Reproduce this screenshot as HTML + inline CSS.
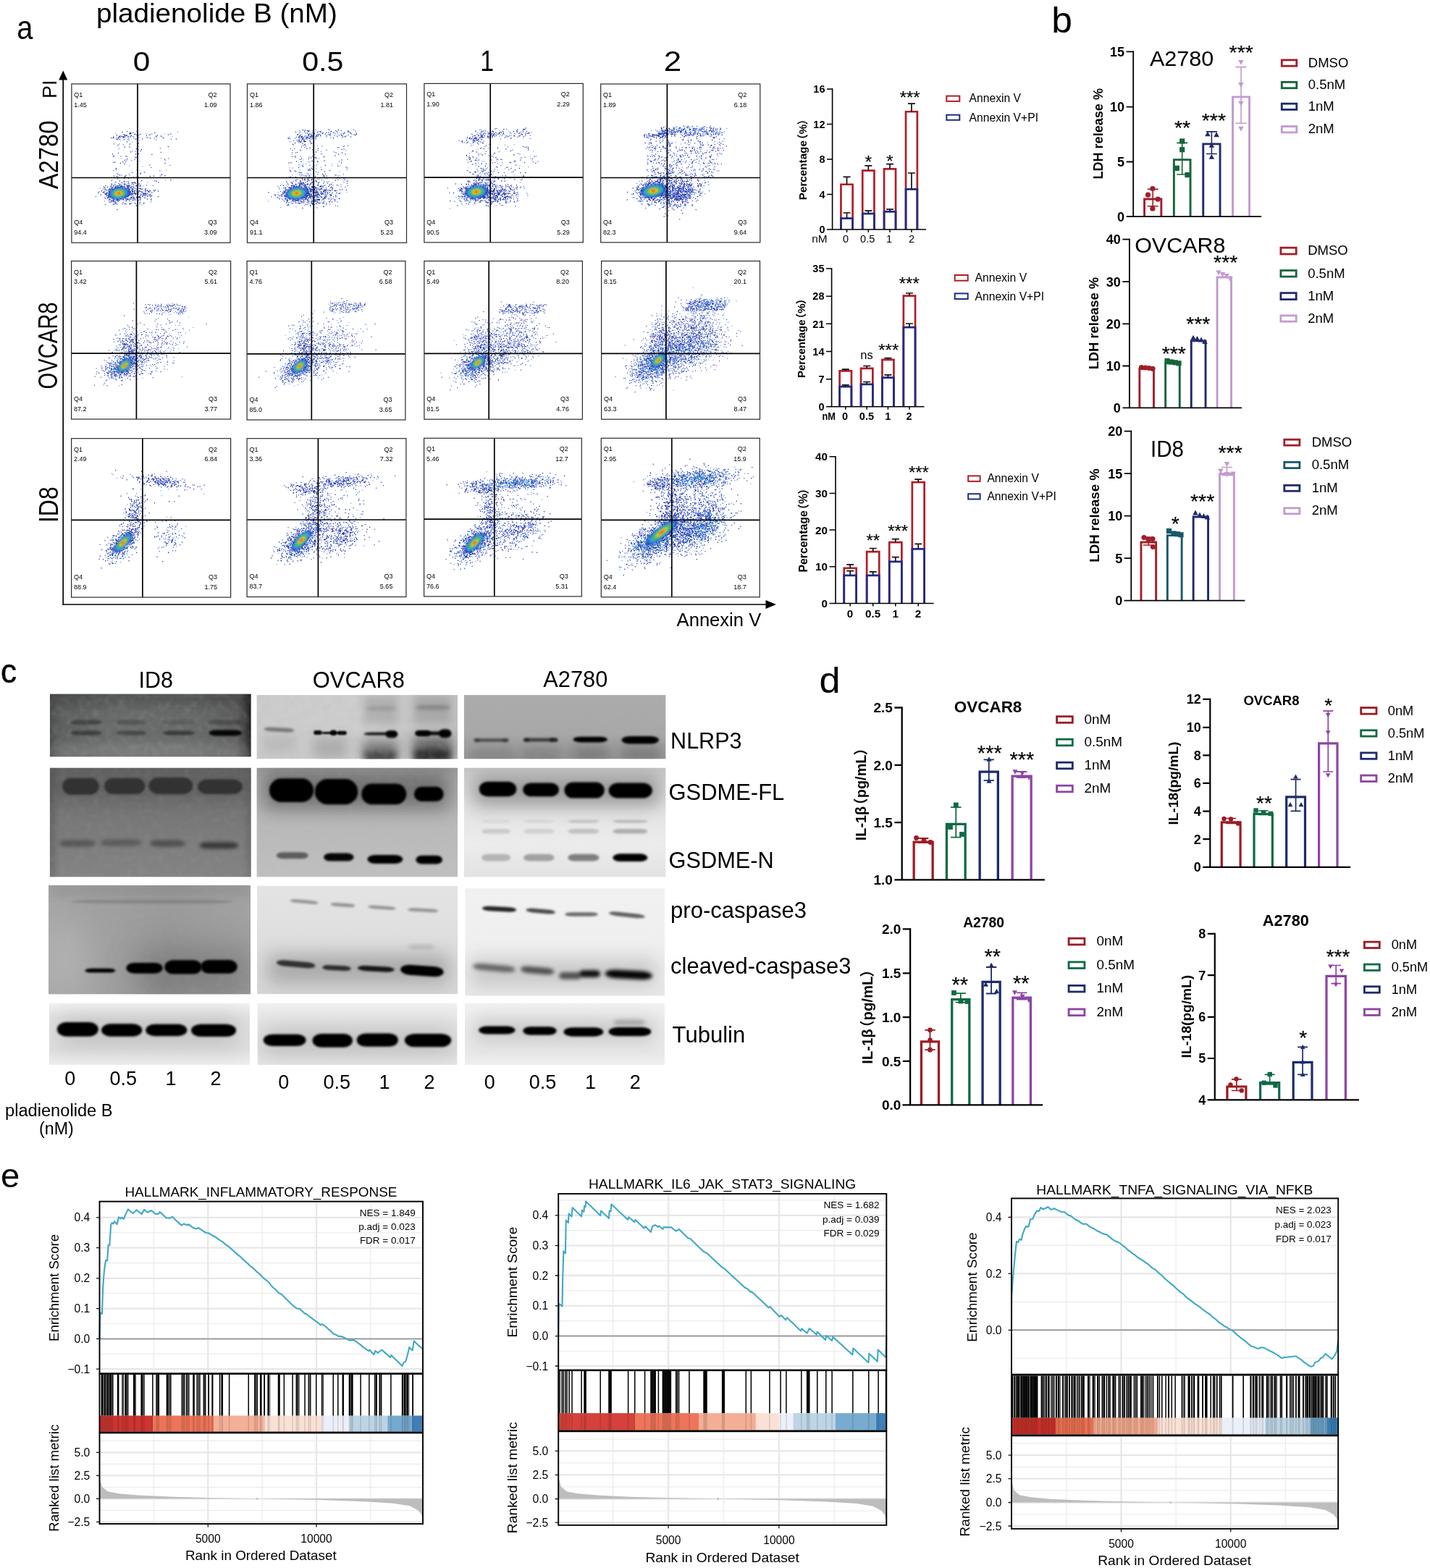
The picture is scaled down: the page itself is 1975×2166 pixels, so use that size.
<!DOCTYPE html>
<html lang="en"><head><meta charset="utf-8"><title>Figure</title>
<style>
html,body{margin:0;padding:0;background:#fff}
body{width:1975px;height:2166px;overflow:hidden}
svg{display:block}
text{font-family:"Liberation Sans","Noto Sans CJK SC",sans-serif;fill:#000}
</style></head><body>
<svg width="1975" height="2166" viewBox="0 0 1975 2166">
<defs>
<clipPath id="fc"><rect x="0" y="0" width="221" height="220"/></clipPath>
<filter id="fb" x="-30%" y="-30%" width="160%" height="160%"><feGaussianBlur stdDeviation="0.9"/></filter>
<filter id="b1" x="-50%" y="-100%" width="200%" height="300%"><feGaussianBlur stdDeviation="0.9"/></filter>
<filter id="b2" x="-50%" y="-100%" width="200%" height="300%"><feGaussianBlur stdDeviation="1.6"/></filter>
<filter id="b3" x="-50%" y="-100%" width="200%" height="300%"><feGaussianBlur stdDeviation="2.6"/></filter>
<filter id="b4" x="-50%" y="-100%" width="200%" height="300%"><feGaussianBlur stdDeviation="4"/></filter>
<filter id="b5" x="-50%" y="-100%" width="200%" height="300%"><feGaussianBlur stdDeviation="6"/></filter>
<filter id="b6" x="-50%" y="-100%" width="200%" height="300%"><feGaussianBlur stdDeviation="8"/></filter>
<filter id="b8" x="-50%" y="-100%" width="200%" height="300%"><feGaussianBlur stdDeviation="12"/></filter>
<filter id="b9" x="-50%" y="-100%" width="200%" height="300%"><feGaussianBlur stdDeviation="14"/></filter>
<filter id="b10" x="-50%" y="-100%" width="200%" height="300%"><feGaussianBlur stdDeviation="16"/></filter>
<filter id="b12" x="-50%" y="-100%" width="200%" height="300%"><feGaussianBlur stdDeviation="22"/></filter>
<filter id="nz" x="0" y="0" width="100%" height="100%"><feTurbulence type="fractalNoise" baseFrequency="0.11" numOctaves="3" seed="7" result="t"/><feColorMatrix type="matrix" values="0 0 0 0 0.45  0 0 0 0 0.45  0 0 0 0 0.45  2.2 0 0 0 -0.95"/><feGaussianBlur stdDeviation="1.2"/></filter>
<linearGradient id="g1" x1="0" y1="0" x2="1" y2="0"><stop offset="0" stop-color="#4c4c4c"/><stop offset="0.06" stop-color="#5e6060"/><stop offset="0.35" stop-color="#6a6c6c"/><stop offset="0.7" stop-color="#686a6a"/><stop offset="0.93" stop-color="#5e5e5e"/><stop offset="0.97" stop-color="#424242"/><stop offset="1" stop-color="#1e1e1e"/></linearGradient>
<clipPath id="c11"><rect x="68.8" y="958.5" width="278" height="87.1"/></clipPath>
<linearGradient id="g2" x1="0" y1="0" x2="0" y2="1"><stop offset="0" stop-color="#646464"/><stop offset="0.12" stop-color="#6c6c6c"/><stop offset="0.5" stop-color="#787878"/><stop offset="1" stop-color="#848484"/></linearGradient>
<clipPath id="c12"><rect x="68.8" y="1060.5" width="278" height="151.1"/></clipPath>
<linearGradient id="g3" x1="0" y1="0" x2="1" y2="0"><stop offset="0" stop-color="#a6a6a6"/><stop offset="0.3" stop-color="#a0a0a0"/><stop offset="0.6" stop-color="#9a9a9a"/><stop offset="1" stop-color="#a2a2a2"/></linearGradient>
<clipPath id="c13"><rect x="67" y="1222.7" width="279" height="150.9"/></clipPath>
<linearGradient id="g4" x1="0" y1="0" x2="0" y2="1"><stop offset="0" stop-color="#f2f2f2"/><stop offset="0.25" stop-color="#e2e2e2"/><stop offset="0.75" stop-color="#e0e0e0"/><stop offset="1" stop-color="#eeeeee"/></linearGradient>
<clipPath id="c14"><rect x="68" y="1385.5" width="277" height="85.5"/></clipPath>
<linearGradient id="g5" x1="0" y1="0" x2="1" y2="0"><stop offset="0" stop-color="#cccccc"/><stop offset="0.5" stop-color="#cecece"/><stop offset="1" stop-color="#c2c2c2"/></linearGradient>
<clipPath id="c21"><rect x="354.4" y="960.1" width="277.6" height="88.3"/></clipPath>
<linearGradient id="g6" x1="0" y1="0" x2="0" y2="1"><stop offset="0" stop-color="#9a9a9a"/><stop offset="0.1" stop-color="#a8a8a8"/><stop offset="0.45" stop-color="#b8b8b8"/><stop offset="1" stop-color="#c0c0c0"/></linearGradient>
<clipPath id="c22"><rect x="354.4" y="1060.5" width="277.6" height="151.1"/></clipPath>
<linearGradient id="g7" x1="0" y1="0" x2="0" y2="1"><stop offset="0" stop-color="#e4e4e4"/><stop offset="0.5" stop-color="#dedede"/><stop offset="1" stop-color="#d6d6d6"/></linearGradient>
<clipPath id="c23"><rect x="355" y="1223.4" width="277" height="149.9"/></clipPath>
<linearGradient id="g8" x1="0" y1="0" x2="0" y2="1"><stop offset="0" stop-color="#f0f0f0"/><stop offset="0.3" stop-color="#e4e4e4"/><stop offset="0.8" stop-color="#dedede"/><stop offset="1" stop-color="#e6e6e6"/></linearGradient>
<clipPath id="c24"><rect x="355.5" y="1385.5" width="276" height="85.7"/></clipPath>
<linearGradient id="g9" x1="0" y1="0" x2="0" y2="1"><stop offset="0" stop-color="#acacac"/><stop offset="0.6" stop-color="#a8a8a8"/><stop offset="1" stop-color="#989898"/></linearGradient>
<clipPath id="c31"><rect x="640.7" y="960.1" width="278.9" height="88.3"/></clipPath>
<linearGradient id="g10" x1="0" y1="0" x2="0" y2="1"><stop offset="0" stop-color="#c6c6c6"/><stop offset="0.12" stop-color="#d2d2d2"/><stop offset="0.4" stop-color="#e4e4e4"/><stop offset="0.7" stop-color="#ececec"/><stop offset="1" stop-color="#e2e2e2"/></linearGradient>
<clipPath id="c32"><rect x="640.7" y="1060.5" width="278.9" height="151.1"/></clipPath>
<linearGradient id="g11" x1="0" y1="0" x2="0" y2="1"><stop offset="0" stop-color="#f1f1f1"/><stop offset="0.5" stop-color="#efefef"/><stop offset="1" stop-color="#e8e8e8"/></linearGradient>
<clipPath id="c33"><rect x="642.2" y="1227.1" width="275.9" height="148.6"/></clipPath>
<linearGradient id="g12" x1="0" y1="0" x2="0" y2="1"><stop offset="0" stop-color="#f2f2f2"/><stop offset="0.3" stop-color="#ececec"/><stop offset="0.8" stop-color="#e8e8e8"/><stop offset="1" stop-color="#efefef"/></linearGradient>
<clipPath id="c34"><rect x="642" y="1385.5" width="276" height="85.7"/></clipPath>
</defs>
<rect width="1975" height="2166" fill="#fff"/>
<text transform="translate(23.21 53.94) scale(0.8586 1)" font-size="46.36">a</text>
<text transform="translate(1452.15 44.8) scale(1.0353 1)" font-size="49.8">b</text>
<text transform="translate(1.03 942.73) scale(0.9409 1)" font-size="46.91" stroke="#000" stroke-width="0.5">c</text>
<text transform="translate(1131.41 957.2) scale(1.0430 1)" font-size="50.07">d</text>
<text transform="translate(0.91 1640.43) scale(1.0108 1)" font-size="46.73">e</text>
<text transform="translate(132.99 31.34) scale(1.0596 1)" font-size="36.47">pladienolide B (nM)</text>
<text transform="translate(183.71 97.93) scale(1.1549 1)" font-size="36.62">0</text>
<text transform="translate(417.15 97.93) scale(1.1236 1)" font-size="36.62">0.5</text>
<text transform="translate(663.27 98) scale(0.8479 1)" font-size="39.86">1</text>
<text transform="translate(916.8 98) scale(1.1189 1)" font-size="39.29">2</text>
<path d="M87.2 835.8V108" stroke="#000" stroke-width="1.7" fill="none"/>
<path d="M87.2 97.5l6 13h-12z" fill="#000"/>
<path d="M86.4 835H1060" stroke="#000" stroke-width="1.7" fill="none"/>
<path d="M1072 835l-14.5 -6v12z" fill="#000"/>
<text font-size="27" text-anchor="middle" transform="translate(78.2 123.2) rotate(-90)">PI</text>
<text font-size="36" text-anchor="middle" textLength="94.7" lengthAdjust="spacingAndGlyphs" transform="translate(79.5 213.9) rotate(-90)">A2780</text>
<text font-size="36" text-anchor="middle" textLength="120.1" lengthAdjust="spacingAndGlyphs" transform="translate(78.5 477.5) rotate(-90)">OVCAR8</text>
<text font-size="36" text-anchor="middle" textLength="49.7" lengthAdjust="spacingAndGlyphs" transform="translate(79.5 697.2) rotate(-90)">ID8</text>
<text x="934.6" y="865.3" font-size="25" textLength="116.6" lengthAdjust="spacingAndGlyphs">Annexin V</text>
<g transform="translate(98.9 115.9)">
<rect x="0" y="0" width="219.1" height="219.4" fill="#fff"/>
<g clip-path="url(#fc)">
<path d="m89.5 66h0m57 .5h0m-85.5 2h0m30 0h0m11 0h0m-22 .5h0m48 0h0m-55.5 .5h0m-.5 .5h0m.5 0h0m34.5 .5h0m-39.5 1h0m-1 .5h0m50 0h0m-35.5 .5h0m43 0h0m15 0h0m-61.5 .5h0m-5 .5h0m30.5 0h0m22.5 .5h0m-50.5 .5h0m-16 .5h0m8 .5h0m10.5 1h0m10.5 0h0m5 1h0m-25.5 .5h0m16 2.5h0m9.5 5.5h0m-27.5 2.5h0m-.5 2h0m27.5 .5h0m-5 9h0m0 2h0m-18.5 1h0m54.5 0h0m-36 1h0m-12.5 .5h0m12 .5h0m42.5 .5h0m-35.5 1.5h0m-14 6.5h0m18 .5h0m-8 4.5h0m41 .5h0m-48 3h0m-20.5 1.5h0m16.5 .5h0m6.5 4h0m4.5 0h0m-31.5 1h0m5 2h0m28 2h0m38 .5h0m-24.5 2.5h0m-34.5 .5h0m-11.5 .5h0m34 1h0m-13 1.5h0m-14.5 .5h0m11.5 1h0m22.5 0h0m-30.5 .5h0m11 0h0m2.5 .5h0m-25.5 .5h0m3.5 0h0m1 .5h0m5 0h0m24 0h0m-28 .5h0m11.5 0h0m-34.5 .5h0m15 0h0m2.5 0h0m26 0h0m-23 .5h0m14 0h0m15.5 .5h0m-31 .5h0m0 .5h0m26 0h0m.5 1h0m-7 .5h0m11 0h0m-11.5 .5h0m8.5 0h0m12.5 0h0m-18 .5h0m0 .5h0m16.5 0h0m-18.5 1h0m-26 .5h0m25.5 0h0m21 .5h0m3 0h0m-19.5 .5h0m13 0h0m3 0h0m-15.5 .5h0m1 0h0m6.5 .5h0m16 0h0m-7 .5h0m9.5 0h0m-29 .5h0m5 0h0m3 0h0m-8.5 .5h0m24.5 .5h0m2 0h0m-53.5 .5h0m2 .5h0m-3 .5h0m40.5 0h0m9.5 0h0m-56 .5h0m45.5 0h0m4 0h0m-44 .5h0m20 0h0m19 0h0m-16 .5h0m12.5 0h0m-1 .5h0m-7 .5h0m-16 1h0m2.5 0h0m4 0h0m2.5 0h0m-12.5 .5h0m19.5 0h0m13 0h0m-35.5 .5h0m7.5 0h0m3 0h0m13 0h0m-20.5 .5h0m13.5 0h0m15.5 0h0m-42.5 1h0m35 1h0m-23 1.5h0m6 0h0m37 0h0m-25.5 1.5h0m6.5 0h0m-11 .5h0m26.5 .5h0" stroke="#6f8fe6" stroke-width="1.35" stroke-linecap="round" fill="none"/>
<path d="m76.5 65.5h0m8.5 2h0m-3.5 .5h0m1 0h0m-2 .5h0m30.5 .5h0m-24 .5h0m8.5 0h0m-23 .5h0m21.5 0h0m-4 .5h0m-14.5 .5h0m17 0h0m-16.5 .5h0m6 0h0m-8.5 .5h0m-4 .5h0m9 0h0m12 0h0m26.5 0h0m-39 .5h0m-11 .5h0m14 0h0m36 0h0m-25.5 .5h0m1 0h0m-30.5 .5h0m9.5 0h0m7.5 .5h0m7 0h0m28.5 0h0m-50.5 1h0m2 .5h0m71.5 0h0m-74.5 .5h0m54 0h0m-38 .5h0m-20.5 5.5h0m7.5 0h0m5.5 1h0m51 5h0m-38.5 4h0m4 0h0m35.5 1.5h0m-59 1h0m3.5 4.5h0m8.5 0h0m-19 .5h0m76.5 2.5h0m-60.5 2.5h0m2.5 .5h0m7 0h0m-8.5 2h0m61.5 4.5h0m-26 3h0m-52 4h0m64 .5h0m-38 2.5h0m40.5 2.5h0m-55.5 1h0m11 0h0m-21.5 1h0m64 0h0m-30.5 1.5h0m-28 .5h0m29 .5h0m-20 1h0m5.5 0h0m-15 .5h0m51.5 2.5h0m2.5 .5h0m-41.5 1h0m2.5 0h0m38 0h0m-31 1.5h0m2.5 0h0m4 0h0m-19 1h0m5 0h0m5 1h0m10.5 0h0m-33 .5h0m14 0h0m.5 0h0m-19.5 .5h0m11 0h0m37 .5h0m-36.5 .5h0m2.5 0h0m9 0h0m2 0h0m32 0h0m-52 .5h0m12.5 0h0m16 0h0m5.5 0h0m-21.5 .5h0m4 0h0m-5.5 .5h0m7 0h0m12.5 0h0m-26.5 .5h0m1 0h0m12 0h0m-10.5 .5h0m6.5 0h0m11.5 0h0m-39 .5h0m15.5 0h0m3 0h0m14 0h0m2.5 0h0m10 .5h0m-14 .5h0m.5 0h0m10.5 0h0m5 0h0m-49.5 .5h0m12.5 0h0m18 0h0m6.5 .5h0m15.5 0h0m-42 .5h0m3 0h0m22 0h0m22.5 0h0m-55.5 .5h0m5.5 0h0m28.5 0h0m-29.5 .5h0m3 .5h0m33 .5h0m22.5 0h0m-56.5 .5h0m.5 0h0m25.5 0h0m.5 0h0m1 0h0m4 0h0m9.5 0h0m.5 0h0m20.5 0h0m-76.5 .5h0m42.5 0h0m6 0h0m3.5 0h0m-38 .5h0m32 0h0m23 0h0m-23 .5h0m13.5 0h0m-10 .5h0m-35 .5h0m27 0h0m1.5 0h0m5 0h0m-40 .5h0m6 0h0m29 0h0m3.5 0h0m.5 0h0m15.5 0h0m2.5 0h0m-49.5 .5h0m29 0h0m1.5 0h0m6.5 0h0m8.5 0h0m1 0h0m-53.5 .5h0m33.5 0h0m8 0h0m4 0h0m11 0h0m5.5 0h0m-31.5 .5h0m4 0h0m10.5 0h0m5 0h0m.5 0h0m7 0h0m-27 .5h0m1.5 0h0m16.5 0h0m-10.5 .5h0m6.5 0h0m4.5 0h0m3.5 0h0m10.5 0h0m1.5 0h0m-61 .5h0m51.5 0h0m-49 .5h0m22.5 0h0m2.5 0h0m20.5 0h0m7 0h0m4.5 0h0m-76 .5h0m17.5 0h0m43 0h0m11 0h0m-53 .5h0m24.5 0h0m1.5 0h0m31.5 0h0m-58.5 .5h0m2.5 0h0m40 0h0m-38 .5h0m18 0h0m12 0h0m8.5 0h0m-25 1h0m17.5 0h0m-16 1h0m18 0h0m-35 .5h0m10.5 0h0m11 0h0m6.5 0h0m10 0h0m-28 .5h0m13 0h0m18.5 0h0m-36.5 .5h0m6 0h0m1 0h0m44.5 0h0m-44.5 .5h0m14.5 0h0m4 0h0m8.5 0h0m-17.5 .5h0m-14.5 .5h0m3.5 0h0m.5 .5h0m-5.5 .5h0m50.5 0h0m-38 .5h0m23 0h0m-11.5 1h0m4.5 0h0m-17.5 .5h0m5 .5h0m13.5 0h0m-42 1h0m13 0h0m3.5 0h0" stroke="#3450c8" stroke-width="1.4" stroke-linecap="round" fill="none"/>
<path d="m70 66.5h0m10.5 1h0m34.5 0h0m-33.5 1h0m-1 .5h0m56.5 0h0m-49 .5h0m3 .5h0m17.5 0h0m25 0h0m-59.5 .5h0m-11.5 .5h0m11.5 0h0m2.5 0h0m27 0h0m15 0h0m-36 .5h0m-8.5 .5h0m49.5 0h0m-54 .5h0m2.5 0h0m13 0h0m-27 .5h0m8 0h0m1 0h0m4 0h0m-6 .5h0m7.5 .5h0m32.5 0h0m-50 .5h0m2.5 0h0m69.5 0h0m-62.5 .5h0m44 0h0m-19.5 1h0m9 0h0m46.5 0h0m-82.5 .5h0m10.5 .5h0m4 3h0m16 2h0m-12 1h0m-16.5 1.5h0m69.5 2h0m-60 .5h0m6.5 0h0m9.5 2.5h0m7 1h0m-1 2h0m-14 1.5h0m11 2.5h0m-36 .5h0m32 0h0m22.5 .5h0m-52.5 1.5h0m16.5 1h0m14 1.5h0m-12 2h0m51.5 .5h0m-57.5 3.5h0m-11 .5h0m-2 .5h0m9.5 1h0m61.5 0h0m-56 1h0m35 1.5h0m-46.5 4.5h0m0 1.5h0m39 4h0m-5 1.5h0m-.5 .5h0m-31 .5h0m60.5 1h0m-58 .5h0m8.5 .5h0m54 0h0m-15.5 .5h0m-51 .5h0m46 0h0m-35 .5h0m.5 0h0m-1.5 1.5h0m0 .5h0m64.5 2.5h0m-81.5 1h0m41.5 0h0m-30.5 .5h0m6 .5h0m.5 .5h0m-12 .5h0m22.5 .5h0m3.5 0h0m33 0h0m-51 .5h0m10 .5h0m5.5 0h0m3.5 0h0m-23 .5h0m-9.5 .5h0m11.5 .5h0m5.5 0h0m.5 .5h0m12.5 0h0m-27 .5h0m10.5 .5h0m8 0h0m1.5 0h0m13.5 0h0m3.5 0h0m-48.5 .5h0m17.5 0h0m24.5 0h0m.5 0h0m-35 .5h0m3 0h0m5 0h0m.5 0h0m13.5 0h0m3 0h0m-9.5 .5h0m15 0h0m9.5 0h0m-50 .5h0m9.5 0h0m6.5 0h0m7 0h0m1 0h0m-19 .5h0m11 0h0m.5 0h0m3 0h0m.5 0h0m2.5 0h0m3.5 0h0m6.5 0h0m2 0h0m3 0h0m.5 0h0m-21 .5h0m2.5 0h0m3 0h0m2 0h0m-23.5 .5h0m10 0h0m.5 0h0m30 0h0m-26 .5h0m1 0h0m2.5 0h0m15.5 0h0m15.5 0h0m-41.5 .5h0m7.5 0h0m15.5 0h0m7.5 0h0m-5.5 .5h0m17.5 0h0m2 0h0m4.5 0h0m.5 0h0m-56 .5h0m5.5 0h0m3.5 0h0m29.5 0h0m-31.5 .5h0m26 0h0m4 0h0m-35 .5h0m8 0h0m.5 0h0m23 0h0m10.5 0h0m25 0h0m-11 .5h0m9 0h0m-72 .5h0m37.5 0h0m4.5 0h0m4 0h0m6 0h0m9 0h0m5.5 0h0m-56.5 .5h0m27.5 0h0m4.5 0h0m18 0h0m4 0h0m14 0h0m-38 .5h0m3 0h0m11 0h0m11 0h0m-60.5 .5h0m35.5 0h0m-38 .5h0m1 0h0m34.5 0h0m18.5 0h0m-16.5 .5h0m6 0h0m5.5 0h0m18.5 0h0m-74 .5h0m12.5 0h0m2.5 0h0m27.5 0h0m11 0h0m11.5 0h0m-54 .5h0m34.5 0h0m4.5 0h0m12.5 0h0m5.5 0h0m-27 .5h0m10 0h0m.5 0h0m12.5 0h0m-54 .5h0m1.5 0h0m32 0h0m.5 0h0m3 0h0m5 0h0m2 0h0m-43 .5h0m.5 0h0m3.5 0h0m-11.5 .5h0m12.5 0h0m27.5 0h0m19 0h0m2 0h0m-22 .5h0m3 0h0m19 0h0m-51 .5h0m28 0h0m29 0h0m-59.5 .5h0m6 0h0m21.5 0h0m2.5 .5h0m-26.5 .5h0m22.5 0h0m.5 0h0m19 0h0m4.5 0h0m21.5 0h0m-44 .5h0m8.5 0h0m2 0h0m8.5 0h0m-12 .5h0m7 0h0m3 0h0m-43 .5h0m.5 0h0m23 0h0m21.5 0h0m-37.5 .5h0m24.5 0h0m19.5 0h0m-54.5 .5h0m11.5 0h0m16.5 0h0m8.5 0h0m.5 0h0m2.5 0h0m9 0h0m-32 .5h0m4.5 0h0m9 0h0m14.5 0h0m-39 .5h0m10 0h0m14.5 0h0m3.5 0h0m24.5 0h0m5.5 0h0m-46.5 .5h0m8 0h0m6 0h0m-20 .5h0m6 0h0m21.5 0h0m2 0h0m7.5 0h0m-42.5 .5h0m10.5 .5h0m-8 .5h0m2.5 0h0m18.5 0h0m-20 .5h0m2 0h0m1 .5h0m-6.5 .5h0m2 .5h0m7 .5h0m-1 .5h0m1.5 .5h0m32.5 0h0m5.5 0h0m-26 .5h0m6.5 0h0m1 0h0m-23.5 1h0m32 1.5h0m-26.5 5.5h0" stroke="#1a2a9e" stroke-width="1.45" stroke-linecap="round" fill="none"/>
<path d="m78.5 134.5h0m-22.5 7.5h0m22 1.5h0m-19 1h0m23 .5h0m-3.5 2.5h0m13.5 1h0m-43.5 .5h0m-.5 2h0m33 0h0m-10 7h0m-22 .5h0m20.5 0h0m-11 1h0m3.5 0h0" stroke="#3aa6dc" stroke-width="1.4" stroke-linecap="round" fill="none"/>
<g transform="translate(65.3 151.1) rotate(-8)" filter="url(#fb)">
<ellipse rx="15" ry="9" fill="#2236b4" opacity="0.8"/>
<ellipse rx="12.6" ry="7.56" fill="#2a6fd6" opacity="1"/>
<ellipse rx="10.8" ry="6.48" fill="#2fb3d8" opacity="1"/>
<ellipse rx="9" ry="5.4" fill="#3fb45a" opacity="1"/>
<ellipse rx="6.3" ry="3.78" fill="#9fce3a" opacity="1"/>
<ellipse rx="4.5" ry="2.7" fill="#f0c020" opacity="1"/>
<ellipse rx="3" ry="1.8" fill="#f07a1c" opacity="1"/>
<ellipse rx="1.8" ry="1.08" fill="#e5301c" opacity="1"/>
</g>
</g>
<line x1="91.1" y1="0" x2="91.1" y2="219.4" stroke="#000" stroke-width="1.7"/>
<line x1="0" y1="129.6" x2="219.1" y2="129.6" stroke="#000" stroke-width="1.7"/>
<rect x="0" y="0" width="219.1" height="219.4" fill="none" stroke="#2a2a2a" stroke-width="1.2"/>
<g font-size="9.0" fill="#222">
<text x="3.4" y="18">Q1</text><text x="3.4" y="31.8">1.45</text>
<text x="200.6" y="18" text-anchor="end">Q2</text><text x="200.6" y="31.8" text-anchor="end">1.09</text>
<text x="3.4" y="194.2">Q4</text><text x="3.4" y="208.2">94.4</text>
<text x="200.6" y="194.2" text-anchor="end">Q3</text><text x="200.6" y="208.2" text-anchor="end">3.09</text>
</g>
</g>
<g transform="translate(341.5 115.9)">
<rect x="0" y="0" width="220" height="219.4" fill="#fff"/>
<g clip-path="url(#fc)">
<path d="m90 65h0m-16 1.5h0m28 0h0m-5 .5h0m21.5 0h0m-13.5 .5h0m29.5 0h0m-1.5 .5h0m-49.5 .5h0m47 0h0m-59 .5h0m4.5 0h0m22.5 .5h0m46 .5h0m-20 .5h0m-40 .5h0m14 0h0m-18 .5h0m7.5 0h0m-8 .5h0m1.5 0h0m-2.5 .5h0m15 0h0m-18 1h0m2.5 0h0m5.5 0h0m-6 .5h0m3 0h0m3 .5h0m2 .5h0m-12.5 1h0m6.5 0h0m7 0h0m-8 .5h0m4 0h0m-5.5 2.5h0m13.5 3h0m-11 1.5h0m17 1.5h0m-22 .5h0m6.5 1.5h0m44.5 .5h0m1 .5h0m9 4h0m-34 1.5h0m-40 4h0m31 0h0m-3.5 2.5h0m5.5 1h0m10 0h0m-6 2h0m-14.5 .5h0m-12.5 .5h0m5.5 1h0m7 2.5h0m1.5 .5h0m31.5 2h0m-40 .5h0m4 0h0m43.5 .5h0m-49 1h0m41 1h0m-44.5 .5h0m56 0h0m-38.5 .5h0m11.5 1h0m-43 1h0m4.5 0h0m32 1h0m-22.5 1.5h0m-5 2h0m60 .5h0m-43 3h0m3.5 1h0m-4.5 .5h0m-21 .5h0m13.5 0h0m45 0h0m-43 .5h0m47.5 0h0m2 0h0m-48.5 .5h0m26 .5h0m-47 1h0m63 .5h0m-55.5 .5h0m25.5 1.5h0m6 0h0m-28 .5h0m66.5 1h0m-3.5 .5h0m2.5 0h0m4.5 0h0m-45.5 .5h0m-21.5 .5h0m2 0h0m-14.5 1.5h0m-5 .5h0m17.5 .5h0m4.5 0h0m41.5 0h0m-51.5 1h0m-18.5 1h0m34.5 0h0m-19.5 .5h0m5 0h0m.5 0h0m13.5 0h0m31.5 0h0m-56.5 .5h0m15 0h0m15 0h0m20.5 0h0m-53.5 .5h0m20 .5h0m39.5 0h0m-27 .5h0m-5.5 .5h0m-25.5 .5h0m5.5 0h0m11.5 0h0m11 0h0m5.5 0h0m-29 1h0m1.5 0h0m8.5 0h0m6.5 0h0m18 0h0m-30.5 .5h0m7.5 0h0m23.5 0h0m-31 1h0m22 0h0m1.5 0h0m-9 .5h0m.5 0h0m38 0h0m-72.5 .5h0m13 0h0m20.5 0h0m-21.5 .5h0m23 0h0m5.5 0h0m19.5 0h0m4.5 0h0m-56.5 .5h0m61 0h0m-1.5 .5h0m-30 .5h0m12.5 0h0m2 0h0m4 0h0m5.5 0h0m-13 .5h0m3.5 0h0m28 0h0m-75 .5h0m44 0h0m2 0h0m13.5 0h0m-11.5 .5h0m-5.5 .5h0m45.5 0h0m-94.5 .5h0m54 .5h0m4.5 .5h0m2.5 0h0m.5 0h0m13 0h0m-67.5 .5h0m42.5 0h0m9.5 0h0m-21 .5h0m14 0h0m21 0h0m-36 .5h0m22.5 0h0m.5 0h0m.5 0h0m2 0h0m-25 .5h0m41.5 0h0m-74.5 .5h0m5 0h0m-4 .5h0m37.5 0h0m7.5 0h0m.5 0h0m16 .5h0m13.5 0h0m-30.5 .5h0m15 0h0m.5 0h0m-18 .5h0m-48 .5h0m10 0h0m24 0h0m4 0h0m-26 .5h0m39.5 0h0m-53 .5h0m16.5 0h0m33.5 0h0m-46 .5h0m12 0h0m19 0h0m51 0h0m-66 .5h0m35.5 0h0m-37 1h0m4.5 .5h0m15 0h0m9.5 .5h0m6.5 0h0m-11 .5h0m-12.5 .5h0m6.5 0h0m5.5 0h0m-15.5 .5h0m22 0h0m2 0h0m-63 .5h0m27 0h0m65.5 .5h0m-55 .5h0m4.5 0h0m26.5 0h0m-40 .5h0m45 .5h0m-38.5 .5h0m36.5 0h0m-16 .5h0m-.5 .5h0m2.5 0h0m-7.5 2.5h0m12 0h0m-23.5 2h0m-21.5 .5h0" stroke="#6f8fe6" stroke-width="1.35" stroke-linecap="round" fill="none"/>
<path d="m112 63h0m-17.5 .5h0m19 0h0m33.5 0h0m-68.5 .5h0m43.5 .5h0m8 0h0m9 0h0m-66.5 .5h0m11 0h0m66 0h0m-25.5 .5h0m-26 .5h0m3 0h0m14.5 0h0m23.5 0h0m-42 .5h0m4.5 0h0m40 0h0m-69.5 .5h0m17.5 .5h0m3 0h0m11.5 0h0m20.5 0h0m18 0h0m-61.5 .5h0m2 0h0m20.5 .5h0m-10.5 .5h0m28.5 0h0m-34 .5h0m10.5 0h0m2 0h0m12 0h0m17.5 0h0m21.5 0h0m-81 .5h0m19.5 0h0m60.5 .5h0m-65.5 .5h0m30 0h0m12.5 0h0m12.5 0h0m-67 .5h0m18.5 0h0m29.5 0h0m-35 .5h0m9.5 0h0m6.5 0h0m35.5 0h0m-63 .5h0m22.5 0h0m-13 .5h0m3.5 0h0m1 0h0m21.5 0h0m23 0h0m2.5 0h0m-76.5 .5h0m9.5 0h0m13.5 0h0m6.5 0h0m.5 0h0m-13.5 .5h0m1 0h0m39.5 0h0m15.5 0h0m-74.5 .5h0m25 0h0m2.5 0h0m35 0h0m-52.5 .5h0m15.5 0h0m4.5 0h0m3.5 0h0m29 0h0m-42.5 .5h0m5.5 0h0m8.5 0h0m-31.5 .5h0m29.5 0h0m-13 1h0m-6.5 .5h0m2.5 0h0m3.5 .5h0m-11 .5h0m5 1h0m-10 .5h0m15 0h0m.5 0h0m-3 1h0m17.5 1h0m-26 1h0m14 2h0m3.5 0h0m58.5 .5h0m-35.5 .5h0m30.5 0h0m-1.5 .5h0m-57.5 1h0m4.5 0h0m45 .5h0m-59 1h0m-5.5 .5h0m30 1.5h0m-27.5 .5h0m47 0h0m-12 .5h0m22.5 2h0m-51 .5h0m23 0h0m-30 .5h0m5 0h0m59 2h0m.5 .5h0m-64.5 3h0m12 0h0m11.5 .5h0m-18.5 .5h0m25 .5h0m-7 1.5h0m53.5 .5h0m-65 .5h0m23.5 2.5h0m30 0h0m-55.5 4.5h0m24.5 .5h0m-9.5 .5h0m-10 .5h0m62 3h0m-52.5 1h0m-2 1h0m6 0h0m47.5 0h0m-72 2h0m1 1h0m28.5 .5h0m3 1h0m-15.5 1h0m21.5 .5h0m4 .5h0m-32.5 .5h0m16.5 0h0m5.5 0h0m35.5 0h0m-60.5 .5h0m8.5 1h0m4.5 0h0m-11 .5h0m35.5 0h0m-28.5 .5h0m-14.5 1h0m18.5 0h0m24.5 2h0m14 .5h0m3.5 0h0m7 0h0m-45 .5h0m10 0h0m-10 .5h0m-21 .5h0m34.5 0h0m22.5 0h0m-46.5 .5h0m5.5 0h0m4 0h0m-5 1h0m-20 .5h0m4 0h0m27.5 0h0m-5.5 .5h0m16.5 0h0m6.5 0h0m-22.5 .5h0m6 0h0m14 0h0m23.5 .5h0m-72.5 .5h0m17 .5h0m-15.5 .5h0m11 0h0m37.5 0h0m27 0h0m-62 .5h0m2.5 0h0m5.5 0h0m3 0h0m-13.5 .5h0m5 .5h0m5 0h0m7.5 0h0m23 0h0m15.5 0h0m-63.5 .5h0m6 0h0m8 0h0m6 0h0m5 0h0m6 0h0m27 0h0m-60.5 .5h0m34.5 0h0m20.5 0h0m-72.5 .5h0m17.5 0h0m43 0h0m19 0h0m13 0h0m-74 .5h0m4 0h0m3 0h0m7 0h0m1 0h0m23 0h0m-60 .5h0m25.5 0h0m3 0h0m1.5 0h0m7.5 0h0m10 0h0m1 0h0m.5 0h0m-27.5 .5h0m36 0h0m29.5 0h0m-61 .5h0m11.5 0h0m1 0h0m3.5 0h0m17 0h0m3 0h0m11.5 0h0m19.5 0h0m-83.5 .5h0m6.5 0h0m6 0h0m24.5 0h0m-25.5 .5h0m3.5 0h0m15 0h0m21 0h0m6 0h0m6 0h0m-71 .5h0m6 0h0m9 0h0m4.5 0h0m31.5 0h0m2 0h0m-37 .5h0m.5 0h0m27.5 0h0m10.5 0h0m-21.5 .5h0m2.5 0h0m4 .5h0m3.5 0h0m1 0h0m11.5 0h0m-45 .5h0m28 0h0m6.5 0h0m8.5 0h0m-42.5 .5h0m44.5 0h0m7.5 0h0m.5 0h0m-23.5 .5h0m3 0h0m1 0h0m19.5 0h0m14 0h0m-64 .5h0m38.5 0h0m10 0h0m17 0h0m-33.5 .5h0m32 0h0m-75.5 .5h0m4.5 0h0m2 0h0m50 0h0m-21.5 .5h0m2.5 0h0m5.5 0h0m16 0h0m-22.5 .5h0m16 0h0m-11 .5h0m4 0h0m1.5 0h0m15 0h0m2.5 0h0m7 0h0m-23.5 .5h0m2.5 0h0m-41.5 .5h0m48.5 0h0m-21.5 .5h0m15.5 0h0m6.5 0h0m-16 .5h0m.5 0h0m6.5 0h0m-45.5 .5h0m32.5 0h0m4.5 0h0m2 0h0m26 0h0m-72 .5h0m13 0h0m26.5 .5h0m1 0h0m2.5 0h0m3 0h0m26 0h0m1 0h0m1 0h0m-62.5 .5h0m25.5 0h0m16.5 0h0m13 0h0m7 0h0m-69.5 .5h0m35 0h0m2.5 0h0m38 0h0m-71 .5h0m30 0h0m8 0h0m3 0h0m-40 .5h0m1 0h0m48.5 0h0m.5 0h0m-68.5 .5h0m44 0h0m4.5 0h0m13.5 0h0m19 0h0m4.5 0h0m-21 .5h0m1 0h0m3.5 0h0m1 0h0m4 0h0m-21.5 .5h0m16 0h0m-59.5 .5h0m10 0h0m24 0h0m2 0h0m1.5 0h0m2 0h0m2 0h0m-26 .5h0m3 0h0m10.5 0h0m4.5 0h0m32 0h0m-45 .5h0m1.5 0h0m3.5 0h0m2 0h0m1 0h0m34 0h0m2 0h0m6.5 0h0m5 0h0m-70.5 .5h0m7 0h0m8 0h0m12.5 0h0m5.5 0h0m11.5 0h0m19.5 0h0m-48 .5h0m1 0h0m6 0h0m3.5 0h0m16.5 0h0m3.5 0h0m2 0h0m-33 .5h0m3 0h0m33.5 0h0m-50.5 .5h0m17 0h0m3.5 0h0m33 0h0m-33.5 .5h0m20 0h0m25.5 0h0m-52 .5h0m9.5 .5h0m13 0h0m9 0h0m-16 .5h0m11 0h0m-28 .5h0m63 0h0m-49 .5h0m-8 .5h0m30 0h0m-30.5 .5h0m3 0h0m22 0h0m8.5 0h0m5 0h0m-33 .5h0m16.5 0h0m6.5 0h0m-5 .5h0m23.5 .5h0m-56.5 1h0m25 0h0m26.5 0h0m13 1h0m-34.5 1h0m37.5 0h0m-19.5 .5h0m-9 1.5h0" stroke="#3450c8" stroke-width="1.4" stroke-linecap="round" fill="none"/>
<path d="m76.5 63.5h0m49.5 0h0m-45.5 .5h0m3 .5h0m2 .5h0m-1 .5h0m16 0h0m15.5 0h0m8 0h0m-45 .5h0m61 0h0m-73 .5h0m42.5 .5h0m3 0h0m7 .5h0m15 0h0m16 .5h0m-35.5 .5h0m28.5 0h0m-57 .5h0m21.5 0h0m25 0h0m-48 .5h0m-16 .5h0m27.5 0h0m17.5 0h0m33.5 0h0m-73.5 .5h0m17.5 0h0m22.5 0h0m35.5 0h0m-65 .5h0m4 0h0m12.5 0h0m8.5 0h0m20.5 0h0m-41 .5h0m3 0h0m3.5 0h0m2.5 0h0m33.5 0h0m-59.5 .5h0m18.5 0h0m-14.5 .5h0m48.5 0h0m10.5 0h0m-63.5 .5h0m3 0h0m1 0h0m11.5 0h0m2.5 0h0m53.5 0h0m-72 1h0m12 0h0m11.5 0h0m-22 .5h0m4 .5h0m1 0h0m-20.5 .5h0m25 0h0m3.5 0h0m9 .5h0m-18 .5h0m-5 .5h0m6.5 .5h0m1 1h0m7.5 0h0m-15.5 .5h0m1 0h0m2 .5h0m4.5 0h0m1 0h0m1 0h0m6.5 .5h0m-13.5 .5h0m-7.5 1h0m10.5 .5h0m11.5 0h0m-24.5 2h0m15.5 0h0m7.5 4.5h0m-4 1h0m15.5 0h0m35.5 .5h0m-3 .5h0m-57 1h0m17.5 2.5h0m4 0h0m27.5 1h0m8.5 0h0m-28.5 1.5h0m33 .5h0m-14 2h0m-30.5 .5h0m-25 .5h0m40.5 .5h0m-13 1h0m-5.5 .5h0m7 .5h0m-20 .5h0m55.5 2h0m-24 1h0m-17 .5h0m-21.5 .5h0m6.5 .5h0m23 0h0m-37 1h0m-3 .5h0m72.5 0h0m-22 3.5h0m17.5 1h0m-48.5 .5h0m59.5 1h0m-65.5 .5h0m17.5 1h0m2.5 .5h0m11.5 1.5h0m-16.5 .5h0m1.5 0h0m-28.5 .5h0m25.5 0h0m29.5 0h0m-54 1.5h0m47 0h0m-35 1h0m2 .5h0m.5 0h0m30 3h0m18 .5h0m-36.5 .5h0m20 0h0m-12 1.5h0m12.5 0h0m-46.5 .5h0m27.5 .5h0m38 0h0m7.5 1h0m-57 .5h0m8 .5h0m-5 .5h0m4.5 0h0m.5 0h0m5 .5h0m-12.5 .5h0m3.5 0h0m-13.5 .5h0m55.5 0h0m-36.5 .5h0m9.5 0h0m-21.5 .5h0m64.5 .5h0m-83.5 .5h0m28.5 0h0m-9 .5h0m3 .5h0m3.5 0h0m18.5 0h0m-37 .5h0m26.5 0h0m2 0h0m-20 .5h0m2 0h0m2.5 0h0m23 0h0m7.5 0h0m-31.5 .5h0m3.5 0h0m-21.5 .5h0m32 0h0m-13 .5h0m8 0h0m.5 0h0m7.5 0h0m25 0h0m-49 .5h0m5 0h0m4 0h0m4.5 0h0m-8 .5h0m.5 0h0m25 0h0m-20.5 .5h0m3 0h0m-30.5 .5h0m11 0h0m1 0h0m10 0h0m7 0h0m-14 .5h0m37 0h0m2.5 0h0m-40.5 .5h0m8 0h0m3 0h0m25.5 0h0m.5 0h0m11.5 0h0m-47.5 .5h0m.5 0h0m1.5 0h0m15 0h0m7.5 0h0m1 0h0m2.5 0h0m-24 .5h0m10.5 0h0m37 0h0m-59 .5h0m4 0h0m10 0h0m14 0h0m4.5 0h0m1 0h0m3 0h0m1 0h0m-42 .5h0m5.5 0h0m16 0h0m6.5 .5h0m11.5 0h0m25 0h0m.5 0h0m-58 .5h0m18 0h0m4.5 0h0m.5 0h0m2.5 0h0m17.5 0h0m-17 .5h0m7.5 0h0m7.5 0h0m-40.5 .5h0m19.5 0h0m9.5 0h0m.5 0h0m5.5 0h0m6.5 0h0m7 0h0m-55.5 .5h0m28.5 0h0m1 0h0m10 0h0m13.5 0h0m21.5 0h0m3 0h0m-72.5 .5h0m33 0h0m1 0h0m14 0h0m11 0h0m19.5 0h0m-84 .5h0m31 0h0m3 0h0m1.5 0h0m2 0h0m18 0h0m2 0h0m3 0h0m-32.5 .5h0m14 0h0m20 0h0m6 0h0m-69.5 .5h0m32.5 0h0m21.5 0h0m2 0h0m-51 .5h0m28.5 0h0m2 0h0m1.5 0h0m2.5 .5h0m11 0h0m4 0h0m-54 .5h0m32.5 0h0m7 0h0m3 0h0m1 0h0m1.5 0h0m-67.5 .5h0m21 0h0m1.5 0h0m2.5 0h0m28.5 0h0m9.5 0h0m18.5 0h0m2.5 0h0m-64.5 .5h0m2 0h0m33 0h0m.5 0h0m6 0h0m4.5 0h0m8 0h0m5 0h0m15.5 0h0m-38.5 .5h0m1 0h0m15 0h0m2.5 0h0m24.5 0h0m-47 .5h0m2.5 0h0m14.5 0h0m28.5 0h0m-42 .5h0m1 0h0m20.5 0h0m5 0h0m-63.5 .5h0m41 0h0m8.5 0h0m2 0h0m4 0h0m5.5 0h0m-70.5 .5h0m48.5 0h0m8 0h0m3 0h0m-43.5 .5h0m41.5 0h0m2 0h0m-58.5 .5h0m12.5 0h0m28.5 0h0m4 0h0m2 0h0m8.5 0h0m5 0h0m.5 0h0m15.5 0h0m-71 .5h0m35 0h0m.5 0h0m2 0h0m4 0h0m3 0h0m-41 .5h0m35 0h0m3.5 0h0m.5 0h0m1 0h0m2.5 0h0m3 0h0m3 0h0m11 0h0m-53 .5h0m31.5 0h0m-30 .5h0m25 0h0m1 0h0m6 0h0m2.5 0h0m6 0h0m.5 0h0m12 0h0m13.5 0h0m-46 .5h0m2 0h0m1 0h0m27.5 0h0m-32 .5h0m2.5 0h0m9.5 0h0m6 0h0m13.5 0h0m-49 .5h0m23 0h0m4 0h0m.5 0h0m5.5 0h0m16 0h0m-31 .5h0m5 0h0m7.5 0h0m3.5 0h0m-39 .5h0m5.5 0h0m5 0h0m28.5 0h0m35.5 0h0m-82.5 .5h0m15 0h0m6.5 0h0m6.5 0h0m9 0h0m17.5 0h0m5.5 0h0m1 0h0m10.5 0h0m-63.5 .5h0m25 0h0m5.5 0h0m15 0h0m1.5 0h0m21.5 0h0m-66.5 .5h0m15.5 0h0m10 0h0m4 0h0m12.5 0h0m3.5 0h0m-44 .5h0m12 0h0m1 0h0m24 0h0m4 0h0m2 0h0m-36.5 .5h0m3.5 0h0m2.5 0h0m25.5 0h0m27 0h0m-66 .5h0m11 0h0m4.5 0h0m3.5 0h0m3.5 0h0m6 0h0m-32 .5h0m12.5 0h0m2 0h0m29.5 0h0m10.5 0h0m-51 .5h0m20 0h0m.5 0h0m13 0h0m2.5 0h0m2.5 0h0m20 0h0m-28.5 .5h0m12 0h0m17 0h0m3 0h0m-34 .5h0m-29 .5h0m21.5 0h0m2.5 0h0m10.5 0h0m17 0h0m-34 .5h0m17.5 0h0m10 0h0m-37 .5h0m11 0h0m17.5 0h0m14 0h0m5 0h0m-14.5 .5h0m-5 .5h0m1 0h0m-10.5 .5h0m12 0h0m-35.5 .5h0m-2 .5h0m32 0h0m18.5 2h0m-29 2h0" stroke="#1a2a9e" stroke-width="1.45" stroke-linecap="round" fill="none"/>
<path d="m71.5 141h0m-1 1h0m15 .5h0m-17.5 .5h0m2.5 0h0m9.5 .5h0m-28 1h0m25.5 .5h0m-25 .5h0m.5 .5h0m3 .5h0m26 .5h0m7.5 .5h0m-4 1h0m-33.5 2h0m30 0h0m-1.5 1.5h0m-1 1.5h0m2 0h0m7 0h0m-36 1h0m2.5 1h0m23 .5h0m2 .5h0m-19.5 1.5h0m16.5 0h0m-4 1h0m-14 1h0m8 1h0m8.5 2h0m-16.5 .5h0m-2 1.5h0m-1 2.5h0" stroke="#3aa6dc" stroke-width="1.4" stroke-linecap="round" fill="none"/>
<g transform="translate(68.2 151.1) rotate(-8)" filter="url(#fb)">
<ellipse rx="16" ry="9" fill="#2236b4" opacity="0.8"/>
<ellipse rx="13.44" ry="7.56" fill="#2a6fd6" opacity="1"/>
<ellipse rx="11.52" ry="6.48" fill="#2fb3d8" opacity="1"/>
<ellipse rx="9.6" ry="5.4" fill="#3fb45a" opacity="1"/>
<ellipse rx="6.72" ry="3.78" fill="#9fce3a" opacity="1"/>
<ellipse rx="4.8" ry="2.7" fill="#f0c020" opacity="1"/>
<ellipse rx="3.2" ry="1.8" fill="#f07a1c" opacity="1"/>
<ellipse rx="1.92" ry="1.08" fill="#e5301c" opacity="1"/>
</g>
</g>
<line x1="91.7" y1="0" x2="91.7" y2="219.4" stroke="#000" stroke-width="1.7"/>
<line x1="0" y1="129.6" x2="220" y2="129.6" stroke="#000" stroke-width="1.7"/>
<rect x="0" y="0" width="220" height="219.4" fill="none" stroke="#2a2a2a" stroke-width="1.2"/>
<g font-size="9.0" fill="#222">
<text x="3.4" y="18">Q1</text><text x="3.4" y="31.8">1.86</text>
<text x="201.5" y="18" text-anchor="end">Q2</text><text x="201.5" y="31.8" text-anchor="end">1.81</text>
<text x="3.4" y="194.2">Q4</text><text x="3.4" y="208.2">91.1</text>
<text x="201.5" y="194.2" text-anchor="end">Q3</text><text x="201.5" y="208.2" text-anchor="end">5.23</text>
</g>
</g>
<g transform="translate(585.9 115.4)">
<rect x="0" y="0" width="219.4" height="219.5" fill="#fff"/>
<g clip-path="url(#fc)">
<path d="m76.5 64h0m60.5 0h0m-33 .5h0m23.5 0h0m8.5 .5h0m-51 .5h0m-13.5 1h0m45.5 0h0m-43.5 1h0m75 0h0m-66 .5h0m-6.5 .5h0m27.5 0h0m27.5 0h0m-47 .5h0m37 0h0m-40 .5h0m50 0h0m-20.5 1h0m-35.5 .5h0m30 0h0m-37.5 1h0m53 0h0m10.5 0h0m-41 1h0m14 0h0m-23.5 .5h0m6.5 .5h0m-2 .5h0m29.5 0h0m-38 .5h0m1 0h0m13 0h0m46 .5h0m-58 2h0m-11.5 1.5h0m-15 1h0m8.5 0h0m9 1h0m-5.5 2h0m60.5 1.5h0m-56.5 .5h0m43.5 0h0m-22.5 4h0m-11 1h0m-3.5 .5h0m-2.5 1h0m32 2h0m47 0h0m-85 1h0m37 0h0m-40.5 1.5h0m12 .5h0m49 2h0m-48.5 1.5h0m71.5 0h0m-84.5 3h0m85 .5h0m-83.5 .5h0m-4.5 1.5h0m21 1.5h0m20.5 0h0m-18 .5h0m-8 2h0m11.5 1.5h0m46 2.5h0m12 1.5h0m-83 1.5h0m50.5 1h0m-32 .5h0m21.5 2h0m-21.5 1.5h0m-17.5 .5h0m9.5 0h0m23.5 .5h0m-9 .5h0m-9.5 1.5h0m-7.5 1.5h0m9.5 .5h0m16 0h0m29.5 0h0m10 0h0m-4 2.5h0m-42.5 .5h0m-25.5 .5h0m46 .5h0m-26 .5h0m13 0h0m24 0h0m-41.5 .5h0m58 .5h0m-65 1h0m9.5 0h0m-7.5 .5h0m11.5 0h0m-9 .5h0m11 0h0m8.5 0h0m12 0h0m-38.5 .5h0m-5 .5h0m9.5 0h0m-8.5 1h0m8 .5h0m1.5 0h0m22 0h0m37 0h0m-73.5 1h0m19 0h0m7.5 0h0m-15.5 .5h0m2.5 0h0m12 .5h0m-15.5 1h0m31.5 0h0m-25 .5h0m3 0h0m18.5 0h0m-16.5 .5h0m-17.5 .5h0m2.5 0h0m10 0h0m6.5 0h0m4.5 0h0m1.5 0h0m-20 .5h0m-3.5 .5h0m26.5 0h0m-6.5 .5h0m49.5 0h0m-42.5 .5h0m4.5 0h0m-46.5 1h0m9.5 0h0m24.5 0h0m4 0h0m46 0h0m-48.5 .5h0m2.5 .5h0m-34.5 .5h0m7 0h0m27 .5h0m12.5 0h0m-9 1h0m5.5 0h0m15 0h0m-61.5 .5h0m58 0h0m-50 1h0m29.5 0h0m3 0h0m18 0h0m-49.5 .5h0m33 0h0m5.5 .5h0m-1.5 1h0m32 0h0m-73 .5h0m35 0h0m11 0h0m3.5 0h0m21 0h0m-40 .5h0m1.5 0h0m8 0h0m-37.5 .5h0m35 0h0m9.5 0h0m1 0h0m.5 .5h0m-9 .5h0m10 0h0m7.5 0h0m1.5 0h0m-56.5 .5h0m30.5 0h0m-3.5 1h0m1 0h0m-25 .5h0m29.5 0h0m11 0h0m6 0h0m22.5 0h0m-38 .5h0m5 0h0m5.5 0h0m29.5 0h0m-49.5 .5h0m2 0h0m32.5 0h0m-62.5 .5h0m42.5 0h0m5 0h0m-56.5 .5h0m30.5 0h0m19.5 0h0m-30 .5h0m34.5 0h0m13 0h0m-36 .5h0m6.5 0h0m6 0h0m12.5 0h0m-33 .5h0m37.5 0h0m13 0h0m-63.5 .5h0m9 0h0m-15.5 .5h0m28.5 0h0m.5 0h0m-4 1h0m38.5 .5h0m-43.5 .5h0m-12 .5h0m44.5 0h0m4.5 0h0m25.5 0h0m-66.5 .5h0m33 0h0m-4 .5h0m20.5 0h0m-27.5 .5h0m29 0h0m-52.5 .5h0m54.5 .5h0m-28 .5h0m-18.5 .5h0m-2.5 2h0m31.5 1h0m-11 .5h0m-53 3.5h0" stroke="#6f8fe6" stroke-width="1.35" stroke-linecap="round" fill="none"/>
<path d="m100 62h0m14 1h0m-35.5 1h0m49.5 1h0m-46 .5h0m2 0h0m-4 .5h0m13.5 0h0m34.5 .5h0m-49.5 .5h0m9.5 0h0m17 0h0m28.5 0h0m-24 .5h0m-19 .5h0m53.5 0h0m1.5 0h0m-62.5 .5h0m9.5 0h0m38.5 0h0m1 0h0m8.5 0h0m-43.5 .5h0m45.5 0h0m-57.5 .5h0m3 0h0m1.5 0h0m4 0h0m4 0h0m37.5 0h0m-61.5 .5h0m8 0h0m8.5 0h0m18.5 0h0m-26.5 .5h0m17 0h0m-24 1h0m.5 0h0m3.5 0h0m15 0h0m24 0h0m28.5 0h0m-76 .5h0m8 0h0m2 0h0m14.5 0h0m4.5 0h0m8 0h0m25 0h0m7.5 0h0m-65 .5h0m14 0h0m25.5 0h0m-17 .5h0m-4.5 .5h0m-33.5 .5h0m11 0h0m10 0h0m48.5 0h0m-65.5 .5h0m18 0h0m1 0h0m-11.5 .5h0m49 0h0m-60.5 .5h0m9.5 0h0m1.5 0h0m2 0h0m4.5 0h0m43 .5h0m26.5 0h0m-72 .5h0m31 0h0m-34 .5h0m3.5 0h0m-1.5 1h0m-25.5 1h0m4.5 0h0m15 0h0m2 0h0m3.5 0h0m-2.5 .5h0m11.5 0h0m-22 1.5h0m7.5 0h0m-14.5 .5h0m2.5 0h0m12 .5h0m14 0h0m8.5 2h0m-25 1.5h0m20.5 0h0m-1.5 1.5h0m31.5 .5h0m24 .5h0m4.5 0h0m-22 3.5h0m-36.5 2.5h0m-1.5 3h0m45.5 0h0m-51 .5h0m17 0h0m36.5 0h0m-56.5 .5h0m13.5 1.5h0m-30.5 .5h0m35 0h0m-31.5 .5h0m92.5 0h0m-87.5 .5h0m24.5 0h0m4 .5h0m-33.5 .5h0m6 0h0m71 0h0m11 1.5h0m-86.5 1h0m36.5 0h0m5.5 0h0m-34 1h0m20.5 0h0m1 0h0m56 0h0m-76 1h0m84 1h0m-92.5 .5h0m-4 .5h0m90 0h0m-52.5 .5h0m21.5 0h0m-25.5 .5h0m13.5 0h0m-6 1h0m-16 .5h0m-14 1.5h0m34.5 .5h0m-6.5 2h0m15.5 .5h0m-27.5 1h0m-2 1h0m-12.5 1h0m24 0h0m20 .5h0m-32.5 1h0m-5 .5h0m-5.5 .5h0m22.5 0h0m-3.5 .5h0m28 1h0m-10.5 .5h0m-32.5 .5h0m7 .5h0m-17.5 .5h0m20 .5h0m-20.5 .5h0m18 1h0m4 .5h0m19 0h0m29 .5h0m-47 .5h0m47.5 .5h0m-50 1h0m8.5 0h0m-7.5 .5h0m-.5 .5h0m9.5 .5h0m5.5 0h0m-.5 .5h0m-20.5 .5h0m4 0h0m-9 .5h0m10.5 .5h0m1.5 0h0m1.5 0h0m-11.5 .5h0m9.5 0h0m1.5 0h0m7 0h0m-21.5 .5h0m16.5 .5h0m-21 .5h0m21 0h0m3 .5h0m-17 1h0m5.5 0h0m9 0h0m-23.5 .5h0m2.5 0h0m3.5 0h0m3 0h0m-8.5 .5h0m15 0h0m-16.5 .5h0m17.5 0h0m8 0h0m-32 .5h0m12.5 0h0m20.5 0h0m-25.5 .5h0m3 0h0m6.5 .5h0m2.5 0h0m-11.5 .5h0m14 0h0m29 0h0m-45 .5h0m2.5 0h0m13 0h0m1.5 0h0m.5 0h0m-3.5 .5h0m4.5 0h0m4 0h0m.5 0h0m4.5 0h0m25 0h0m-51.5 .5h0m9 0h0m29.5 0h0m6 0h0m-46.5 .5h0m12 0h0m3 0h0m2.5 0h0m31 0h0m-47 .5h0m13 0h0m25 0h0m14.5 0h0m17 0h0m-80 .5h0m45.5 0h0m10 0h0m-14.5 .5h0m24.5 0h0m5 0h0m4.5 0h0m-49.5 .5h0m2.5 0h0m33 0h0m-86 .5h0m50 0h0m.5 0h0m10 0h0m33.5 0h0m-75.5 .5h0m6 0h0m1.5 0h0m3.5 0h0m.5 0h0m29 0h0m5 0h0m42 0h0m-78 .5h0m27 0h0m4.5 0h0m2 0h0m3 0h0m15 0h0m-23.5 .5h0m36 0h0m-74.5 .5h0m3 0h0m6.5 0h0m1 0h0m25 0h0m.5 0h0m4.5 0h0m.5 0h0m14.5 0h0m7 0h0m6.5 0h0m1 0h0m-71.5 .5h0m38.5 0h0m1 0h0m-30 .5h0m42.5 0h0m3.5 0h0m2.5 0h0m17 0h0m-64.5 .5h0m54.5 0h0m-26.5 .5h0m1 0h0m.5 0h0m3.5 0h0m1.5 0h0m3.5 0h0m12 0h0m2.5 0h0m5 0h0m-68 .5h0m37.5 0h0m8 0h0m2 0h0m10 0h0m12.5 0h0m-13.5 .5h0m1.5 0h0m-21.5 .5h0m.5 0h0m17.5 .5h0m2.5 0h0m-70.5 .5h0m65.5 0h0m3 0h0m11.5 0h0m-24 .5h0m12.5 0h0m13.5 0h0m25 0h0m-90 .5h0m40.5 0h0m.5 0h0m4.5 0h0m5 0h0m7 0h0m9.5 0h0m-36 .5h0m1 0h0m1.5 0h0m5.5 0h0m10.5 0h0m11.5 0h0m2.5 0h0m-26.5 .5h0m13.5 0h0m27 0h0m-73.5 .5h0m3.5 0h0m26.5 0h0m4.5 0h0m.5 0h0m9.5 .5h0m2 0h0m4.5 0h0m4 0h0m-23.5 .5h0m11.5 0h0m27.5 0h0m16.5 0h0m-54.5 .5h0m26 0h0m-58.5 .5h0m23 0h0m12.5 0h0m20 0h0m9 0h0m-70.5 .5h0m27 0h0m5 0h0m1.5 0h0m4 0h0m21 0h0m-59.5 .5h0m34 0h0m.5 0h0m13 0h0m16.5 0h0m10.5 0h0m-52.5 .5h0m2.5 0h0m11 0h0m4 0h0m1.5 0h0m4.5 0h0m6 0h0m9.5 0h0m-53.5 .5h0m37.5 0h0m12 0h0m22 0h0m-69.5 .5h0m1 0h0m42 0h0m10.5 0h0m7 0h0m-67 .5h0m25.5 0h0m4 0h0m10.5 0h0m.5 0h0m12.5 0h0m-40 .5h0m21 0h0m9 0h0m-37 .5h0m35 0h0m6.5 0h0m4 0h0m1 0h0m11 0h0m8 0h0m-56.5 .5h0m43.5 0h0m-41.5 .5h0m40.5 0h0m3 0h0m-55 .5h0m13 0h0m3.5 0h0m15.5 0h0m9.5 0h0m14 0h0m-30 .5h0m-21.5 .5h0m17 0h0m6 0h0m7 0h0m10.5 0h0m-44.5 .5h0m14 0h0m21.5 0h0m-51 .5h0m50.5 0h0m9.5 .5h0m-40 .5h0m23 0h0m1.5 0h0m2 0h0m25.5 1h0m-55.5 1h0m-6.5 .5h0m33.5 1.5h0m23 0h0m-1.5 .5h0m-21 .5h0m5.5 .5h0" stroke="#3450c8" stroke-width="1.4" stroke-linecap="round" fill="none"/>
<path d="m140.5 61.5h0m-42.5 1h0m12 .5h0m27 0h0m1 0h0m-9 .5h0m10 0h0m-68 2h0m23.5 0h0m14 .5h0m15 0h0m18 0h0m-61.5 .5h0m15.5 0h0m33 0h0m8 0h0m-37.5 1h0m7.5 0h0m-2 .5h0m14.5 0h0m-30 .5h0m6 0h0m9 0h0m-26 .5h0m31.5 0h0m15.5 0h0m19 0h0m-66 .5h0m23 0h0m2 0h0m-37 .5h0m68 0h0m6 0h0m-44.5 .5h0m40 0h0m-43 .5h0m3 0h0m1 0h0m-18 .5h0m2 0h0m-11 .5h0m14 0h0m40.5 0h0m-45 .5h0m8.5 0h0m25.5 0h0m12 0h0m6 0h0m-14.5 .5h0m21 0h0m-70.5 .5h0m11.5 0h0m1.5 0h0m8.5 0h0m6 0h0m0 .5h0m-22 .5h0m4.5 0h0m3 0h0m11 0h0m20.5 0h0m-23 .5h0m-26.5 .5h0m1 0h0m7.5 0h0m-5 .5h0m.5 0h0m3 0h0m-5.5 .5h0m2.5 0h0m5.5 0h0m.5 0h0m-3.5 .5h0m11 0h0m-11 .5h0m-10 .5h0m16.5 0h0m-6 .5h0m3.5 0h0m-3.5 1h0m-16.5 .5h0m23 0h0m2.5 .5h0m-19 1.5h0m14.5 0h0m7 0h0m-5.5 1.5h0m62 3.5h0m4.5 .5h0m-63 1.5h0m23 0h0m42 .5h0m-61 .5h0m30.5 .5h0m31 1h0m-77 1.5h0m.5 0h0m52 0h0m-47 1.5h0m25 1.5h0m-17 2.5h0m43.5 0h0m-65.5 .5h0m93.5 1.5h0m-53 1.5h0m-35.5 .5h0m70.5 0h0m-61.5 .5h0m29 1.5h0m-39 .5h0m44.5 0h0m-31.5 .5h0m57.5 0h0m-62.5 .5h0m-5.5 1h0m59.5 0h0m1.5 .5h0m-7.5 1.5h0m20 0h0m-67.5 1h0m83 0h0m-74.5 .5h0m-12.5 1h0m60 1h0m-42.5 1.5h0m-9.5 .5h0m26 1h0m13 .5h0m-35.5 1h0m41.5 0h0m11.5 0h0m-50 1h0m1.5 1.5h0m42.5 0h0m-66 .5h0m22 .5h0m10.5 0h0m31 1h0m-53 .5h0m11 0h0m-10 .5h0m-7.5 .5h0m25 0h0m14 0h0m30.5 0h0m7 0h0m-57 1.5h0m9.5 .5h0m-2.5 1h0m2.5 0h0m-18 .5h0m38 .5h0m-39.5 .5h0m1.5 0h0m62.5 0h0m-59.5 1h0m21 0h0m-23.5 .5h0m2 0h0m71 0h0m-35 .5h0m1.5 0h0m-53.5 .5h0m22.5 0h0m10.5 0h0m-21.5 1h0m3.5 0h0m26 .5h0m9 0h0m-35.5 .5h0m13 0h0m-3 .5h0m39.5 0h0m-49.5 .5h0m5 0h0m53.5 0h0m-65 .5h0m-7.5 1h0m18.5 0h0m27 0h0m4.5 0h0m-51.5 .5h0m37 0h0m.5 0h0m-35.5 1h0m18 .5h0m-3.5 .5h0m11.5 0h0m4 0h0m-17.5 1h0m-31 .5h0m28 0h0m20.5 0h0m-40.5 .5h0m6.5 0h0m17.5 0h0m6.5 0h0m4.5 0h0m10.5 0h0m-38.5 .5h0m2.5 0h0m9.5 0h0m24.5 0h0m20.5 0h0m-50 .5h0m4 0h0m2.5 0h0m6.5 0h0m9.5 0h0m2 0h0m-19.5 .5h0m15 0h0m12.5 0h0m7 0h0m15 0h0m7.5 0h0m-60 .5h0m37 0h0m-31.5 .5h0m16.5 0h0m11 0h0m-19 .5h0m2.5 0h0m10 0h0m4.5 0h0m-44.5 .5h0m5.5 0h0m7.5 0h0m20.5 0h0m20.5 0h0m9 0h0m.5 0h0m-50.5 .5h0m14 0h0m7 0h0m3 0h0m37.5 0h0m-70.5 .5h0m6 0h0m3 0h0m-12 .5h0m9 0h0m1 0h0m35 0h0m6.5 0h0m-55 .5h0m5 0h0m27 0h0m4 0h0m-40 .5h0m4.5 0h0m6 0h0m4.5 0h0m46 0h0m10 0h0m.5 0h0m-67.5 .5h0m7.5 0h0m1.5 0h0m26 0h0m11 0h0m30.5 0h0m-77 .5h0m6.5 0h0m39.5 0h0m10.5 0h0m.5 0h0m.5 0h0m2.5 0h0m9 0h0m-29 .5h0m.5 0h0m-31 .5h0m35.5 0h0m1 0h0m25 0h0m-72 .5h0m42 0h0m10 0h0m8 0h0m-59 .5h0m.5 0h0m39 0h0m4.5 0h0m5 0h0m4 0h0m2.5 0h0m-18.5 .5h0m2 0h0m1 0h0m1.5 0h0m3.5 0h0m8.5 0h0m7.5 0h0m-59.5 .5h0m35.5 0h0m5.5 0h0m2 0h0m5.5 0h0m17 0h0m6.5 0h0m-36.5 .5h0m7 0h0m7 0h0m-50 .5h0m34 0h0m4.5 0h0m.5 0h0m-4.5 .5h0m2 0h0m2 0h0m20 0h0m18.5 0h0m-88.5 .5h0m44.5 0h0m4.5 0h0m7.5 0h0m5 0h0m2 0h0m5.5 0h0m15 0h0m-68 .5h0m1.5 0h0m.5 0h0m27.5 0h0m2 0h0m5 0h0m6 0h0m4.5 0h0m7.5 0h0m2 0h0m10.5 0h0m2 0h0m-69 .5h0m38.5 0h0m22 0h0m-63.5 .5h0m40.5 0h0m10 0h0m4.5 0h0m3 0h0m-57 .5h0m33 0h0m9.5 0h0m5 0h0m6.5 0h0m2 0h0m1.5 0h0m15.5 0h0m-44.5 .5h0m13.5 0h0m7 0h0m-18.5 .5h0m10 0h0m11 0h0m15.5 0h0m-61 .5h0m26.5 0h0m12.5 0h0m-18.5 .5h0m.5 0h0m1 0h0m16 0h0m-51 .5h0m4.5 0h0m4.5 0h0m5.5 0h0m15.5 0h0m1 0h0m4 0h0m15 0h0m3 0h0m7 0h0m-52.5 .5h0m26 0h0m20 0h0m.5 0h0m13 0h0m1 0h0m3 0h0m-65.5 .5h0m8.5 0h0m13.5 0h0m2.5 0h0m.5 0h0m1.5 0h0m1 0h0m5 0h0m4 0h0m2 0h0m25 0h0m-50 .5h0m4 0h0m6.5 0h0m5.5 0h0m1.5 0h0m11.5 0h0m3.5 0h0m12 0h0m1 0h0m1 0h0m5.5 0h0m-51.5 .5h0m14.5 0h0m6.5 0h0m2 0h0m2.5 0h0m19 0h0m-46 .5h0m9 0h0m3.5 0h0m6 0h0m3 0h0m10.5 0h0m1 0h0m22 0h0m-52 .5h0m2 0h0m6.5 0h0m5.5 0h0m7.5 0h0m5 0h0m17.5 0h0m-49 .5h0m3 0h0m4 0h0m4.5 0h0m22 0h0m12.5 0h0m5.5 0h0m-45 .5h0m35.5 0h0m23.5 0h0m-73.5 .5h0m3.5 0h0m38 0h0m1 0h0m4.5 0h0m5.5 0h0m-43.5 .5h0m24 0h0m8.5 0h0m2 0h0m-27 .5h0m2.5 0h0m16.5 0h0m14.5 0h0m-56 .5h0m10 0h0m21 0h0m-44.5 .5h0m41.5 0h0m1.5 0h0m40 0h0m9.5 0h0m-57.5 .5h0m27.5 0h0m3 0h0m17.5 0h0m-68 .5h0m44 0h0m1 0h0m17 0h0m11.5 0h0m-48.5 .5h0m10 0h0m15 0h0m24 0h0m-47.5 .5h0m10 .5h0m6.5 0h0m18.5 0h0m-43 .5h0m23 0h0m12 1h0m-43 .5h0m31 0h0m-46.5 2h0m42.5 .5h0m37.5 .5h0m-34.5 2.5h0" stroke="#1a2a9e" stroke-width="1.45" stroke-linecap="round" fill="none"/>
<path d="m82 132h0m9 7h0m-15 1.5h0m5 0h0m-20 1.5h0m7 1h0m17.5 .5h0m-.5 .5h0m-1.5 .5h0m-23.5 1.5h0m-3.5 3h0m-2.5 .5h0m38 0h0m-35.5 1h0m34.5 1.5h0m-1.5 .5h0m-5.5 .5h0m-25.5 .5h0m20 2.5h0m-22 1h0m3.5 0h0m4 0h0m11 0h0m3.5 0h0m-30.5 1.5h0m7.5 0h0m29.5 1h0m-14 .5h0m-7.5 4h0" stroke="#3aa6dc" stroke-width="1.4" stroke-linecap="round" fill="none"/>
<g transform="translate(71.9 149.6) rotate(-8)" filter="url(#fb)">
<ellipse rx="16" ry="9" fill="#2236b4" opacity="0.8"/>
<ellipse rx="13.44" ry="7.56" fill="#2a6fd6" opacity="1"/>
<ellipse rx="11.52" ry="6.48" fill="#2fb3d8" opacity="1"/>
<ellipse rx="9.6" ry="5.4" fill="#3fb45a" opacity="1"/>
<ellipse rx="6.72" ry="3.78" fill="#9fce3a" opacity="1"/>
<ellipse rx="4.8" ry="2.7" fill="#f0c020" opacity="1"/>
<ellipse rx="3.2" ry="1.8" fill="#f07a1c" opacity="1"/>
<ellipse rx="1.92" ry="1.08" fill="#e5301c" opacity="1"/>
</g>
</g>
<line x1="91.3" y1="0" x2="91.3" y2="219.5" stroke="#000" stroke-width="1.7"/>
<line x1="0" y1="129.7" x2="219.4" y2="129.7" stroke="#000" stroke-width="1.7"/>
<rect x="0" y="0" width="219.4" height="219.5" fill="none" stroke="#2a2a2a" stroke-width="1.2"/>
<g font-size="9.0" fill="#222">
<text x="3.4" y="18">Q1</text><text x="3.4" y="31.8">1.90</text>
<text x="200.9" y="18" text-anchor="end">Q2</text><text x="200.9" y="31.8" text-anchor="end">2.29</text>
<text x="3.4" y="194.3">Q4</text><text x="3.4" y="208.3">90.5</text>
<text x="200.9" y="194.3" text-anchor="end">Q3</text><text x="200.9" y="208.3" text-anchor="end">5.29</text>
</g>
</g>
<g transform="translate(829.7 116)">
<rect x="0" y="0" width="220.1" height="218.9" fill="#fff"/>
<g clip-path="url(#fc)">
<path d="m89.5 58.5h0m53.5 .5h0m-40 .5h0m18 0h0m5 0h0m14 .5h0m11.5 0h0m-32 .5h0m-35.5 .5h0m16 0h0m34 0h0m3.5 0h0m-43.5 .5h0m15 0h0m21 0h0m24 0h0m2 0h0m-64.5 .5h0m24.5 0h0m24.5 0h0m-26.5 .5h0m10.5 0h0m-40.5 .5h0m39.5 0h0m14.5 0h0m-62 .5h0m12.5 0h0m35.5 0h0m6.5 0h0m20.5 0h0m9.5 0h0m-76.5 .5h0m8 0h0m18 0h0m45 0h0m-85.5 .5h0m19.5 0h0m67 .5h0m2 0h0m-76.5 .5h0m.5 0h0m48 0h0m1.5 0h0m29 0h0m-70 .5h0m63.5 0h0m-66 .5h0m14.5 0h0m1 0h0m11 0h0m3 0h0m4 0h0m13.5 0h0m9.5 0h0m1.5 0h0m7 0h0m-71.5 .5h0m14.5 0h0m45.5 0h0m7 0h0m12.5 0h0m-74 .5h0m23 0h0m8 0h0m24.5 0h0m-43.5 .5h0m-17 .5h0m35.5 0h0m25 0h0m9 0h0m-67 .5h0m4 0h0m2 0h0m3.5 0h0m2.5 0h0m19 0h0m47.5 0h0m-82 .5h0m2.5 0h0m6.5 0h0m7 0h0m30.5 0h0m28 0h0m2.5 0h0m3 0h0m-40 .5h0m31 0h0m-67 1h0m37.5 0h0m4 0h0m-36.5 .5h0m45 0h0m3 0h0m-74 .5h0m5 0h0m20 0h0m29.5 0h0m-47 .5h0m69.5 0h0m10.5 0h0m-90.5 .5h0m12 0h0m42 0h0m-23.5 .5h0m18.5 0h0m-24.5 .5h0m7 0h0m22 0h0m7 .5h0m-54 .5h0m46.5 1.5h0m-1.5 .5h0m23 3h0m-32 .5h0m44 0h0m-80.5 .5h0m57 .5h0m37.5 0h0m-68 .5h0m47 0h0m-29.5 1h0m9 0h0m22 1.5h0m-4 .5h0m15 .5h0m-15.5 1.5h0m18.5 0h0m1 0h0m-76 .5h0m6.5 1h0m21.5 0h0m8 0h0m-43 .5h0m15.5 .5h0m49.5 .5h0m-56.5 .5h0m1.5 0h0m53.5 1h0m-62.5 .5h0m55.5 .5h0m-6.5 .5h0m-27 .5h0m53 1h0m-48 1.5h0m3 1h0m14.5 0h0m20 2h0m22.5 .5h0m-77.5 1h0m27.5 .5h0m21.5 0h0m-50 1h0m6.5 0h0m61.5 0h0m-50.5 .5h0m6 0h0m9 .5h0m-40 .5h0m15.5 0h0m47.5 0h0m.5 0h0m14 .5h0m6.5 0h0m-95 .5h0m91.5 0h0m-50.5 .5h0m36.5 0h0m-74.5 .5h0m7.5 0h0m26 0h0m3.5 0h0m-21.5 .5h0m18.5 0h0m-13 .5h0m-24 .5h0m86.5 0h0m-51 .5h0m5 0h0m9 0h0m36.5 0h0m-52.5 .5h0m24 0h0m-42 .5h0m-15.5 .5h0m82.5 0h0m-5.5 .5h0m-15.5 .5h0m-15.5 .5h0m-15 .5h0m59 .5h0m-72 1h0m8.5 0h0m35 0h0m11 .5h0m-50.5 1h0m8.5 .5h0m50.5 .5h0m-33.5 .5h0m-13 .5h0m-8.5 1h0m64.5 0h0m-65 .5h0m2 0h0m65 0h0m-80 2h0m10.5 0h0m20 0h0m33 0h0m19.5 .5h0m-95.5 .5h0m9.5 0h0m48.5 1h0m-44.5 1h0m28.5 1h0m4.5 .5h0m14 0h0m4.5 0h0m-55.5 .5h0m16 0h0m2.5 0h0m14 0h0m-24 .5h0m55.5 0h0m4 0h0m-59.5 1h0m9.5 0h0m29 0h0m-25 .5h0m33 0h0m20.5 0h0m-53.5 .5h0m7.5 0h0m-28 1h0m7 0h0m11.5 0h0m-15.5 1h0m1.5 0h0m22.5 0h0m6.5 0h0m40.5 0h0m-77 .5h0m37 0h0m34.5 0h0m-47 .5h0m-6 .5h0m15 0h0m28 1h0m-67.5 1h0m26 0h0m7.5 .5h0m-26 .5h0m36.5 0h0m24.5 0h0m8 0h0m-52 .5h0m-12.5 .5h0m26.5 0h0m14.5 0h0m-47.5 1h0m2.5 0h0m10.5 0h0m3 0h0m30 0h0m-39 .5h0m.5 0h0m-19 .5h0m-5.5 .5h0m5.5 0h0m32.5 0h0m29.5 0h0m17.5 0h0m-43 .5h0m15 0h0m-51 .5h0m9 0h0m6.5 .5h0m10 0h0m-21.5 .5h0m27 0h0m30.5 0h0m13.5 0h0m3 0h0m-58 .5h0m27 0h0m5.5 0h0m20.5 0h0m-69.5 .5h0m10.5 0h0m10 0h0m6.5 0h0m15 .5h0m-16.5 .5h0m18 0h0m19.5 0h0m-42 .5h0m3.5 0h0m20 0h0m5.5 0h0m6 .5h0m.5 0h0m-69.5 .5h0m11 0h0m32.5 0h0m33 0h0m12 .5h0m-89.5 .5h0m37.5 0h0m10.5 0h0m-11 .5h0m6 0h0m7 0h0m-11.5 .5h0m4.5 0h0m32 0h0m-69.5 .5h0m31 0h0m14 0h0m11 0h0m-62 .5h0m3 .5h0m34 0h0m12 0h0m.5 0h0m7.5 0h0m13.5 0h0m7.5 0h0m-18 .5h0m-19.5 .5h0m10.5 0h0m12.5 0h0m4 0h0m8 0h0m-70.5 .5h0m50 0h0m16 0h0m1 0h0m-29.5 .5h0m7 0h0m6.5 0h0m3 0h0m12.5 0h0m-25 .5h0m9 0h0m-48.5 .5h0m83.5 0h0m-84 .5h0m55 0h0m4 0h0m8 0h0m-28.5 .5h0m.5 0h0m9.5 0h0m8 0h0m13.5 0h0m-33.5 .5h0m44.5 0h0m-41 .5h0m5 0h0m4.5 0h0m26 0h0m-46 .5h0m9.5 0h0m9.5 0h0m-49.5 .5h0m49 0h0m12.5 0h0m6.5 0h0m20 0h0m-86.5 .5h0m37 0h0m20 0h0m1 0h0m14.5 0h0m-24 .5h0m10.5 0h0m3 0h0m9 0h0m-77 .5h0m4 0h0m45.5 0h0m23 0h0m-46.5 .5h0m12.5 0h0m3.5 0h0m5.5 0h0m16.5 0h0m5.5 .5h0m2.5 0h0m-61.5 .5h0m6.5 0h0m71 0h0m-59.5 .5h0m53.5 0h0m-66 .5h0m24.5 0h0m-38 .5h0m7 0h0m5 0h0m8 0h0m-9 .5h0m5 0h0m22.5 0h0m1.5 0h0m3.5 0h0m2.5 0h0m5 0h0m-19 .5h0m2 0h0m22 0h0m-55 .5h0m2.5 0h0m9 0h0m20.5 0h0m12.5 0h0m4 0h0m13 0h0m-65.5 .5h0m19.5 0h0m31.5 0h0m7.5 0h0m1 0h0m-16.5 .5h0m-38.5 .5h0m32.5 0h0m2.5 0h0m4 0h0m7 .5h0m-33 .5h0m38.5 0h0m-20 .5h0m21.5 0h0m3.5 0h0m-19 .5h0m4.5 0h0m19.5 .5h0m-33 1h0m-6.5 .5h0m9 .5h0m6 .5h0m24 0h0m-33.5 1h0m10.5 0h0m-6.5 .5h0m16 .5h0m23 0h0m-60 1h0m18.5 0h0m7.5 0h0m19 0h0m-6 .5h0m21 .5h0m-30 .5h0m20.5 0h0m-17 .5h0m8 0h0m-15.5 1h0m22.5 1h0m-25 1h0m.5 8h0" stroke="#6f8fe6" stroke-width="1.35" stroke-linecap="round" fill="none"/>
<path d="m127 58.5h0m6 0h0m10.5 .5h0m-38.5 .5h0m13.5 0h0m-9.5 .5h0m-8 .5h0m9 0h0m36.5 0h0m9.5 0h0m-33.5 .5h0m17 0h0m25.5 0h0m-57.5 .5h0m1.5 0h0m43 0h0m7 0h0m-74 .5h0m6.5 0h0m9.5 0h0m1 0h0m9.5 0h0m4 0h0m12 0h0m12.5 0h0m3 0h0m18 0h0m5 0h0m-51 .5h0m7.5 0h0m5 0h0m9 0h0m2 0h0m3 0h0m-51.5 .5h0m33.5 0h0m-31 .5h0m2.5 0h0m3 0h0m9.5 0h0m4.5 0h0m20.5 0h0m6.5 0h0m-41.5 .5h0m8 0h0m12 0h0m5 0h0m6 0h0m-43.5 .5h0m7.5 0h0m15 0h0m10 0h0m20.5 0h0m12 0h0m5 0h0m-77 .5h0m8 0h0m7.5 0h0m7.5 0h0m16.5 0h0m26.5 0h0m6 0h0m3 0h0m-57.5 .5h0m35 0h0m9 0h0m1 0h0m24 0h0m-68 .5h0m10.5 0h0m3.5 0h0m13.5 0h0m19.5 0h0m9.5 0h0m3.5 0h0m-77 .5h0m26.5 0h0m41 0h0m-46.5 .5h0m2 0h0m15.5 0h0m7.5 0h0m21.5 0h0m-62.5 .5h0m3 0h0m2 0h0m1 0h0m7 0h0m1 0h0m18 0h0m12 0h0m1 0h0m37.5 0h0m1.5 0h0m-85.5 .5h0m75.5 0h0m-92.5 .5h0m1.5 0h0m14.5 0h0m.5 0h0m2.5 0h0m31 0h0m3 0h0m16.5 0h0m26 0h0m-81.5 .5h0m4.5 0h0m7.5 0h0m1 0h0m9 0h0m19.5 0h0m7 0h0m2 0h0m2.5 0h0m7.5 0h0m6 0h0m2 0h0m-65.5 .5h0m9.5 0h0m23.5 0h0m12 0h0m19.5 0h0m11 0h0m-91.5 .5h0m4 0h0m1.5 0h0m10 0h0m10.5 0h0m18 0h0m13 0h0m5 0h0m19.5 0h0m4.5 0h0m3 0h0m-93 .5h0m2.5 0h0m7.5 0h0m1 0h0m4 0h0m13 0h0m-31 .5h0m18.5 0h0m9 0h0m35 0h0m18 0h0m22 0h0m-95 .5h0m34.5 0h0m.5 0h0m18.5 0h0m7 0h0m9.5 0h0m1 0h0m-52 .5h0m16 0h0m36 0h0m13 0h0m2 0h0m-87 .5h0m4 0h0m3 .5h0m-10 .5h0m18.5 0h0m2.5 0h0m-10.5 .5h0m2.5 .5h0m56 0h0m-46.5 .5h0m84.5 .5h0m-37.5 .5h0m31 .5h0m-50 .5h0m-45.5 .5h0m17.5 0h0m27.5 0h0m7 0h0m4 .5h0m-43 .5h0m-5 .5h0m44.5 0h0m47.5 0h0m-83.5 .5h0m9 .5h0m63.5 0h0m-36 .5h0m15.5 0h0m27 0h0m-82 .5h0m58 0h0m-57.5 .5h0m16.5 0h0m-1.5 .5h0m32.5 0h0m-60.5 .5h0m25.5 0h0m42.5 0h0m-71 .5h0m26.5 .5h0m3 0h0m61.5 0h0m6.5 0h0m5 0h0m-28 .5h0m-63.5 .5h0m18 0h0m-24.5 .5h0m94 0h0m-72.5 .5h0m59 0h0m-86.5 1.5h0m8.5 0h0m8 .5h0m55 0h0m14.5 0h0m4.5 .5h0m.5 0h0m-89.5 .5h0m22.5 0h0m40.5 0h0m32 0h0m3.5 0h0m3.5 0h0m-105.5 .5h0m27 0h0m14.5 0h0m22 0h0m7 0h0m24.5 0h0m4.5 0h0m-7.5 .5h0m-59.5 1.5h0m13 0h0m-15 .5h0m2.5 0h0m17 0h0m39.5 0h0m-28 .5h0m8.5 0h0m14 0h0m-23.5 .5h0m3 0h0m-35.5 .5h0m68 0h0m-80 .5h0m46 0h0m13 0h0m-67 .5h0m59.5 0h0m-38 1.5h0m26 0h0m17 .5h0m5 0h0m-64.5 1h0m65.5 0h0m25.5 0h0m-96 1h0m24.5 0h0m17 0h0m40.5 0h0m-51 .5h0m14.5 0h0m-36.5 .5h0m59 0h0m-70 1h0m36 0h0m-33.5 .5h0m13 0h0m52 0h0m-55.5 .5h0m11.5 0h0m30 0h0m-1.5 .5h0m-33 .5h0m10 0h0m47.5 0h0m-7 .5h0m6.5 0h0m-79.5 1h0m9.5 .5h0m0 .5h0m37 0h0m43 0h0m-76.5 .5h0m8.5 0h0m3.5 0h0m39.5 0h0m-45 .5h0m6.5 .5h0m36.5 0h0m-59 .5h0m49 0h0m18 0h0m-65.5 .5h0m-.5 .5h0m38 0h0m1.5 0h0m16.5 0h0m-19.5 .5h0m25 0h0m-14.5 .5h0m35 0h0m-79.5 .5h0m81 0h0m-72.5 .5h0m76.5 0h0m-22 .5h0m-32 .5h0m8 0h0m46.5 0h0m8.5 0h0m-66 1h0m22 0h0m-36 .5h0m8.5 0h0m10.5 0h0m45 .5h0m-2.5 .5h0m-62 .5h0m5.5 0h0m4 0h0m2.5 .5h0m-9 .5h0m7.5 .5h0m28 .5h0m-45.5 .5h0m9.5 .5h0m12 0h0m8 0h0m-9 .5h0m42 0h0m-64.5 .5h0m18.5 0h0m3 .5h0m30.5 0h0m12.5 0h0m-72 .5h0m87 0h0m-57.5 .5h0m31.5 0h0m-57.5 .5h0m52 0h0m3 0h0m-54.5 .5h0m89.5 0h0m-23.5 .5h0m-42.5 .5h0m50 0h0m-53.5 .5h0m59.5 0h0m-59 1h0m5 0h0m10 0h0m46 0h0m-58.5 .5h0m3.5 0h0m30.5 0h0m16.5 0h0m-60 .5h0m4 0h0m2.5 0h0m4 0h0m16 0h0m4 0h0m-23.5 .5h0m1 .5h0m29 0h0m-48 .5h0m50.5 0h0m4.5 0h0m-14 .5h0m2 .5h0m1 0h0m33.5 0h0m-88 .5h0m5 0h0m27 0h0m5.5 0h0m49.5 0h0m-66.5 1h0m18.5 0h0m19.5 0h0m.5 0h0m1.5 .5h0m-62 .5h0m8 0h0m4.5 0h0m.5 0h0m17.5 0h0m15 0h0m1 0h0m35 0h0m-87.5 .5h0m17 0h0m.5 0h0m12 0h0m-11 .5h0m4 0h0m4.5 0h0m58.5 0h0m10.5 0h0m-73 .5h0m-9 .5h0m11 0h0m2.5 0h0m6 0h0m34 0h0m-41 .5h0m4 0h0m36.5 0h0m-56.5 .5h0m15 0h0m10 0h0m5.5 0h0m13.5 0h0m6.5 0h0m-50.5 .5h0m65 0h0m-50.5 .5h0m7 .5h0m5 0h0m25 0h0m14 0h0m-63.5 .5h0m23.5 0h0m2.5 0h0m5.5 0h0m-35 .5h0m25 0h0m21 0h0m8 .5h0m-43.5 .5h0m5 0h0m8 0h0m14 0h0m9.5 0h0m-33.5 .5h0m2 0h0m17.5 0h0m2 0h0m1 0h0m45.5 0h0m-85.5 .5h0m82 0h0m-77.5 .5h0m13.5 0h0m22.5 0h0m8.5 0h0m12 0h0m-50.5 .5h0m2.5 0h0m10.5 0h0m8.5 0h0m-14.5 .5h0m3.5 0h0m28.5 0h0m21.5 0h0m-71.5 .5h0m9 0h0m6.5 0h0m.5 0h0m31 0h0m5.5 0h0m-53.5 .5h0m18.5 0h0m9.5 0h0m26 0h0m1 0h0m3 0h0m19 0h0m-73 .5h0m3.5 0h0m.5 0h0m9 0h0m13 0h0m4.5 0h0m2.5 0h0m24.5 0h0m2.5 0h0m23.5 0h0m-95.5 .5h0m5.5 0h0m.5 0h0m2 0h0m31 0h0m9.5 0h0m20 0h0m-58 .5h0m16.5 0h0m.5 0h0m6.5 0h0m3.5 0h0m5.5 0h0m4 0h0m22.5 0h0m-36 .5h0m2.5 0h0m35.5 0h0m17.5 0h0m-33 .5h0m1 0h0m13.5 0h0m-26 .5h0m.5 0h0m7 0h0m10 0h0m2 0h0m2.5 0h0m1 0h0m1.5 0h0m16 0h0m-75.5 .5h0m.5 0h0m36 0h0m-48 .5h0m12 0h0m1 0h0m25 0h0m4.5 0h0m12.5 0h0m6.5 0h0m1.5 0h0m-24.5 .5h0m.5 0h0m5.5 0h0m3 0h0m2.5 0h0m9.5 0h0m-53.5 .5h0m42.5 0h0m6 0h0m1.5 0h0m6 0h0m3 0h0m4 0h0m-63 .5h0m29 0h0m19 0h0m3 0h0m18.5 0h0m-72.5 .5h0m45 0h0m3 0h0m6.5 0h0m5 0h0m.5 0h0m2.5 0h0m-66 .5h0m51.5 0h0m5.5 0h0m3.5 0h0m26 0h0m-48.5 .5h0m.5 0h0m29 0h0m4 0h0m4 0h0m-74 .5h0m36 0h0m24 0h0m24.5 0h0m-45 .5h0m1 0h0m15.5 0h0m13 0h0m10.5 0h0m-76.5 .5h0m32 0h0m24 0h0m8.5 0h0m-61.5 .5h0m47 0h0m4 0h0m15 0h0m25.5 0h0m-102.5 .5h0m39.5 0h0m31 0h0m-60.5 .5h0m37.5 0h0m12.5 0h0m6.5 0h0m4.5 0h0m1 0h0m-28 .5h0m.5 0h0m4 0h0m11 0h0m.5 0h0m18.5 0h0m-69 .5h0m31.5 0h0m36.5 0h0m10 0h0m1 0h0m-47.5 .5h0m7.5 0h0m2.5 0h0m7.5 0h0m5.5 0h0m16.5 0h0m2 0h0m-75.5 .5h0m30.5 0h0m1.5 0h0m4 0h0m20.5 0h0m8.5 0h0m10.5 0h0m-25.5 .5h0m3 0h0m5.5 0h0m7.5 0h0m4 0h0m-36 .5h0m4 0h0m-47.5 .5h0m12.5 0h0m43 0h0m8 0h0m.5 0h0m-66 .5h0m11.5 0h0m30.5 0h0m14 0h0m7 0h0m.5 0h0m19.5 0h0m-42 .5h0m4.5 0h0m10.5 0h0m1.5 0h0m4 0h0m2.5 0h0m-28 .5h0m6 0h0m17 0h0m9.5 0h0m-56.5 .5h0m30 0h0m1 0h0m21.5 0h0m6.5 0h0m8.5 0h0m13.5 0h0m-52.5 .5h0m7 0h0m10.5 0h0m1.5 0h0m3.5 0h0m13.5 0h0m-41.5 .5h0m5 0h0m1.5 0h0m11 0h0m5.5 0h0m1 0h0m2 0h0m.5 0h0m7.5 0h0m.5 0h0m-49 .5h0m6 0h0m20.5 0h0m7 0h0m13 0h0m2.5 0h0m9.5 0h0m-35.5 .5h0m8.5 0h0m4.5 0h0m4 0h0m3 0h0m8 0h0m6 0h0m-65.5 .5h0m3.5 0h0m6 0h0m4.5 0h0m3 0h0m28.5 0h0m14.5 0h0m2 0h0m7.5 0h0m-80 .5h0m2 0h0m19 0h0m25 0h0m3 0h0m16.5 0h0m18 0h0m-61.5 .5h0m9 0h0m10.5 0h0m1 0h0m11 0h0m5 0h0m2 0h0m10 0h0m2.5 0h0m-42.5 .5h0m15.5 0h0m14 0h0m5 0h0m2 0h0m8.5 0h0m2.5 0h0m-73 .5h0m21 0h0m25.5 0h0m11 0h0m1.5 0h0m-36 .5h0m1 0h0m28.5 0h0m2.5 0h0m9.5 0h0m2.5 0h0m-60.5 .5h0m4 0h0m19 0h0m3 0h0m11.5 0h0m11 0h0m1.5 0h0m.5 0h0m11.5 0h0m-50.5 .5h0m12.5 0h0m4.5 0h0m29 0h0m4 0h0m-23 .5h0m-17 .5h0m3 0h0m1.5 0h0m12 0h0m10.5 0h0m8.5 0h0m-58.5 .5h0m2.5 0h0m24 0h0m12.5 0h0m14 0h0m19 0h0m-71.5 .5h0m8.5 0h0m16.5 0h0m2 0h0m12.5 0h0m3.5 0h0m19 0h0m15 0h0m-37 .5h0m20 0h0m-44 .5h0m3 0h0m6 0h0m34 0h0m-20 .5h0m4 0h0m8 0h0m15 0h0m-34.5 .5h0m8.5 0h0m-18.5 .5h0m6.5 0h0m37 0h0m-29 .5h0m2 0h0m4.5 1h0m4 0h0m14.5 0h0m-25 .5h0m12.5 .5h0m.5 0h0m2.5 0h0m10.5 0h0m-1.5 .5h0m-49 .5h0m44 0h0m-22 .5h0m7 0h0m-10.5 2h0m1.5 0h0m7 0h0m12.5 .5h0m-44 .5h0m36.5 0h0m1.5 1.5h0m1.5 1h0m-7.5 1h0m-5 4h0m20 8h0" stroke="#3450c8" stroke-width="1.4" stroke-linecap="round" fill="none"/>
<path d="m114.5 58h0m37 0h0m-31 .5h0m-33.5 1.5h0m54.5 0h0m-58 .5h0m36.5 0h0m30 0h0m-49 .5h0m51.5 0h0m-68.5 .5h0m7 0h0m3.5 0h0m21.5 0h0m12 0h0m1 0h0m3 0h0m20 0h0m-47.5 1h0m9.5 0h0m16.5 0h0m25 0h0m-60 .5h0m28 0h0m12.5 0h0m29 0h0m-64 .5h0m13.5 0h0m31.5 0h0m6 0h0m7 0h0m-74.5 .5h0m4.5 0h0m1 0h0m9 0h0m12.5 0h0m2 0h0m14.5 0h0m-29.5 .5h0m9.5 0h0m.5 0h0m21.5 0h0m22.5 0h0m2.5 0h0m-69 .5h0m1 0h0m4.5 0h0m20 0h0m24 0h0m14.5 0h0m5 0h0m-68.5 .5h0m2 0h0m16.5 0h0m5 0h0m1 0h0m6 0h0m25.5 0h0m3 0h0m-53.5 .5h0m6 0h0m4.5 0h0m14.5 0h0m-16 .5h0m2.5 0h0m-18.5 .5h0m.5 0h0m4 0h0m5 0h0m15.5 0h0m2 0h0m11.5 0h0m36 0h0m-36 .5h0m7.5 0h0m16 0h0m8.5 0h0m9 0h0m-84 .5h0m8 0h0m45.5 0h0m-54.5 .5h0m8.5 0h0m2.5 0h0m33.5 0h0m23 0h0m-65.5 .5h0m4.5 0h0m1 0h0m12.5 0h0m38 0h0m7.5 0h0m14 0h0m-77.5 .5h0m1 0h0m1.5 0h0m7.5 0h0m6 0h0m1 0h0m5 0h0m30 0h0m30 0h0m-102.5 .5h0m11 0h0m15 0h0m5 0h0m9.5 0h0m18.5 0h0m3 0h0m2.5 0h0m-52 .5h0m2 0h0m.5 0h0m1.5 0h0m2.5 0h0m57.5 0h0m30 0h0m-93.5 .5h0m44 0h0m24.5 0h0m-82.5 .5h0m11.5 0h0m7.5 0h0m1.5 0h0m6.5 0h0m2.5 0h0m23.5 0h0m4 0h0m-48 .5h0m8 0h0m4 0h0m4 0h0m13 0h0m-26.5 .5h0m8.5 0h0m6 0h0m29.5 0h0m17.5 0h0m-43.5 .5h0m70 0h0m-99 .5h0m3.5 0h0m18.5 0h0m2 0h0m72 0h0m-73.5 .5h0m-17.5 .5h0m11.5 0h0m11.5 0h0m67 0h0m.5 0h0m1 0h0m-75.5 1h0m-12 1h0m55.5 1h0m29 0h0m-61 .5h0m41.5 .5h0m3 1h0m-69 1.5h0m25.5 0h0m-32.5 .5h0m8.5 0h0m46.5 0h0m49.5 .5h0m-44 2h0m16.5 0h0m10 0h0m4.5 .5h0m-12 .5h0m-45 .5h0m-10 .5h0m9 0h0m78.5 0h0m-97.5 .5h0m10.5 0h0m-18.5 .5h0m36 0h0m23.5 0h0m-56.5 .5h0m51.5 0h0m16 0h0m-67.5 .5h0m15 0h0m5.5 0h0m21 0h0m5.5 0h0m.5 0h0m-43 .5h0m51 0h0m10.5 .5h0m-63 .5h0m2 .5h0m36 1h0m17 0h0m.5 0h0m32 0h0m-93 .5h0m2.5 0h0m39 0h0m45 0h0m14.5 0h0m-15 .5h0m8.5 0h0m-47 .5h0m-33 .5h0m23.5 0h0m27.5 1h0m16.5 0h0m-56.5 1h0m50 0h0m2 0h0m-45.5 .5h0m16 0h0m15 0h0m-6.5 .5h0m39.5 0h0m-3.5 1h0m-87.5 1.5h0m23 0h0m13 0h0m.5 .5h0m10 0h0m-55 .5h0m49 0h0m18.5 0h0m-51.5 .5h0m18 0h0m11.5 0h0m28.5 0h0m11.5 0h0m1.5 0h0m-77.5 .5h0m35.5 .5h0m41.5 0h0m-61 .5h0m-10.5 1.5h0m11.5 .5h0m15.5 .5h0m26 0h0m-8 .5h0m-17.5 .5h0m-34 .5h0m77 .5h0m-62 .5h0m21 0h0m-40.5 .5h0m40.5 1h0m17.5 0h0m-47 .5h0m72 0h0m-75 .5h0m28 0h0m37 0h0m-16 .5h0m23.5 0h0m-65.5 .5h0m59 0h0m-78 .5h0m23 0h0m73.5 0h0m-66 1h0m2.5 1h0m7 .5h0m-33.5 1h0m49.5 .5h0m5.5 0h0m18.5 0h0m12.5 0h0m-53 1.5h0m14.5 0h0m-46.5 .5h0m19 0h0m-2 .5h0m-10.5 .5h0m70.5 0h0m-74 .5h0m61 0h0m15 0h0m-87.5 .5h0m11.5 0h0m18 0h0m17.5 0h0m-16 1h0m-22 .5h0m22 0h0m18 0h0m32 .5h0m5 0h0m-79 .5h0m21 0h0m7 0h0m13 0h0m-11 .5h0m-21.5 .5h0m36 0h0m-41 .5h0m35.5 0h0m-26.5 .5h0m3 0h0m61.5 0h0m-68 .5h0m2 0h0m13.5 0h0m-4.5 .5h0m26.5 1.5h0m-29 .5h0m52.5 0h0m-71 .5h0m2 0h0m11 0h0m34.5 0h0m14 0h0m-49 .5h0m4.5 .5h0m6.5 0h0m36 0h0m25.5 0h0m-66.5 .5h0m5 0h0m49.5 0h0m6 0h0m-72.5 .5h0m.5 0h0m25.5 0h0m-32.5 .5h0m4 0h0m35 0h0m-21.5 .5h0m-4 .5h0m10.5 0h0m-6 .5h0m8.5 0h0m1.5 0h0m8 0h0m-20 .5h0m25.5 0h0m13.5 0h0m-57 .5h0m13.5 0h0m7.5 0h0m2 0h0m13.5 0h0m6 0h0m-31.5 .5h0m2.5 0h0m1.5 0h0m40 .5h0m-44 .5h0m2.5 0h0m1 0h0m12.5 0h0m8.5 0h0m4 0h0m-22 .5h0m1.5 0h0m10.5 0h0m15.5 0h0m12.5 0h0m-68.5 .5h0m21 0h0m5 0h0m22 0h0m5.5 0h0m24.5 0h0m-70 .5h0m2.5 0h0m3.5 0h0m5 0h0m19 0h0m20.5 0h0m3.5 0h0m-42 .5h0m24.5 0h0m16.5 0h0m-37.5 .5h0m1 0h0m.5 0h0m15.5 0h0m14.5 0h0m-37.5 .5h0m4.5 0h0m-13 .5h0m2 0h0m1 0h0m4 0h0m21 0h0m50 0h0m-77 .5h0m1 0h0m16.5 0h0m1.5 0h0m11 0h0m1.5 0h0m6 0h0m4 0h0m6.5 0h0m-48.5 .5h0m15.5 0h0m28 0h0m9 0h0m18 0h0m-73 .5h0m8.5 0h0m18.5 0h0m2.5 0h0m10.5 0h0m8 0h0m3.5 0h0m10.5 0h0m11 0h0m-81 .5h0m10.5 0h0m8 0h0m1 0h0m8.5 0h0m1.5 0h0m36.5 0h0m-56.5 .5h0m4 0h0m6 0h0m6 0h0m4 0h0m5.5 0h0m20 0h0m-52.5 .5h0m7.5 0h0m17 0h0m2 0h0m15 0h0m14.5 0h0m.5 0h0m3.5 0h0m2.5 0h0m3.5 0h0m.5 0h0m-67 .5h0m5.5 0h0m35 0h0m2.5 0h0m18 0h0m16 0h0m4 0h0m-67.5 .5h0m17.5 0h0m1 0h0m25.5 0h0m22 0h0m-75.5 .5h0m20.5 0h0m13 0h0m20 0h0m18.5 0h0m-82 .5h0m33 0h0m10 0h0m.5 0h0m6 0h0m8.5 0h0m-50.5 .5h0m27 0h0m2.5 0h0m1.5 0h0m5.5 0h0m3 0h0m2.5 0h0m7.5 0h0m4.5 0h0m21.5 0h0m-49.5 .5h0m5 0h0m.5 0h0m.5 0h0m2 0h0m5.5 0h0m8 0h0m18 .5h0m-75.5 .5h0m7 0h0m2 0h0m.5 0h0m32 0h0m15 0h0m2 0h0m6.5 0h0m6 0h0m-76 .5h0m17 0h0m26.5 0h0m3 0h0m.5 0h0m1 0h0m3 0h0m5 0h0m3.5 0h0m17 0h0m2 0h0m-36 .5h0m5.5 0h0m16 0h0m1 0h0m1.5 0h0m2.5 0h0m-21 .5h0m6.5 0h0m4.5 0h0m7 0h0m-60 .5h0m8 0h0m36 0h0m13.5 0h0m10 0h0m5.5 0h0m-67.5 .5h0m2.5 0h0m.5 0h0m.5 0h0m36 0h0m11.5 0h0m7 0h0m7 0h0m3 0h0m1 0h0m2.5 0h0m2.5 0h0m-80.5 .5h0m2.5 0h0m47 0h0m.5 0h0m4.5 0h0m14 0h0m-62 .5h0m2 0h0m38.5 0h0m4.5 0h0m2.5 0h0m11 0h0m1 0h0m-28.5 .5h0m2.5 0h0m1 0h0m15 0h0m2 0h0m2.5 0h0m13.5 0h0m3.5 0h0m-71 .5h0m1 0h0m34.5 0h0m7 0h0m.5 0h0m18.5 0h0m17 0h0m2.5 0h0m-43 .5h0m2.5 0h0m13 0h0m1.5 0h0m2 0h0m8 0h0m.5 0h0m4 0h0m-39 .5h0m3 0h0m1 0h0m.5 0h0m11.5 0h0m4.5 0h0m8.5 0h0m1 0h0m.5 0h0m1.5 0h0m9 0h0m-90.5 .5h0m16 0h0m39 0h0m.5 0h0m11.5 0h0m18.5 0h0m-73.5 .5h0m40.5 0h0m1 0h0m5 0h0m.5 0h0m4.5 0h0m10 0h0m8 0h0m-34 .5h0m21.5 0h0m1 0h0m-56 .5h0m40 0h0m11 0h0m5.5 0h0m15.5 0h0m16.5 0h0m-85 .5h0m28.5 0h0m1.5 0h0m1.5 0h0m8 0h0m.5 0h0m5.5 0h0m4.5 0h0m2 0h0m31 0h0m-92.5 .5h0m36.5 0h0m4.5 0h0m2.5 0h0m1.5 0h0m12.5 0h0m1.5 0h0m2.5 0h0m9.5 0h0m3 0h0m-63 .5h0m26 0h0m7 0h0m8 0h0m5.5 0h0m10.5 0h0m.5 0h0m4 0h0m-33 .5h0m5 0h0m4 0h0m11 0h0m5.5 0h0m3 0h0m3.5 0h0m1 0h0m3.5 0h0m1 0h0m-41 .5h0m3 0h0m3.5 0h0m3 0h0m2 0h0m.5 0h0m2 0h0m1.5 0h0m14.5 0h0m1 0h0m3 0h0m1.5 0h0m.5 0h0m20.5 0h0m-59 .5h0m1 0h0m3.5 0h0m3.5 0h0m36.5 0h0m-46 .5h0m1 0h0m2.5 0h0m2 0h0m7.5 0h0m4 0h0m2.5 0h0m4.5 0h0m7 0h0m7 0h0m-40.5 .5h0m.5 0h0m1 0h0m2 0h0m6 0h0m5 0h0m7.5 0h0m3 0h0m.5 0h0m9 0h0m1.5 0h0m13 0h0m-70 .5h0m10.5 0h0m41 0h0m3 0h0m8 0h0m1.5 0h0m16.5 0h0m-67.5 .5h0m21.5 0h0m.5 0h0m12 0h0m1.5 0h0m5 0h0m2 0h0m-38 .5h0m18.5 0h0m4 0h0m.5 0h0m18.5 0h0m6 0h0m-58 .5h0m2.5 0h0m7 0h0m6.5 0h0m5 0h0m1.5 0h0m3.5 0h0m9.5 0h0m9 0h0m2 0h0m3 0h0m4 0h0m8.5 0h0m-61 .5h0m35.5 0h0m1 0h0m1 0h0m23 0h0m-66.5 .5h0m12.5 0h0m2.5 0h0m41 0h0m7.5 0h0m5 0h0m-50 .5h0m29 0h0m7 0h0m1.5 0h0m19.5 0h0m-58.5 .5h0m16 0h0m3.5 0h0m6 0h0m5 0h0m1 0h0m2 0h0m2 0h0m3 0h0m-45 .5h0m1.5 0h0m16 0h0m26.5 0h0m2.5 0h0m-76 .5h0m41 0h0m17 0h0m-22.5 .5h0m1.5 0h0m20.5 0h0m8 0h0m2.5 0h0m1.5 0h0m2.5 0h0m11 0h0m14.5 0h0m-65.5 .5h0m7 0h0m16 0h0m2 0h0m-41 .5h0m47 0h0m-35 .5h0m52.5 0h0m-62.5 .5h0m58 0h0m-37.5 .5h0m14.5 0h0m11.5 0h0m18 0h0m-43.5 .5h0m30.5 0h0m7 0h0m-25 1.5h0m25 0h0m-48 .5h0m5.5 0h0m24 0h0m1 0h0m-38.5 .5h0m53 0h0m-44 .5h0m2 .5h0m28 0h0m-21 .5h0m27 0h0m15.5 0h0m9 0h0m-26 .5h0m7 .5h0m-12 .5h0m9 0h0m-17.5 .5h0m22.5 0h0m-3.5 1h0m-24.5 2h0m50 1h0m-20 1h0m1.5 4h0m-20.5 3.5h0m-5 1h0" stroke="#1a2a9e" stroke-width="1.45" stroke-linecap="round" fill="none"/>
<path d="m123 59h0m-7.5 .5h0m14 1.5h0m44.5 .5h0m-51.5 .5h0m-8 .5h0m18.5 0h0m-21 .5h0m24 0h0m-28.5 .5h0m28 0h0m1 0h0m-36.5 .5h0m51 0h0m-37.5 .5h0m13 0h0m-27.5 .5h0m43.5 0h0m-58.5 .5h0m87 .5h0m-73 .5h0m21 .5h0m43.5 0h0m-16 .5h0m-20.5 4h0m-62.5 59.5h0m-10 3.5h0m29.5 0h0m2 0h0m-15 1h0m16 0h0m-14 .5h0m-22 1.5h0m25.5 .5h0m10 0h0m-5.5 1h0m4 0h0m7 .5h0m-40.5 1.5h0m16 0h0m3 0h0m40.5 1h0m-57.5 1.5h0m34.5 1h0m-30 .5h0m.5 0h0m32 .5h0m1 .5h0m-31.5 .5h0m-.5 .5h0m0 1h0m-3.5 .5h0m31 0h0m1 0h0m3.5 2h0m6.5 .5h0m-38 1h0m21.5 1h0m2.5 0h0m1.5 .5h0m-7.5 1h0m-4.5 1h0m7.5 0h0m-17.5 .5h0m24.5 0h0m-30 .5h0m2 0h0m45 0h0m-6.5 .5h0m-11.5 3h0m-22 1h0m-6 .5h0m10.5 0h0" stroke="#3aa6dc" stroke-width="1.4" stroke-linecap="round" fill="none"/>
<g transform="translate(72.6 147.6) rotate(-10)" filter="url(#fb)">
<ellipse rx="18" ry="9" fill="#2236b4" opacity="0.8"/>
<ellipse rx="15.12" ry="7.56" fill="#2a6fd6" opacity="1"/>
<ellipse rx="12.96" ry="6.48" fill="#2fb3d8" opacity="1"/>
<ellipse rx="10.8" ry="5.4" fill="#3fb45a" opacity="1"/>
<ellipse rx="7.56" ry="3.78" fill="#9fce3a" opacity="1"/>
<ellipse rx="5.4" ry="2.7" fill="#f0c020" opacity="1"/>
<ellipse rx="3.6" ry="1.8" fill="#f07a1c" opacity="1"/>
<ellipse rx="2.16" ry="1.08" fill="#e5301c" opacity="1"/>
</g>
</g>
<line x1="91.7" y1="0" x2="91.7" y2="218.9" stroke="#000" stroke-width="1.7"/>
<line x1="0" y1="129.5" x2="220.1" y2="129.5" stroke="#000" stroke-width="1.7"/>
<rect x="0" y="0" width="220.1" height="218.9" fill="none" stroke="#2a2a2a" stroke-width="1.2"/>
<g font-size="9.0" fill="#222">
<text x="3.4" y="18">Q1</text><text x="3.4" y="31.8">1.89</text>
<text x="201.6" y="18" text-anchor="end">Q2</text><text x="201.6" y="31.8" text-anchor="end">6.18</text>
<text x="3.4" y="193.7">Q4</text><text x="3.4" y="207.7">82.3</text>
<text x="201.6" y="193.7" text-anchor="end">Q3</text><text x="201.6" y="207.7" text-anchor="end">9.64</text>
</g>
</g>
<g transform="translate(98.6 360.6)">
<rect x="0" y="0" width="220" height="218.4" fill="#fff"/>
<g clip-path="url(#fc)">
<path d="m116.5 59.5h0m26 0h0m-34.5 1.5h0m11.5 .5h0m14.5 0h0m12 0h0m7.5 0h0m-34.5 1.5h0m-4 1h0m2.5 0h0m11.5 0h0m-12.5 .5h0m42.5 0h0m-.5 .5h0m-18.5 1h0m-30.5 .5h0m5 0h0m3 0h0m16.5 0h0m13.5 0h0m-36 .5h0m36.5 .5h0m-28.5 .5h0m27 0h0m11.5 0h0m-37 .5h0m12.5 0h0m25 0h0m-46.5 .5h0m6.5 0h0m17.5 0h0m-36.5 .5h0m4 0h0m20.5 0h0m26.5 0h0m-22.5 1.5h0m2.5 .5h0m11.5 0h0m6 0h0m-2 1h0m-24 .5h0m15 .5h0m-2 .5h0m14.5 1.5h0m12 2h0m-41 1.5h0m14 3.5h0m-18 6.5h0m27.5 0h0m-65.5 1h0m5.5 1h0m84 1h0m-21.5 2.5h0m-61.5 .5h0m32 0h0m38 0h0m-27.5 .5h0m14.5 0h0m-51 2h0m20.5 0h0m18.5 .5h0m-54 .5h0m9.5 1h0m43 0h0m29.5 0h0m-81 1.5h0m20.5 0h0m31 0h0m6.5 0h0m-37.5 .5h0m13.5 .5h0m15.5 0h0m22 0h0m-63.5 .5h0m3.5 .5h0m16 0h0m-23 1h0m10 0h0m52.5 .5h0m-60.5 1h0m3 0h0m36.5 0h0m23.5 .5h0m-79 1h0m16.5 .5h0m7.5 0h0m54.5 .5h0m-30.5 1h0m4 0h0m-15.5 .5h0m-29.5 .5h0m9.5 .5h0m-10.5 .5h0m-2.5 .5h0m10.5 0h0m50.5 .5h0m-55.5 .5h0m6 0h0m11 0h0m36.5 0h0m-10 .5h0m-46 .5h0m18 .5h0m-22 .5h0m40 0h0m29.5 0h0m-63.5 .5h0m8.5 0h0m-8 .5h0m71.5 0h0m-74.5 .5h0m41 1h0m-12.5 .5h0m-19 1h0m-14.5 .5h0m56 0h0m.5 .5h0m-60.5 .5h0m37 0h0m46.5 1h0m-67 .5h0m4.5 0h0m46.5 0h0m-49.5 .5h0m55.5 0h0m-53.5 .5h0m25 1h0m-36.5 .5h0m6.5 0h0m2 0h0m4.5 .5h0m3 0h0m20.5 0h0m-24 .5h0m-11.5 1h0m12.5 0h0m19 0h0m-22 .5h0m-4.5 .5h0m21 0h0m-33.5 .5h0m10.5 0h0m-15.5 .5h0m8 0h0m27.5 0h0m33.5 0h0m-54.5 1h0m12.5 0h0m21.5 0h0m2.5 0h0m15.5 0h0m-47 .5h0m5.5 0h0m28 0h0m-17.5 .5h0m-8 .5h0m14 0h0m-19.5 .5h0m48.5 0h0m-53 .5h0m8.5 0h0m3.5 0h0m12.5 0h0m-35.5 .5h0m15 0h0m-7.5 1h0m5 0h0m16 0h0m29 0h0m-40 .5h0m22 0h0m-31.5 .5h0m6.5 0h0m8.5 0h0m-7.5 .5h0m.5 0h0m3.5 0h0m3 0h0m5 0h0m-32.5 .5h0m10 0h0m14 0h0m.5 0h0m1.5 0h0m-8 .5h0m9 0h0m7.5 0h0m24.5 0h0m-49 .5h0m9 0h0m2 0h0m15 0h0m2.5 0h0m-30.5 .5h0m13 0h0m-17 .5h0m-10 .5h0m15 0h0m1.5 0h0m8 0h0m2 0h0m.5 0h0m1.5 0h0m-23.5 .5h0m6 1h0m1 0h0m-13 .5h0m10.5 0h0m-16.5 .5h0m35 0h0m2 0h0m3 0h0m33 0h0m-36 .5h0m-19 .5h0m-15 .5h0m15 0h0m20.5 0h0m1 0h0m-27.5 .5h0m20.5 0h0m15 .5h0m1.5 .5h0m-49 .5h0m11 0h0m21.5 0h0m-21 .5h0m29.5 0h0m22.5 0h0m-30.5 .5h0m1.5 0h0m-23.5 .5h0m-3.5 .5h0m31 0h0m22 0h0m-57.5 .5h0m43 0h0m-49 .5h0m33.5 1h0m14 0h0m-9 .5h0m17 0h0m14.5 0h0m-67.5 .5h0m10.5 0h0m20 0h0m5 0h0m-29 .5h0m7 0h0m17 0h0m6.5 0h0m-26 .5h0m25 0h0m47 0h0m-90.5 .5h0m18 0h0m17.5 .5h0m-3.5 .5h0m29 .5h0m-51.5 .5h0m20 0h0m-25 .5h0m46 0h0m-24.5 .5h0m-31 .5h0m12.5 0h0m10.5 0h0m5.5 .5h0m2.5 0h0m-15.5 .5h0m13.5 0h0m13.5 0h0m-21 .5h0m8 0h0m7.5 0h0m2 0h0m1 0h0m4.5 0h0m15.5 .5h0m-36 1h0m21 0h0m-26.5 1h0m20 2.5h0m77.5 0h0m-97.5 1h0m3.5 1h0m9.5 0h0m30 0h0m-41 .5h0m34 .5h0m-21 .5h0m4 0h0m7 .5h0m-34.5 1.5h0m24.5 0h0m-26.5 4.5h0m-.5 1.5h0m21.5 .5h0" stroke="#6f8fe6" stroke-width="1.35" stroke-linecap="round" fill="none"/>
<path d="m86 58.5h0m53.5 0h0m-15 1h0m9 0h0m11.5 0h0m-36.5 .5h0m15.5 0h0m18 0h0m-6.5 .5h0m-23.5 .5h0m19.5 0h0m9 0h0m10 0h0m-26 .5h0m8 0h0m8 0h0m-23.5 .5h0m5.5 0h0m1.5 0h0m9 0h0m15.5 0h0m-28 .5h0m3.5 0h0m9.5 .5h0m-29.5 .5h0m28.5 0h0m9.5 1h0m6.5 0h0m7.5 0h0m-48 .5h0m1.5 0h0m11.5 0h0m10 0h0m10.5 0h0m-33.5 .5h0m32.5 0h0m8 0h0m-28.5 .5h0m4.5 0h0m13.5 0h0m16 0h0m-34.5 1h0m27 0h0m1 0h0m2 0h0m6.5 0h0m-18 .5h0m-15 .5h0m3 0h0m1 0h0m4 0h0m-19 .5h0m6 0h0m11.5 0h0m1 0h0m3 0h0m18.5 0h0m-19 .5h0m3.5 0h0m13.5 0h0m.5 0h0m4 0h0m-45 .5h0m34 0h0m11.5 .5h0m1.5 0h0m-56 .5h0m51 0h0m-40.5 .5h0m23 0h0m11.5 0h0m-19.5 1h0m-21.5 .5h0m44 0h0m2.5 0h0m-33 .5h0m15 7h0m-17.5 3h0m20 2.5h0m-44 1.5h0m-14 1.5h0m46 0h0m25 .5h0m-30.5 2h0m6.5 1h0m10.5 1h0m-47.5 .5h0m18 0h0m-34 .5h0m55 0h0m-50 .5h0m41 0h0m7 0h0m-4.5 .5h0m43 .5h0m-23 .5h0m-65 1h0m24.5 .5h0m-15.5 .5h0m24 .5h0m40 .5h0m-25 1h0m-40.5 .5h0m-21 1h0m19.5 0h0m.5 .5h0m-20.5 .5h0m17 0h0m74 .5h0m-32 .5h0m14 .5h0m4.5 0h0m-52 1h0m2.5 0h0m34.5 0h0m26 .5h0m-86.5 1h0m17.5 0h0m19 0h0m15.5 0h0m-44 .5h0m.5 0h0m55 .5h0m3 0h0m-50 .5h0m9.5 0h0m-13 .5h0m-5.5 .5h0m11 0h0m3.5 0h0m29 0h0m-47.5 .5h0m51 0h0m-28.5 .5h0m-24 .5h0m3 0h0m9 0h0m5.5 0h0m25 0h0m11.5 0h0m-47 .5h0m44.5 0h0m-45 1h0m33 0h0m45 0h0m-42 .5h0m12 0h0m21.5 0h0m-73 .5h0m22.5 0h0m2 0h0m39.5 0h0m12 .5h0m-73 .5h0m5 0h0m11 0h0m38 0h0m7 0h0m3.5 0h0m-63 .5h0m4 0h0m5.5 0h0m6 0h0m40 0h0m4 .5h0m-27 .5h0m32.5 0h0m2.5 0h0m-74 .5h0m20 0h0m-3.5 .5h0m.5 0h0m60.5 0h0m-63.5 .5h0m39 0h0m-57 .5h0m17 0h0m9 0h0m-14 .5h0m7 0h0m27.5 0h0m-36.5 .5h0m7.5 0h0m-6 .5h0m20 0h0m9 0h0m1.5 0h0m13.5 0h0m-37 .5h0m21.5 0h0m8.5 0h0m12.5 0h0m17.5 0h0m-76 .5h0m11 0h0m15 0h0m11.5 0h0m-26.5 .5h0m23 0h0m-27 .5h0m45 0h0m25 0h0m-69 1h0m27.5 0h0m9.5 0h0m9 0h0m1.5 0h0m-41.5 .5h0m8.5 0h0m1.5 .5h0m18 0h0m-54.5 .5h0m45.5 0h0m25.5 0h0m18 0h0m-78 .5h0m41.5 0h0m1.5 0h0m24 0h0m-64.5 .5h0m7 0h0m2.5 0h0m10 0h0m8.5 0h0m27 0h0m-39.5 .5h0m35.5 0h0m6 0h0m-33.5 .5h0m8 0h0m-26.5 .5h0m10 0h0m31 0h0m-55 .5h0m12.5 0h0m48 0h0m-48.5 .5h0m32 0h0m36.5 0h0m-49 .5h0m31.5 0h0m14.5 0h0m-58 .5h0m-2.5 .5h0m36.5 0h0m-33 .5h0m8.5 0h0m39 0h0m-50.5 .5h0m2 .5h0m15 0h0m23.5 0h0m4.5 0h0m-15.5 .5h0m7 0h0m-48.5 .5h0m11.5 0h0m-1.5 .5h0m14.5 0h0m8.5 0h0m12.5 0h0m13.5 0h0m-55 .5h0m22 0h0m43.5 0h0m-71 .5h0m20 0h0m5.5 0h0m1 0h0m10 0h0m-32.5 .5h0m8 0h0m11 0h0m58 0h0m-68.5 .5h0m7 0h0m.5 0h0m5.5 0h0m5 0h0m5.5 0h0m8 0h0m6.5 0h0m21 0h0m-58 .5h0m6 0h0m12.5 0h0m23.5 0h0m2 0h0m8 0h0m-73.5 .5h0m23 0h0m.5 0h0m5.5 0h0m3 0h0m1.5 0h0m13 0h0m4 0h0m1 0h0m-34 .5h0m10.5 0h0m1 0h0m7.5 0h0m24 0h0m-45 .5h0m5.5 0h0m28.5 0h0m13.5 0h0m-30.5 .5h0m1.5 0h0m14.5 0h0m-29 .5h0m21.5 0h0m-38 .5h0m16.5 0h0m15 0h0m1.5 0h0m4.5 0h0m7 0h0m-28.5 .5h0m17 0h0m7.5 0h0m2.5 0h0m20 0h0m23 0h0m-93 .5h0m15 0h0m20.5 0h0m1 0h0m-16.5 .5h0m22.5 0h0m10.5 0h0m31.5 0h0m-75 .5h0m6 0h0m6 0h0m12 .5h0m16 0h0m-37 .5h0m22 0h0m41 0h0m-41.5 .5h0m4 0h0m11.5 0h0m-30.5 .5h0m15 0h0m.5 0h0m5.5 0h0m29 0h0m24 0h0m-73 .5h0m16 .5h0m1 0h0m-29 .5h0m1.5 0h0m1.5 0h0m25.5 0h0m-37 .5h0m36.5 0h0m27.5 0h0m20.5 0h0m-23.5 .5h0m-50.5 1h0m27 0h0m4 0h0m9.5 0h0m-46 .5h0m3 0h0m8 0h0m17 0h0m8.5 0h0m-42 .5h0m33.5 0h0m.5 0h0m3 0h0m12.5 0h0m-35.5 .5h0m1 0h0m19 0h0m17 0h0m30 0h0m-70 .5h0m1 0h0m2 0h0m2.5 0h0m24 0h0m2 0h0m4 0h0m-15.5 .5h0m2.5 0h0m-31.5 .5h0m15 0h0m14 0h0m-36.5 .5h0m11 0h0m2 0h0m24.5 0h0m28.5 0h0m-73.5 .5h0m20.5 0h0m4.5 0h0m1 0h0m2.5 0h0m33 0h0m-9.5 .5h0m5.5 0h0m36.5 0h0m-73.5 .5h0m6.5 0h0m14.5 0h0m2.5 0h0m12.5 0h0m-16 .5h0m-10.5 .5h0m.5 0h0m11.5 0h0m6.5 0h0m-28.5 .5h0m20 0h0m4.5 0h0m21.5 0h0m-48.5 .5h0m21 0h0m3 0h0m2 0h0m3 0h0m20 0h0m-48.5 .5h0m14.5 0h0m9 0h0m-17 .5h0m11.5 0h0m1.5 0h0m5.5 0h0m1 0h0m33.5 0h0m-77 .5h0m21.5 0h0m4 0h0m2 0h0m7 0h0m5.5 .5h0m.5 0h0m3 0h0m-29.5 .5h0m22.5 0h0m-16 .5h0m7 0h0m7 0h0m1 0h0m8.5 0h0m13 0h0m-41.5 .5h0m6.5 0h0m3 0h0m-4.5 .5h0m3 0h0m48 0h0m-72 .5h0m74.5 0h0m-42 .5h0m1.5 0h0m5 0h0m-13 .5h0m-5.5 .5h0m4 0h0m13.5 0h0m-10 .5h0m-7.5 .5h0m11 0h0m7.5 0h0m15 0h0m-9.5 .5h0m6.5 0h0m-28.5 .5h0m10 0h0m14 0h0m-25.5 .5h0m5.5 0h0m8.5 .5h0m-14 1h0m2 0h0m9 .5h0m-13.5 .5h0m-4.5 1.5h0m13.5 0h0m.5 0h0m6.5 1h0m.5 0h0m-21 .5h0m-2.5 3h0" stroke="#3450c8" stroke-width="1.4" stroke-linecap="round" fill="none"/>
<path d="m102.5 60h0m3.5 0h0m14 .5h0m22 0h0m5 0h0m-31 .5h0m20 .5h0m3 0h0m-2.5 .5h0m1 0h0m2 .5h0m4 0h0m14 0h0m-38.5 .5h0m11 0h0m23.5 0h0m2.5 0h0m-29 .5h0m7 0h0m19 0h0m-50.5 1h0m1 0h0m20.5 0h0m21 .5h0m11.5 0h0m-42 .5h0m20 0h0m-19.5 .5h0m29 0h0m8.5 0h0m-66 .5h0m19.5 0h0m29 .5h0m2 0h0m18 0h0m-29.5 .5h0m5.5 0h0m20.5 0h0m-48 .5h0m51 0h0m-43.5 .5h0m-2 .5h0m23.5 0h0m4 .5h0m0 .5h0m16 0h0m-42 .5h0m39 .5h0m3.5 0h0m-51.5 1.5h0m6.5 0h0m46 0h0m-32.5 .5h0m26.5 .5h0m-23 .5h0m-52 1.5h0m44 5h0m-32.5 2h0m51 0h0m11 .5h0m-7.5 1h0m-2.5 1h0m-41.5 .5h0m54.5 0h0m-30.5 1.5h0m12 0h0m55.5 0h0m-86 1h0m-20.5 3.5h0m4 0h0m-10 1.5h0m11.5 0h0m68.5 0h0m-74 1.5h0m47 0h0m17 0h0m-78 1h0m63.5 0h0m-28.5 1.5h0m30.5 1h0m-35 .5h0m7 0h0m13 0h0m34 0h0m-47 .5h0m7.5 0h0m5.5 0h0m12 .5h0m-54.5 1h0m-6.5 .5h0m15 0h0m1 .5h0m3.5 0h0m5 .5h0m5 0h0m6 0h0m15.5 .5h0m-43 .5h0m52 0h0m9 0h0m-30.5 .5h0m19 0h0m7.5 0h0m-57 .5h0m3 0h0m10 0h0m32 0h0m12.5 0h0m-52 .5h0m21.5 0h0m10 .5h0m7.5 0h0m-38.5 .5h0m33.5 0h0m1 0h0m15 0h0m-9 .5h0m18.5 .5h0m-75 .5h0m7 0h0m3 0h0m3.5 0h0m41.5 0h0m4.5 0h0m6 0h0m15 0h0m-79 .5h0m20.5 0h0m8 0h0m25 0h0m-62.5 .5h0m27.5 0h0m30 0h0m-40.5 .5h0m5.5 0h0m3.5 0h0m-1 .5h0m34.5 0h0m-41.5 .5h0m9 0h0m8 0h0m-22.5 .5h0m12 0h0m23 0h0m20 0h0m-24.5 .5h0m27 0h0m9.5 0h0m-74 .5h0m14.5 0h0m6.5 0h0m-25.5 .5h0m10 0h0m12 0h0m.5 0h0m3 0h0m71 0h0m-69.5 .5h0m5.5 0h0m21.5 0h0m-33 .5h0m28.5 0h0m1.5 0h0m19.5 0h0m-44.5 .5h0m6 0h0m9 0h0m25.5 0h0m-54.5 .5h0m84 0h0m-82 .5h0m21.5 0h0m-21 .5h0m1 0h0m57 0h0m-60 .5h0m16.5 0h0m31.5 0h0m-44 .5h0m2 0h0m.5 0h0m67.5 0h0m-78 .5h0m5 0h0m.5 0h0m1.5 0h0m8 0h0m14 0h0m9 0h0m19.5 0h0m-34 .5h0m3.5 .5h0m2.5 0h0m-19.5 .5h0m3 0h0m7 0h0m-15 .5h0m13.5 0h0m-8 .5h0m13 0h0m33 0h0m36 0h0m-87.5 .5h0m10 0h0m-6.5 .5h0m4.5 0h0m10 0h0m1 0h0m6.5 0h0m22.5 0h0m-49.5 .5h0m48 0h0m15 0h0m-62 .5h0m2 0h0m7.5 0h0m.5 0h0m32 0h0m-35 .5h0m3.5 0h0m4.5 0h0m4.5 0h0m20 0h0m-49.5 .5h0m8.5 0h0m11.5 0h0m12.5 0h0m-24.5 .5h0m10.5 0h0m25.5 0h0m1.5 0h0m-23.5 .5h0m11 0h0m3 0h0m19 0h0m-56.5 .5h0m2.5 0h0m3 0h0m3 0h0m10 0h0m7 0h0m16.5 0h0m-18.5 .5h0m3 0h0m-7.5 .5h0m3 0h0m1 0h0m31 0h0m-13.5 .5h0m35.5 0h0m-60 .5h0m2.5 0h0m1 0h0m1 0h0m1.5 0h0m1.5 0h0m28.5 0h0m3.5 0h0m12 0h0m-37.5 .5h0m-34 .5h0m23 0h0m5 0h0m1 0h0m7 0h0m13 0h0m18 0h0m26 0h0m-66.5 .5h0m9 0h0m5 0h0m20.5 0h0m-41 .5h0m7 0h0m26.5 0h0m-17 .5h0m24.5 0h0m11.5 0h0m-50 .5h0m1 0h0m12.5 0h0m9 0h0m-19 .5h0m5.5 0h0m16.5 0h0m21.5 0h0m-52 .5h0m2 0h0m8 0h0m14.5 0h0m10 0h0m9 0h0m-41 .5h0m3 0h0m1 0h0m39.5 0h0m-41.5 .5h0m1.5 0h0m8.5 0h0m1 0h0m5 0h0m1 0h0m7 0h0m8.5 0h0m20 0h0m-67.5 .5h0m3.5 0h0m7 0h0m3.5 0h0m2 0h0m11 0h0m5.5 0h0m-38.5 .5h0m18.5 0h0m18 0h0m-21 .5h0m5 0h0m2 0h0m5 0h0m8 0h0m-32 .5h0m10 0h0m8.5 0h0m3 0h0m3 0h0m.5 0h0m3.5 0h0m7.5 0h0m6.5 0h0m-36.5 .5h0m4 0h0m11 0h0m5 0h0m7.5 0h0m-22.5 .5h0m17.5 0h0m6.5 0h0m12.5 0h0m2 0h0m-58.5 .5h0m21.5 0h0m6.5 0h0m.5 0h0m1 0h0m3 0h0m-9 .5h0m9 0h0m-24.5 .5h0m6.5 0h0m2.5 0h0m8.5 0h0m11 0h0m2.5 0h0m5.5 0h0m-28.5 .5h0m16.5 0h0m6.5 0h0m8 0h0m7 0h0m-41.5 .5h0m10.5 0h0m3.5 0h0m7 0h0m2.5 0h0m32.5 0h0m-50 .5h0m1 0h0m2 0h0m2.5 0h0m13 0h0m12 0h0m22 0h0m-49.5 .5h0m-28 .5h0m37.5 0h0m.5 0h0m10.5 0h0m12.5 0h0m-43 .5h0m6 0h0m3.5 0h0m15 0h0m16.5 0h0m-16 .5h0m3 0h0m15.5 0h0m-40 .5h0m19.5 0h0m5.5 .5h0m3.5 0h0m2.5 0h0m-29.5 .5h0m14.5 0h0m1 0h0m8.5 0h0m4.5 0h0m6.5 0h0m29 0h0m-73.5 .5h0m7 0h0m21.5 0h0m-36.5 .5h0m3.5 0h0m9 0h0m1 0h0m3 0h0m14.5 0h0m1 0h0m2.5 0h0m4.5 0h0m10.5 0h0m19 0h0m20.5 0h0m-87.5 .5h0m14.5 0h0m16 0h0m3.5 0h0m-34 .5h0m8.5 0h0m24 0h0m2.5 0h0m.5 0h0m2.5 0h0m-35 .5h0m5 0h0m6 0h0m1 0h0m-13.5 .5h0m30 0h0m2.5 0h0m2.5 0h0m2 0h0m6 0h0m-2.5 .5h0m20.5 0h0m-62 .5h0m.5 0h0m9.5 0h0m18 0h0m2 0h0m4.5 0h0m3 0h0m-28.5 .5h0m19 0h0m12 0h0m11 0h0m-14 .5h0m-48.5 .5h0m23 0h0m1.5 0h0m26 0h0m-44.5 .5h0m7.5 0h0m.5 0h0m2.5 0h0m27 0h0m4.5 0h0m27 0h0m-54.5 .5h0m.5 0h0m22 0h0m5 0h0m1.5 0h0m-41 1h0m13 0h0m20 0h0m-40.5 .5h0m9.5 0h0m7.5 0h0m22 0h0m13 0h0m-47 .5h0m17 0h0m54 0h0m-71 .5h0m8 0h0m5.5 0h0m3 0h0m13.5 0h0m-19.5 .5h0m30.5 0h0m-31 .5h0m1.5 0h0m2 0h0m.5 0h0m-13 .5h0m7 0h0m9 0h0m11.5 0h0m4 0h0m17.5 0h0m-50.5 .5h0m15 0h0m3 0h0m12 0h0m14 0h0m7.5 0h0m-55 .5h0m11.5 0h0m10 0h0m11 0h0m5.5 0h0m2 0h0m-11 .5h0m4.5 0h0m40 0h0m-44.5 .5h0m4 0h0m-31.5 .5h0m9.5 0h0m4 0h0m1.5 0h0m1.5 0h0m1 0h0m13 0h0m1.5 0h0m1.5 0h0m9.5 0h0m22 0h0m-46 .5h0m6 0h0m3 0h0m11.5 0h0m12 0h0m27 0h0m-72 .5h0m2 0h0m4 0h0m25.5 0h0m-23.5 .5h0m10 0h0m1 0h0m40.5 0h0m-61.5 .5h0m1.5 0h0m4 0h0m9.5 0h0m5.5 0h0m3 0h0m4.5 0h0m.5 0h0m-40 .5h0m26.5 0h0m1 0h0m4 0h0m17.5 0h0m10.5 0h0m-51.5 .5h0m34.5 0h0m-30 .5h0m22.5 0h0m.5 0h0m2.5 0h0m10.5 0h0m8.5 0h0m3.5 0h0m11.5 0h0m-48 .5h0m6 0h0m9 0h0m-22.5 .5h0m2 0h0m4 0h0m14.5 0h0m19 0h0m-43.5 .5h0m9.5 0h0m6 0h0m2 0h0m.5 0h0m-22.5 .5h0m15 0h0m15 0h0m5 0h0m-30.5 .5h0m31 0h0m-22 .5h0m2 0h0m2 0h0m-31 .5h0m53 0h0m2 0h0m-18.5 .5h0m-28 .5h0m10.5 0h0m3.5 0h0m11.5 0h0m-.5 .5h0m4 0h0m42.5 0h0m-35 1h0m-16.5 1h0m20 1h0m-11 1h0m-.5 6h0m-37.5 .5h0m17.5 .5h0" stroke="#1a2a9e" stroke-width="1.45" stroke-linecap="round" fill="none"/>
<path d="m77 125h0m.5 1.5h0m14 1.5h0m-16.5 1h0m4 1.5h0m3 .5h0m-11 1h0m2.5 0h0m14 0h0m12.5 0h0m-31 .5h0m2.5 1h0m9.5 0h0m-3.5 .5h0m7.5 0h0m-11.5 1h0m14.5 0h0m-18 .5h0m4.5 0h0m7.5 .5h0m2 .5h0m-15 1.5h0m1 0h0m.5 0h0m-3.5 1.5h0m-2.5 .5h0m19.5 0h0m-18.5 .5h0m25.5 1h0m-37 1.5h0m6.5 0h0m0 .5h0m22.5 1h0m4 1h0m-34.5 2h0m31 0h0m-30.5 1h0m9.5 0h0m19.5 0h0m-18.5 .5h0m-6 .5h0m0 .5h0m3.5 0h0m-2.5 .5h0m17.5 .5h0m1 .5h0m-20 .5h0m1 .5h0m.5 0h0m14.5 0h0m-20 .5h0m18.5 .5h0m-6 .5h0m.5 1h0m-6.5 1h0m18.5 .5h0m-19.5 .5h0" stroke="#3aa6dc" stroke-width="1.4" stroke-linecap="round" fill="none"/>
<g transform="translate(73.4 144.3) rotate(-42)" filter="url(#fb)">
<ellipse rx="13" ry="6.5" fill="#2236b4" opacity="0.8"/>
<ellipse rx="10.92" ry="5.46" fill="#2a6fd6" opacity="1"/>
<ellipse rx="9.36" ry="4.68" fill="#2fb3d8" opacity="1"/>
<ellipse rx="7.8" ry="3.9" fill="#3fb45a" opacity="1"/>
<ellipse rx="5.46" ry="2.73" fill="#9fce3a" opacity="1"/>
<ellipse rx="3.9" ry="1.95" fill="#f0c020" opacity="1"/>
<ellipse rx="2.6" ry="1.3" fill="#f07a1c" opacity="1"/>
<ellipse rx="1.56" ry="0.78" fill="#e5301c" opacity="1"/>
</g>
</g>
<line x1="89.8" y1="0" x2="89.8" y2="218.4" stroke="#000" stroke-width="1.7"/>
<line x1="0" y1="127.6" x2="220" y2="127.6" stroke="#000" stroke-width="1.7"/>
<rect x="0" y="0" width="220" height="218.4" fill="none" stroke="#2a2a2a" stroke-width="1.2"/>
<g font-size="9.0" fill="#222">
<text x="3.4" y="18">Q1</text><text x="3.4" y="31.8">3.42</text>
<text x="201.5" y="18" text-anchor="end">Q2</text><text x="201.5" y="31.8" text-anchor="end">5.61</text>
<text x="3.4" y="193.2">Q4</text><text x="3.4" y="207.2">87.2</text>
<text x="201.5" y="193.2" text-anchor="end">Q3</text><text x="201.5" y="207.2" text-anchor="end">3.77</text>
</g>
</g>
<g transform="translate(341.1 360.6)">
<rect x="0" y="0" width="218.8" height="219.4" fill="#fff"/>
<g clip-path="url(#fc)">
<path d="m123 57h0m5.5 0h0m9 0h0m10.5 1h0m-30.5 .5h0m36 0h0m-41 1h0m32 0h0m-21.5 .5h0m9 0h0m25.5 .5h0m-43 .5h0m27.5 0h0m-18 .5h0m29.5 0h0m-34.5 .5h0m17 0h0m17.5 0h0m-15 .5h0m15 .5h0m-20 .5h0m26 0h0m-2.5 .5h0m-7 .5h0m-20.5 .5h0m5.5 0h0m16 0h0m-12 1h0m-24.5 .5h0m22 0h0m7 .5h0m-27 .5h0m1.5 .5h0m6 0h0m-30.5 .5h0m35 1.5h0m9 .5h0m-15.5 1h0m6.5 0h0m5 6.5h0m-57.5 3.5h0m48.5 .5h0m-41.5 .5h0m46.5 1.5h0m11.5 1h0m-24 2h0m7.5 4h0m-43.5 .5h0m3 0h0m-11.5 2h0m12.5 0h0m44 .5h0m-52 2.5h0m76 .5h0m-94.5 1h0m13.5 0h0m53 0h0m7 1h0m9.5 0h0m-62.5 .5h0m-1 .5h0m71 0h0m-72.5 1h0m34.5 1h0m-58 .5h0m25 0h0m4.5 0h0m40.5 0h0m-48 1h0m3.5 .5h0m3 0h0m19 .5h0m-31 1h0m6 0h0m-1 .5h0m46.5 .5h0m29 0h0m-13 1h0m-63.5 .5h0m1.5 1h0m74 1h0m-4.5 .5h0m-73.5 .5h0m40 .5h0m-44.5 .5h0m42 0h0m8.5 0h0m39 0h0m-13.5 .5h0m-53 1.5h0m-7 .5h0m-11.5 .5h0m4.5 0h0m6.5 0h0m36.5 0h0m2 0h0m19 0h0m-61 1h0m27 0h0m-27 .5h0m17.5 0h0m23.5 0h0m-48.5 .5h0m5 0h0m62.5 0h0m-56 .5h0m1.5 .5h0m2 0h0m1 0h0m37.5 0h0m18.5 0h0m-73 .5h0m-1.5 .5h0m1.5 0h0m22 0h0m43.5 0h0m20 0h0m-80.5 .5h0m10 0h0m31.5 0h0m10.5 0h0m-68.5 .5h0m12 0h0m1.5 .5h0m16.5 0h0m1.5 0h0m-9 .5h0m4.5 0h0m.5 0h0m-9 .5h0m-10.5 .5h0m19.5 0h0m-17 .5h0m5 .5h0m1 0h0m27.5 0h0m-38.5 .5h0m15 0h0m19 1h0m-26.5 .5h0m15.5 0h0m-17.5 .5h0m35 0h0m-42 1h0m20.5 0h0m12.5 0h0m-23.5 .5h0m-5.5 .5h0m65 0h0m-55.5 .5h0m11 0h0m1 0h0m55 0h0m-60.5 .5h0m49 0h0m1.5 0h0m10 0h0m-67 .5h0m34.5 .5h0m-54 .5h0m17 0h0m1.5 0h0m4.5 0h0m15.5 0h0m25.5 0h0m-36 .5h0m13.5 0h0m-21 .5h0m24.5 0h0m-16.5 .5h0m2.5 0h0m-19 1.5h0m17.5 0h0m9 0h0m-18 1h0m20 0h0m8 0h0m2.5 0h0m6.5 0h0m-45 .5h0m8.5 0h0m2 0h0m8 0h0m25 0h0m19 0h0m-62 .5h0m3 0h0m2.5 0h0m22.5 0h0m-17 .5h0m3 0h0m-14 .5h0m14.5 0h0m41.5 0h0m-63.5 .5h0m28 0h0m-32 1h0m6.5 0h0m4 0h0m12.5 0h0m28 0h0m-41 .5h0m32 0h0m12.5 0h0m13.5 .5h0m-60.5 .5h0m19 0h0m8.5 0h0m-33.5 .5h0m32 .5h0m-26 .5h0m.5 0h0m16.5 0h0m3.5 0h0m46.5 .5h0m-50 .5h0m-17.5 .5h0m23 0h0m1.5 0h0m-22 .5h0m13.5 0h0m7 0h0m-26.5 .5h0m4.5 0h0m15 .5h0m12 0h0m2 .5h0m-9.5 .5h0m8 0h0m-11.5 .5h0m32.5 0h0m-33 .5h0m-26.5 .5h0m6 0h0m2 0h0m21 0h0m4 0h0m-8.5 .5h0m9.5 1h0m11.5 0h0m-49.5 .5h0m8 0h0m38.5 1h0m-38 .5h0m3 0h0m21.5 1h0m-26.5 .5h0m21.5 0h0m1.5 0h0m13.5 0h0m-15 .5h0m13 0h0m-40 .5h0m12 0h0m12 0h0m-21.5 .5h0m21 0h0m7 0h0m11.5 0h0m-34.5 .5h0m9 0h0m15 .5h0m2 0h0m-31.5 .5h0m37.5 .5h0m-35 .5h0m67.5 0h0m-61.5 .5h0m3.5 0h0m14.5 0h0m-13.5 .5h0m41 0h0m-33.5 1.5h0m1 0h0m6.5 0h0m21.5 0h0m-51 .5h0m3.5 0h0m4 0h0m.5 0h0m11.5 0h0m24.5 0h0m-35 .5h0m9.5 0h0m16.5 1h0m-23 .5h0m0 1.5h0m14 0h0m-5 .5h0m-21.5 .5h0m16.5 0h0m-24 .5h0m35 1h0m-23 1.5h0m15.5 .5h0m-13 1h0m16.5 0h0m-18.5 2.5h0m2.5 .5h0m11 1h0m-5.5 1.5h0" stroke="#6f8fe6" stroke-width="1.35" stroke-linecap="round" fill="none"/>
<path d="m134.5 56h0m-1 .5h0m-6.5 1h0m-7 .5h0m6.5 0h0m5.5 0h0m17 0h0m-31.5 .5h0m-2 .5h0m8.5 0h0m11.5 0h0m1.5 0h0m13.5 0h0m-29.5 .5h0m19 0h0m10.5 0h0m-25 .5h0m4 0h0m2.5 0h0m10 0h0m9 0h0m12 0h0m-41.5 .5h0m15 0h0m19.5 0h0m0 .5h0m-35.5 .5h0m9 0h0m21 .5h0m1 0h0m9 0h0m-44.5 .5h0m16.5 0h0m1 0h0m9.5 .5h0m-27 .5h0m37 0h0m-38.5 .5h0m14 0h0m10.5 0h0m-16.5 .5h0m11 0h0m7.5 0h0m11.5 0h0m3.5 0h0m-26 .5h0m16.5 0h0m-30.5 .5h0m35.5 0h0m.5 0h0m-38 1h0m8 0h0m26 0h0m-34 .5h0m4 0h0m12.5 0h0m6.5 0h0m2.5 0h0m11.5 0h0m-13 .5h0m8.5 0h0m-13 .5h0m.5 0h0m7.5 0h0m1.5 0h0m-25 .5h0m18.5 0h0m13.5 0h0m-35 .5h0m3 0h0m41 0h0m-42 .5h0m14.5 0h0m9.5 .5h0m8 0h0m-29 .5h0m16 0h0m1.5 0h0m2 .5h0m-61.5 3.5h0m13 4h0m19 .5h0m18.5 .5h0m-9.5 1.5h0m-5.5 3h0m-35.5 1h0m48 0h0m-20 2h0m-29 1.5h0m61 .5h0m-51.5 1.5h0m29.5 1h0m-38 1.5h0m29 0h0m50 .5h0m-94 .5h0m103 0h0m-85.5 .5h0m33 0h0m23.5 0h0m-53 1h0m47 0h0m-27 1h0m7.5 0h0m-36.5 .5h0m11.5 .5h0m74 0h0m-69 .5h0m-21 1h0m17.5 0h0m-9.5 .5h0m.5 0h0m39 0h0m5 0h0m1 0h0m-37 .5h0m6.5 0h0m58.5 0h0m-84 .5h0m64 0h0m7 0h0m6 0h0m-70 .5h0m76 0h0m-17 .5h0m-12.5 .5h0m1 0h0m-31 .5h0m21.5 0h0m15.5 0h0m-23 1.5h0m3 0h0m32 0h0m5 0h0m-74 .5h0m31 0h0m46 0h0m-84.5 .5h0m37 0h0m5.5 0h0m14.5 0h0m-61.5 1h0m9 0h0m11 0h0m12 0h0m10 0h0m23 0h0m-62.5 .5h0m18 0h0m18 0h0m14 0h0m20 0h0m3 0h0m-39.5 .5h0m-19.5 .5h0m9 0h0m15.5 0h0m1 0h0m34.5 0h0m1 0h0m-74 .5h0m9.5 0h0m15 .5h0m-5 .5h0m22.5 0h0m40.5 0h0m-65.5 .5h0m6.5 0h0m6 0h0m15.5 0h0m-32.5 .5h0m1.5 0h0m14 0h0m56 .5h0m12.5 0h0m-87 .5h0m22 0h0m-24.5 .5h0m2.5 0h0m3 0h0m2.5 0h0m32 .5h0m-31 .5h0m20.5 0h0m2.5 0h0m23 0h0m-58 .5h0m11.5 0h0m-4.5 .5h0m2.5 0h0m2 0h0m18 0h0m52.5 0h0m9.5 0h0m-85.5 .5h0m8 0h0m26 0h0m5.5 0h0m-45 .5h0m13.5 0h0m17.5 0h0m1.5 0h0m14.5 0h0m-48 .5h0m16.5 0h0m21 .5h0m12 0h0m14 0h0m-50.5 .5h0m7 0h0m4 0h0m4 0h0m53.5 0h0m-77 .5h0m1.5 0h0m.5 0h0m5.5 0h0m35.5 0h0m7.5 0h0m3.5 0h0m8 0h0m22 0h0m-76 .5h0m2 0h0m8.5 0h0m23.5 0h0m6.5 0h0m7.5 0h0m-54 .5h0m6.5 0h0m1 0h0m7.5 0h0m32 0h0m32 0h0m-80.5 .5h0m7 0h0m13.5 0h0m43.5 0h0m-46.5 .5h0m19 0h0m25.5 0h0m-67 .5h0m21.5 0h0m.5 0h0m20 0h0m-19 .5h0m7 0h0m12 0h0m10.5 0h0m-42.5 .5h0m3.5 0h0m1 0h0m10 0h0m43.5 0h0m-44.5 .5h0m5.5 0h0m1.5 0h0m15.5 0h0m11 0h0m9 0h0m-45.5 .5h0m2 0h0m2.5 0h0m3.5 0h0m22.5 0h0m-51.5 .5h0m21 0h0m42.5 0h0m8 0h0m-48 .5h0m17 0h0m33.5 0h0m-32.5 .5h0m21.5 0h0m29.5 0h0m-76 .5h0m3 0h0m4 0h0m10 0h0m20.5 0h0m16.5 0h0m-62.5 .5h0m8 0h0m-3 .5h0m39.5 0h0m7 0h0m-45.5 .5h0m1.5 0h0m2.5 0h0m16.5 0h0m15 0h0m18.5 0h0m-51 .5h0m2.5 .5h0m2.5 0h0m32.5 0h0m-38.5 .5h0m.5 0h0m20.5 0h0m34.5 0h0m-62 .5h0m1 0h0m6 0h0m-21 .5h0m4.5 0h0m15.5 0h0m3.5 .5h0m15.5 0h0m15 0h0m-43 .5h0m7.5 0h0m3 0h0m31 0h0m-32.5 .5h0m2 0h0m1.5 0h0m15.5 0h0m5 0h0m11 0h0m18 0h0m-62 .5h0m16.5 0h0m.5 0h0m1 0h0m9 0h0m22 0h0m3 0h0m3.5 0h0m-61.5 .5h0m1.5 0h0m.5 0h0m7.5 0h0m5 0h0m2.5 0h0m13.5 0h0m-50 .5h0m45.5 0h0m10.5 0h0m10.5 0h0m20 0h0m-37.5 .5h0m11 0h0m-37.5 .5h0m0 .5h0m.5 0h0m6.5 0h0m-.5 .5h0m16.5 0h0m15.5 0h0m7.5 0h0m-45 .5h0m13 0h0m9 0h0m-10.5 .5h0m.5 0h0m4 0h0m7.5 0h0m10 0h0m-20.5 .5h0m29.5 0h0m-59.5 .5h0m31.5 0h0m12 0h0m3.5 0h0m9.5 0h0m1.5 0h0m1 0h0m-33.5 .5h0m54.5 0h0m-74.5 .5h0m18.5 0h0m.5 0h0m21 0h0m-27 .5h0m1 0h0m6.5 0h0m9 0h0m4.5 0h0m4 0h0m13.5 0h0m-44 1h0m.5 0h0m17 0h0m7.5 0h0m-27 .5h0m12.5 0h0m12 0h0m7 0h0m14.5 0h0m-64.5 .5h0m26 0h0m8.5 0h0m10 0h0m.5 0h0m14 0h0m-25 .5h0m6.5 0h0m8 0h0m1.5 0h0m4.5 0h0m10.5 0h0m22.5 0h0m-60 .5h0m16 0h0m-7 .5h0m7 0h0m6.5 0h0m1 0h0m-31 .5h0m24 0h0m1 0h0m12 0h0m4 0h0m9 0h0m-31.5 .5h0m19.5 0h0m18 0h0m-36.5 .5h0m2 0h0m7.5 0h0m1 0h0m6 0h0m-45 1h0m8.5 0h0m3 0h0m15 0h0m-25.5 .5h0m39 0h0m11.5 0h0m23.5 0h0m.5 0h0m-45.5 .5h0m25.5 0h0m3 0h0m-54.5 .5h0m20.5 0h0m0 .5h0m9.5 0h0m-33 .5h0m3.5 0h0m21.5 0h0m37.5 0h0m-38.5 .5h0m2.5 0h0m1 .5h0m1.5 0h0m7.5 0h0m4.5 0h0m8 0h0m-47.5 .5h0m5.5 0h0m21.5 0h0m1.5 0h0m18 0h0m15 0h0m-41.5 .5h0m1.5 0h0m1 0h0m3 0h0m53 0h0m-81.5 .5h0m61.5 0h0m-80 .5h0m17.5 0h0m24.5 0h0m1.5 0h0m17.5 0h0m18 0h0m-33.5 .5h0m26 0h0m-62.5 .5h0m8 0h0m6.5 0h0m24 0h0m43 0h0m-65.5 .5h0m30.5 0h0m34.5 0h0m-67.5 .5h0m17 0h0m1.5 0h0m2 0h0m16 0h0m20 0h0m-70 .5h0m9 0h0m27 0h0m-27 .5h0m3.5 0h0m2 0h0m1.5 0h0m19 0h0m.5 0h0m5.5 0h0m22 0h0m-64.5 .5h0m33 0h0m3 0h0m1.5 0h0m3 0h0m11.5 0h0m-33.5 .5h0m11.5 0h0m2 0h0m.5 0h0m1 0h0m10.5 0h0m-47.5 .5h0m17 0h0m3.5 0h0m10.5 0h0m3 .5h0m2.5 0h0m6 0h0m34.5 0h0m-47 .5h0m10.5 0h0m7 0h0m3 0h0m-19.5 .5h0m-5.5 .5h0m4.5 0h0m15 0h0m-4 .5h0m3.5 0h0m11 0h0m11.5 0h0m-31 .5h0m3 0h0m-23.5 .5h0m8.5 0h0m6.5 0h0m2.5 0h0m21.5 0h0m-59 .5h0m26.5 0h0m10.5 0h0m2 .5h0m-19 .5h0m15.5 0h0m5.5 0h0m-25 .5h0m2 0h0m4.5 0h0m-8 .5h0m42.5 0h0m-45 .5h0m12.5 0h0m4.5 0h0m29 0h0m5 0h0m-57.5 .5h0m6 0h0m6.5 0h0m12 0h0m15.5 0h0m-18 .5h0m-18.5 .5h0m26 0h0m-3.5 .5h0m.5 .5h0m-17 .5h0m23 0h0m-18.5 .5h0m5.5 0h0m36 0h0m-26 .5h0m-1 .5h0m-20 1.5h0m11 0h0m40.5 0h0m-15.5 1h0m-9.5 .5h0m-29 .5h0m9 0h0m18 .5h0" stroke="#3450c8" stroke-width="1.4" stroke-linecap="round" fill="none"/>
<path d="m131 52h0m7 3h0m-22.5 1.5h0m40.5 1.5h0m1 0h0m-23 .5h0m22.5 0h0m6.5 0h0m-45 .5h0m23 0h0m2 .5h0m1.5 .5h0m18 0h0m-33.5 .5h0m18 0h0m7 0h0m3 0h0m-34 .5h0m4.5 0h0m4.5 0h0m9 0h0m16.5 0h0m5 0h0m-41.5 .5h0m27 0h0m6 0h0m-30.5 1h0m7 0h0m6 0h0m11.5 0h0m10.5 0h0m-40 .5h0m36 .5h0m-15.5 1h0m14 0h0m-22.5 .5h0m5.5 0h0m15 0h0m-5.5 .5h0m3 0h0m.5 0h0m-30.5 .5h0m7 0h0m3.5 0h0m-5.5 .5h0m23.5 0h0m-27.5 .5h0m39 0h0m-5 .5h0m-25 .5h0m25.5 0h0m-35.5 1h0m12.5 1h0m19.5 0h0m-44.5 .5h0m35 0h0m-8 .5h0m-44 .5h0m2 1h0m-15.5 4h0m43 3h0m-33 .5h0m-7.5 2.5h0m52 0h0m-38.5 1h0m-19.5 .5h0m14.5 0h0m25.5 0h0m-31.5 .5h0m17.5 2h0m79 .5h0m-93 .5h0m80 0h0m-101.5 1h0m2.5 .5h0m-7.5 .5h0m16 0h0m10 0h0m44.5 0h0m-38 .5h0m39 .5h0m-55 .5h0m38.5 0h0m-6 .5h0m10.5 0h0m-37 .5h0m53 .5h0m-73.5 1h0m13.5 0h0m1 0h0m72.5 .5h0m-34 .5h0m2.5 0h0m11 1h0m-23 .5h0m-36 .5h0m34 0h0m30.5 0h0m1 .5h0m-59 .5h0m2 0h0m10 0h0m31.5 0h0m4 0h0m12.5 0h0m-44.5 1h0m2 0h0m10 0h0m23 0h0m-21.5 1h0m11 0h0m-43 .5h0m6 0h0m6 0h0m33.5 0h0m9.5 0h0m-48 .5h0m7.5 0h0m1.5 0h0m-9.5 .5h0m10 0h0m10 0h0m26.5 0h0m15 .5h0m-67.5 .5h0m48.5 .5h0m25 0h0m-69.5 .5h0m11.5 0h0m10 0h0m34.5 0h0m-54 .5h0m48.5 0h0m9 0h0m2.5 0h0m8.5 0h0m-56.5 1h0m19 0h0m64 0h0m-98.5 .5h0m35.5 0h0m5 0h0m-37 .5h0m40.5 0h0m13.5 0h0m-53.5 .5h0m5 0h0m8 0h0m-21.5 .5h0m17.5 0h0m42 0h0m.5 .5h0m-72 .5h0m24 0h0m44 0h0m-42 .5h0m24.5 .5h0m11.5 0h0m-59 .5h0m20 0h0m4 0h0m1.5 0h0m12.5 0h0m13.5 0h0m2.5 0h0m11 .5h0m-41.5 .5h0m22.5 0h0m-25.5 .5h0m40.5 0h0m-47 .5h0m5 0h0m3.5 0h0m2 0h0m6 0h0m3 0h0m52.5 .5h0m-74 .5h0m79.5 0h0m-79 .5h0m12.5 0h0m29.5 0h0m-9.5 .5h0m-25.5 .5h0m19 0h0m-21.5 .5h0m4 0h0m23 0h0m2 .5h0m13 0h0m8.5 0h0m-57 .5h0m16.5 0h0m14 0h0m14 0h0m-53 .5h0m10 0h0m2 0h0m7 0h0m3 0h0m17.5 0h0m7 0h0m5.5 0h0m14.5 0h0m5 0h0m-68 .5h0m7 0h0m7 0h0m13 0h0m52.5 0h0m-70.5 .5h0m4 .5h0m16 0h0m13 0h0m11 0h0m20 0h0m7 0h0m-67 .5h0m5.5 0h0m23 0h0m11 0h0m3 0h0m7.5 0h0m-46 .5h0m2.5 0h0m4 0h0m45.5 0h0m-64 .5h0m8 0h0m4 0h0m3 0h0m22 0h0m7 0h0m8.5 0h0m-44.5 .5h0m2.5 0h0m5.5 0h0m11 0h0m-1.5 .5h0m-23.5 .5h0m53.5 0h0m-52 .5h0m.5 0h0m2.5 0h0m2 0h0m-17 .5h0m4 0h0m10.5 0h0m1 0h0m15 0h0m11 0h0m-25.5 .5h0m2.5 0h0m25 0h0m17 0h0m-44.5 .5h0m17 0h0m40 0h0m-60.5 .5h0m4.5 0h0m11.5 0h0m9.5 0h0m7.5 0h0m7 0h0m63.5 0h0m-86 .5h0m2 0h0m12 0h0m.5 0h0m2 0h0m25 0h0m-71 .5h0m5 0h0m10.5 0h0m17.5 0h0m1.5 0h0m8.5 0h0m23.5 0h0m-78.5 .5h0m37 0h0m19.5 0h0m16 0h0m3.5 0h0m-39.5 .5h0m1.5 0h0m-22.5 .5h0m58.5 0h0m-46.5 .5h0m-5.5 .5h0m5 0h0m3.5 0h0m12.5 0h0m36 0h0m13.5 0h0m-71 .5h0m7.5 0h0m7.5 0h0m1 0h0m5 0h0m13.5 0h0m3 0h0m19.5 0h0m10.5 0h0m-63.5 .5h0m6 0h0m17 0h0m4 0h0m6 0h0m6 0h0m8 0h0m-49.5 .5h0m2 0h0m38.5 0h0m9 0h0m9.5 0h0m11 0h0m-68 .5h0m1.5 0h0m5 0h0m8.5 0h0m10.5 0h0m10.5 0h0m17 0h0m-61 .5h0m8.5 0h0m11.5 0h0m8 0h0m29.5 0h0m-53 .5h0m10 0h0m2.5 0h0m25.5 0h0m17.5 0h0m-61 .5h0m12.5 0h0m4 0h0m1 0h0m1 0h0m58 0h0m-59.5 .5h0m13.5 0h0m26 0h0m5.5 0h0m-57.5 .5h0m12 0h0m3 0h0m3.5 0h0m7 0h0m12.5 0h0m7 0h0m18 0h0m-70.5 .5h0m13 0h0m4.5 0h0m10 0h0m49.5 0h0m-91 .5h0m32.5 0h0m2 0h0m18 0h0m-32.5 .5h0m.5 0h0m5 0h0m7 0h0m34 0h0m9.5 0h0m-31 .5h0m3.5 0h0m16.5 0h0m13.5 0h0m14 0h0m-68.5 .5h0m8 0h0m4 0h0m24.5 0h0m39 0h0m-68.5 .5h0m8.5 0h0m20.5 0h0m-30.5 .5h0m7.5 0h0m16 0h0m5 0h0m1.5 0h0m13.5 0h0m-47.5 .5h0m8.5 0h0m3.5 0h0m-39 .5h0m23 0h0m21 0h0m1 0h0m9 0h0m3 0h0m21 0h0m2.5 0h0m-57.5 .5h0m1 0h0m4.5 0h0m5 0h0m10.5 0h0m30 0h0m6 0h0m-70 .5h0m18 0h0m1.5 0h0m7 0h0m1 0h0m32.5 0h0m-71.5 .5h0m30.5 0h0m4 0h0m7.5 0h0m2.5 0h0m22 0h0m2.5 0h0m1.5 0h0m-48 .5h0m6.5 0h0m.5 0h0m8 0h0m28 0h0m-39.5 .5h0m23 0h0m12.5 0h0m-49.5 .5h0m1 0h0m4.5 0h0m3 0h0m15 0h0m6 0h0m25 0h0m-46 .5h0m16.5 0h0m-21.5 .5h0m8 0h0m12.5 0h0m3.5 0h0m9.5 0h0m10 0h0m4 0h0m1.5 0h0m8.5 0h0m-51.5 .5h0m3 0h0m18.5 0h0m21.5 0h0m3.5 0h0m-52 .5h0m2.5 0h0m23.5 0h0m2 0h0m1.5 0h0m11.5 0h0m20.5 0h0m-64.5 .5h0m3 0h0m19.5 0h0m3.5 0h0m25 0h0m2.5 0h0m-55 .5h0m24 0h0m4 0h0m4 0h0m-29 .5h0m21 0h0m-29 .5h0m14.5 0h0m27.5 0h0m-38.5 .5h0m10 0h0m34 0h0m-17 .5h0m10.5 0h0m28.5 0h0m-58 .5h0m21 0h0m12 0h0m-42 .5h0m9 0h0m64 0h0m-69 .5h0m23.5 0h0m5.5 0h0m17.5 0h0m-43.5 .5h0m.5 0h0m24 0h0m.5 0h0m1.5 0h0m5 0h0m1.5 0h0m5.5 0h0m-51.5 .5h0m14 0h0m19.5 0h0m2 0h0m-22 .5h0m26 0h0m17 0h0m7 0h0m9.5 0h0m19.5 0h0m-90.5 .5h0m30 0h0m7.5 0h0m6 0h0m-40.5 .5h0m6 0h0m18.5 0h0m2 0h0m36.5 0h0m-60.5 .5h0m22 0h0m5.5 0h0m3 0h0m11 0h0m16 0h0m-61 .5h0m4 0h0m5 0h0m17.5 0h0m1.5 0h0m7.5 0h0m9.5 0h0m-48 1h0m9.5 0h0m1.5 0h0m2 0h0m15 0h0m17.5 0h0m32.5 0h0m-65 .5h0m15 0h0m1.5 0h0m7 0h0m1 0h0m9 0h0m-42 .5h0m25 0h0m4 0h0m-31 .5h0m26.5 0h0m2.5 0h0m.5 0h0m-21 .5h0m22.5 0h0m2 0h0m8 0h0m-43 .5h0m5.5 0h0m2 0h0m26 0h0m2.5 0h0m20 0h0m-58.5 .5h0m16 0h0m15.5 0h0m25.5 0h0m-79 .5h0m45 0h0m3 0h0m3 0h0m63.5 0h0m-88.5 .5h0m3.5 0h0m.5 0h0m7.5 0h0m11 0h0m4.5 0h0m1.5 0h0m-34 .5h0m11.5 0h0m4.5 0h0m2 0h0m12 0h0m-39.5 .5h0m33 0h0m7 0h0m4.5 0h0m4 0h0m-34.5 .5h0m2 0h0m12 0h0m11 0h0m16 0h0m-37 .5h0m1.5 0h0m3 0h0m8 0h0m1.5 0h0m-12 .5h0m1.5 0h0m2.5 0h0m1.5 0h0m15.5 .5h0m16.5 0h0m-41.5 .5h0m9 0h0m.5 0h0m7.5 0h0m-12.5 .5h0m15 0h0m7 0h0m-31 .5h0m9.5 0h0m3 0h0m9 0h0m1.5 0h0m1.5 0h0m16 0h0m-26.5 .5h0m4.5 0h0m2.5 0h0m22.5 0h0m-34.5 .5h0m10 0h0m1 0h0m-20 1h0m17.5 0h0m3 0h0m-15.5 .5h0m10.5 0h0m-48 .5h0m36 0h0m60 0h0m-65.5 .5h0m1.5 .5h0m12.5 0h0m-21.5 .5h0m22 0h0m8 0h0m36 0h0m-58 .5h0m6.5 0h0m10 0h0m9 0h0m8 0h0m-26 .5h0m8.5 0h0m12 0h0m-29 .5h0m6.5 0h0m3.5 0h0m9 0h0m5.5 0h0m.5 .5h0m-13.5 .5h0m6 0h0m-15 .5h0m1 .5h0m7.5 .5h0m6 0h0m-2 1h0m-12 .5h0m4 0h0m9.5 .5h0m-11.5 .5h0m0 2h0m-10.5 2.5h0m-2 2h0" stroke="#1a2a9e" stroke-width="1.45" stroke-linecap="round" fill="none"/>
<path d="m82 131h0m11.5 .5h0m-22 3h0m5.5 0h0m1 .5h0m10 .5h0m5 .5h0m-18.5 .5h0m13 .5h0m-14.5 .5h0m-5 .5h0m-5.5 2.5h0m-3 1h0m28.5 0h0m-5 .5h0m15.5 0h0m-15 .5h0m0 .5h0m.5 1.5h0m13.5 0h0m-44.5 .5h0m33 1h0m-23.5 1h0m.5 .5h0m.5 0h0m19 .5h0m1 0h0m-4.5 .5h0m-18.5 .5h0m22.5 0h0m-3 .5h0m2 0h0m1.5 0h0m.5 0h0m-21 .5h0m24.5 0h0m-8.5 1h0m-21.5 .5h0m6 0h0m-2 .5h0m-.5 .5h0m10 0h0m2 0h0m-10.5 .5h0m10.5 1h0m4 0h0m-18.5 .5h0m15 0h0m-.5 .5h0m-13 1h0m8 0h0m-1 .5h0m-1.5 1h0m4.5 0h0m-8.5 .5h0m-10 .5h0m30 0h0m.5 0h0m6.5 0h0m-32.5 1h0m2 .5h0" stroke="#3aa6dc" stroke-width="1.4" stroke-linecap="round" fill="none"/>
<g transform="translate(72.8 145.2) rotate(-42)" filter="url(#fb)">
<ellipse rx="13" ry="6.5" fill="#2236b4" opacity="0.8"/>
<ellipse rx="10.92" ry="5.46" fill="#2a6fd6" opacity="1"/>
<ellipse rx="9.36" ry="4.68" fill="#2fb3d8" opacity="1"/>
<ellipse rx="7.8" ry="3.9" fill="#3fb45a" opacity="1"/>
<ellipse rx="5.46" ry="2.73" fill="#9fce3a" opacity="1"/>
<ellipse rx="3.9" ry="1.95" fill="#f0c020" opacity="1"/>
<ellipse rx="2.6" ry="1.3" fill="#f07a1c" opacity="1"/>
<ellipse rx="1.56" ry="0.78" fill="#e5301c" opacity="1"/>
</g>
</g>
<line x1="89.2" y1="0" x2="89.2" y2="219.4" stroke="#000" stroke-width="1.7"/>
<line x1="0" y1="128.3" x2="218.8" y2="128.3" stroke="#000" stroke-width="1.7"/>
<rect x="0" y="0" width="218.8" height="219.4" fill="none" stroke="#2a2a2a" stroke-width="1.2"/>
<g font-size="9.0" fill="#222">
<text x="3.4" y="18">Q1</text><text x="3.4" y="31.8">4.76</text>
<text x="200.3" y="18" text-anchor="end">Q2</text><text x="200.3" y="31.8" text-anchor="end">6.58</text>
<text x="3.4" y="194.2">Q4</text><text x="3.4" y="208.2">85.0</text>
<text x="200.3" y="194.2" text-anchor="end">Q3</text><text x="200.3" y="208.2" text-anchor="end">3.65</text>
</g>
</g>
<g transform="translate(585.9 360.6)">
<rect x="0" y="0" width="218.5" height="218.6" fill="#fff"/>
<g clip-path="url(#fc)">
<path d="m140.5 58.5h0m21 1h0m-34.5 .5h0m28 .5h0m-36.5 .5h0m.5 0h0m39 0h0m-35.5 .5h0m23.5 0h0m.5 .5h0m15.5 0h0m-52.5 .5h0m10 0h0m14 0h0m-14 .5h0m14 0h0m5 0h0m2 0h0m22.5 0h0m-28.5 .5h0m-28.5 .5h0m8.5 0h0m37 0h0m-12 .5h0m4 0h0m2.5 0h0m4.5 0h0m.5 0h0m-14 .5h0m7 0h0m-29.5 .5h0m37 0h0m7.5 0h0m-38 1.5h0m-4 .5h0m12.5 0h0m9 0h0m5 0h0m-26 .5h0m.5 0h0m35 0h0m14 0h0m-48.5 .5h0m7 0h0m40.5 0h0m-55.5 .5h0m17.5 0h0m4 0h0m13.5 0h0m10 0h0m2 0h0m-4 1h0m1.5 0h0m-51 .5h0m1 0h0m53.5 0h0m-37 1h0m21.5 0h0m3 .5h0m5 1h0m-30 1.5h0m7 0h0m10.5 1.5h0m-6 5.5h0m-29.5 1h0m.5 0h0m34 0h0m14 .5h0m-19.5 1.5h0m17.5 .5h0m-60.5 3.5h0m40.5 1h0m-55 2.5h0m17 .5h0m-2.5 .5h0m7.5 0h0m20.5 0h0m18.5 0h0m-60 .5h0m30.5 0h0m32 0h0m-30.5 .5h0m21.5 0h0m-69 1h0m32 0h0m-30 .5h0m12 0h0m45.5 0h0m-52 .5h0m45.5 0h0m32 1.5h0m-72 .5h0m9 0h0m16 0h0m6 0h0m18.5 .5h0m-48.5 .5h0m40.5 0h0m23 0h0m-70 1.5h0m12 0h0m62 0h0m-73.5 .5h0m31.5 0h0m-45.5 .5h0m53.5 0h0m-20.5 .5h0m3 0h0m1.5 0h0m-17 .5h0m4 0h0m29 0h0m45.5 0h0m-47 .5h0m18.5 0h0m8.5 0h0m-43.5 .5h0m-1.5 .5h0m40.5 0h0m-49 .5h0m10.5 0h0m42 0h0m10 0h0m6.5 0h0m15 0h0m-69.5 .5h0m5.5 0h0m-8.5 .5h0m76 0h0m-90 .5h0m5 0h0m-11.5 .5h0m13.5 0h0m12 0h0m32 0h0m10 0h0m-60 .5h0m10.5 0h0m31 0h0m22 0h0m-23 .5h0m-61 .5h0m66.5 0h0m2 0h0m-54.5 1h0m9.5 0h0m19 0h0m29.5 0h0m-88 .5h0m43 0h0m31 0h0m-53 .5h0m35.5 0h0m13.5 .5h0m13 0h0m-48.5 .5h0m10 0h0m37.5 0h0m-42 .5h0m7.5 0h0m-26.5 .5h0m37.5 0h0m-19.5 .5h0m7 0h0m2.5 0h0m30 0h0m4.5 0h0m30.5 0h0m-68.5 .5h0m17 0h0m-37 .5h0m3.5 .5h0m4 0h0m49.5 0h0m8.5 .5h0m-49 .5h0m1.5 0h0m-6.5 .5h0m57 0h0m.5 0h0m-26.5 .5h0m42.5 0h0m-77.5 .5h0m4.5 0h0m19 0h0m4.5 0h0m21.5 0h0m-10 .5h0m33 0h0m-59 .5h0m47 0h0m-66 .5h0m14.5 0h0m21.5 .5h0m15.5 0h0m-38 .5h0m16.5 0h0m10.5 0h0m5 0h0m4 0h0m-1 .5h0m-57.5 .5h0m20.5 0h0m5.5 0h0m7.5 0h0m2 1h0m41.5 0h0m-52.5 .5h0m7.5 0h0m-8 .5h0m13.5 0h0m38 0h0m-52 .5h0m7 0h0m4.5 0h0m.5 0h0m27 0h0m-53 .5h0m20 0h0m27 0h0m15 0h0m-32 .5h0m14.5 0h0m.5 0h0m12.5 0h0m18 0h0m-88 .5h0m22.5 0h0m2 0h0m16 0h0m9.5 0h0m-28.5 .5h0m1 0h0m38.5 0h0m-15 .5h0m7.5 0h0m25.5 0h0m-86 .5h0m24 0h0m32 0h0m9.5 0h0m-40.5 .5h0m9.5 0h0m35 0h0m1 0h0m6 .5h0m-40.5 .5h0m22.5 0h0m-6.5 .5h0m28 0h0m-39 .5h0m2.5 0h0m12.5 0h0m7 0h0m4 0h0m21 0h0m-59.5 .5h0m18.5 0h0m-2.5 .5h0m11 0h0m23.5 0h0m-31 .5h0m-14 .5h0m9 0h0m38 0h0m-54 .5h0m-8.5 .5h0m8 0h0m10.5 0h0m3 0h0m21 0h0m-55.5 .5h0m17 0h0m18 0h0m1.5 0h0m17.5 0h0m-30.5 .5h0m9 0h0m-28.5 .5h0m27 0h0m16 0h0m5 0h0m17.5 0h0m-64 .5h0m23 0h0m-15 .5h0m15 0h0m18 0h0m49 0h0m-112.5 .5h0m96.5 0h0m-70 .5h0m23 0h0m4 0h0m-26.5 .5h0m0 .5h0m24 0h0m10.5 0h0m8 .5h0m40.5 0h0m-97 .5h0m80 0h0m-48 .5h0m21.5 0h0m6.5 0h0m4 0h0m-68 1.5h0m57 0h0m14.5 0h0m-37 .5h0m7.5 0h0m8 0h0m46 0h0m-56 .5h0m-35 .5h0m38 0h0m2 0h0m19 0h0m-20 1h0m2 0h0m5 0h0m12 0h0m4 0h0m-10.5 .5h0m-50 .5h0m9.5 0h0m18.5 0h0m53.5 0h0m-52 1h0m1.5 .5h0m9.5 0h0m-38 .5h0m73.5 0h0m-6.5 .5h0m-61.5 .5h0m16 .5h0m2.5 0h0m15 0h0m-31 .5h0m20.5 0h0m-8 .5h0m-16.5 .5h0m.5 .5h0m4 .5h0m13 0h0m14 0h0m-11 1h0m-40 .5h0m22 0h0m2 .5h0m4.5 0h0m1.5 .5h0m55 0h0m-62.5 .5h0m1 0h0m-11 .5h0m19.5 0h0m-28.5 .5h0m16 0h0m.5 0h0m1 0h0m10 0h0m-12 .5h0m10.5 0h0m6.5 0h0m-1.5 .5h0m-20.5 .5h0m12 0h0m48.5 0h0m-63.5 .5h0m13 0h0m-41.5 .5h0m50.5 0h0m10 0h0m-26 .5h0m-1 .5h0m10.5 1h0m11.5 0h0m13.5 0h0m-18.5 1h0m5 0h0m9 1.5h0m-3.5 2.5h0m-23 .5h0m-2.5 .5h0m5 0h0m3.5 1h0m-26.5 2.5h0m4 1.5h0" stroke="#6f8fe6" stroke-width="1.35" stroke-linecap="round" fill="none"/>
<path d="m106.5 56.5h0m44.5 .5h0m-37 2.5h0m13 .5h0m-9.5 .5h0m17.5 0h0m5.5 0h0m11 0h0m10 0h0m-45.5 .5h0m10.5 0h0m14.5 0h0m24 0h0m-55.5 .5h0m22.5 0h0m27.5 0h0m4.5 0h0m-45.5 .5h0m18.5 0h0m20 0h0m.5 0h0m-40 .5h0m23 0h0m1.5 0h0m-27 .5h0m3 0h0m19 0h0m-11 .5h0m31 0h0m-41 .5h0m4.5 0h0m36.5 0h0m-30 .5h0m8 0h0m1 0h0m14 0h0m4 0h0m6 0h0m-21 .5h0m-7.5 .5h0m25 0h0m-35.5 .5h0m7 0h0m.5 0h0m24.5 0h0m-13 .5h0m23.5 0h0m.5 0h0m1.5 0h0m-61.5 .5h0m21.5 0h0m2 0h0m13 0h0m-12 .5h0m10.5 0h0m2 0h0m-18.5 .5h0m.5 0h0m11.5 0h0m15.5 0h0m4.5 0h0m1 0h0m4 0h0m-43.5 .5h0m16.5 0h0m17 0h0m6 0h0m-47.5 .5h0m18.5 0h0m35 0h0m-45 .5h0m2.5 0h0m21.5 0h0m10.5 0h0m-44 .5h0m4 0h0m1.5 0h0m1.5 0h0m10.5 0h0m-15 .5h0m29 0h0m10 0h0m-12.5 .5h0m2 0h0m5.5 0h0m9.5 0h0m3 0h0m-24.5 .5h0m22.5 0h0m-42.5 .5h0m5 0h0m20 0h0m-14.5 .5h0m27 0h0m-40 .5h0m27 0h0m-11 1h0m21 1.5h0m-17.5 1h0m-11 1.5h0m6 .5h0m31 0h0m-59 1h0m-14.5 1.5h0m24 0h0m3.5 0h0m9 0h0m22 0h0m-20.5 .5h0m17 0h0m-2 .5h0m-17.5 .5h0m31 1h0m-81.5 .5h0m18.5 .5h0m53 0h0m-8.5 1h0m-3 .5h0m11.5 0h0m-65 1h0m18.5 0h0m-8 .5h0m31.5 0h0m9.5 0h0m-52 .5h0m47.5 0h0m-38.5 .5h0m31 1h0m9.5 0h0m7 0h0m3.5 .5h0m-30.5 1.5h0m68.5 0h0m-68 .5h0m14.5 .5h0m-38 .5h0m44.5 0h0m-53.5 1h0m17.5 0h0m3 0h0m24 0h0m4 0h0m22.5 .5h0m3 0h0m-61.5 .5h0m-4.5 .5h0m22.5 0h0m29.5 0h0m-63.5 1h0m10 0h0m43 0h0m9 0h0m-28 .5h0m28.5 .5h0m4.5 0h0m-45 .5h0m18 0h0m3.5 0h0m25 0h0m18.5 0h0m-73 .5h0m42 0h0m10.5 0h0m1.5 0h0m21.5 0h0m-36.5 .5h0m-4.5 .5h0m-41 .5h0m3.5 0h0m8 .5h0m7.5 0h0m17.5 0h0m-21.5 .5h0m49 0h0m-62 .5h0m3.5 0h0m34.5 0h0m42.5 0h0m-81 .5h0m6 0h0m14 0h0m3 0h0m19.5 0h0m5 0h0m-51.5 .5h0m-14 .5h0m56.5 0h0m19 0h0m8.5 0h0m-73 .5h0m7 0h0m1 0h0m24.5 .5h0m3 0h0m11 0h0m-44 .5h0m20.5 0h0m8 0h0m28.5 0h0m7.5 0h0m5.5 0h0m1.5 0h0m-73.5 .5h0m10.5 0h0m3 0h0m2.5 0h0m57.5 0h0m-87.5 .5h0m9.5 0h0m7 0h0m10.5 0h0m3.5 0h0m-15.5 .5h0m71.5 0h0m-68.5 .5h0m16 0h0m-24.5 .5h0m9.5 0h0m3.5 0h0m4 0h0m7.5 0h0m37 0h0m13 0h0m-69 .5h0m1.5 0h0m4.5 0h0m3 0h0m13 0h0m5 0h0m21 0h0m1.5 0h0m16.5 0h0m9.5 0h0m-83.5 .5h0m6.5 0h0m20.5 0h0m2.5 0h0m-18 .5h0m56.5 0h0m16 0h0m-31 .5h0m8.5 0h0m6.5 0h0m-64 .5h0m12 0h0m33.5 0h0m7 0h0m-35 .5h0m1.5 0h0m6.5 0h0m29.5 0h0m9.5 0h0m-54 .5h0m4.5 0h0m7.5 0h0m5 0h0m1.5 0h0m8 0h0m23 0h0m-44 .5h0m.5 0h0m17 0h0m.5 0h0m3 0h0m2.5 0h0m3.5 0h0m17 0h0m14.5 0h0m19.5 0h0m-86.5 .5h0m37 0h0m20.5 0h0m14.5 0h0m-28.5 .5h0m1.5 0h0m22.5 0h0m41.5 0h0m-96.5 .5h0m37 0h0m-59.5 .5h0m26 0h0m36 0h0m-65.5 .5h0m23.5 0h0m18 0h0m2.5 0h0m13 0h0m3 0h0m24.5 0h0m-68 .5h0m42 0h0m7.5 0h0m-38.5 .5h0m10.5 0h0m21 0h0m-39.5 .5h0m41 0h0m-75.5 .5h0m19.5 0h0m16 0h0m2.5 0h0m7.5 0h0m16.5 0h0m25 0h0m17.5 0h0m7.5 0h0m-84 .5h0m20.5 0h0m61.5 0h0m-81.5 .5h0m8.5 0h0m6 0h0m40.5 0h0m-61 .5h0m22.5 .5h0m2 0h0m3.5 0h0m17.5 0h0m30 0h0m6 0h0m-77.5 .5h0m2.5 0h0m1 0h0m3.5 0h0m21 0h0m4 0h0m6.5 0h0m1.5 0h0m26 0h0m16 0h0m-62 .5h0m14.5 0h0m8 0h0m3.5 0h0m10.5 0h0m-50 .5h0m1 0h0m10.5 0h0m3.5 0h0m28 0h0m6 0h0m1 0h0m1.5 0h0m9.5 0h0m-68 .5h0m7 0h0m5.5 0h0m3.5 0h0m9 0h0m20.5 0h0m1 0h0m.5 0h0m-51 .5h0m4.5 0h0m21.5 0h0m14.5 0h0m46.5 0h0m-82.5 .5h0m3.5 0h0m7.5 0h0m7 0h0m27.5 0h0m12 0h0m-59 .5h0m.5 0h0m7.5 0h0m46 0h0m27.5 0h0m8 0h0m-65 .5h0m1.5 0h0m7.5 0h0m.5 0h0m36 0h0m16.5 0h0m-99.5 .5h0m4.5 0h0m3.5 0h0m15 0h0m34 0h0m-52 .5h0m18.5 0h0m8.5 0h0m18 0h0m6.5 0h0m-43.5 .5h0m14.5 0h0m37.5 0h0m20 0h0m-67 .5h0m51 0h0m-35.5 .5h0m2.5 0h0m3.5 0h0m30.5 0h0m8 0h0m-66 .5h0m7 0h0m19 0h0m1.5 0h0m19.5 0h0m-40 .5h0m7.5 0h0m22.5 0h0m4.5 0h0m13 0h0m16 0h0m1 0h0m10 0h0m14 0h0m-101 .5h0m12 0h0m39.5 0h0m21 0h0m-53.5 .5h0m1 0h0m5 0h0m15.5 0h0m9 0h0m13 0h0m17 0h0m-64 .5h0m31.5 0h0m1.5 0h0m8 0h0m13 0h0m-65.5 .5h0m19 0h0m2 0h0m29 0h0m-54.5 .5h0m14 0h0m6 0h0m53.5 0h0m-56.5 .5h0m8.5 0h0m9.5 0h0m33 0h0m-68 .5h0m5 0h0m17.5 0h0m3.5 0h0m63 0h0m-79.5 .5h0m.5 0h0m12 0h0m3.5 0h0m21.5 0h0m7.5 0h0m-60.5 .5h0m24 0h0m1 0h0m16.5 0h0m-31 .5h0m7.5 0h0m9 0h0m2 0h0m2 0h0m18 0h0m-39 .5h0m41 0h0m32.5 0h0m-60 .5h0m5 0h0m1 0h0m19.5 0h0m38.5 0h0m14 0h0m-103.5 .5h0m31 0h0m.5 0h0m7.5 0h0m3 0h0m9.5 0h0m4 0h0m-47 .5h0m59.5 0h0m27.5 0h0m-91.5 .5h0m16 0h0m31 0h0m35.5 0h0m9 0h0m-77 .5h0m12.5 0h0m27.5 0h0m-46.5 .5h0m20.5 0h0m18.5 0h0m29.5 0h0m-46.5 .5h0m24.5 0h0m-47.5 .5h0m4 0h0m20.5 0h0m17.5 0h0m7 0h0m20.5 0h0m-63 .5h0m18.5 0h0m21 0h0m23 0h0m-35 .5h0m40.5 0h0m-87.5 .5h0m1 0h0m14 0h0m19 0h0m5 0h0m23.5 0h0m-32.5 .5h0m5 0h0m4 0h0m19.5 0h0m4.5 0h0m-56 .5h0m62 0h0m-54 .5h0m16 0h0m9.5 0h0m51 0h0m-90.5 .5h0m39 0h0m6 0h0m-16 .5h0m3.5 0h0m6 0h0m17.5 0h0m-54.5 .5h0m8 0h0m27 0h0m28 0h0m10 0h0m-72 .5h0m35 0h0m1.5 0h0m2 0h0m6 0h0m15.5 0h0m-55.5 .5h0m5 0h0m37.5 0h0m8.5 0h0m1.5 0h0m-52.5 .5h0m6 0h0m16.5 0h0m3 0h0m17.5 0h0m4 0h0m12 0h0m-33.5 .5h0m4.5 0h0m16.5 0h0m8.5 0h0m-52.5 .5h0m1 0h0m1 0h0m15 0h0m9.5 0h0m-26 .5h0m22 0h0m.5 0h0m.5 0h0m6 0h0m-31 .5h0m18.5 0h0m1 0h0m8.5 0h0m1 0h0m12.5 0h0m17 0h0m-61 .5h0m22.5 0h0m6 0h0m3.5 0h0m8.5 0h0m-40.5 .5h0m.5 0h0m.5 0h0m1.5 0h0m26 0h0m-22 .5h0m13 0h0m16 0h0m.5 0h0m51.5 .5h0m-86.5 .5h0m17.5 0h0m2.5 0h0m2 0h0m.5 0h0m7 0h0m8.5 0h0m-38.5 .5h0m18 0h0m5 0h0m9.5 0h0m-50 .5h0m7.5 0h0m32.5 0h0m1 0h0m6.5 0h0m1.5 0h0m-36.5 .5h0m30.5 0h0m.5 0h0m-9.5 .5h0m9 0h0m24 .5h0m-49.5 .5h0m3 0h0m3.5 0h0m19 0h0m-22 .5h0m5.5 0h0m8 0h0m10.5 0h0m24.5 0h0m-56 .5h0m21 0h0m3.5 0h0m3.5 0h0m13 0h0m6 0h0m6.5 0h0m-43.5 .5h0m6.5 0h0m9.5 0h0m-25 .5h0m4.5 0h0m5 0h0m4 .5h0m14 0h0m2 0h0m11 0h0m3 0h0m-38 .5h0m2.5 0h0m3.5 0h0m2 0h0m13.5 0h0m6.5 0h0m.5 0h0m-37 .5h0m1.5 0h0m1.5 0h0m19.5 0h0m19 0h0m-46.5 .5h0m8 0h0m22.5 0h0m-31.5 .5h0m5 0h0m18.5 0h0m-13 .5h0m4.5 0h0m4 0h0m23 0h0m-29.5 .5h0m11.5 0h0m40.5 0h0m-67 .5h0m14 0h0m11.5 0h0m6 0h0m-38 .5h0m28 0h0m.5 0h0m-25.5 .5h0m2.5 0h0m26 0h0m6 0h0m-33.5 .5h0m25 0h0m-11.5 .5h0m3 0h0m13.5 0h0m-22.5 .5h0m12.5 0h0m3 0h0m.5 0h0m13.5 0h0m-18.5 .5h0m7 0h0m15.5 0h0m-31.5 .5h0m15 0h0m17.5 0h0m-14.5 .5h0m19 0h0m-29 .5h0m28 0h0m-17.5 .5h0m3.5 0h0m3 0h0m-30.5 .5h0m-5 1h0m9.5 0h0m13 0h0m6 .5h0m5.5 0h0m-40.5 .5h0m37 0h0m-28 1h0m12.5 0h0m1 0h0m8.5 .5h0m4 .5h0m-11.5 .5h0m7 0h0m37 0h0m-27 1h0m27 0h0m-59.5 2h0m7 3h0m5 .5h0m-17.5 2h0m33 1h0" stroke="#3450c8" stroke-width="1.4" stroke-linecap="round" fill="none"/>
<path d="m118 60h0m29 0h0m2.5 0h0m17 0h0m-49.5 .5h0m1 0h0m23.5 0h0m27 0h0m-8.5 .5h0m-43.5 .5h0m38.5 0h0m-36.5 .5h0m15 0h0m7.5 0h0m18.5 0h0m-27 .5h0m3 0h0m29 0h0m-48.5 .5h0m9 0h0m6.5 0h0m-1 .5h0m12 0h0m3 0h0m-26.5 .5h0m1 0h0m38.5 0h0m-45 .5h0m14.5 0h0m4.5 0h0m3 .5h0m15.5 0h0m1.5 0h0m1.5 0h0m5.5 0h0m-47 .5h0m10.5 0h0m23.5 0h0m10 .5h0m-43 .5h0m42.5 0h0m-43.5 .5h0m4 0h0m18.5 0h0m-29.5 .5h0m2 0h0m5 0h0m4 0h0m4.5 0h0m-10.5 .5h0m17.5 0h0m19.5 0h0m13 .5h0m-53 .5h0m1.5 0h0m14 0h0m-3 .5h0m6 0h0m3 0h0m1 0h0m26 0h0m-74 .5h0m32.5 0h0m17.5 0h0m8.5 0h0m17 0h0m7.5 0h0m-61 .5h0m16.5 0h0m8 0h0m-9.5 .5h0m3.5 0h0m9.5 0h0m9.5 0h0m10.5 0h0m4.5 .5h0m-47.5 .5h0m43 0h0m14 0h0m-30.5 .5h0m2.5 .5h0m-1.5 .5h0m.5 1h0m2.5 0h0m12.5 .5h0m-78 2.5h0m47 0h0m2 1h0m-52 .5h0m61 0h0m16 .5h0m-43 .5h0m21 0h0m-20 .5h0m28.5 0h0m7.5 .5h0m-57 .5h0m28.5 0h0m-37.5 .5h0m63 .5h0m2 1.5h0m-72 .5h0m43 0h0m37 0h0m-61.5 .5h0m6.5 0h0m6.5 0h0m3 .5h0m16.5 0h0m7.5 0h0m3 0h0m4 .5h0m-64 .5h0m88.5 0h0m-40 .5h0m-3.5 1.5h0m17.5 0h0m9.5 .5h0m13 0h0m-65.5 .5h0m50 0h0m27.5 0h0m-55.5 .5h0m24 0h0m-17 .5h0m17 0h0m-58 .5h0m1 .5h0m44.5 0h0m29 0h0m-31.5 .5h0m20 0h0m31.5 0h0m-101.5 .5h0m68 0h0m-35 .5h0m5.5 0h0m21.5 0h0m3 0h0m15.5 0h0m2.5 0h0m-33.5 .5h0m1.5 0h0m6 0h0m1 0h0m30 0h0m-39 .5h0m33.5 0h0m1 0h0m-94.5 .5h0m16 0h0m13.5 0h0m10 0h0m22 0h0m1 0h0m-20 1h0m11.5 0h0m-35.5 .5h0m25.5 0h0m44 0h0m-73 .5h0m14.5 0h0m7.5 0h0m24 0h0m1.5 0h0m6.5 0h0m23 0h0m-76.5 .5h0m7.5 0h0m9.5 0h0m21.5 0h0m19 0h0m8 0h0m1 1h0m-55 .5h0m34.5 0h0m-28.5 .5h0m40.5 0h0m20 0h0m-73 .5h0m14.5 0h0m32.5 0h0m9.5 0h0m-38.5 .5h0m18 0h0m3.5 0h0m4.5 0h0m-30 .5h0m86 0h0m-113.5 .5h0m28 0h0m6 0h0m31.5 0h0m23 0h0m-50.5 .5h0m38.5 0h0m-41.5 .5h0m3 0h0m-32.5 .5h0m20.5 0h0m6 0h0m25.5 0h0m2 0h0m5 0h0m7.5 0h0m12 0h0m-65 .5h0m27.5 0h0m58 0h0m-97.5 .5h0m15 0h0m3.5 0h0m2 0h0m18.5 0h0m16 0h0m15.5 0h0m6.5 0h0m-76 .5h0m12.5 0h0m35 0h0m-51 .5h0m13 0h0m6 0h0m11 0h0m5.5 0h0m.5 0h0m12.5 0h0m16 0h0m8 0h0m-69.5 .5h0m2 0h0m20 0h0m45.5 0h0m-74.5 .5h0m66.5 0h0m10 0h0m9 0h0m-84.5 .5h0m27.5 0h0m24.5 0h0m24.5 0h0m-63 .5h0m58.5 0h0m25.5 0h0m-107.5 .5h0m9 0h0m20 0h0m3.5 0h0m20.5 0h0m4 0h0m40.5 0h0m6.5 0h0m-76.5 .5h0m2 0h0m4.5 0h0m14 0h0m2 0h0m11 0h0m-39.5 .5h0m12.5 0h0m44.5 0h0m-28.5 .5h0m27 0h0m3 0h0m9.5 0h0m-74.5 .5h0m71 0h0m-81.5 .5h0m21.5 0h0m55.5 0h0m-18 .5h0m13.5 0h0m9.5 0h0m-75 .5h0m37.5 0h0m5.5 0h0m25.5 0h0m9 0h0m14 0h0m-85.5 .5h0m52 0h0m2 0h0m-58.5 .5h0m8.5 0h0m36.5 0h0m-34.5 .5h0m5.5 0h0m13 0h0m9.5 0h0m8.5 0h0m15.5 0h0m28.5 0h0m-85.5 .5h0m15.5 0h0m7.5 0h0m56.5 0h0m-89.5 .5h0m11.5 0h0m16 0h0m14.5 .5h0m8.5 0h0m15 0h0m29.5 0h0m-90 .5h0m47 0h0m17.5 0h0m-66.5 .5h0m36 0h0m6 0h0m7.5 0h0m11 0h0m2 0h0m16.5 0h0m-91 .5h0m27 0h0m9 0h0m9 0h0m4.5 0h0m26.5 0h0m5.5 0h0m-57.5 .5h0m3.5 0h0m1 0h0m7 0h0m4 0h0m13 0h0m6 0h0m10 0h0m5.5 0h0m4.5 0h0m-71 .5h0m28 0h0m19.5 0h0m12 0h0m15.5 0h0m-59 .5h0m13.5 0h0m10 0h0m14 0h0m21.5 0h0m4.5 0h0m-68 .5h0m2.5 0h0m.5 0h0m8 0h0m12.5 0h0m14.5 0h0m16.5 0h0m4 0h0m-59 .5h0m32 0h0m13 0h0m5 0h0m7 0h0m-57.5 .5h0m2 0h0m14.5 0h0m15 0h0m25 0h0m5 0h0m4 0h0m1 0h0m-84 .5h0m14 0h0m1 0h0m13.5 0h0m26 0h0m11 0h0m-45 .5h0m1 0h0m19 0h0m5.5 0h0m4.5 0h0m13 0h0m2.5 0h0m3.5 0h0m-47 .5h0m2.5 0h0m10.5 0h0m12.5 0h0m11.5 0h0m19.5 0h0m-61 .5h0m3 0h0m10.5 0h0m27 0h0m6.5 0h0m23.5 0h0m-62.5 .5h0m1.5 0h0m44.5 0h0m-60 .5h0m3.5 0h0m66 0h0m-56.5 .5h0m1 0h0m6 0h0m2 0h0m3.5 0h0m8.5 0h0m7 0h0m40.5 0h0m-53.5 .5h0m13 0h0m-37 .5h0m4 0h0m13 0h0m7.5 0h0m1 0h0m9.5 0h0m2 0h0m26.5 0h0m12.5 0h0m6 0h0m-99.5 .5h0m7 0h0m13 0h0m27.5 0h0m10.5 0h0m43.5 0h0m-76 .5h0m6.5 0h0m19.5 0h0m18 0h0m18.5 0h0m-56.5 .5h0m19 0h0m.5 0h0m1.5 0h0m2.5 0h0m8 0h0m24.5 0h0m-70 .5h0m12.5 0h0m1 0h0m6 0h0m45.5 0h0m-76.5 .5h0m4.5 0h0m1.5 0h0m9 0h0m8.5 0h0m11.5 0h0m30.5 0h0m3 0h0m16.5 0h0m-80.5 .5h0m1.5 0h0m3.5 0h0m3 0h0m39 0h0m13.5 0h0m38.5 0h0m-107.5 .5h0m15 0h0m27 0h0m11.5 0h0m2 0h0m31 0h0m3 0h0m-68 .5h0m59.5 0h0m-75.5 .5h0m9 0h0m4.5 0h0m16 0h0m36.5 0h0m6.5 0h0m-54 .5h0m5 0h0m2 0h0m9 0h0m3 0h0m26.5 0h0m18.5 0h0m3 0h0m-71.5 .5h0m2 0h0m.5 0h0m2 0h0m3.5 0h0m1.5 0h0m4 0h0m-15 .5h0m35 0h0m28.5 0h0m-71 .5h0m12 0h0m26 0h0m6.5 0h0m-24 .5h0m5.5 0h0m5 0h0m9 0h0m1 0h0m8.5 0h0m20 0h0m-69 .5h0m6.5 0h0m29.5 0h0m1 0h0m1 0h0m1.5 0h0m2.5 0h0m-53.5 .5h0m25.5 0h0m21.5 0h0m10 0h0m-47.5 .5h0m10 0h0m9 0h0m2.5 0h0m4.5 0h0m.5 0h0m6.5 0h0m7.5 0h0m23 0h0m-46 .5h0m24 0h0m-28.5 .5h0m5.5 0h0m23.5 0h0m-45 .5h0m9 0h0m3 0h0m1 0h0m5 0h0m15 0h0m23.5 0h0m21.5 0h0m-89 .5h0m11.5 0h0m6 0h0m14.5 0h0m4 0h0m3 0h0m-18.5 .5h0m1.5 0h0m9.5 0h0m12.5 0h0m5.5 0h0m6.5 0h0m8 0h0m14.5 0h0m-68 .5h0m8 0h0m14.5 0h0m2.5 0h0m5.5 0h0m32.5 0h0m-41.5 .5h0m.5 0h0m16.5 0h0m1 0h0m-42.5 .5h0m7 0h0m2 0h0m2 0h0m14.5 0h0m5 0h0m7.5 0h0m8.5 0h0m-47 .5h0m24 0h0m4.5 0h0m1 0h0m12.5 .5h0m9 0h0m-67.5 .5h0m9 0h0m7 0h0m5.5 0h0m30.5 0h0m4 0h0m-9.5 .5h0m3 0h0m9.5 0h0m3 0h0m-36 .5h0m15 0h0m3.5 0h0m3.5 0h0m4 0h0m-36 .5h0m3.5 0h0m26 0h0m14 0h0m6.5 0h0m10 0h0m-58 .5h0m.5 0h0m3 0h0m3.5 0h0m15 0h0m8 0h0m7.5 0h0m-43.5 .5h0m2.5 0h0m5 0h0m22 0h0m11 0h0m-40.5 .5h0m1.5 0h0m11 0h0m22.5 0h0m4.5 0h0m11.5 0h0m-50 .5h0m2 0h0m1 0h0m24.5 0h0m7 0h0m21.5 0h0m-58.5 .5h0m28.5 0h0m.5 0h0m1.5 0h0m5 0h0m2 0h0m6 0h0m10 0h0m2 0h0m3 0h0m-21.5 .5h0m24 0h0m22 0h0m-69.5 .5h0m15.5 0h0m7.5 0h0m3 0h0m11 0h0m-39 .5h0m17 0h0m8.5 0h0m1.5 0h0m10 0h0m8 0h0m-60 .5h0m5.5 0h0m11 0h0m15.5 0h0m2 0h0m3 0h0m3.5 0h0m-38 .5h0m6 0h0m3 0h0m2.5 0h0m2.5 0h0m14.5 0h0m13.5 0h0m39.5 0h0m-89 .5h0m2 0h0m13.5 0h0m2.5 0h0m16.5 0h0m4.5 0h0m7.5 0h0m49 0h0m-91.5 .5h0m1.5 0h0m7.5 0h0m3.5 0h0m20.5 0h0m1 0h0m-24.5 .5h0m67 0h0m-71 .5h0m50.5 0h0m-61.5 .5h0m18 0h0m2 0h0m19 0h0m1 0h0m8.5 0h0m-42.5 .5h0m16 0h0m17 0h0m8 0h0m3.5 .5h0m2 0h0m-36.5 .5h0m4 0h0m.5 0h0m19 0h0m-30 .5h0m3.5 0h0m18.5 0h0m1 0h0m3.5 0h0m23 0h0m6.5 0h0m-63.5 .5h0m16.5 0h0m1.5 0h0m13 0h0m5 0h0m4.5 0h0m.5 0h0m5.5 0h0m9 0h0m-38 .5h0m23.5 0h0m2.5 0h0m28.5 0h0m-65.5 .5h0m6 0h0m3 0h0m6 0h0m10 0h0m-22 .5h0m2.5 0h0m6 0h0m38.5 0h0m-45 .5h0m10 0h0m3 0h0m4.5 0h0m1.5 0h0m10 0h0m6 0h0m12 0h0m-50.5 .5h0m11.5 0h0m5 0h0m6 0h0m2 0h0m26.5 0h0m29.5 0h0m-74.5 .5h0m9.5 0h0m7.5 0h0m11.5 0h0m-33.5 .5h0m3 0h0m22 0h0m8.5 0h0m6 0h0m-35.5 .5h0m8.5 0h0m13 0h0m2 0h0m10.5 0h0m-39.5 .5h0m14.5 0h0m3 0h0m17 0h0m7.5 0h0m-40.5 .5h0m25.5 0h0m.5 0h0m15.5 0h0m-21 .5h0m33.5 0h0m-46.5 .5h0m14 0h0m-21.5 .5h0m4 0h0m8.5 0h0m23.5 0h0m-39.5 .5h0m.5 0h0m30.5 0h0m-24.5 .5h0m7.5 0h0m7 0h0m10.5 0h0m-38.5 .5h0m14.5 0h0m-.5 .5h0m17 0h0m21.5 .5h0m-31.5 .5h0m5.5 0h0m-13.5 .5h0m2 0h0m10 0h0m-7.5 .5h0m3.5 0h0m6 0h0m-17.5 .5h0m4.5 0h0m9.5 0h0m.5 1h0m-43 .5h0m40.5 .5h0m6.5 0h0m-2.5 .5h0m16 0h0m-33 .5h0m30 0h0m-2.5 .5h0m-14.5 .5h0m26 0h0m-25.5 .5h0m-11.5 .5h0m12.5 0h0m5.5 0h0m-3 1.5h0m8 .5h0m-15.5 .5h0m12.5 0h0m-21 .5h0m17.5 .5h0m-15.5 2h0m22 .5h0m-4.5 1.5h0m-26.5 3.5h0m-10 3h0" stroke="#1a2a9e" stroke-width="1.45" stroke-linecap="round" fill="none"/>
<path d="m69.5 125.5h0m15.5 0h0m-14 1h0m10.5 1h0m-1.5 .5h0m5 .5h0m-4 1h0m-5 .5h0m4.5 0h0m-3 .5h0m10 0h0m-24.5 1h0m3 .5h0m21.5 0h0m-5 1h0m2 0h0m-19 .5h0m6 0h0m-5 .5h0m4.5 0h0m-1 1h0m31 0h0m-41 2h0m5 0h0m3.5 0h0m19 0h0m-3 1h0m-2 .5h0m-16 .5h0m-3.5 .5h0m24 1h0m-5.5 1.5h0m.5 0h0m1 0h0m4.5 0h0m-23.5 1h0m1.5 0h0m22.5 0h0m-6 .5h0m-19 .5h0m15.5 0h0m7.5 .5h0m-28.5 .5h0m18.5 .5h0m-13.5 1h0m-2.5 .5h0m31.5 0h0m-29 .5h0m24 0h0m-8.5 1h0m-16.5 .5h0m14 0h0m-27 .5h0m5.5 0h0m1 0h0m14 0h0m-20.5 1.5h0m21.5 .5h0m.5 0h0m-7 1h0m8.5 0h0m-3 1h0m-17.5 1h0m9 .5h0m4.5 0h0m-8 .5h0m-.5 .5h0m.5 0h0m-1 .5h0m-6.5 1.5h0m11 1.5h0m11 0h0m-5.5 1h0m4.5 2h0" stroke="#3aa6dc" stroke-width="1.4" stroke-linecap="round" fill="none"/>
<g transform="translate(74 140.4) rotate(-42)" filter="url(#fb)">
<ellipse rx="13" ry="6.5" fill="#2236b4" opacity="0.8"/>
<ellipse rx="10.92" ry="5.46" fill="#2a6fd6" opacity="1"/>
<ellipse rx="9.36" ry="4.68" fill="#2fb3d8" opacity="1"/>
<ellipse rx="7.8" ry="3.9" fill="#3fb45a" opacity="1"/>
<ellipse rx="5.46" ry="2.73" fill="#9fce3a" opacity="1"/>
<ellipse rx="3.9" ry="1.95" fill="#f0c020" opacity="1"/>
<ellipse rx="2.6" ry="1.3" fill="#f07a1c" opacity="1"/>
<ellipse rx="1.56" ry="0.78" fill="#e5301c" opacity="1"/>
</g>
</g>
<line x1="89.3" y1="0" x2="89.3" y2="218.6" stroke="#000" stroke-width="1.7"/>
<line x1="0" y1="127.8" x2="218.5" y2="127.8" stroke="#000" stroke-width="1.7"/>
<rect x="0" y="0" width="218.5" height="218.6" fill="none" stroke="#2a2a2a" stroke-width="1.2"/>
<g font-size="9.0" fill="#222">
<text x="3.4" y="18">Q1</text><text x="3.4" y="31.8">5.49</text>
<text x="200" y="18" text-anchor="end">Q2</text><text x="200" y="31.8" text-anchor="end">8.20</text>
<text x="3.4" y="193.4">Q4</text><text x="3.4" y="207.4">81.5</text>
<text x="200" y="193.4" text-anchor="end">Q3</text><text x="200" y="207.4" text-anchor="end">4.76</text>
</g>
</g>
<g transform="translate(830.6 360.6)">
<rect x="0" y="0" width="218.9" height="218.6" fill="#fff"/>
<g clip-path="url(#fc)">
<path d="m127 37h0m34 15.5h0m-19.5 .5h0m4 0h0m13.5 0h0m.5 0h0m7.5 0h0m-42 .5h0m4.5 .5h0m5.5 0h0m23 0h0m.5 0h0m-27.5 .5h0m20.5 0h0m-19 .5h0m38 0h0m-40 .5h0m6 0h0m1 .5h0m13.5 0h0m19.5 0h0m-39 .5h0m1.5 0h0m5.5 0h0m27 0h0m2 0h0m5 0h0m-23 .5h0m-33 .5h0m26 0h0m1 0h0m3 0h0m14 0h0m3 0h0m.5 0h0m-41.5 .5h0m1.5 0h0m1 0h0m1.5 0h0m32.5 0h0m12 0h0m-45 .5h0m13 .5h0m7.5 0h0m7 0h0m-8.5 .5h0m26 0h0m3 0h0m-27.5 .5h0m-13.5 .5h0m13 0h0m2.5 0h0m20 .5h0m-39 .5h0m2.5 0h0m3 0h0m10.5 0h0m-15.5 .5h0m.5 0h0m2 0h0m3 0h0m26.5 0h0m-24.5 .5h0m2.5 0h0m16.5 0h0m12.5 0h0m-47.5 .5h0m21.5 0h0m18 0h0m5 0h0m-35.5 .5h0m3.5 0h0m17.5 0h0m5.5 0h0m6 0h0m2 0h0m-42.5 .5h0m30.5 0h0m-28 .5h0m23 0h0m4 0h0m-6.5 .5h0m-21.5 .5h0m28 0h0m2 0h0m1 0h0m8 0h0m-38.5 .5h0m6 0h0m22.5 0h0m-10 .5h0m6.5 .5h0m2 0h0m15.5 0h0m-34.5 .5h0m-49.5 .5h0m57 0h0m26.5 0h0m-41.5 .5h0m10 .5h0m22 0h0m-27.5 .5h0m-5 .5h0m6 .5h0m-4 2h0m42.5 0h0m-49.5 .5h0m42 .5h0m-73 .5h0m-19.5 .5h0m9 1h0m49.5 0h0m-.5 .5h0m1.5 1h0m-9.5 1.5h0m11.5 0h0m19 0h0m19.5 .5h0m-68 .5h0m-23.5 .5h0m30 0h0m4.5 0h0m1 0h0m32.5 0h0m5 .5h0m-66.5 .5h0m5 0h0m3.5 .5h0m11.5 0h0m19.5 .5h0m16 0h0m-1.5 1.5h0m1 0h0m-57 .5h0m-12 1h0m22 0h0m37.5 0h0m-26 .5h0m26 0h0m-54 .5h0m27 1h0m16 0h0m44.5 0h0m-36 .5h0m-42 .5h0m60 0h0m-30.5 .5h0m-36.5 .5h0m1.5 0h0m41.5 0h0m2.5 .5h0m-51.5 .5h0m15.5 0h0m40 0h0m53 0h0m-92.5 .5h0m1.5 0h0m72.5 0h0m-68.5 .5h0m9 .5h0m-28 .5h0m40.5 .5h0m14 0h0m-39.5 .5h0m3 0h0m81 0h0m-43.5 .5h0m11.5 0h0m8.5 0h0m-60.5 .5h0m15 0h0m3 0h0m34.5 0h0m-73.5 .5h0m49 0h0m-23.5 .5h0m40.5 0h0m2.5 0h0m11.5 0h0m-72.5 .5h0m44.5 0h0m7.5 0h0m-42.5 .5h0m.5 0h0m15.5 0h0m32.5 0h0m23.5 0h0m-44.5 .5h0m-16 .5h0m29.5 0h0m-48.5 .5h0m17 0h0m22.5 0h0m33 0h0m1 0h0m16 0h0m-84.5 .5h0m56.5 0h0m-22 .5h0m-13 .5h0m4.5 0h0m42 0h0m-79 .5h0m4 0h0m10 0h0m-14.5 .5h0m39.5 0h0m2 0h0m26 0h0m21 0h0m-89 .5h0m20.5 0h0m9.5 0h0m-17.5 .5h0m58 0h0m3.5 0h0m-6 .5h0m-67 .5h0m2.5 0h0m56 0h0m-61 .5h0m31 0h0m20.5 0h0m-50 .5h0m29 0h0m12.5 0h0m43 0h0m-65.5 .5h0m31.5 0h0m1.5 .5h0m7 0h0m41 0h0m-90.5 .5h0m27 0h0m10.5 0h0m2 0h0m14.5 0h0m7.5 0h0m-59.5 .5h0m84.5 0h0m-83 .5h0m14 0h0m22.5 0h0m3 0h0m-34 .5h0m42 0h0m35 0h0m-86.5 .5h0m23.5 0h0m19 .5h0m8.5 0h0m35.5 0h0m-77 .5h0m12 0h0m18 0h0m31 0h0m3 0h0m-77.5 .5h0m8.5 0h0m5 0h0m11 0h0m18 0h0m4.5 0h0m-43 .5h0m18 0h0m6.5 0h0m12.5 0h0m5 0h0m41.5 0h0m-52.5 .5h0m12 0h0m1.5 0h0m-34 .5h0m5.5 0h0m4.5 0h0m6.5 .5h0m5.5 0h0m-26 .5h0m7.5 0h0m43 0h0m33 0h0m-60 .5h0m4.5 0h0m4 0h0m4.5 0h0m10.5 0h0m13 0h0m11.5 0h0m-89.5 .5h0m5 0h0m2.5 0h0m29 0h0m19 0h0m3 0h0m2.5 0h0m10 0h0m21 0h0m-59 .5h0m9.5 0h0m9.5 0h0m8.5 0h0m5 0h0m13 0h0m-10 .5h0m1 0h0m4 0h0m7.5 0h0m-82.5 .5h0m68 0h0m-54 .5h0m30 0h0m3 0h0m18.5 0h0m-49 .5h0m32.5 0h0m7 0h0m4.5 0h0m16.5 0h0m-60.5 .5h0m16.5 0h0m24.5 0h0m14.5 0h0m-58 .5h0m3 0h0m8.5 0h0m2 0h0m11 0h0m28 0h0m14.5 0h0m3 0h0m2.5 0h0m-33 .5h0m31 0h0m-78.5 .5h0m11 0h0m10.5 0h0m30 0h0m-40.5 .5h0m5 0h0m18 0h0m3.5 0h0m13 0h0m41.5 0h0m-42.5 .5h0m2.5 0h0m-19.5 .5h0m8.5 0h0m8 0h0m28.5 0h0m11.5 0h0m-66 .5h0m13.5 0h0m13.5 0h0m37.5 0h0m-70.5 .5h0m-8.5 .5h0m22.5 0h0m5 0h0m6.5 0h0m10.5 0h0m10 0h0m6.5 0h0m13 0h0m-59.5 .5h0m.5 0h0m1.5 0h0m8.5 0h0m11 0h0m15.5 0h0m-37 .5h0m9 0h0m6.5 0h0m37.5 0h0m-90.5 .5h0m11 0h0m22.5 0h0m3.5 0h0m9 0h0m8.5 0h0m15 0h0m9 0h0m-68 .5h0m3.5 0h0m54.5 0h0m7.5 0h0m13.5 0h0m-65.5 .5h0m9 0h0m20.5 0h0m10.5 0h0m-6 .5h0m33 0h0m-81 .5h0m71 0h0m-32 .5h0m3.5 0h0m5.5 0h0m.5 0h0m10.5 0h0m-65 .5h0m4.5 0h0m9.5 0h0m3 0h0m17 0h0m16.5 .5h0m-28.5 .5h0m15.5 0h0m10 0h0m19.5 0h0m15.5 0h0m-66 .5h0m47 0h0m-49 .5h0m2.5 0h0m1 0h0m18 0h0m-22.5 .5h0m39 0h0m5.5 0h0m1 0h0m-42.5 .5h0m.5 0h0m1.5 0h0m2.5 0h0m9 0h0m7.5 0h0m2.5 0h0m16 0h0m31.5 0h0m29 0h0m-77 .5h0m58.5 0h0m-86 .5h0m22.5 0h0m7.5 0h0m2 0h0m-31.5 .5h0m21.5 .5h0m12 0h0m18.5 0h0m1 0h0m-41 .5h0m3 0h0m20 0h0m21 0h0m-38 .5h0m3.5 0h0m23 0h0m-56 1h0m15 0h0m21 0h0m-9 .5h0m19 0h0m-35.5 .5h0m34.5 0h0m12 0h0m4 0h0m15 .5h0m-50 .5h0m.5 0h0m34 0h0m31.5 0h0m-101.5 .5h0m37.5 0h0m11 0h0m25.5 0h0m-57 .5h0m35 0h0m2 0h0m-12 .5h0m4 0h0m7 0h0m-41.5 .5h0m48 0h0m6.5 0h0m9.5 0h0m-65 .5h0m.5 0h0m2 0h0m21 0h0m.5 0h0m11 0h0m10 0h0m15.5 0h0m-72.5 .5h0m44 0h0m40.5 0h0m-47 .5h0m20.5 0h0m4 0h0m-80 .5h0m20 0h0m93 0h0m7 0h0m-91.5 .5h0m8.5 0h0m20.5 0h0m-25 .5h0m37 0h0m18.5 0h0m15.5 0h0m-33.5 .5h0m2 0h0m22 0h0m-63.5 .5h0m3 0h0m18.5 0h0m28.5 0h0m-49.5 .5h0m22 .5h0m36 0h0m-61.5 .5h0m37.5 0h0m23 0h0m1 0h0m2.5 0h0m-14.5 .5h0m-54.5 .5h0m12 0h0m24.5 0h0m17 0h0m-55 .5h0m7 0h0m-3 .5h0m61 0h0m7.5 0h0m-76 .5h0m9.5 0h0m2 0h0m1.5 0h0m18.5 0h0m3.5 .5h0m2.5 0h0m21.5 0h0m33 0h0m-80 .5h0m18 0h0m23.5 0h0m22 0h0m-87.5 .5h0m17.5 0h0m-22.5 .5h0m11 0h0m54 0h0m10.5 0h0m-66 .5h0m24.5 0h0m3.5 0h0m11.5 0h0m1.5 0h0m49.5 0h0m-71 .5h0m15.5 0h0m4 0h0m5.5 0h0m-25.5 .5h0m15.5 .5h0m-6 .5h0m-14 .5h0m4.5 0h0m13 0h0m3 0h0m2 0h0m-30.5 .5h0m37.5 0h0m20 0h0m8 0h0m-71 .5h0m24.5 0h0m18.5 0h0m2.5 0h0m-34 .5h0m57.5 0h0m-47 .5h0m5 0h0m2 0h0m-9.5 .5h0m7 0h0m-35 .5h0m39.5 0h0m20 0h0m-40 .5h0m16 0h0m15.5 0h0m-27.5 .5h0m14 0h0m-10 .5h0m2.5 0h0m7 0h0m-34.5 .5h0m26 0h0m4.5 0h0m-6 .5h0m-15 .5h0m41 0h0m-27 .5h0m-21.5 .5h0m21 0h0m9 0h0m7 0h0m11.5 0h0m8 0h0m12.5 0h0m-50 .5h0m1.5 0h0m4 0h0m3 0h0m4 .5h0m25 0h0m-20 .5h0m18 0h0m-48 .5h0m16.5 0h0m-21.5 .5h0m23 0h0m-16 .5h0m29 0h0m20.5 0h0m-45 1h0m2 0h0m-2.5 1h0m-4 .5h0m25 0h0m-12.5 .5h0m6.5 0h0m-22 .5h0m-14.5 1h0m45.5 0h0m5 0h0m27 0h0m-39.5 .5h0m-37.5 .5h0m27.5 0h0m5.5 .5h0m-15.5 1h0m26 1h0m-32.5 1.5h0m10 1h0m-.5 3.5h0m19 .5h0m-6 3.5h0m33 3h0" stroke="#6f8fe6" stroke-width="1.35" stroke-linecap="round" fill="none"/>
<path d="m165 52h0m1 0h0m-34.5 .5h0m4.5 0h0m0 .5h0m-12 .5h0m18.5 0h0m-13 .5h0m11 0h0m2.5 0h0m27 .5h0m2 0h0m-20.5 .5h0m2.5 0h0m5.5 0h0m4.5 0h0m-34.5 .5h0m5.5 0h0m1.5 0h0m5.5 0h0m5 0h0m-25 .5h0m.5 0h0m1.5 0h0m2.5 0h0m8.5 0h0m11 0h0m8.5 0h0m.5 0h0m-32 .5h0m7.5 0h0m4 0h0m1 0h0m21.5 0h0m19 0h0m-38.5 .5h0m7 0h0m3 0h0m16 0h0m-34.5 .5h0m7 0h0m14 0h0m1.5 0h0m-28 .5h0m4.5 0h0m16 0h0m19.5 0h0m-42 .5h0m.5 0h0m4.5 0h0m12.5 0h0m8 0h0m-15 .5h0m18.5 0h0m16 0h0m.5 0h0m-46.5 .5h0m7 0h0m16.5 0h0m1.5 0h0m25 0h0m-47.5 .5h0m1 0h0m.5 0h0m10.5 0h0m3 0h0m2 0h0m4 0h0m.5 0h0m8.5 0h0m-4 .5h0m1.5 0h0m7 0h0m3.5 0h0m-50.5 .5h0m20 0h0m3 .5h0m3.5 0h0m1 0h0m32 0h0m-86.5 .5h0m39 0h0m11.5 0h0m12 0h0m2.5 0h0m21 0h0m2.5 0h0m-46.5 .5h0m6.5 0h0m9 0h0m.5 0h0m2.5 0h0m14.5 0h0m4.5 0h0m4 0h0m-55.5 .5h0m12.5 0h0m2 0h0m.5 0h0m16.5 0h0m.5 0h0m4 0h0m16 0h0m-29.5 .5h0m2.5 0h0m3 0h0m12 0h0m8.5 0h0m-36.5 .5h0m28 0h0m7.5 0h0m1.5 0h0m10 0h0m-50 .5h0m10.5 0h0m17 0h0m4 0h0m7.5 0h0m-46 .5h0m5 0h0m9.5 0h0m3.5 0h0m8 0h0m9 0h0m-32.5 .5h0m1.5 0h0m18.5 0h0m9.5 0h0m3 0h0m10.5 0h0m1.5 0h0m-41 .5h0m6 0h0m6.5 0h0m11.5 0h0m13 0h0m-40 .5h0m3.5 0h0m3 0h0m2.5 0h0m.5 0h0m15.5 0h0m5.5 0h0m4.5 0h0m.5 0h0m6.5 0h0m7.5 0h0m-34 .5h0m6.5 0h0m5.5 0h0m7.5 0h0m5.5 0h0m6.5 0h0m-46 .5h0m17 0h0m26 0h0m-47.5 .5h0m5.5 0h0m40 0h0m-66 .5h0m23 0h0m10.5 0h0m3 0h0m25 0h0m.5 0h0m-31 .5h0m35.5 0h0m-70.5 .5h0m16.5 .5h0m49.5 .5h0m-30.5 1h0m3 0h0m-50.5 1h0m14 0h0m18 0h0m38 0h0m-18.5 .5h0m-45.5 .5h0m71.5 0h0m-18 1h0m-47.5 .5h0m37 0h0m7.5 0h0m5 0h0m6.5 0h0m-74 .5h0m30 0h0m36.5 0h0m3.5 0h0m-64.5 .5h0m7 0h0m33 0h0m-29.5 1.5h0m14 0h0m2.5 0h0m34 0h0m2 0h0m2.5 0h0m-24 .5h0m28.5 0h0m-16.5 .5h0m10 .5h0m11.5 0h0m-23 .5h0m-35.5 .5h0m31.5 0h0m12.5 .5h0m16.5 0h0m-71.5 .5h0m47.5 .5h0m27 0h0m-81.5 .5h0m42.5 0h0m21 0h0m-60 .5h0m44 .5h0m22.5 0h0m-34 .5h0m17 .5h0m2.5 0h0m16.5 0h0m2 .5h0m1.5 0h0m9.5 0h0m15.5 0h0m-91 .5h0m11 0h0m30.5 0h0m17.5 0h0m20.5 0h0m-88 .5h0m35 0h0m18.5 0h0m22 0h0m-53.5 .5h0m22 0h0m24.5 0h0m-67 .5h0m11 0h0m46.5 0h0m-53.5 .5h0m55 0h0m3.5 0h0m4 0h0m-73.5 .5h0m3.5 0h0m85 0h0m-74.5 .5h0m14 0h0m10.5 0h0m20 0h0m20 0h0m23 0h0m-57 .5h0m16.5 0h0m19 0h0m2.5 0h0m-31.5 .5h0m5.5 0h0m7.5 0h0m11 0h0m-43.5 .5h0m29.5 0h0m-23 .5h0m2 0h0m6.5 0h0m22.5 0h0m-64.5 .5h0m-4 .5h0m28.5 0h0m17 0h0m24.5 0h0m25.5 0h0m-46.5 .5h0m4 0h0m29 0h0m-75.5 .5h0m16 0h0m13.5 0h0m25.5 0h0m6.5 0h0m-64 .5h0m11.5 0h0m6.5 0h0m32.5 0h0m4.5 0h0m10.5 0h0m-47.5 .5h0m3 0h0m27.5 0h0m1.5 0h0m1 0h0m20 0h0m-60.5 .5h0m42 0h0m4.5 0h0m22.5 0h0m-70.5 .5h0m42 0h0m2.5 0h0m11 0h0m3.5 0h0m-3.5 .5h0m24 0h0m2.5 0h0m-57 .5h0m35.5 0h0m-59.5 .5h0m9 0h0m4.5 0h0m14 0h0m1.5 0h0m35 0h0m41 0h0m-109.5 .5h0m2.5 0h0m16.5 0h0m12.5 0h0m7.5 0h0m5.5 0h0m7 0h0m21.5 0h0m5 0h0m-87.5 .5h0m78.5 .5h0m.5 0h0m4.5 0h0m-72 .5h0m1.5 0h0m108.5 0h0m-105.5 .5h0m49.5 0h0m34.5 0h0m-92.5 .5h0m42.5 0h0m3 0h0m10.5 0h0m1 0h0m-71.5 .5h0m11.5 0h0m25 0h0m7 0h0m4.5 0h0m3.5 0h0m8.5 0h0m30.5 0h0m-71 .5h0m42.5 0h0m26 0h0m1 0h0m5 0h0m-35.5 .5h0m8 0h0m4.5 0h0m2.5 0h0m2 0h0m27 0h0m-94 .5h0m.5 0h0m20 0h0m4.5 0h0m9 0h0m31 0h0m-68 .5h0m23.5 0h0m39.5 0h0m10.5 0h0m3 0h0m4 0h0m4 0h0m9.5 0h0m-88.5 .5h0m6.5 0h0m25.5 0h0m10 0h0m1 0h0m15.5 0h0m11 0h0m3.5 0h0m21.5 0h0m-87 .5h0m6.5 0h0m1 0h0m3 0h0m18 0h0m23.5 0h0m3 0h0m2.5 0h0m18 0h0m8.5 0h0m4 0h0m-98.5 .5h0m7 0h0m2 0h0m6.5 0h0m5 0h0m23.5 0h0m15.5 0h0m1 0h0m27.5 0h0m-85.5 .5h0m5 0h0m11.5 0h0m44 0h0m34.5 0h0m-102 .5h0m15 0h0m3 0h0m3 0h0m22.5 0h0m10.5 0h0m6 0h0m1 0h0m3 0h0m18.5 0h0m1.5 0h0m-79.5 .5h0m23 0h0m27.5 0h0m16 0h0m6 0h0m43 0h0m-112.5 .5h0m9.5 0h0m14.5 0h0m1.5 0h0m12.5 0h0m22.5 0h0m7 0h0m4.5 0h0m-35 .5h0m6 0h0m3 0h0m2 0h0m4.5 0h0m18.5 0h0m31 0h0m-85 .5h0m2.5 0h0m24 0h0m1.5 0h0m3.5 0h0m3 0h0m9 0h0m.5 0h0m7 0h0m17 0h0m-76 .5h0m19.5 0h0m5.5 0h0m3.5 0h0m9 0h0m6 0h0m5 0h0m-52 .5h0m3.5 0h0m6.5 0h0m3.5 0h0m3 0h0m18.5 0h0m11.5 0h0m15.5 0h0m4.5 0h0m.5 0h0m-53.5 .5h0m4.5 0h0m3 0h0m9 0h0m28 0h0m.5 0h0m8.5 0h0m-79 .5h0m8.5 0h0m12 0h0m9 0h0m4 0h0m2.5 0h0m15.5 0h0m10 0h0m-85 .5h0m36 0h0m21.5 0h0m22.5 0h0m.5 0h0m4 0h0m20.5 0h0m-71.5 .5h0m3 0h0m6 0h0m28 0h0m6 0h0m29.5 0h0m1.5 0h0m-89.5 .5h0m33 0h0m26 0h0m-50.5 .5h0m19 0h0m21.5 0h0m29 0h0m6.5 0h0m-91 .5h0m13.5 0h0m3.5 0h0m17.5 0h0m14 0h0m3 0h0m6 0h0m12 0h0m3.5 0h0m12.5 0h0m11 0h0m.5 0h0m-69.5 .5h0m7.5 0h0m6 0h0m4.5 0h0m1 0h0m2.5 0h0m4 0h0m14.5 0h0m8 0h0m-46.5 .5h0m21 0h0m3 0h0m26 0h0m26.5 0h0m-87.5 .5h0m2 0h0m5 0h0m3 0h0m23.5 0h0m11.5 0h0m.5 0h0m3 0h0m8.5 0h0m1.5 0h0m7.5 0h0m25.5 0h0m-95.5 .5h0m11.5 0h0m13.5 0h0m17.5 0h0m22 0h0m4 0h0m21 0h0m-78 .5h0m26 0h0m14 0h0m17.5 0h0m-51 .5h0m26.5 0h0m12 0h0m17.5 0h0m.5 0h0m-77 .5h0m17 0h0m9 0h0m4 0h0m3 0h0m9 0h0m12 0h0m28.5 0h0m25.5 0h0m-100 .5h0m15.5 0h0m8 0h0m19 0h0m5.5 0h0m24.5 0h0m-70.5 .5h0m7 0h0m10.5 0h0m1.5 0h0m9.5 0h0m3.5 0h0m12 0h0m2.5 0h0m6.5 0h0m11 0h0m9 0h0m6 0h0m-52 .5h0m4.5 0h0m11 0h0m3.5 0h0m16.5 0h0m2.5 0h0m9 0h0m2 0h0m4.5 0h0m11.5 0h0m-87 .5h0m1 0h0m17.5 0h0m6 0h0m6.5 0h0m6.5 0h0m30.5 0h0m.5 0h0m-88.5 .5h0m7 0h0m12 0h0m6 0h0m7 0h0m3.5 0h0m10.5 0h0m2.5 0h0m13.5 0h0m-92 .5h0m41 0h0m19 0h0m8 0h0m3.5 0h0m18.5 0h0m.5 0h0m3.5 0h0m3 0h0m27.5 0h0m-90.5 .5h0m10.5 0h0m15.5 0h0m2.5 0h0m1 0h0m24 0h0m.5 0h0m25 0h0m-85.5 .5h0m13.5 0h0m4.5 0h0m16.5 0h0m17 0h0m6.5 0h0m4.5 0h0m2 0h0m15.5 0h0m4.5 0h0m-84 .5h0m8.5 0h0m5.5 0h0m5 0h0m29.5 0h0m3 0h0m11 0h0m3 0h0m14.5 0h0m9 0h0m1.5 0h0m-95 .5h0m10 0h0m10 0h0m4.5 0h0m8 0h0m14.5 0h0m1 0h0m12 0h0m9 0h0m3.5 0h0m13 0h0m3.5 0h0m24.5 0h0m-94.5 .5h0m17.5 0h0m2 0h0m8 0h0m39.5 0h0m30.5 0h0m-89 .5h0m5.5 0h0m.5 0h0m42.5 0h0m.5 0h0m29.5 0h0m-92.5 .5h0m5 0h0m4.5 0h0m3 0h0m4 0h0m13 0h0m9.5 0h0m-51.5 .5h0m14.5 0h0m10 0h0m.5 0h0m8 0h0m9.5 0h0m12.5 0h0m4 0h0m14 0h0m6.5 0h0m-51 .5h0m5 0h0m1.5 0h0m.5 0h0m6.5 0h0m4.5 0h0m9 0h0m6 0h0m2.5 0h0m11 0h0m3.5 0h0m-67 .5h0m19.5 0h0m.5 0h0m8.5 0h0m1 0h0m3 0h0m7 0h0m14.5 0h0m-38.5 .5h0m8 0h0m1 0h0m2.5 0h0m10.5 0h0m1.5 0h0m14 0h0m14 0h0m16.5 0h0m-84.5 .5h0m38 0h0m2.5 0h0m5.5 0h0m4 0h0m1 0h0m15.5 0h0m2.5 0h0m-67 .5h0m3.5 0h0m2 0h0m42.5 0h0m12.5 0h0m17 0h0m-79 .5h0m3 0h0m2.5 0h0m18 0h0m19 0h0m20 0h0m.5 0h0m2.5 0h0m-55.5 .5h0m.5 0h0m5.5 0h0m4 0h0m2.5 0h0m6 0h0m14 0h0m5.5 0h0m50.5 0h0m-95.5 .5h0m17.5 0h0m11.5 0h0m13 0h0m9.5 0h0m27.5 0h0m-89.5 .5h0m30.5 0h0m8 0h0m1 0h0m.5 0h0m13 0h0m9.5 0h0m4.5 0h0m20 0h0m27.5 0h0m-117 .5h0m20.5 0h0m10 0h0m.5 0h0m21.5 0h0m26 0h0m5.5 0h0m-63.5 .5h0m6.5 0h0m1 0h0m5.5 0h0m59.5 0h0m6.5 0h0m-89.5 .5h0m4.5 0h0m12 0h0m8 0h0m7 0h0m2.5 0h0m5 0h0m15.5 0h0m-38 .5h0m16 0h0m29 0h0m3.5 0h0m39 0h0m-80 .5h0m28 0h0m8.5 0h0m41 0h0m-43 .5h0m3 0h0m-79 .5h0m66.5 0h0m.5 0h0m4 0h0m-56 .5h0m14 0h0m11 0h0m28 0h0m40.5 0h0m-111.5 .5h0m21 0h0m.5 0h0m12 0h0m7 0h0m1 0h0m8.5 0h0m1 0h0m26.5 0h0m14.5 0h0m1.5 0h0m-67.5 .5h0m14.5 0h0m12.5 0h0m8.5 0h0m11.5 0h0m29 0h0m-89 .5h0m2.5 0h0m8.5 0h0m15 0h0m8 0h0m8.5 0h0m49 0h0m12 0h0m-94 .5h0m23.5 0h0m20.5 0h0m11 0h0m-51 .5h0m23.5 0h0m3 0h0m28 0h0m3 0h0m-66 .5h0m10 0h0m1 0h0m38 0h0m35.5 0h0m-101.5 .5h0m23 0h0m16 0h0m6.5 0h0m10.5 0h0m11.5 0h0m7 0h0m8.5 0h0m13 0h0m-73.5 .5h0m36.5 0h0m-57.5 .5h0m18 0h0m20.5 0h0m7 0h0m.5 0h0m.5 0h0m3.5 0h0m21.5 0h0m-63 .5h0m6 0h0m.5 0h0m3 0h0m36.5 0h0m12 0h0m9 0h0m-95.5 .5h0m42.5 0h0m14 0h0m1.5 0h0m11.5 0h0m2 0h0m19 0h0m53.5 0h0m-79.5 .5h0m7 0h0m32.5 0h0m-84 .5h0m12 0h0m33 0h0m3 0h0m17.5 0h0m8 0h0m-54.5 .5h0m35.5 0h0m9 0h0m28.5 0h0m-76.5 .5h0m29.5 0h0m6.5 0h0m18.5 0h0m-60 .5h0m6.5 0h0m.5 0h0m4.5 0h0m14 0h0m9 0h0m6.5 0h0m10 0h0m9.5 0h0m1 0h0m-61 .5h0m8 0h0m17.5 0h0m2.5 0h0m18 0h0m13 0h0m5 0h0m-67.5 .5h0m5 0h0m1 0h0m22.5 0h0m3 0h0m3 0h0m1 0h0m2.5 0h0m3.5 0h0m2.5 0h0m-13.5 .5h0m-37.5 .5h0m36.5 0h0m16.5 0h0m12.5 0h0m9.5 0h0m16 0h0m-75.5 .5h0m4.5 0h0m22 0h0m3 0h0m7 0h0m21 0h0m4.5 0h0m-80.5 .5h0m48 0h0m29.5 0h0m-60 .5h0m4.5 0h0m14 0h0m11 0h0m10 0h0m1.5 0h0m16.5 0h0m15 0h0m-82 .5h0m10.5 0h0m1.5 0h0m31.5 0h0m27.5 0h0m5.5 0h0m-69.5 .5h0m23.5 0h0m3 0h0m1.5 0h0m6 0h0m7.5 0h0m-58.5 .5h0m40 0h0m6 0h0m8 0h0m2 0h0m8.5 0h0m-23 .5h0m4.5 0h0m39 0h0m-62.5 .5h0m14 0h0m6 0h0m-4.5 .5h0m2.5 0h0m1 0h0m5.5 0h0m20.5 0h0m-48 .5h0m18 0h0m5.5 0h0m2 0h0m12 0h0m-68 .5h0m19 0h0m10.5 0h0m6.5 0h0m7 0h0m1 0h0m5.5 0h0m13 0h0m2.5 0h0m60 0h0m-100.5 .5h0m19 0h0m1.5 0h0m10 0h0m3 0h0m-50 .5h0m12 0h0m5.5 0h0m11.5 0h0m5 0h0m11 0h0m15 0h0m8.5 0h0m-68 .5h0m8.5 0h0m18 0h0m1.5 0h0m8.5 0h0m1 0h0m4.5 0h0m66.5 0h0m-76 .5h0m1.5 0h0m1 0h0m2.5 0h0m4 0h0m-23.5 .5h0m18 0h0m24.5 0h0m-37 .5h0m5 0h0m14 0h0m21.5 0h0m7 0h0m23.5 0h0m7 0h0m-68.5 .5h0m13 0h0m-49 .5h0m26.5 0h0m19 0h0m10.5 0h0m20 0h0m-60.5 .5h0m3 0h0m2 0h0m4 0h0m11.5 0h0m8 0h0m28.5 0h0m7 0h0m-71 .5h0m20.5 0h0m16.5 0h0m6 0h0m-48.5 .5h0m27.5 0h0m2.5 0h0m10 0h0m74 0h0m-108.5 .5h0m27 0h0m14 0h0m21.5 0h0m-42 .5h0m-13 .5h0m1 0h0m14 0h0m15.5 0h0m4 0h0m.5 0h0m2.5 0h0m45 0h0m-86.5 .5h0m7 0h0m1 0h0m18.5 0h0m19.5 0h0m6.5 0h0m-54.5 .5h0m26.5 0h0m6.5 0h0m35.5 0h0m8.5 0h0m-74.5 .5h0m2 0h0m14 0h0m9 0h0m8 0h0m1 0h0m31 0h0m-60 .5h0m42 0h0m12.5 0h0m-59.5 .5h0m2.5 0h0m1 0h0m19 0h0m11.5 0h0m-29 .5h0m16 0h0m-28.5 .5h0m36.5 0h0m2 0h0m-38.5 .5h0m10.5 0h0m4.5 0h0m15.5 0h0m1 0h0m.5 0h0m-7 .5h0m15 0h0m10 0h0m-31 .5h0m31 0h0m-43 .5h0m13 0h0m3.5 0h0m11.5 0h0m-39.5 .5h0m9 0h0m3.5 0h0m2.5 0h0m28 0h0m10.5 .5h0m-35.5 .5h0m3.5 0h0m14 0h0m2 0h0m-30 .5h0m3 0h0m.5 0h0m23 0h0m48.5 0h0m-79.5 .5h0m16 0h0m14.5 0h0m3.5 0h0m-57.5 .5h0m42 0h0m9.5 0h0m24 .5h0m-46 .5h0m29 0h0m2.5 0h0m14 0h0m-42 .5h0m8.5 0h0m1 0h0m.5 0h0m7 0h0m54.5 0h0m-93 .5h0m25 0h0m15 0h0m13 0h0m8.5 0h0m9 0h0m-43 .5h0m5.5 0h0m-19.5 .5h0m40 0h0m-39.5 1h0m7.5 0h0m6 0h0m26.5 0h0m-37.5 .5h0m1 1h0m32.5 0h0m-11 .5h0m-16.5 .5h0m-6.5 1h0m24.5 0h0m13 .5h0m-22.5 1h0m9.5 0h0m-14.5 .5h0m2 0h0m21 1.5h0m-3 .5h0m-8 .5h0m15.5 .5h0m-50 3.5h0m20 0h0m13.5 .5h0" stroke="#3450c8" stroke-width="1.4" stroke-linecap="round" fill="none"/>
<path d="m138.5 46.5h0m-32 4h0m63.5 .5h0m-33 .5h0m-2.5 1h0m9 .5h0m-33.5 .5h0m35.5 0h0m4 0h0m2.5 0h0m-34.5 .5h0m44 0h0m15 0h0m-38 .5h0m2 0h0m-11.5 .5h0m24 0h0m.5 0h0m12 0h0m-33 .5h0m32.5 0h0m-29.5 .5h0m6.5 0h0m3 0h0m2.5 0h0m16 0h0m-61 .5h0m25 0h0m31.5 0h0m5.5 0h0m6 0h0m-41.5 .5h0m6.5 0h0m5 0h0m-6.5 .5h0m12.5 0h0m1.5 0h0m-18 .5h0m8.5 0h0m15.5 0h0m-44 .5h0m8.5 0h0m2 0h0m1 0h0m.5 0h0m5 0h0m13 0h0m5.5 0h0m7.5 0h0m1 0h0m16.5 0h0m-52 .5h0m24 0h0m12.5 0h0m-32.5 .5h0m10.5 0h0m9 0h0m3.5 0h0m8 0h0m4 0h0m2 0h0m2.5 0h0m-29 .5h0m12 0h0m2.5 0h0m.5 0h0m6 0h0m10 0h0m4 0h0m-42.5 .5h0m23.5 0h0m12.5 0h0m10.5 0h0m-44 .5h0m17 0h0m2 0h0m1.5 0h0m19.5 0h0m-36.5 .5h0m9 0h0m25 0h0m4 0h0m-49.5 .5h0m2 0h0m35 0h0m-31.5 .5h0m4 0h0m4 0h0m.5 0h0m9 0h0m9 0h0m12 0h0m5.5 0h0m-33.5 .5h0m10.5 0h0m4.5 0h0m2 0h0m8.5 0h0m-60.5 .5h0m19.5 0h0m22.5 0h0m-29.5 .5h0m11 0h0m13.5 0h0m23 0h0m4 0h0m-48 .5h0m2.5 0h0m3.5 0h0m8 0h0m3 0h0m2 0h0m31 0h0m2.5 0h0m-38.5 .5h0m13 0h0m10.5 0h0m-36 .5h0m9.5 0h0m14 0h0m13.5 0h0m-31.5 .5h0m2.5 0h0m19 0h0m.5 0h0m9 0h0m-27.5 .5h0m1 0h0m5 0h0m14 0h0m.5 0h0m4 0h0m4 0h0m11.5 0h0m-48 .5h0m17 0h0m5.5 0h0m8 0h0m6 0h0m3 0h0m.5 0h0m1 0h0m3.5 0h0m5 0h0m-52 .5h0m3 0h0m2.5 0h0m3.5 0h0m5 0h0m10.5 0h0m2 0h0m13 0h0m9.5 0h0m-29.5 .5h0m5.5 0h0m-24 .5h0m20 0h0m-17.5 .5h0m11.5 0h0m8.5 0h0m-13 .5h0m-23 .5h0m45 0h0m-3.5 1h0m-7 .5h0m-8.5 .5h0m17.5 0h0m8.5 0h0m-21 .5h0m-37 .5h0m48 0h0m-43 1h0m45.5 1h0m19 0h0m-26 .5h0m13.5 0h0m-16.5 .5h0m-46 .5h0m5 0h0m44.5 0h0m-31.5 .5h0m19 0h0m-43.5 .5h0m30 0h0m-25 .5h0m50.5 .5h0m-40.5 .5h0m35 0h0m4.5 0h0m-60.5 .5h0m36 0h0m-26 .5h0m23 0h0m8.5 0h0m3.5 0h0m14.5 0h0m3.5 0h0m-66 .5h0m35.5 0h0m1 0h0m-6.5 .5h0m1 0h0m3.5 0h0m13.5 0h0m7.5 0h0m29 0h0m11 0h0m-50 .5h0m2 0h0m33.5 0h0m-59.5 .5h0m29.5 0h0m8.5 0h0m-40.5 .5h0m32.5 0h0m-29.5 .5h0m15 0h0m9 0h0m-35 .5h0m21 0h0m9.5 0h0m6.5 0h0m11 0h0m11.5 0h0m-47.5 .5h0m1 0h0m26 0h0m11.5 0h0m-61 .5h0m16 0h0m5 0h0m7.5 0h0m28.5 0h0m9 0h0m3.5 0h0m7 0h0m-68 .5h0m20.5 0h0m5 0h0m25 .5h0m9.5 0h0m-40.5 .5h0m11 0h0m-3.5 .5h0m15.5 0h0m25 0h0m-74 .5h0m28 0h0m27 0h0m7 0h0m-67 .5h0m10.5 0h0m17 0h0m1.5 0h0m7 0h0m22.5 0h0m-13 .5h0m3 0h0m-31.5 .5h0m23.5 0h0m10.5 0h0m-46 .5h0m10.5 0h0m14 0h0m41 0h0m-2 .5h0m-81.5 .5h0m15.5 0h0m23.5 0h0m20 0h0m2.5 0h0m8 0h0m10 0h0m3.5 0h0m9 0h0m-39 .5h0m.5 .5h0m5 0h0m4 0h0m6.5 0h0m4.5 0h0m9 0h0m5.5 0h0m-66.5 .5h0m1 0h0m4.5 0h0m4.5 0h0m7 0h0m1 0h0m23 0h0m.5 0h0m3 0h0m2 0h0m44.5 0h0m-65.5 .5h0m1 0h0m14 0h0m2.5 0h0m14 0h0m24 0h0m-58.5 .5h0m11.5 0h0m10.5 0h0m22.5 0h0m10 0h0m-81.5 .5h0m1.5 0h0m14 0h0m9.5 0h0m11 0h0m26.5 0h0m-36.5 .5h0m19.5 0h0m2 0h0m11 0h0m3.5 0h0m-66.5 .5h0m71 0h0m5.5 0h0m3 0h0m-78 .5h0m38.5 0h0m2 0h0m23.5 0h0m10.5 0h0m14.5 0h0m-91.5 .5h0m11 0h0m1.5 0h0m19.5 0h0m15.5 0h0m15.5 0h0m4.5 0h0m-48 .5h0m26.5 0h0m2 0h0m7 0h0m2.5 0h0m12.5 0h0m16 0h0m15.5 0h0m-88 .5h0m2.5 0h0m29 0h0m15 0h0m3 0h0m17.5 0h0m11 0h0m-84 .5h0m1.5 0h0m43.5 0h0m3.5 0h0m13 0h0m-49.5 .5h0m1 0h0m13 0h0m35.5 0h0m8 0h0m-92 .5h0m47.5 0h0m.5 0h0m29 0h0m-55.5 .5h0m11 0h0m4 0h0m31.5 0h0m8 0h0m-70 .5h0m30 0h0m59 0h0m-73 .5h0m3 0h0m8 0h0m12 0h0m33.5 0h0m8 0h0m11.5 0h0m-37.5 .5h0m6 0h0m2 0h0m2 0h0m5 0h0m2 0h0m-51 .5h0m2 0h0m14 0h0m27.5 0h0m20 0h0m38.5 0h0m-91.5 .5h0m1.5 0h0m2.5 0h0m11.5 0h0m1.5 0h0m12 0h0m23.5 0h0m-77 .5h0m16.5 0h0m.5 0h0m.5 0h0m29 0h0m10 0h0m23.5 0h0m-73.5 .5h0m9.5 0h0m3.5 0h0m24 0h0m3 0h0m9 0h0m-32.5 .5h0m17.5 0h0m7.5 0h0m11.5 0h0m7 0h0m18 0h0m1.5 0h0m-81.5 .5h0m11.5 0h0m13.5 0h0m2.5 0h0m13 0h0m.5 0h0m7 0h0m23 0h0m-55.5 .5h0m4.5 0h0m19 0h0m21 0h0m20.5 0h0m-87.5 .5h0m12.5 0h0m33 0h0m18 0h0m3.5 0h0m11 0h0m-73 .5h0m4.5 0h0m3 0h0m13 0h0m4.5 0h0m21 0h0m6 0h0m3.5 0h0m.5 0h0m17.5 0h0m12.5 0h0m.5 0h0m-88.5 .5h0m2 0h0m7 0h0m3.5 0h0m3.5 0h0m1 0h0m9 0h0m4.5 0h0m27 0h0m8 0h0m2 0h0m7 0h0m27 0h0m-105 .5h0m2 0h0m7 0h0m3.5 0h0m16 0h0m2 0h0m5 0h0m.5 0h0m4.5 0h0m12.5 0h0m37 0h0m-85.5 .5h0m7 0h0m8.5 0h0m11 0h0m13 0h0m1 0h0m18 0h0m4 0h0m26 0h0m-78.5 .5h0m17 0h0m6 0h0m.5 0h0m12 0h0m4.5 0h0m10 0h0m8 0h0m17.5 0h0m-97 .5h0m19.5 0h0m4 0h0m9 0h0m8 0h0m6.5 0h0m21.5 0h0m-57.5 .5h0m15 0h0m36.5 0h0m11 0h0m1 0h0m-77.5 .5h0m18.5 0h0m6.5 0h0m3 0h0m25.5 0h0m3.5 0h0m14 0h0m-51.5 .5h0m4 0h0m4.5 0h0m6 0h0m32.5 0h0m4.5 0h0m6.5 0h0m.5 0h0m-47 .5h0m3.5 0h0m40.5 0h0m23 0h0m-70.5 .5h0m1.5 0h0m18.5 0h0m9.5 0h0m7.5 0h0m4.5 0h0m52 0h0m-109 .5h0m3 0h0m7.5 0h0m12 0h0m5 0h0m9.5 0h0m5 0h0m9 0h0m9 0h0m6.5 0h0m-53.5 .5h0m7.5 0h0m8 0h0m24.5 0h0m1 0h0m14 0h0m5.5 0h0m5.5 0h0m-80 .5h0m1 0h0m4.5 0h0m3.5 0h0m8.5 0h0m1 0h0m24.5 0h0m8 0h0m3 0h0m1.5 0h0m14 0h0m15.5 0h0m4.5 0h0m20 0h0m-95.5 .5h0m9.5 0h0m5 0h0m7.5 0h0m18.5 0h0m29.5 0h0m-82.5 .5h0m5.5 0h0m7.5 0h0m20 0h0m11.5 0h0m8 0h0m4 0h0m7.5 0h0m5.5 0h0m32 0h0m-93 .5h0m11 0h0m4 0h0m.5 0h0m1 0h0m.5 0h0m10 0h0m9 0h0m5.5 0h0m7 0h0m1 0h0m2.5 0h0m17 0h0m6 0h0m-84 .5h0m15 0h0m10 0h0m20.5 0h0m48 0h0m-78.5 .5h0m8 0h0m.5 0h0m4.5 0h0m3.5 0h0m16.5 0h0m.5 0h0m6.5 0h0m7 0h0m6.5 0h0m7 0h0m9.5 0h0m-80.5 .5h0m4.5 0h0m59.5 0h0m2 0h0m6.5 0h0m-52.5 .5h0m9 0h0m5.5 0h0m1 0h0m23 0h0m7.5 0h0m3.5 0h0m-83.5 .5h0m20.5 0h0m.5 0h0m7 0h0m11 0h0m13 0h0m21.5 0h0m3 0h0m3.5 0h0m-67.5 .5h0m20 0h0m14.5 0h0m3 0h0m1 0h0m3 0h0m7.5 0h0m11.5 0h0m23.5 0h0m3 0h0m11 0h0m-96 .5h0m23.5 0h0m2 0h0m1.5 0h0m6.5 0h0m4.5 0h0m8 0h0m9.5 0h0m17.5 0h0m9 0h0m2 0h0m-83 .5h0m3.5 0h0m.5 0h0m5 0h0m2.5 0h0m1 0h0m1.5 0h0m5 0h0m19 0h0m40.5 0h0m23.5 0h0m-105 .5h0m19.5 0h0m.5 0h0m14.5 0h0m5 0h0m24 0h0m4.5 0h0m2 0h0m-68.5 .5h0m4 0h0m15 0h0m4 0h0m5 0h0m1.5 0h0m4.5 0h0m20 0h0m5 0h0m8.5 0h0m.5 0h0m9.5 0h0m42.5 0h0m-127 .5h0m1 0h0m32.5 0h0m3.5 0h0m18 0h0m3.5 0h0m9.5 0h0m2 0h0m14 0h0m-59 .5h0m9.5 0h0m19 0h0m36 0h0m-102.5 .5h0m36 0h0m5.5 0h0m1.5 0h0m9 0h0m1.5 0h0m5.5 0h0m1 0h0m12.5 0h0m2 0h0m8 0h0m4 0h0m4.5 0h0m2 0h0m5 0h0m2.5 0h0m-89 .5h0m28.5 0h0m4 0h0m5.5 0h0m7.5 0h0m4 0h0m13 0h0m-74.5 .5h0m13 0h0m4.5 0h0m31.5 0h0m10.5 0h0m8 0h0m5 0h0m2 0h0m19 0h0m12.5 0h0m-83.5 .5h0m11.5 0h0m2 0h0m2 0h0m4 0h0m6.5 0h0m1 0h0m4.5 0h0m7.5 0h0m6 0h0m19 0h0m4.5 0h0m-76.5 .5h0m15.5 0h0m23 0h0m13.5 0h0m6 0h0m-48 .5h0m6 0h0m1 0h0m14.5 0h0m11.5 0h0m23 0h0m10.5 0h0m-73.5 .5h0m7 0h0m3.5 0h0m3 0h0m4 0h0m7 0h0m4.5 0h0m8 0h0m16.5 0h0m13.5 0h0m20 0h0m-76.5 .5h0m35 0h0m1.5 0h0m2 0h0m13.5 0h0m20 0h0m3.5 0h0m.5 0h0m-99 .5h0m5.5 0h0m6 0h0m9 0h0m11 0h0m6 0h0m8 0h0m4.5 0h0m6.5 0h0m3.5 0h0m-60 .5h0m3.5 0h0m16 0h0m9 0h0m15.5 0h0m1.5 0h0m2 0h0m10 0h0m8 0h0m4.5 0h0m1.5 0h0m11.5 0h0m4 0h0m10 0h0m3 0h0m2 0h0m-83 .5h0m7 0h0m7 0h0m10.5 0h0m3 0h0m16.5 0h0m12.5 0h0m23.5 0h0m-86.5 .5h0m1 0h0m31.5 0h0m4.5 0h0m12 0h0m1.5 0h0m2.5 0h0m8.5 0h0m10.5 0h0m-64.5 .5h0m5 0h0m3.5 0h0m18.5 0h0m.5 0h0m5 0h0m3 0h0m23.5 0h0m-75 .5h0m9 0h0m15.5 0h0m11 0h0m16 0h0m-42 .5h0m.5 0h0m14.5 0h0m6 0h0m1 0h0m.5 0h0m2 0h0m17.5 0h0m18.5 0h0m4.5 0h0m14 0h0m-93.5 .5h0m11 0h0m13 0h0m.5 0h0m21.5 0h0m23 0h0m14.5 0h0m26.5 0h0m-98.5 .5h0m19 0h0m4.5 0h0m2 0h0m9 0h0m2.5 0h0m7.5 0h0m6.5 0h0m12.5 0h0m7.5 0h0m4 0h0m12 0h0m9.5 0h0m-93 .5h0m9.5 0h0m12 0h0m.5 0h0m7.5 0h0m4.5 0h0m16.5 0h0m15.5 0h0m34 0h0m-108.5 .5h0m10 0h0m8.5 0h0m1 0h0m13 0h0m.5 0h0m2.5 0h0m14.5 0h0m5 0h0m19 0h0m6.5 0h0m-75.5 .5h0m2.5 0h0m9.5 0h0m7.5 0h0m5.5 0h0m15.5 0h0m1.5 0h0m.5 0h0m1 0h0m6.5 0h0m11 0h0m5.5 0h0m4.5 0h0m-80.5 .5h0m6 0h0m7.5 0h0m14 0h0m.5 0h0m4.5 0h0m37 0h0m1 0h0m4 0h0m8 0h0m.5 0h0m-59 .5h0m.5 0h0m11 0h0m11 0h0m5 0h0m6 0h0m4 0h0m5.5 0h0m8.5 0h0m3.5 0h0m8.5 0h0m-79 .5h0m2.5 0h0m8 0h0m10.5 0h0m15.5 0h0m6.5 0h0m2.5 0h0m7.5 0h0m13 0h0m1 0h0m-92 .5h0m21 0h0m2 0h0m9.5 0h0m26.5 0h0m6 0h0m16 0h0m-68 .5h0m10.5 0h0m2.5 0h0m-12 .5h0m1 0h0m12 0h0m18.5 0h0m.5 0h0m18 0h0m2.5 0h0m23.5 0h0m12 0h0m-99 .5h0m16 0h0m3.5 0h0m5 0h0m3 0h0m2.5 0h0m33 0h0m6 0h0m8 0h0m8 0h0m36 0h0m-107 .5h0m14 0h0m27 0h0m1.5 0h0m21.5 0h0m4.5 0h0m7 0h0m8.5 0h0m5.5 0h0m13 0h0m-109.5 .5h0m9.5 0h0m3.5 0h0m4 0h0m18 0h0m7.5 0h0m6.5 0h0m3.5 0h0m16.5 0h0m-59 .5h0m5.5 0h0m25 0h0m4 0h0m27 0h0m2.5 0h0m4.5 0h0m-64.5 .5h0m1.5 0h0m18 0h0m2.5 0h0m5.5 0h0m1 0h0m2 0h0m12 0h0m14 0h0m4.5 0h0m-26.5 .5h0m11 0h0m-59.5 .5h0m5 0h0m4.5 0h0m1 0h0m2 0h0m.5 0h0m20.5 0h0m2 0h0m1 0h0m12.5 0h0m9 0h0m5 0h0m-51 .5h0m3 0h0m4 0h0m23 0h0m9 0h0m-49.5 .5h0m5 0h0m2 0h0m1 0h0m33 0h0m4.5 0h0m9 0h0m8 0h0m6.5 0h0m3.5 0h0m2 0h0m-75 .5h0m11 0h0m22 0h0m3.5 0h0m3 0h0m5 0h0m13.5 0h0m3 0h0m16.5 0h0m2.5 0h0m-89.5 .5h0m14 0h0m9 0h0m18 0h0m16.5 0h0m5.5 0h0m3 0h0m5.5 0h0m28 0h0m-95.5 .5h0m11.5 0h0m2 0h0m3.5 0h0m1.5 0h0m2 0h0m2 0h0m17 0h0m7.5 0h0m4.5 0h0m3 0h0m-35 .5h0m26 0h0m15 0h0m-18.5 .5h0m7 0h0m23.5 0h0m21.5 0h0m20 0h0m-107.5 .5h0m8 0h0m5 0h0m31.5 0h0m7 0h0m7 0h0m4.5 0h0m-77 .5h0m21 0h0m6 0h0m15.5 0h0m5 0h0m5.5 0h0m11 0h0m.5 0h0m4 0h0m3.5 0h0m-59 .5h0m1 0h0m.5 0h0m13 0h0m.5 0h0m17.5 0h0m2.5 0h0m1.5 0h0m2.5 0h0m7 0h0m-11 .5h0m1.5 0h0m3.5 0h0m21 0h0m7 0h0m1.5 0h0m-72 .5h0m10 0h0m21 0h0m6 0h0m12 0h0m15 0h0m19 0h0m-70.5 .5h0m5.5 0h0m13 0h0m3 0h0m17.5 0h0m13.5 0h0m22.5 0h0m-76 .5h0m21 0h0m-36 .5h0m7.5 0h0m44 0h0m37 0h0m-88 .5h0m6.5 0h0m1.5 0h0m2.5 0h0m4 0h0m17.5 0h0m17.5 0h0m-44.5 .5h0m2.5 0h0m2 0h0m2 0h0m9 0h0m36 0h0m1.5 0h0m-56 .5h0m5.5 0h0m23 0h0m2.5 0h0m2.5 0h0m2 0h0m8.5 0h0m11 0h0m24 0h0m24.5 0h0m2 0h0m-110 .5h0m5 0h0m3.5 0h0m24.5 0h0m9.5 0h0m8 0h0m17 0h0m13 0h0m2.5 0h0m-78.5 .5h0m3 0h0m3 0h0m10 0h0m10 0h0m3 0h0m1 0h0m2 0h0m10 0h0m-51.5 .5h0m15 0h0m4 0h0m11 0h0m5.5 0h0m7 0h0m8.5 0h0m-59.5 .5h0m18 0h0m10.5 0h0m.5 0h0m2 0h0m.5 0h0m1 0h0m4 0h0m4 0h0m13 0h0m39.5 0h0m-58 .5h0m12.5 0h0m7 0h0m4 0h0m8.5 0h0m6.5 0h0m2.5 0h0m12.5 0h0m-62 .5h0m2 0h0m11 0h0m4 0h0m.5 0h0m1 0h0m12 0h0m1.5 0h0m10 0h0m1.5 0h0m4.5 0h0m10.5 0h0m-61.5 .5h0m2 0h0m22.5 0h0m3.5 0h0m-22 .5h0m4 0h0m1 0h0m19 0h0m3 0h0m12.5 0h0m-67.5 .5h0m7.5 0h0m12.5 0h0m2 0h0m10 0h0m2 0h0m1 0h0m5 0h0m7 0h0m2 0h0m-31 .5h0m10 0h0m11.5 0h0m4 0h0m.5 0h0m4.5 0h0m-29 .5h0m3.5 0h0m9 0h0m1 0h0m11.5 0h0m3 0h0m1 0h0m.5 0h0m-12.5 .5h0m3.5 0h0m12 0h0m14 0h0m5.5 0h0m-62 .5h0m1.5 0h0m3 0h0m18 0h0m6.5 0h0m2.5 0h0m2 0h0m6.5 0h0m.5 0h0m3.5 0h0m5 0h0m-46.5 .5h0m10 0h0m16.5 0h0m7.5 0h0m5.5 0h0m13.5 0h0m45.5 0h0m-87 .5h0m11 0h0m51 0h0m-43 .5h0m6.5 0h0m2.5 0h0m25 0h0m3.5 0h0m15.5 0h0m-87.5 .5h0m15.5 0h0m11 0h0m2 0h0m8.5 0h0m5.5 0h0m8 0h0m8 0h0m12 0h0m-61 .5h0m2.5 0h0m3.5 0h0m12 0h0m32.5 0h0m-62.5 .5h0m12 0h0m7 0h0m2 0h0m1.5 0h0m2 0h0m46 0h0m2.5 0h0m-60 .5h0m9 0h0m3.5 0h0m16.5 0h0m2.5 0h0m4 0h0m-33 .5h0m19 0h0m1.5 0h0m.5 0h0m.5 0h0m6.5 0h0m.5 0h0m-48 .5h0m7 0h0m6 0h0m6.5 0h0m29.5 0h0m2 0h0m19.5 0h0m-44.5 .5h0m6 0h0m11 0h0m24 0h0m5 0h0m-59 .5h0m13.5 0h0m8 0h0m29.5 0h0m-47.5 .5h0m6.5 0h0m18 0h0m-35 .5h0m10.5 0h0m.5 0h0m1 0h0m10 0h0m3.5 0h0m15 0h0m11.5 0h0m-40 .5h0m11.5 0h0m1.5 0h0m4.5 0h0m-25.5 .5h0m11 0h0m9 0h0m14.5 0h0m3.5 0h0m5 0h0m-46 .5h0m9 0h0m25.5 0h0m11.5 0h0m-25.5 .5h0m10 0h0m-32.5 .5h0m27.5 0h0m1 0h0m25 0h0m-44 .5h0m2.5 0h0m5.5 0h0m6 0h0m-8 .5h0m11 0h0m6.5 0h0m29 0h0m3 0h0m12 0h0m-69 1h0m1.5 0h0m7 0h0m1.5 0h0m2.5 0h0m1 0h0m7 0h0m6 0h0m-18.5 .5h0m32 .5h0m6.5 .5h0m-40 .5h0m2 .5h0m-14.5 .5h0m28 0h0m-19 .5h0m4.5 0h0m.5 0h0m60.5 0h0m-78.5 .5h0m2.5 0h0m27.5 0h0m1.5 1h0m4.5 0h0m-29 .5h0m17.5 0h0m-2 .5h0m14.5 0h0m-24.5 .5h0m-10.5 .5h0m-2 1h0m43.5 0h0m-18.5 2h0m-10 .5h0m-6 .5h0m21.5 0h0m-16 1.5h0m12.5 1h0m-30 .5h0m33.5 1h0m-1.5 2h0m4.5 .5h0m-26 2.5h0" stroke="#1a2a9e" stroke-width="1.45" stroke-linecap="round" fill="none"/>
<path d="m137.5 48.5h0m22 2.5h0m14.5 0h0m-30 2h0m-2 .5h0m4.5 .5h0m6.5 0h0m-11 .5h0m18.5 .5h0m2.5 0h0m2.5 0h0m-14.5 .5h0m35.5 0h0m-38 .5h0m-1.5 .5h0m22.5 0h0m-17.5 .5h0m1.5 0h0m-11 .5h0m9 0h0m8 0h0m-13.5 1h0m3 .5h0m10 0h0m1.5 0h0m13 0h0m-39.5 .5h0m7 0h0m12 0h0m5 0h0m-29 .5h0m6 0h0m15 0h0m7 0h0m1 .5h0m14 0h0m-39.5 .5h0m4.5 0h0m11.5 0h0m-16 .5h0m11.5 0h0m14 0h0m-19 .5h0m3.5 0h0m2.5 .5h0m25.5 1.5h0m-28.5 .5h0m-16.5 .5h0m31 0h0m-17.5 6h0m-4 22.5h0m14 4h0m8 .5h0m-22 .5h0m8.5 0h0m-9 2h0m-12 3.5h0m9.5 1h0m25.5 0h0m-17.5 .5h0m10.5 0h0m-56 3h0m26.5 .5h0m24.5 1.5h0m-13.5 .5h0m17.5 0h0m-54 1h0m32.5 0h0m10 0h0m2 .5h0m2 0h0m-32.5 .5h0m31.5 0h0m-56 .5h0m31.5 0h0m12 0h0m16 0h0m14 0h0m-35 .5h0m17 0h0m-63 .5h0m60.5 0h0m-35.5 1h0m15 0h0m1.5 0h0m4 .5h0m-40.5 .5h0m24.5 0h0m1 0h0m33 0h0m-39 .5h0m4 0h0m-8 .5h0m3 0h0m16 0h0m33.5 .5h0m-79.5 .5h0m12.5 0h0m17 0h0m34.5 0h0m6.5 0h0m-50 .5h0m23 0h0m8.5 0h0m-25.5 .5h0m13 0h0m28.5 0h0m-32.5 .5h0m2 .5h0m17.5 0h0m17 0h0m-62 .5h0m16.5 .5h0m16 0h0m38.5 0h0m-87 .5h0m36 0h0m5 0h0m13 0h0m-26.5 .5h0m25.5 0h0m2 0h0m21.5 0h0m-55.5 .5h0m7.5 0h0m-19 .5h0m34 0h0m1.5 0h0m5.5 0h0m9 0h0m-34.5 .5h0m-10 .5h0m20 0h0m14 0h0m.5 0h0m18 0h0m-57.5 .5h0m7.5 0h0m1 0h0m20 0h0m-37 .5h0m4 0h0m17 0h0m23 0h0m5 0h0m-26.5 .5h0m18 0h0m14 0h0m-41.5 .5h0m9 0h0m2 0h0m2 0h0m10 0h0m18 0h0m-49 .5h0m26.5 0h0m9 .5h0m-27 .5h0m.5 0h0m2.5 0h0m8 0h0m11.5 0h0m12 0h0m-20 .5h0m7 0h0m15 0h0m11 0h0m-58.5 .5h0m22.5 0h0m13.5 0h0m16 0h0m-41.5 .5h0m6 0h0m9 0h0m51 0h0m-82 .5h0m29 0h0m18.5 0h0m-52.5 .5h0m4.5 0h0m10.5 0h0m2 .5h0m12 0h0m2 0h0m27.5 0h0m31.5 0h0m-73 .5h0m36 0h0m-48.5 .5h0m13 0h0m26.5 0h0m7.5 0h0m16 0h0m-62 .5h0m9.5 0h0m14.5 0h0m4 0h0m-4.5 .5h0m16 0h0m-32 .5h0m17 0h0m-29 .5h0m32 0h0m13 0h0m10.5 0h0m-55 .5h0m.5 0h0m7.5 0h0m1 0h0m18 0h0m-14.5 .5h0m32.5 0h0m-56 .5h0m44 0h0m19 0h0m-58 .5h0m6.5 0h0m8.5 0h0m42.5 0h0m-49 .5h0m4.5 0h0m34.5 0h0m24 0h0m-68 .5h0m4.5 0h0m25 0h0m13.5 0h0m-11 .5h0m17.5 0h0m25.5 0h0m-68 .5h0m4 0h0m1.5 0h0m23 0h0m-42 .5h0m2.5 0h0m13.5 0h0m48.5 0h0m-63 .5h0m13.5 0h0m33.5 0h0m-42 .5h0m31 0h0m12 0h0m-13.5 .5h0m1.5 0h0m1 0h0m-35 .5h0m35.5 0h0m1.5 0h0m32.5 0h0m-69.5 .5h0m14.5 0h0m15.5 0h0m.5 0h0m3.5 0h0m-46.5 .5h0m21.5 0h0m31 0h0m-30 .5h0m59 0h0m-67.5 .5h0m2.5 0h0m5 0h0m3.5 0h0m63 0h0m-63 1h0m23 0h0m16 0h0m-40 .5h0m25.5 0h0m3 0h0m-30 .5h0m13 0h0m-18 .5h0m11 0h0m6 0h0m1 0h0m.5 0h0m-11.5 .5h0m2.5 0h0m5.5 0h0m14.5 0h0m-37 .5h0m7 0h0m-8.5 .5h0m16 0h0m5 0h0m6 0h0m23 0h0m-9.5 .5h0m-17 .5h0m7 0h0m19 0h0m-28 .5h0m.5 0h0m5 0h0m4 0h0m1 0h0m15 0h0m-45 .5h0m28.5 0h0m12 0h0m5.5 0h0m6.5 0h0m-44 .5h0m2 0h0m10.5 0h0m2 0h0m4 0h0m3 0h0m-28 .5h0m13.5 0h0m1 0h0m-10.5 .5h0m2.5 0h0m32.5 0h0m-41.5 .5h0m2 0h0m1 0h0m10 0h0m9 0h0m-8 .5h0m9.5 0h0m5.5 0h0m-9 .5h0m7 0h0m15.5 0h0m-27 .5h0m-20.5 .5h0m24 0h0m6.5 0h0m4.5 0h0m-13.5 .5h0m19 0h0m-22 .5h0m-18 .5h0m27.5 0h0m3.5 0h0m2.5 .5h0m-19 .5h0m-3 .5h0m1.5 0h0m33 0h0m-54 1h0m2.5 0h0m16 .5h0m22.5 0h0m-17 2h0m-5.5 .5h0m21 0h0m-.5 1h0m-45.5 .5h0m32 0h0m1 0h0m2.5 0h0m2 0h0m-15.5 .5h0m9 1h0m-11 1.5h0m-4 .5h0m25.5 .5h0m-11.5 .5h0m-3 1h0m10 2h0m-8.5 7h0" stroke="#3aa6dc" stroke-width="1.4" stroke-linecap="round" fill="none"/>
<g transform="translate(78.4 137.2) rotate(-42)" filter="url(#fb)">
<ellipse rx="13" ry="6.5" fill="#2236b4" opacity="0.8"/>
<ellipse rx="10.92" ry="5.46" fill="#2a6fd6" opacity="1"/>
<ellipse rx="9.36" ry="4.68" fill="#2fb3d8" opacity="1"/>
<ellipse rx="7.8" ry="3.9" fill="#3fb45a" opacity="1"/>
<ellipse rx="5.46" ry="2.73" fill="#9fce3a" opacity="1"/>
<ellipse rx="3.9" ry="1.95" fill="#f0c020" opacity="1"/>
<ellipse rx="2.6" ry="1.3" fill="#f07a1c" opacity="1"/>
<ellipse rx="1.56" ry="0.78" fill="#e5301c" opacity="1"/>
</g>
</g>
<line x1="89.3" y1="0" x2="89.3" y2="218.6" stroke="#000" stroke-width="1.7"/>
<line x1="0" y1="127.8" x2="218.9" y2="127.8" stroke="#000" stroke-width="1.7"/>
<rect x="0" y="0" width="218.9" height="218.6" fill="none" stroke="#2a2a2a" stroke-width="1.2"/>
<g font-size="9.0" fill="#222">
<text x="3.4" y="18">Q1</text><text x="3.4" y="31.8">8.15</text>
<text x="200.4" y="18" text-anchor="end">Q2</text><text x="200.4" y="31.8" text-anchor="end">20.1</text>
<text x="3.4" y="193.4">Q4</text><text x="3.4" y="207.4">63.3</text>
<text x="200.4" y="193.4" text-anchor="end">Q3</text><text x="200.4" y="207.4" text-anchor="end">8.47</text>
</g>
</g>
<g transform="translate(98.6 605.7)">
<rect x="0" y="0" width="220" height="219.4" fill="#fff"/>
<g clip-path="url(#fc)">
<path d="m56 48.5h0m59 0h0m-33.5 1h0m-24 .5h0m59 1.5h0m7 .5h0m5.5 .5h0m-61 1h0m57.5 .5h0m13 0h0m-44.5 .5h0m-31 .5h0m31 0h0m18.5 0h0m.5 1h0m-4.5 1.5h0m-17 .5h0m28 0h0m9.5 .5h0m-1.5 .5h0m4 0h0m6.5 0h0m10 0h0m-22 .5h0m2.5 0h0m-13 1h0m27.5 0h0m-36 .5h0m17.5 0h0m0 1.5h0m3.5 0h0m-24.5 1.5h0m4.5 .5h0m2 1.5h0m20 .5h0m27.5 0h0m-18.5 .5h0m6.5 0h0m-13 .5h0m-36.5 2.5h0m38 0h0m25.5 .5h0m-13.5 .5h0m-22.5 1h0m-33.5 4h0m93 .5h0m-81 1.5h0m-1.5 1h0m24.5 0h0m-34 1h0m5 2.5h0m4.5 .5h0m-1.5 4h0m-5 2h0m1 1h0m-18 1h0m7.5 2h0m8 1h0m0 1.5h0m-11.5 2.5h0m-6.5 1h0m23.5 .5h0m-15 .5h0m3.5 0h0m6.5 0h0m5.5 0h0m-10.5 2h0m-16 1h0m18 .5h0m-3.5 1.5h0m1.5 0h0m-3 1h0m-9.5 .5h0m27 0h0m-1 .5h0m-23 1h0m53 .5h0m-45 .5h0m1 0h0m0 1.5h0m9.5 0h0m-4 1h0m2 0h0m-14.5 1.5h0m-7 .5h0m20 1.5h0m-2 1.5h0m-10.5 .5h0m4.5 0h0m1.5 1.5h0m59.5 1.5h0m-64.5 1h0m57 0h0m19.5 .5h0m-65.5 1h0m49.5 0h0m-43.5 1.5h0m-10.5 .5h0m-18 1h0m8 0h0m4.5 .5h0m49 0h0m-54 1h0m15 0h0m39.5 0h0m-58 .5h0m6 0h0m1.5 .5h0m66.5 0h0m-68.5 1.5h0m3 0h0m6 0h0m-6 1h0m36.5 0h0m23 0h0m-72 1h0m73.5 0h0m-71 .5h0m2.5 0h0m-2 .5h0m12.5 0h0m-12.5 .5h0m17.5 0h0m-14.5 .5h0m-1 .5h0m10.5 0h0m66 0h0m-93.5 .5h0m29.5 0h0m-29.5 1.5h0m-1.5 .5h0m28 0h0m57 0h0m-12 .5h0m9.5 0h0m-72.5 .5h0m20.5 0h0m60 0h0m-20.5 1h0m-66 .5h0m1.5 1.5h0m2.5 0h0m18 0h0m-20 1h0m-6 1.5h0m29 0h0m42 .5h0m2 0h0m1 0h0m-52 .5h0m54.5 .5h0m-3 .5h0m-49 .5h0m1.5 0h0m-27.5 2h0m5 0h0m84.5 1.5h0m-87 .5h0m-4.5 .5h0m67.5 0h0m-65.5 .5h0m4.5 0h0m-2.5 1h0m62 .5h0m-62 1.5h0m2 0h0m-1 .5h0m12 0h0m-13 2h0m8 .5h0m12 .5h0m-21 .5h0m0 .5h0m.5 .5h0m-6.5 .5h0m26 0h0m-11 .5h0m-9.5 .5h0m1.5 0h0m11.5 0h0m2.5 .5h0m-11 1h0m5 .5h0m-1.5 2.5h0m-14 1.5h0m13.5 .5h0m-7 2h0m-2 1.5h0m13.5 1h0" stroke="#6f8fe6" stroke-width="1.35" stroke-linecap="round" fill="none"/>
<path d="m131.5 45.5h0m-32 5.5h0m-15.5 .5h0m26 0h0m1 .5h0m22 .5h0m-34.5 .5h0m16.5 0h0m-21 .5h0m9.5 0h0m-10.5 1h0m7.5 0h0m19.5 0h0m-28 .5h0m20.5 0h0m13.5 .5h0m18.5 0h0m-48.5 .5h0m22 0h0m13.5 0h0m2 0h0m20 0h0m-31 .5h0m13 0h0m-14.5 1h0m13 0h0m22.5 0h0m-50.5 .5h0m29.5 0h0m15 0h0m-19 .5h0m.5 0h0m12 0h0m-28.5 .5h0m15.5 0h0m1.5 0h0m2 0h0m11.5 0h0m-30 .5h0m5.5 0h0m1 0h0m3 0h0m15 0h0m-14 .5h0m-22.5 .5h0m32.5 0h0m18.5 0h0m-35.5 .5h0m3 0h0m-23 .5h0m19 0h0m1 0h0m22 0h0m.5 0h0m-41 .5h0m19.5 0h0m2.5 0h0m-22.5 .5h0m16 0h0m7.5 0h0m14.5 0h0m1.5 0h0m-20.5 .5h0m6 0h0m14.5 0h0m4 0h0m-16 .5h0m14 0h0m-41.5 .5h0m26 0h0m3.5 0h0m37.5 0h0m-40.5 .5h0m15.5 .5h0m5.5 0h0m-27.5 .5h0m18 0h0m-14.5 1.5h0m8 0h0m-47 2h0m.5 1h0m94 0h0m-103 6h0m12 3.5h0m-8.5 4h0m3 0h0m22 .5h0m-24 .5h0m6 2h0m3 0h0m52 .5h0m-55.5 .5h0m2.5 .5h0m12 0h0m-4.5 .5h0m-9.5 .5h0m2.5 0h0m3.5 2h0m-2.5 .5h0m-8.5 .5h0m3.5 0h0m4 0h0m4 3h0m3 0h0m5.5 1.5h0m-22 .5h0m12.5 .5h0m-1.5 .5h0m-11 .5h0m10 0h0m-5 .5h0m1.5 0h0m-.5 1h0m6.5 0h0m-4.5 1.5h0m-12 .5h0m17 0h0m-3 1h0m17.5 0h0m-27.5 .5h0m2.5 0h0m6 0h0m-3.5 .5h0m7 0h0m-12 .5h0m3.5 .5h0m3.5 .5h0m7 0h0m-5 .5h0m-8.5 .5h0m10.5 0h0m6.5 0h0m-8 1h0m2.5 0h0m-1.5 1.5h0m47 0h0m-54 .5h0m1.5 0h0m2 1h0m12 1.5h0m-14 1.5h0m6.5 0h0m-8.5 .5h0m11 0h0m31.5 .5h0m-21 .5h0m-3.5 1h0m-6 .5h0m4 0h0m-13.5 1h0m10 .5h0m-.5 .5h0m-26.5 .5h0m13.5 0h0m12.5 0h0m-14 .5h0m2 0h0m2.5 1.5h0m15.5 0h0m44 0h0m-74 .5h0m47.5 0h0m26 1h0m-52 .5h0m41.5 0h0m4 0h0m-46 .5h0m-6.5 1h0m67 0h0m-71 .5h0m34.5 0h0m24.5 0h0m-54 .5h0m5.5 0h0m51.5 0h0m-45 .5h0m-15 .5h0m-12 .5h0m8 0h0m1 0h0m54.5 .5h0m-52 .5h0m7 0h0m4 .5h0m-10 .5h0m7.5 0h0m-24.5 .5h0m12.5 0h0m4.5 0h0m3.5 .5h0m33.5 0h0m-45.5 .5h0m4 0h0m12.5 0h0m4 0h0m-19 .5h0m.5 0h0m51.5 .5h0m-64.5 .5h0m1.5 0h0m4.5 0h0m11.5 0h0m-10 .5h0m63 0h0m5.5 0h0m-70.5 .5h0m7 0h0m22 0h0m-27 1h0m10 0h0m43 0h0m6.5 0h0m-63.5 .5h0m5.5 0h0m63.5 .5h0m17.5 0h0m-66.5 .5h0m-19 .5h0m76.5 0h0m-95 .5h0m15 0h0m1 0h0m1 0h0m48.5 0h0m-32.5 1.5h0m3.5 0h0m54 .5h0m-78.5 .5h0m24 0h0m43.5 0h0m-68 .5h0m19.5 0h0m3.5 0h0m-27 1h0m86 0h0m-82 .5h0m30 0h0m-29 .5h0m3 0h0m17.5 .5h0m46.5 .5h0m5 0h0m-54 .5h0m-1 .5h0m6 .5h0m-34 .5h0m30 0h0m4 0h0m46 .5h0m-52 1h0m4 0h0m48 0h0m13 0h0m-105 .5h0m42.5 0h0m68 .5h0m-8.5 .5h0m-87.5 1h0m6.5 .5h0m18 0h0m5.5 0h0m-2 .5h0m-8 .5h0m11.5 0h0m42 0h0m-71.5 .5h0m16 0h0m1.5 0h0m3 0h0m13 0h0m35.5 0h0m16 0h0m-68 .5h0m-13 .5h0m15 .5h0m-19 .5h0m16.5 0h0m-2.5 .5h0m-15 .5h0m15.5 0h0m-13.5 .5h0m9 .5h0m-18.5 .5h0m10.5 0h0m11.5 0h0m70.5 0h0m4 0h0m-95.5 .5h0m12.5 0h0m1 0h0m1 0h0m2.5 0h0m.5 0h0m.5 0h0m2.5 0h0m1.5 0h0m4 0h0m-11.5 .5h0m58.5 0h0m-62.5 1.5h0m75 0h0m-82 .5h0m5.5 .5h0m8 0h0m-3.5 .5h0m3 0h0m-7.5 .5h0m0 .5h0m7.5 0h0m6 0h0m-15 .5h0m28 0h0m-30.5 .5h0m3.5 0h0m-10 .5h0m10 0h0m13.5 0h0m-9 .5h0m-11 1h0m1 0h0m12 0h0m6.5 0h0m1.5 .5h0m3 .5h0m-20.5 .5h0m7 .5h0m2 0h0m-7.5 .5h0m11.5 0h0m-10.5 .5h0m-6.5 2.5h0m6.5 3h0m-4.5 1h0m5 0h0m3.5 0h0" stroke="#3450c8" stroke-width="1.4" stroke-linecap="round" fill="none"/>
<path d="m61 44h0m36 1.5h0m14.5 4.5h0m-5 .5h0m5 1h0m-40 .5h0m26 .5h0m2 0h0m24 0h0m-33.5 1h0m1.5 0h0m24.5 0h0m21 0h0m-51.5 .5h0m6.5 .5h0m38.5 0h0m-60 .5h0m22 0h0m13.5 0h0m1 0h0m9.5 0h0m.5 0h0m3.5 0h0m-2 .5h0m7 0h0m2.5 0h0m6.5 0h0m-22 .5h0m2 0h0m8.5 0h0m4 0h0m13 0h0m-33 .5h0m4 0h0m-34.5 .5h0m15 0h0m22 0h0m14.5 0h0m-10.5 .5h0m5.5 0h0m7 0h0m-17 .5h0m11 0h0m11 0h0m-30 .5h0m14 0h0m-14.5 .5h0m19.5 0h0m18.5 0h0m-48 .5h0m10.5 0h0m4.5 0h0m7.5 0h0m3 0h0m20.5 0h0m-26 .5h0m22 0h0m9.5 0h0m1.5 0h0m-53.5 .5h0m13.5 0h0m8.5 0h0m13.5 0h0m.5 0h0m1.5 0h0m1.5 0h0m3.5 0h0m20 0h0m-38 .5h0m8 0h0m5.5 0h0m11 0h0m-7 .5h0m12 0h0m-23.5 .5h0m3.5 .5h0m1 0h0m.5 0h0m-9.5 .5h0m6 0h0m18.5 0h0m-31 .5h0m8 0h0m36.5 0h0m-37 .5h0m9.5 .5h0m8 0h0m4 0h0m27 0h0m14 0h0m-74.5 .5h0m19 0h0m10 0h0m1 .5h0m8.5 0h0m3.5 0h0m-17.5 .5h0m23.5 0h0m-11.5 .5h0m29 0h0m3 0h0m-40 .5h0m23.5 0h0m3 1h0m5 2h0m-12.5 1h0m-54.5 8h0m-33.5 .5h0m80 0h0m-52.5 1h0m-17 1h0m13.5 0h0m-9.5 3h0m22 0h0m-15.5 .5h0m2 0h0m1.5 0h0m-6 1h0m10.5 0h0m5 0h0m-19.5 .5h0m.5 .5h0m51.5 0h0m-41 1.5h0m21 .5h0m-28.5 .5h0m7.5 0h0m-12 .5h0m4.5 0h0m-2.5 2h0m7 0h0m5 1h0m-5 .5h0m-7 .5h0m3 0h0m6 0h0m-11 1h0m7 0h0m6.5 0h0m-4 1h0m6 0h0m-6 .5h0m-17 .5h0m16.5 .5h0m-11 .5h0m19 0h0m-18.5 .5h0m.5 .5h0m2.5 0h0m6 .5h0m-8 .5h0m14 0h0m-8 .5h0m-12 .5h0m22 0h0m-8.5 .5h0m-2.5 .5h0m2 0h0m-13 1h0m19.5 .5h0m-14.5 .5h0m-2 1h0m3 1h0m3 .5h0m6.5 .5h0m-12.5 .5h0m1.5 0h0m3.5 0h0m2 0h0m13 0h0m-19 1h0m18 0h0m.5 0h0m-16 .5h0m3.5 0h0m3 0h0m-14 .5h0m14.5 .5h0m1 0h0m1.5 1h0m.5 0h0m-1.5 .5h0m8 1h0m-18 .5h0m23.5 .5h0m39 0h0m-51.5 .5h0m39.5 0h0m-51 .5h0m12.5 .5h0m-4 .5h0m27.5 0h0m-27.5 .5h0m7 0h0m-23.5 .5h0m10.5 0h0m7 0h0m8.5 1h0m-28.5 .5h0m77 0h0m-68.5 1h0m6.5 0h0m51 0h0m-41.5 1h0m-27.5 .5h0m22 .5h0m5.5 0h0m45.5 0h0m-63 .5h0m8.5 0h0m2 0h0m-9 .5h0m58 0h0m-42 1h0m25 0h0m-38.5 1h0m11.5 0h0m-11.5 .5h0m8 0h0m1 0h0m7.5 0h0m-13 1h0m.5 0h0m-.5 .5h0m5 0h0m-16 .5h0m4 0h0m6 0h0m4.5 0h0m2 1h0m-24.5 .5h0m11.5 0h0m4.5 .5h0m7 0h0m-6.5 .5h0m-12.5 .5h0m14.5 0h0m49 0h0m-58.5 .5h0m3 0h0m.5 0h0m1.5 0h0m10 0h0m3.5 0h0m-11.5 .5h0m4 0h0m7.5 0h0m36 0h0m-48.5 .5h0m6.5 0h0m53 0h0m16 0h0m-84.5 .5h0m4.5 0h0m51 0h0m17.5 0h0m-52.5 .5h0m-14.5 .5h0m5 .5h0m4.5 0h0m6 0h0m-8 .5h0m8 0h0m56.5 0h0m-91.5 .5h0m1.5 0h0m10 0h0m-7.5 .5h0m11 0h0m.5 0h0m1 0h0m46 0h0m-58 .5h0m53 .5h0m3 0h0m-26.5 .5h0m33 0h0m10.5 0h0m-69.5 1h0m19 0h0m3 0h0m47.5 0h0m21.5 0h0m-71.5 1h0m37 1h0m-57 .5h0m17 0h0m51.5 0h0m-77.5 .5h0m2 0h0m9.5 0h0m21.5 0h0m46.5 0h0m4 0h0m-85.5 .5h0m8 0h0m20 0h0m2 0h0m.5 0h0m54 0h0m1.5 0h0m-93.5 .5h0m34 0h0m3.5 0h0m-21 .5h0m1 0h0m17 0h0m1.5 0h0m.5 0h0m2.5 0h0m53.5 0h0m-56.5 .5h0m55.5 1h0m1 0h0m-77 .5h0m19.5 0h0m5 0h0m56 0h0m10.5 0h0m-94.5 .5h0m20.5 0h0m5 0h0m-24.5 .5h0m2.5 0h0m1 0h0m21 0h0m2.5 0h0m57.5 0h0m-82.5 .5h0m2 0h0m69 0h0m-69.5 .5h0m-9 .5h0m1.5 0h0m6.5 0h0m1 0h0m-6.5 .5h0m86.5 0h0m-94 .5h0m28 0h0m3 0h0m-26 1h0m77 0h0m-71.5 .5h0m25.5 1h0m4.5 .5h0m-7.5 .5h0m-28.5 .5h0m.5 0h0m5 0h0m17 0h0m1.5 0h0m-23.5 .5h0m29.5 0h0m-27 .5h0m1 0h0m17 0h0m2.5 0h0m-26.5 .5h0m3.5 0h0m34 0h0m-15 .5h0m-31 .5h0m9.5 0h0m20.5 0h0m-16.5 .5h0m-6.5 .5h0m19.5 .5h0m9 .5h0m-10.5 .5h0m6.5 .5h0m-19.5 .5h0m10 0h0m3 .5h0m23 0h0m44 0h0m-72 .5h0m5 0h0m3.5 0h0m.5 0h0m2 0h0m-1.5 .5h0m-21.5 .5h0m6.5 0h0m8.5 1h0m8 .5h0m-20.5 .5h0m1.5 0h0m3 .5h0m3.5 .5h0m-21 .5h0m79 1h0m-39 .5h0m-21 .5h0m10 1h0m-17 .5h0m20.5 0h0m-33.5 .5h0m5.5 .5h0m3 2h0m32.5 0h0m-17.5 1h0m64 0h0m-69.5 2h0m-3 1.5h0m-12 5.5h0" stroke="#1a2a9e" stroke-width="1.45" stroke-linecap="round" fill="none"/>
<path d="m77 131h0m2.5 1h0m-7 1h0m10 1h0m2 2h0m-15 .5h0m1.5 0h0m-14.5 1h0m13 0h0m-5 1.5h0m29.5 0h0m-12.5 1.5h0m-17 .5h0m0 2h0m13 2h0m-.5 .5h0m-14.5 .5h0m15 0h0m-19 .5h0m23 .5h0m-27.5 2h0m4 .5h0m19 0h0m-1.5 2h0m-15.5 .5h0m-7.5 .5h0m24.5 0h0m-7 .5h0m2 0h0m-3.5 1h0m-3 1h0m2.5 .5h0m-11.5 .5h0m16.5 .5h0m-25 1h0m3.5 0h0m14 1h0m8 .5h0m-18.5 1.5h0m5.5 0h0m16.5 .5h0m-13 .5h0m-16 2.5h0m10 8.5h0" stroke="#3aa6dc" stroke-width="1.4" stroke-linecap="round" fill="none"/>
<g transform="translate(71.2 144) rotate(-45)" filter="url(#fb)">
<ellipse rx="18" ry="6.5" fill="#2236b4" opacity="0.8"/>
<ellipse rx="15.12" ry="5.46" fill="#2a6fd6" opacity="1"/>
<ellipse rx="12.96" ry="4.68" fill="#2fb3d8" opacity="1"/>
<ellipse rx="10.8" ry="3.9" fill="#3fb45a" opacity="1"/>
<ellipse rx="7.56" ry="2.73" fill="#9fce3a" opacity="1"/>
<ellipse rx="5.4" ry="1.95" fill="#f0c020" opacity="1"/>
<ellipse rx="3.6" ry="1.3" fill="#f07a1c" opacity="1"/>
<ellipse rx="2.16" ry="0.78" fill="#e5301c" opacity="1"/>
</g>
</g>
<line x1="98.3" y1="0" x2="98.3" y2="219.4" stroke="#000" stroke-width="1.7"/>
<line x1="0" y1="112.7" x2="220" y2="112.7" stroke="#000" stroke-width="1.7"/>
<rect x="0" y="0" width="220" height="219.4" fill="none" stroke="#2a2a2a" stroke-width="1.2"/>
<g font-size="9.0" fill="#222">
<text x="3.4" y="18">Q1</text><text x="3.4" y="31.8">2.49</text>
<text x="201.5" y="18" text-anchor="end">Q2</text><text x="201.5" y="31.8" text-anchor="end">6.84</text>
<text x="3.4" y="194.2">Q4</text><text x="3.4" y="208.2">88.9</text>
<text x="201.5" y="194.2" text-anchor="end">Q3</text><text x="201.5" y="208.2" text-anchor="end">1.75</text>
</g>
</g>
<g transform="translate(341.1 605.7)">
<rect x="0" y="0" width="219.8" height="218.8" fill="#fff"/>
<g clip-path="url(#fc)">
<path d="m171.5 49h0m-22 .5h0m8 1.5h0m-52 1.5h0m21.5 .5h0m9.5 1h0m15 0h0m-11.5 .5h0m9 0h0m-26.5 .5h0m9 0h0m-16 .5h0m-5.5 .5h0m3.5 0h0m24 0h0m42 0h0m-50.5 1h0m21.5 0h0m3.5 0h0m-56.5 1h0m76.5 0h0m-65 .5h0m18 0h0m12 0h0m1.5 0h0m7.5 .5h0m-39 .5h0m46.5 0h0m-44.5 .5h0m25 0h0m-26 .5h0m4 0h0m9.5 0h0m1.5 0h0m-8.5 .5h0m35 0h0m10.5 0h0m-67 .5h0m8.5 0h0m6.5 0h0m6.5 .5h0m-26.5 .5h0m52 0h0m-21.5 .5h0m-57 .5h0m56.5 0h0m-54.5 .5h0m9.5 0h0m31 0h0m33.5 0h0m-75 .5h0m44.5 0h0m19 0h0m-54 .5h0m83.5 0h0m-56 .5h0m41.5 0h0m-80.5 .5h0m12.5 0h0m25 0h0m-27 .5h0m2 1h0m22 0h0m-21 .5h0m-19 .5h0m27 0h0m-16.5 .5h0m12.5 0h0m-7 1h0m5 .5h0m4.5 0h0m1.5 0h0m3.5 0h0m13 0h0m4.5 .5h0m-33 .5h0m9.5 0h0m40.5 0h0m7.5 0h0m30 0h0m-51 1.5h0m28.5 0h0m-56.5 1h0m11 0h0m5 .5h0m-1.5 .5h0m-10 .5h0m2.5 0h0m65 0h0m-36.5 .5h0m-4 .5h0m26.5 1.5h0m-34 .5h0m9 0h0m-21.5 1h0m11.5 0h0m35 0h0m-64.5 1.5h0m21.5 0h0m6 0h0m-16 3.5h0m5.5 0h0m8 0h0m-25.5 1h0m35.5 0h0m-21 1.5h0m1 2h0m-1 .5h0m55.5 0h0m-41.5 1.5h0m15 .5h0m-20.5 1h0m21.5 0h0m-27.5 .5h0m4 0h0m9 0h0m8 0h0m-33.5 .5h0m15.5 .5h0m-6 1h0m23 1h0m16 .5h0m-26.5 2.5h0m7.5 0h0m3.5 0h0m41 0h0m-71 .5h0m4 1h0m16.5 0h0m5 .5h0m-20 .5h0m13.5 1h0m-8 .5h0m21.5 .5h0m12.5 0h0m-33.5 1h0m12.5 0h0m52 0h0m-43 .5h0m-5 .5h0m37.5 0h0m-61.5 1.5h0m15.5 0h0m-15 1h0m24.5 0h0m-23.5 1h0m70 0h0m-61 .5h0m14.5 .5h0m17.5 0h0m0 1h0m-37.5 2.5h0m4.5 0h0m47 1h0m-6.5 1h0m-31 .5h0m49.5 0h0m-49 .5h0m-9.5 .5h0m44 0h0m5.5 .5h0m-56 .5h0m3 .5h0m33.5 0h0m24 0h0m15 0h0m-60.5 .5h0m36.5 0h0m22.5 0h0m-87 1h0m3 0h0m20.5 0h0m24 0h0m-22 .5h0m4.5 0h0m-24 .5h0m3.5 .5h0m24 0h0m21.5 0h0m-19 .5h0m7.5 0h0m-51.5 .5h0m71.5 0h0m1 0h0m-58 1h0m3 0h0m9.5 0h0m9.5 0h0m-26 1h0m18.5 .5h0m5 0h0m49 0h0m9.5 .5h0m-79 .5h0m42.5 0h0m3 0h0m16 .5h0m-69.5 .5h0m3 0h0m9.5 0h0m8 0h0m42.5 0h0m-57.5 .5h0m2 0h0m16.5 0h0m16 0h0m-42 .5h0m33 0h0m4.5 0h0m2 0h0m-19.5 .5h0m6.5 0h0m1 0h0m-6.5 .5h0m4 0h0m10.5 .5h0m-20 .5h0m38.5 .5h0m-53.5 1h0m18 0h0m9 0h0m40.5 0h0m-77.5 .5h0m8.5 0h0m16.5 .5h0m1 0h0m43 .5h0m-16 .5h0m2 0h0m25 0h0m-54 .5h0m26.5 0h0m15 0h0m-58.5 .5h0m2 0h0m71 0h0m-70.5 .5h0m53.5 0h0m-17 1h0m24 0h0m-70 .5h0m25 .5h0m39 0h0m-17 .5h0m34.5 .5h0m-14.5 .5h0m-69.5 .5h0m47.5 0h0m23.5 0h0m-25.5 .5h0m10 0h0m-51.5 .5h0m56 0h0m-53.5 .5h0m19.5 0h0m-24.5 .5h0m.5 0h0m65.5 0h0m17 0h0m5.5 .5h0m-85.5 .5h0m.5 0h0m62.5 0h0m.5 0h0m15 .5h0m-58.5 .5h0m17.5 0h0m10.5 .5h0m-28 1h0m-2.5 .5h0m39 0h0m14 0h0m-57 .5h0m13.5 0h0m-35.5 .5h0m32.5 0h0m20 0h0m-30.5 .5h0m-2 .5h0m51 0h0m-75.5 .5h0m34.5 0h0m-31 .5h0m25 .5h0m80.5 0h0m-77.5 1h0m6 0h0m30.5 0h0m-47.5 .5h0m-20 1h0m23.5 0h0m3 0h0m7.5 0h0m13 0h0m15.5 .5h0m-30 .5h0m-25 .5h0m43.5 0h0m-39.5 .5h0m5.5 0h0m5.5 0h0m2.5 0h0m29 0h0m12 0h0m-76.5 .5h0m41.5 0h0m-30.5 .5h0m-6 .5h0m13 0h0m6 0h0m50 0h0m-51 .5h0m49.5 0h0m-65 .5h0m32.5 0h0m33 0h0m-45 .5h0m32.5 0h0m11.5 0h0m-32 1h0m-15 .5h0m3 0h0m22.5 0h0m-44.5 .5h0m23 0h0m-28 .5h0m6 0h0m10.5 0h0m13 0h0m-2.5 .5h0m10.5 0h0m29.5 0h0m-48.5 .5h0m3 0h0m34.5 2h0m-26 1h0m-14 .5h0m23.5 1h0m52 .5h0m-31 1h0m-57.5 .5h0m15.5 1h0m-15 2h0m-6 5h0" stroke="#6f8fe6" stroke-width="1.35" stroke-linecap="round" fill="none"/>
<path d="m154 49h0m-1 1h0m14 1h0m.5 0h0m37 .5h0m18 0h0m-96.5 1.5h0m6.5 0h0m.5 .5h0m-33.5 .5h0m5 0h0m25.5 0h0m12 0h0m9 0h0m30.5 0h0m-42 .5h0m-4 .5h0m3 0h0m-48.5 .5h0m38 0h0m5.5 0h0m32.5 0h0m-39.5 .5h0m39 0h0m-64.5 .5h0m12 0h0m27 0h0m3.5 0h0m16.5 0h0m-27 .5h0m15.5 0h0m12 0h0m-31 .5h0m4.5 0h0m25 0h0m-45.5 .5h0m.5 0h0m33 0h0m-33.5 .5h0m4 0h0m5.5 0h0m-31 .5h0m18 0h0m16.5 0h0m10 0h0m5 0h0m-39 .5h0m2.5 0h0m51 0h0m-70 .5h0m38.5 0h0m1.5 0h0m22.5 0h0m-44.5 .5h0m15 0h0m7 0h0m42 0h0m-100 .5h0m62 0h0m14 0h0m-11 .5h0m23.5 0h0m-30.5 .5h0m3 0h0m8 0h0m4.5 0h0m-60 .5h0m27 0h0m7.5 0h0m1 0h0m10 0h0m.5 0h0m11 0h0m1.5 0h0m3 0h0m-34.5 .5h0m6.5 0h0m13.5 0h0m5 0h0m.5 0h0m35.5 .5h0m-57.5 .5h0m3.5 0h0m17.5 0h0m12 0h0m.5 0h0m-81.5 .5h0m42 0h0m3 0h0m23.5 0h0m33.5 0h0m-114.5 .5h0m18.5 0h0m42 0h0m26.5 0h0m3.5 0h0m46.5 0h0m-120 .5h0m2.5 0h0m2 0h0m46 0h0m10 0h0m-29.5 .5h0m16 0h0m10.5 0h0m.5 0h0m-59 .5h0m5 0h0m8.5 0h0m15 0h0m2 0h0m27 0h0m-30.5 .5h0m12 0h0m-24.5 .5h0m1 0h0m7 0h0m3.5 0h0m37 0h0m-19 .5h0m-34.5 .5h0m12.5 0h0m1 0h0m88 0h0m-100 .5h0m2 0h0m12.5 0h0m1.5 0h0m.5 0h0m7 0h0m8 .5h0m-26 .5h0m-19 .5h0m66 0h0m-53.5 .5h0m3.5 0h0m24.5 0h0m-33.5 .5h0m18.5 0h0m-20 .5h0m8.5 0h0m9.5 0h0m-2 .5h0m-4 1h0m72.5 0h0m-76 .5h0m8 0h0m-9 .5h0m3.5 0h0m11.5 0h0m8.5 0h0m-33.5 .5h0m12.5 0h0m5 .5h0m10.5 0h0m-3 .5h0m4 0h0m7 1.5h0m-35.5 .5h0m3 0h0m40 0h0m39.5 0h0m-74 .5h0m15 1h0m24 1.5h0m-22.5 .5h0m1.5 0h0m37 0h0m-41.5 .5h0m10.5 .5h0m9.5 0h0m-9.5 .5h0m9 0h0m-12.5 .5h0m57.5 0h0m-62 .5h0m23 0h0m10.5 0h0m5 0h0m-48 .5h0m23.5 0h0m.5 0h0m-20.5 1h0m67 0h0m.5 0h0m-42 .5h0m48.5 0h0m-69 1h0m-26 1.5h0m29.5 0h0m20.5 0h0m-15 .5h0m-7.5 .5h0m62.5 .5h0m-73 .5h0m3.5 0h0m75 0h0m-54.5 .5h0m10.5 0h0m-41 .5h0m11.5 0h0m68 0h0m-58.5 .5h0m-1 .5h0m1.5 0h0m-.5 1h0m4.5 0h0m12 0h0m-24 .5h0m5 0h0m3 0h0m25 0h0m-31 .5h0m15 0h0m2 0h0m-19 .5h0m5.5 .5h0m1 0h0m-10 .5h0m2 0h0m-6.5 1.5h0m-12 .5h0m24 0h0m.5 0h0m2.5 0h0m19.5 .5h0m-21.5 .5h0m1.5 0h0m-1 .5h0m14 0h0m-26 .5h0m10 1h0m.5 0h0m6 0h0m14.5 0h0m-13.5 .5h0m21 0h0m-25.5 .5h0m1 .5h0m8.5 0h0m.5 0h0m1 0h0m1.5 .5h0m31.5 1h0m-46.5 .5h0m-6.5 .5h0m13 0h0m-11 .5h0m2 0h0m5.5 1.5h0m20.5 0h0m8 0h0m-40 .5h0m17.5 0h0m37.5 .5h0m-47 .5h0m46 .5h0m-54.5 .5h0m8.5 0h0m1 0h0m7.5 0h0m-16.5 1h0m30 0h0m5.5 0h0m29.5 0h0m-58 .5h0m29 0h0m-10.5 .5h0m17 .5h0m-21.5 .5h0m18.5 .5h0m-36 .5h0m10 0h0m17.5 .5h0m32.5 .5h0m-65.5 .5h0m20 0h0m44 0h0m-60.5 1h0m4.5 0h0m2.5 0h0m39.5 0h0m3.5 0h0m.5 0h0m-51 .5h0m35.5 0h0m5.5 0h0m-46 .5h0m14.5 0h0m.5 0h0m49 0h0m-61.5 .5h0m2 0h0m6.5 0h0m4.5 0h0m9.5 0h0m2 0h0m7.5 0h0m-38.5 .5h0m1.5 0h0m-4.5 .5h0m21 0h0m7 0h0m-9.5 .5h0m7 0h0m5 0h0m24.5 0h0m-50 .5h0m9.5 0h0m8.5 0h0m31.5 0h0m-41.5 .5h0m53 0h0m18.5 0h0m-53.5 1h0m-7.5 .5h0m-11 .5h0m2.5 0h0m8 0h0m29 0h0m24 0h0m-65.5 .5h0m10 0h0m-38 .5h0m32.5 0h0m46.5 0h0m-52.5 .5h0m13 0h0m.5 0h0m-12 .5h0m.5 0h0m7 0h0m13.5 0h0m7.5 0h0m10.5 0h0m5.5 0h0m14.5 0h0m.5 0h0m-65.5 .5h0m23 0h0m43 0h0m7.5 0h0m-64 .5h0m11 0h0m9.5 0h0m-40 .5h0m49 0h0m5.5 0h0m53 0h0m-111 .5h0m22.5 0h0m5 0h0m14.5 0h0m-36.5 .5h0m5 0h0m1.5 0h0m20 0h0m3 0h0m18 0h0m9.5 0h0m7 0h0m2 0h0m-60.5 .5h0m23 0h0m3 0h0m24 0h0m2.5 0h0m-44.5 .5h0m34 0h0m5.5 0h0m14.5 0h0m-68.5 .5h0m2.5 0h0m11.5 0h0m26 0h0m17 0h0m1 0h0m1.5 0h0m21 0h0m3 0h0m-45.5 .5h0m30 0h0m-51.5 .5h0m-16.5 .5h0m20 0h0m50 0h0m-63 .5h0m12 0h0m46 0h0m8 0h0m9.5 0h0m-24.5 .5h0m-59.5 .5h0m8.5 0h0m57 0h0m-67.5 .5h0m22 0h0m2 0h0m37 0h0m-40 .5h0m38.5 0h0m23 0h0m-16.5 .5h0m-36.5 .5h0m4.5 0h0m-43.5 .5h0m32.5 0h0m-34 .5h0m33.5 0h0m37.5 0h0m-58.5 .5h0m4.5 0h0m16 0h0m1 0h0m48.5 0h0m-75.5 1h0m1 0h0m28 0h0m24.5 0h0m-57.5 .5h0m53.5 0h0m17 .5h0m-61.5 .5h0m.5 0h0m1.5 0h0m32.5 0h0m11 0h0m-15.5 .5h0m21.5 0h0m.5 0h0m-61.5 .5h0m85 0h0m-19 .5h0m1 0h0m-41 .5h0m32 0h0m-27.5 .5h0m-39.5 .5h0m7 0h0m11.5 0h0m40.5 0h0m13.5 0h0m15 0h0m-42.5 .5h0m8.5 0h0m30 0h0m2.5 0h0m-68.5 .5h0m58.5 0h0m21 0h0m-89 .5h0m8 0h0m24 0h0m21.5 0h0m9 0h0m3 0h0m11 0h0m7.5 0h0m-79 .5h0m24.5 0h0m7.5 0h0m22 0h0m4 0h0m3 0h0m7 0h0m-64.5 .5h0m43.5 0h0m-17 .5h0m-27.5 .5h0m23 0h0m3.5 0h0m-11 .5h0m3 0h0m-30 .5h0m35 0h0m36 0h0m1.5 0h0m-67 .5h0m28.5 0h0m5.5 0h0m27 0h0m8.5 0h0m18 0h0m-85.5 .5h0m19 0h0m1 0h0m12.5 0h0m8 0h0m-22.5 .5h0m3 0h0m12.5 0h0m31.5 0h0m-63.5 .5h0m21 0h0m1.5 0h0m31 0h0m14 0h0m7.5 0h0m-82 .5h0m26 0h0m95 0h0m-32 .5h0m6 0h0m-101 .5h0m28.5 0h0m33.5 0h0m-56.5 .5h0m1 0h0m1.5 0h0m.5 0h0m18.5 0h0m41 0h0m24 0h0m-83 .5h0m18.5 0h0m32 0h0m17.5 0h0m-87.5 .5h0m37 0h0m15.5 0h0m12.5 0h0m11.5 0h0m19.5 0h0m-78 .5h0m0 .5h0m-15.5 .5h0m16.5 0h0m14 0h0m5 0h0m38 0h0m-39.5 .5h0m9.5 0h0m13 0h0m8.5 0h0m-39.5 .5h0m5 0h0m14 .5h0m-12 .5h0m8.5 0h0m13.5 0h0m-27 .5h0m-4.5 .5h0m8 0h0m10 0h0m26 0h0m4.5 0h0m6 0h0m-60.5 .5h0m8.5 0h0m30 0h0m26 0h0m-38 .5h0m51.5 0h0m-70 .5h0m3.5 0h0m15.5 0h0m8.5 .5h0m25 0h0m16.5 0h0m-62.5 .5h0m3.5 0h0m30.5 0h0m-46.5 .5h0m1.5 0h0m10 0h0m1.5 0h0m19 0h0m-33.5 .5h0m12 .5h0m5 0h0m-19.5 .5h0m7 0h0m61 .5h0m10.5 0h0m-75.5 .5h0m2.5 0h0m6.5 0h0m28 0h0m-30.5 .5h0m0 .5h0m6.5 0h0m-11.5 .5h0m1.5 0h0m-8 1.5h0m14 0h0m30 .5h0m2.5 .5h0m-42 .5h0m33.5 1h0m-34 1h0m2.5 .5h0m28.5 .5h0m-33.5 .5h0m-8.5 1h0m8.5 0h0m-3.5 5.5h0" stroke="#3450c8" stroke-width="1.4" stroke-linecap="round" fill="none"/>
<path d="m137 47h0m-15.5 3.5h0m50.5 1h0m-30 .5h0m-33 .5h0m18 0h0m53.5 0h0m-103.5 .5h0m78 0h0m4 0h0m-11.5 .5h0m4 0h0m-13 .5h0m32 0h0m5 0h0m-75.5 .5h0m24 0h0m12.5 0h0m24 0h0m1.5 0h0m2.5 0h0m-21 .5h0m1.5 0h0m7 0h0m-45.5 .5h0m7 0h0m27.5 0h0m11.5 0h0m-26 .5h0m20.5 0h0m-36 .5h0m41.5 0h0m-12.5 .5h0m-27.5 .5h0m20.5 0h0m2 0h0m2.5 0h0m1.5 0h0m21 0h0m-72.5 .5h0m22.5 0h0m14.5 0h0m3 0h0m13 0h0m19 0h0m-61 .5h0m36.5 0h0m11.5 0h0m-53.5 .5h0m17 0h0m4 0h0m15.5 0h0m4 0h0m20 0h0m5 0h0m5 0h0m-51 .5h0m1.5 0h0m1 0h0m7.5 0h0m9 0h0m1.5 0h0m1 0h0m15.5 0h0m-47.5 .5h0m22.5 0h0m8.5 0h0m4.5 0h0m9.5 0h0m5.5 0h0m4 0h0m5 0h0m-86.5 .5h0m87 0h0m1 0h0m22.5 0h0m-88.5 .5h0m16.5 0h0m-13 .5h0m12.5 0h0m7 0h0m1 0h0m1 0h0m21 0h0m-46 .5h0m2.5 0h0m16.5 0h0m23 0h0m8.5 0h0m-62.5 .5h0m13 0h0m8 0h0m15.5 0h0m1 0h0m2.5 0h0m5 0h0m.5 0h0m8 0h0m2 0h0m9 0h0m-88.5 .5h0m18.5 0h0m1 0h0m1.5 0h0m15 0h0m10.5 0h0m6.5 0h0m-24.5 .5h0m27.5 0h0m14.5 0h0m37.5 0h0m-44 .5h0m-63.5 .5h0m18 0h0m39.5 0h0m9 0h0m-58 .5h0m11 0h0m9.5 0h0m9 0h0m51 0h0m-60.5 .5h0m26.5 0h0m2 0h0m-58 .5h0m25.5 0h0m.5 0h0m11 0h0m9 0h0m24.5 0h0m4.5 0h0m5 0h0m-67.5 .5h0m.5 0h0m22.5 0h0m67.5 0h0m-109.5 .5h0m9 0h0m13.5 0h0m40.5 0h0m-60 .5h0m77 .5h0m-46.5 .5h0m20 0h0m40 0h0m-71.5 .5h0m20.5 0h0m8.5 0h0m3 0h0m-41 .5h0m19.5 0h0m4 0h0m-21.5 1h0m8.5 0h0m9 0h0m10 0h0m2 0h0m51.5 0h0m-77 .5h0m5 0h0m22.5 0h0m-40 .5h0m4 0h0m34.5 0h0m-24.5 .5h0m4 0h0m13.5 0h0m.5 0h0m1 0h0m10.5 0h0m-19.5 .5h0m5 0h0m-16 .5h0m8.5 0h0m2.5 0h0m8 0h0m.5 0h0m-1.5 .5h0m3 0h0m2 0h0m-28 .5h0m11.5 0h0m1 0h0m17 0h0m6.5 0h0m-12 .5h0m9.5 0h0m-37.5 .5h0m-.5 .5h0m47.5 0h0m-15.5 .5h0m-19 .5h0m-2 .5h0m5.5 .5h0m16 0h0m25.5 0h0m12 1h0m-32.5 1h0m2 .5h0m-35 .5h0m19.5 1h0m7.5 0h0m.5 .5h0m33.5 .5h0m-31.5 1.5h0m9.5 0h0m5 0h0m-24 1h0m6.5 0h0m7 .5h0m3 0h0m-14.5 1h0m15 0h0m13.5 .5h0m-31.5 .5h0m6.5 0h0m7 0h0m-18.5 .5h0m14.5 0h0m-12 2.5h0m3.5 0h0m10 0h0m8.5 0h0m13.5 .5h0m-20 .5h0m3 .5h0m16.5 0h0m-32 .5h0m3.5 0h0m4 0h0m12 0h0m-24.5 .5h0m17 0h0m-10 .5h0m3.5 0h0m0 .5h0m8 0h0m12.5 0h0m-3 1.5h0m-30.5 .5h0m66.5 0h0m-57.5 1h0m6.5 .5h0m17 0h0m14.5 0h0m-19 .5h0m28 0h0m-46 .5h0m12.5 0h0m6 0h0m32.5 0h0m-51 .5h0m1.5 0h0m16.5 0h0m-1.5 .5h0m-14 .5h0m7.5 .5h0m4.5 .5h0m55 0h0m-62.5 1h0m-6 .5h0m11.5 0h0m33 0h0m-46 1h0m6 0h0m4.5 0h0m-23.5 1h0m8 0h0m22 0h0m52 0h0m-60.5 .5h0m-11 1h0m-3.5 .5h0m.5 0h0m21.5 0h0m1.5 0h0m16.5 0h0m-38.5 .5h0m38.5 .5h0m-33 .5h0m20 0h0m36 0h0m-49 .5h0m.5 0h0m-16.5 .5h0m21.5 0h0m-22.5 .5h0m7.5 0h0m9 0h0m31.5 0h0m-47.5 .5h0m14.5 0h0m-10 .5h0m5 0h0m16 0h0m-25.5 .5h0m31.5 0h0m76 0h0m-104.5 .5h0m45.5 0h0m-45 .5h0m7.5 0h0m-7.5 .5h0m3.5 0h0m4 0h0m15 0h0m34.5 .5h0m-59.5 .5h0m9 0h0m9.5 0h0m1 0h0m39.5 0h0m-49 .5h0m9 .5h0m-24 .5h0m13.5 .5h0m4 0h0m9 0h0m39.5 0h0m-50.5 .5h0m17 0h0m18.5 .5h0m-54 .5h0m27 0h0m10 0h0m-23.5 .5h0m8 0h0m11.5 0h0m12 0h0m5.5 0h0m-39 .5h0m24.5 0h0m4 0h0m-30 .5h0m6 0h0m4 0h0m3 0h0m-7 .5h0m8.5 0h0m-18.5 .5h0m15.5 .5h0m17 0h0m13.5 0h0m-41 .5h0m-4 .5h0m14.5 0h0m4 0h0m16 0h0m30 0h0m12.5 0h0m-70.5 .5h0m25 .5h0m6 0h0m6 0h0m17 0h0m1 .5h0m26.5 0h0m-70.5 .5h0m34 0h0m13.5 0h0m-56.5 .5h0m7 0h0m13 0h0m-32 .5h0m.5 0h0m31 0h0m22 0h0m-60.5 .5h0m4.5 0h0m13 0h0m11.5 0h0m2 0h0m16 0h0m2 0h0m8.5 0h0m9.5 0h0m12.5 0h0m-86.5 .5h0m17.5 0h0m10 0h0m9.5 0h0m4.5 0h0m10.5 0h0m-49 .5h0m24.5 0h0m4.5 0h0m11 0h0m10.5 0h0m26 0h0m22.5 0h0m-93 .5h0m37.5 0h0m7.5 0h0m10 0h0m8.5 0h0m8 0h0m-50 .5h0m2 0h0m2 0h0m13.5 0h0m10.5 0h0m8.5 0h0m-61.5 .5h0m32 0h0m42.5 0h0m-53 .5h0m37.5 0h0m.5 0h0m6 0h0m-66 .5h0m37 0h0m14 0h0m17.5 0h0m-62 .5h0m24 0h0m3 0h0m14.5 0h0m1.5 0h0m21 0h0m-67.5 .5h0m.5 0h0m19.5 0h0m2.5 0h0m34.5 0h0m17.5 0h0m18.5 0h0m-104 .5h0m20 0h0m10 0h0m5 0h0m30 0h0m17.5 0h0m-10 .5h0m4.5 0h0m4 0h0m1.5 0h0m1.5 0h0m-12.5 .5h0m.5 0h0m15.5 0h0m-93 .5h0m14.5 0h0m2.5 0h0m16 0h0m6.5 0h0m10.5 0h0m15.5 0h0m7.5 0h0m4.5 0h0m-41.5 .5h0m40 0h0m2 0h0m-63 .5h0m6 0h0m58 0h0m2 0h0m6 0h0m-78 .5h0m8.5 0h0m27 0h0m4.5 0h0m28.5 0h0m-69 .5h0m4 0h0m3 0h0m30 0h0m49 0h0m-56.5 .5h0m6.5 0h0m5 0h0m41 0h0m-75.5 .5h0m20.5 0h0m3 0h0m16.5 0h0m11 0h0m21 0h0m19.5 0h0m-95.5 .5h0m7 0h0m20 0h0m43 0h0m-75 .5h0m49.5 0h0m6 0h0m18 0h0m-38.5 .5h0m26.5 0h0m14 0h0m1.5 0h0m3.5 0h0m-78 .5h0m5 0h0m35.5 0h0m7.5 0h0m13 0h0m5 0h0m-71.5 .5h0m6.5 0h0m1.5 0h0m19 0h0m45.5 0h0m19 0h0m19 0h0m-84 .5h0m.5 0h0m.5 0h0m4 0h0m1 0h0m33.5 0h0m-64.5 .5h0m10 0h0m.5 0h0m14.5 0h0m5.5 0h0m3.5 0h0m16.5 0h0m5.5 0h0m18 .5h0m3 0h0m.5 0h0m14 0h0m-95 .5h0m5 0h0m4 0h0m44 0h0m17 0h0m3 0h0m6.5 0h0m-76 .5h0m7 0h0m17 0h0m16.5 0h0m7 0h0m15.5 0h0m6 0h0m19.5 0h0m3 0h0m-63 .5h0m50 0h0m13.5 0h0m10.5 0h0m-102 .5h0m.5 0h0m33 0h0m12.5 0h0m20.5 0h0m7 0h0m-76.5 .5h0m3 0h0m5.5 0h0m20.5 0h0m7 0h0m1 0h0m5 .5h0m33.5 0h0m5.5 0h0m5 0h0m-84 .5h0m27 0h0m2.5 0h0m4 0h0m.5 0h0m30.5 0h0m10.5 0h0m8.5 0h0m-81 .5h0m4.5 0h0m58 0h0m24 0h0m34 0h0m-128 .5h0m27.5 0h0m8 0h0m3 0h0m2 0h0m20.5 0h0m33 0h0m-104 .5h0m19.5 0h0m1.5 0h0m65 0h0m1.5 0h0m7 0h0m-89 .5h0m4 0h0m9.5 0h0m2 0h0m29.5 0h0m16 0h0m9 0h0m-67.5 .5h0m.5 0h0m8 0h0m2.5 0h0m16.5 0h0m55.5 0h0m1 0h0m-78 .5h0m3 0h0m32 0h0m14.5 0h0m-60.5 .5h0m17 0h0m14.5 0h0m14 0h0m4.5 0h0m26 0h0m-45 .5h0m33 0h0m-29.5 .5h0m9.5 0h0m2.5 0h0m37 0h0m14.5 0h0m-66.5 .5h0m-19.5 .5h0m.5 0h0m23 0h0m11 0h0m34 0h0m-77.5 .5h0m13 0h0m13 0h0m1 0h0m21 0h0m18 0h0m10.5 0h0m16 0h0m-53 .5h0m-38 .5h0m3.5 0h0m24.5 0h0m2.5 0h0m11 0h0m4 .5h0m13.5 0h0m-59 .5h0m3.5 0h0m24.5 0h0m4.5 0h0m6 0h0m12 0h0m-46 .5h0m1 0h0m31 0h0m-28.5 .5h0m15.5 0h0m22 0h0m-35.5 .5h0m13 0h0m5 0h0m1 0h0m3.5 0h0m-27 .5h0m14 0h0m1 0h0m5 0h0m6 0h0m17 0h0m12 0h0m2 0h0m-69.5 .5h0m13 0h0m14 0h0m4 0h0m39 0h0m27 0h0m-94 .5h0m24 0h0m6 0h0m19 0h0m7.5 0h0m5.5 0h0m.5 0h0m18.5 0h0m-61 .5h0m14.5 0h0m-38 .5h0m6.5 0h0m13 0h0m1.5 0h0m2.5 0h0m4.5 0h0m7 0h0m10.5 0h0m32 0h0m-79.5 .5h0m17 0h0m26 0h0m48 0h0m-89 .5h0m17 0h0m8 0h0m60 0h0m-84 .5h0m11 0h0m15.5 0h0m27 0h0m17 0h0m-73.5 .5h0m21 0h0m4.5 0h0m63 0h0m-77.5 .5h0m5.5 0h0m14 0h0m2 0h0m4 0h0m3 0h0m-44.5 .5h0m29 0h0m3 0h0m1.5 .5h0m4 0h0m.5 .5h0m39 .5h0m-46.5 .5h0m-6.5 .5h0m7 0h0m6 0h0m2.5 0h0m8.5 0h0m-37.5 .5h0m7 0h0m.5 .5h0m22.5 0h0m-18 .5h0m.5 0h0m5.5 .5h0m7 0h0m53.5 0h0m-78.5 .5h0m14 0h0m3 0h0m5.5 0h0m-35.5 .5h0m44.5 .5h0m-31 .5h0m.5 .5h0m20.5 0h0m46.5 0h0m-61.5 .5h0m-3 .5h0m6 0h0m3 0h0m-27 .5h0m76.5 0h0m-62 .5h0m26 2.5h0m1 0h0m-32 .5h0m4.5 .5h0m22.5 0h0m-6.5 .5h0m-7 .5h0m46 1h0m-43.5 2.5h0" stroke="#1a2a9e" stroke-width="1.45" stroke-linecap="round" fill="none"/>
<path d="m82.5 122h0m17.5 0h0m-17 1.5h0m10 0h0m2.5 0h0m3 .5h0m-4 .5h0m-8 .5h0m-5.5 1.5h0m5.5 2.5h0m-7 1.5h0m-8 2.5h0m17.5 .5h0m-17.5 1h0m15 .5h0m7 0h0m-35.5 2.5h0m6.5 0h0m22.5 1.5h0m1.5 0h0m-20.5 1h0m-2 .5h0m1.5 0h0m16.5 0h0m-18 .5h0m.5 1h0m29 0h0m-29.5 .5h0m18.5 2h0m-24 .5h0m3 .5h0m-5.5 .5h0m2 0h0m4 0h0m18 0h0m-33.5 2h0m10 .5h0m-2.5 1.5h0m18.5 .5h0m-13 .5h0m5 1h0m8.5 0h0m-7 1h0m-2 .5h0m11.5 0h0m-41 .5h0m42.5 0h0m-11.5 1.5h0m5.5 .5h0m12 0h0m-30.5 2h0m23 0h0m-16.5 1h0m8 .5h0m-3.5 2.5h0m0 1h0m11.5 .5h0m-16.5 .5h0" stroke="#3aa6dc" stroke-width="1.4" stroke-linecap="round" fill="none"/>
<g transform="translate(75.1 140.7) rotate(-45)" filter="url(#fb)">
<ellipse rx="19" ry="7" fill="#2236b4" opacity="0.8"/>
<ellipse rx="15.96" ry="5.88" fill="#2a6fd6" opacity="1"/>
<ellipse rx="13.68" ry="5.04" fill="#2fb3d8" opacity="1"/>
<ellipse rx="11.4" ry="4.2" fill="#3fb45a" opacity="1"/>
<ellipse rx="7.98" ry="2.94" fill="#9fce3a" opacity="1"/>
<ellipse rx="5.7" ry="2.1" fill="#f0c020" opacity="1"/>
<ellipse rx="3.8" ry="1.4" fill="#f07a1c" opacity="1"/>
<ellipse rx="2.28" ry="0.84" fill="#e5301c" opacity="1"/>
</g>
</g>
<line x1="98.3" y1="0" x2="98.3" y2="218.8" stroke="#000" stroke-width="1.7"/>
<line x1="0" y1="112.3" x2="219.8" y2="112.3" stroke="#000" stroke-width="1.7"/>
<rect x="0" y="0" width="219.8" height="218.8" fill="none" stroke="#2a2a2a" stroke-width="1.2"/>
<g font-size="9.0" fill="#222">
<text x="3.4" y="18">Q1</text><text x="3.4" y="31.8">3.36</text>
<text x="201.3" y="18" text-anchor="end">Q2</text><text x="201.3" y="31.8" text-anchor="end">7.32</text>
<text x="3.4" y="193.6">Q4</text><text x="3.4" y="207.6">83.7</text>
<text x="201.3" y="193.6" text-anchor="end">Q3</text><text x="201.3" y="207.6" text-anchor="end">5.65</text>
</g>
</g>
<g transform="translate(585.6 605.3)">
<rect x="0" y="0" width="217.7" height="218.6" fill="#fff"/>
<g clip-path="url(#fc)">
<path d="m86.5 46.5h0m49.5 1.5h0m1.5 1h0m-37.5 1h0m4.5 2.5h0m32 1h0m-14 .5h0m12 1h0m43.5 0h0m-3 1.5h0m-83 .5h0m19.5 0h0m12.5 0h0m.5 0h0m8.5 0h0m15 0h0m-55 .5h0m80.5 0h0m-50 .5h0m3.5 0h0m22 0h0m35 0h0m-124 .5h0m14 0h0m77.5 0h0m-72.5 .5h0m45 0h0m9.5 0h0m4.5 0h0m5 0h0m8 0h0m38 0h0m-79.5 .5h0m14 .5h0m2 0h0m-13 .5h0m26 0h0m12.5 0h0m-55.5 .5h0m10.5 0h0m1.5 0h0m2 0h0m48 0h0m17 0h0m-56.5 .5h0m4 0h0m3.5 0h0m4 0h0m14 0h0m6 0h0m6.5 0h0m3.5 0h0m3.5 0h0m-91.5 .5h0m12 0h0m13.5 0h0m9.5 0h0m28.5 0h0m-22.5 .5h0m23 0h0m-68.5 .5h0m52.5 0h0m28.5 0h0m-76.5 .5h0m34.5 0h0m43 0h0m-78 .5h0m9.5 0h0m37 0h0m7 0h0m62 0h0m-54.5 .5h0m10 0h0m-54.5 .5h0m41.5 0h0m-70 .5h0m32.5 0h0m2.5 0h0m60.5 0h0m.5 0h0m-70 .5h0m4 0h0m.5 0h0m21.5 0h0m18 0h0m17 0h0m-83 .5h0m44 0h0m8 0h0m10.5 0h0m13 0h0m-14 .5h0m41 0h0m-92.5 .5h0m53.5 0h0m-61.5 .5h0m84 0h0m26 0h0m-90 .5h0m10.5 0h0m41.5 0h0m-45.5 .5h0m49 0h0m-62 .5h0m23 .5h0m-19 .5h0m6 0h0m19 0h0m-16.5 .5h0m-24.5 .5h0m76 0h0m-84 .5h0m2.5 0h0m41 0h0m-25.5 .5h0m11.5 0h0m12 0h0m6 0h0m-35.5 .5h0m7.5 0h0m28.5 .5h0m20 0h0m-4 .5h0m-41 1h0m1 0h0m3 0h0m63 0h0m-52 .5h0m-23 1.5h0m19 .5h0m55.5 0h0m-42.5 .5h0m-5.5 1h0m-5 1h0m5 1h0m9 .5h0m-25.5 .5h0m25.5 0h0m-12 2h0m27 0h0m11 1h0m28 0h0m-76 .5h0m.5 2h0m6 0h0m7 2h0m5 0h0m-15.5 1h0m37.5 1.5h0m-50 .5h0m-6.5 .5h0m12 .5h0m7 1h0m-11 .5h0m6 0h0m37 0h0m-14.5 1h0m3.5 0h0m-22.5 1h0m-1 1h0m18 1h0m-18.5 1.5h0m3 0h0m9.5 .5h0m-7.5 .5h0m40.5 1.5h0m-34 .5h0m-.5 .5h0m57.5 .5h0m-42.5 .5h0m22 0h0m-32.5 1h0m25.5 .5h0m8.5 0h0m-32 .5h0m-16 .5h0m65 0h0m-79 1h0m64.5 0h0m27 0h0m-79.5 .5h0m57 .5h0m-61.5 .5h0m5.5 .5h0m6.5 0h0m62.5 0h0m1.5 0h0m-68 .5h0m73 0h0m-75.5 .5h0m2.5 0h0m52.5 0h0m-14 .5h0m34.5 0h0m.5 1h0m-73.5 .5h0m10.5 0h0m55 0h0m-78.5 .5h0m27.5 0h0m43.5 .5h0m-44 1h0m43.5 0h0m1 1.5h0m-8 .5h0m5 .5h0m14.5 0h0m-5.5 .5h0m-3 .5h0m-59 .5h0m30 .5h0m21 0h0m12.5 0h0m-51.5 1.5h0m-14.5 1h0m26.5 0h0m21 0h0m-56 .5h0m1.5 0h0m8.5 .5h0m2 0h0m43 .5h0m-28 .5h0m28 0h0m-54 1h0m32 0h0m21 0h0m-68 1h0m11 0h0m.5 .5h0m20.5 0h0m66.5 0h0m-81 .5h0m48 0h0m-57 .5h0m12 0h0m47.5 0h0m24.5 0h0m-80.5 .5h0m50.5 0h0m4 0h0m8 0h0m-66.5 .5h0m9 0h0m44 0h0m-31 .5h0m63 0h0m-77 .5h0m28.5 0h0m-34 .5h0m36 0h0m16.5 0h0m8.5 0h0m-43 .5h0m18.5 0h0m28.5 0h0m-76 .5h0m83.5 0h0m-46 .5h0m31.5 0h0m-56.5 .5h0m36.5 0h0m13.5 0h0m20.5 .5h0m-88 .5h0m25 .5h0m55 0h0m20.5 0h0m-93 .5h0m69.5 0h0m-49.5 .5h0m27.5 .5h0m23 0h0m.5 0h0m-82.5 .5h0m40.5 0h0m29 0h0m-60 1h0m50.5 0h0m-59.5 .5h0m25.5 0h0m10 0h0m23.5 0h0m-32 .5h0m1.5 0h0m1 0h0m52 0h0m-28.5 .5h0m32 0h0m-43.5 .5h0m-46.5 .5h0m6.5 0h0m23 0h0m7.5 0h0m15 0h0m30.5 0h0m-49 .5h0m-43.5 .5h0m21.5 .5h0m23 .5h0m-30.5 .5h0m24 0h0m1 0h0m17 0h0m-44.5 .5h0m37 0h0m-38 .5h0m9.5 0h0m64.5 0h0m-73 .5h0m76 0h0m-48 .5h0m8.5 .5h0m-14 .5h0m44.5 0h0m-44 .5h0m45.5 .5h0m-76 2h0m38 0h0m-27 .5h0m-4.5 .5h0m19.5 0h0m76 0h0m-73.5 .5h0m-22.5 .5h0m27 0h0m45 0h0m-47.5 1h0m4 0h0m33.5 0h0m-68.5 .5h0m6 .5h0m35 0h0m5 0h0m4 .5h0m-18.5 .5h0m45.5 .5h0m-69.5 .5h0m33.5 0h0m40.5 0h0m-59.5 .5h0m8 0h0m25.5 .5h0m-38.5 .5h0m-4 .5h0m20 0h0m-34 .5h0m12 0h0m4 0h0m2 .5h0m2 0h0m12 .5h0m-15.5 .5h0m10.5 0h0m-25 1.5h0m7 0h0m7 0h0m-17 .5h0m6 0h0m17 0h0m-8 .5h0m35 0h0m-32 .5h0m.5 0h0m-7.5 .5h0m17 0h0m10.5 0h0m-38.5 1h0m-2 .5h0m14.5 0h0m41.5 0h0m-55 .5h0m2.5 0h0m20 .5h0m-10.5 1.5h0m2 3.5h0m-8.5 1.5h0m22 0h0m-30 4h0" stroke="#6f8fe6" stroke-width="1.35" stroke-linecap="round" fill="none"/>
<path d="m174.5 48.5h0m-25 1.5h0m11 .5h0m21.5 0h0m-23 1h0m-13 .5h0m-45.5 1.5h0m61.5 0h0m2.5 0h0m-24.5 1h0m-9.5 .5h0m-4.5 .5h0m28.5 0h0m1.5 0h0m.5 0h0m-56 .5h0m.5 0h0m5.5 0h0m7 0h0m40.5 0h0m-33.5 .5h0m12 0h0m2.5 0h0m4.5 0h0m-14 .5h0m19.5 0h0m2 0h0m1.5 0h0m21 0h0m-57.5 .5h0m23 0h0m3.5 0h0m3 0h0m22 0h0m-69 .5h0m.5 0h0m8 0h0m20.5 0h0m2.5 0h0m.5 0h0m6.5 0h0m6 0h0m2.5 0h0m8 0h0m-37 .5h0m4 0h0m13 0h0m3.5 0h0m2.5 0h0m31.5 0h0m4.5 0h0m3.5 0h0m-78 .5h0m20.5 0h0m10.5 0h0m1.5 0h0m5 0h0m20.5 0h0m5 0h0m19 0h0m-97.5 .5h0m17 0h0m31.5 0h0m7.5 0h0m10.5 0h0m5 0h0m1 0h0m-96.5 .5h0m14 0h0m4.5 0h0m56.5 0h0m-8.5 .5h0m3 0h0m6 0h0m2.5 0h0m15.5 0h0m24 0h0m-72.5 .5h0m21 0h0m4.5 0h0m3 0h0m18.5 0h0m9.5 0h0m-44.5 .5h0m8 0h0m1.5 0h0m1 0h0m1.5 0h0m16 0h0m17.5 0h0m15 0h0m-102 .5h0m5.5 0h0m12 0h0m2 0h0m33.5 0h0m.5 0h0m11.5 0h0m10 0h0m4 0h0m22.5 0h0m-123.5 .5h0m13.5 0h0m1.5 0h0m43.5 0h0m8.5 0h0m38 0h0m24 0h0m-111 .5h0m25 0h0m3 0h0m9.5 0h0m28 0h0m14.5 0h0m8.5 0h0m14 0h0m-116 .5h0m12 0h0m16 0h0m4.5 0h0m38 0h0m28 0h0m-81.5 .5h0m14 0h0m38.5 0h0m5.5 0h0m3.5 0h0m5 0h0m5.5 0h0m33.5 0h0m-110.5 .5h0m18.5 0h0m33.5 0h0m35.5 0h0m-69 .5h0m27.5 0h0m2 0h0m11 0h0m-5.5 .5h0m24 0h0m20 0h0m3.5 0h0m27.5 0h0m-123.5 .5h0m4.5 0h0m34.5 0h0m23 0h0m2 0h0m11 0h0m1 0h0m-66 .5h0m19 0h0m-42 .5h0m10 0h0m12.5 0h0m65 0h0m6 0h0m-44.5 .5h0m8.5 0h0m38 0h0m-46.5 .5h0m3.5 0h0m11.5 0h0m28.5 0h0m.5 0h0m21 0h0m-98 .5h0m5 0h0m2 0h0m3.5 0h0m7 0h0m26 0h0m2.5 0h0m21.5 0h0m-91 .5h0m50 0h0m18.5 0h0m13 0h0m40.5 0h0m-95.5 .5h0m13 0h0m48.5 0h0m-71 .5h0m2 0h0m3.5 0h0m48.5 0h0m-51 .5h0m8.5 0h0m2 0h0m4 0h0m-2.5 .5h0m1.5 0h0m4 0h0m.5 0h0m5.5 0h0m-5 .5h0m7.5 0h0m-22 .5h0m2.5 0h0m12 0h0m1 0h0m2.5 0h0m7 0h0m-42.5 .5h0m23 0h0m10.5 0h0m17.5 0h0m-37 .5h0m16.5 0h0m-25 .5h0m9 .5h0m22 0h0m-6.5 .5h0m7 0h0m-16 1h0m6 0h0m1 0h0m-38 .5h0m29 .5h0m74 0h0m-57.5 1h0m49.5 0h0m-28 1.5h0m14 0h0m-40.5 1h0m-4 1h0m9 0h0m-7.5 .5h0m5 3h0m1.5 0h0m30 0h0m-43 .5h0m10 .5h0m20 0h0m-24.5 .5h0m43 .5h0m-34.5 1h0m-11.5 1h0m10.5 0h0m29 .5h0m-16 .5h0m-20.5 1h0m8 0h0m-2 .5h0m59.5 0h0m-77.5 1.5h0m47.5 .5h0m3 0h0m3 0h0m-43 .5h0m4.5 1.5h0m3.5 0h0m-8.5 .5h0m11.5 0h0m-8 .5h0m1 0h0m7 0h0m40.5 0h0m20 0h0m-28 .5h0m-11 .5h0m16 .5h0m25.5 .5h0m-78.5 .5h0m73.5 0h0m-76 .5h0m14 0h0m43 .5h0m23 0h0m-70 .5h0m1.5 0h0m9 0h0m-6 .5h0m47.5 0h0m8.5 .5h0m-67 .5h0m3.5 0h0m11 0h0m2.5 .5h0m14.5 0h0m27 0h0m9 0h0m-59.5 .5h0m2 0h0m-2 .5h0m1.5 0h0m8.5 0h0m-11.5 1h0m3.5 0h0m10.5 .5h0m4 0h0m8.5 .5h0m27 0h0m-19.5 .5h0m2 0h0m19.5 0h0m-57 .5h0m45 .5h0m-40 .5h0m7.5 0h0m56 0h0m-27 .5h0m16 0h0m-65 .5h0m11.5 0h0m12.5 .5h0m16 0h0m-26.5 .5h0m.5 0h0m39 0h0m18.5 0h0m-60 .5h0m1 0h0m3 0h0m-6.5 .5h0m25.5 0h0m15.5 0h0m23 0h0m-17.5 .5h0m23 0h0m-48.5 .5h0m7.5 0h0m7 0h0m22.5 0h0m29 .5h0m-78 .5h0m.5 0h0m6 0h0m-19 .5h0m5.5 0h0m7 0h0m54 0h0m6 0h0m-34.5 .5h0m18 0h0m-48 .5h0m-3 .5h0m5.5 0h0m49.5 0h0m10.5 .5h0m-59 .5h0m-10 .5h0m5.5 0h0m25.5 0h0m-36.5 .5h0m13 0h0m-5.5 .5h0m4.5 0h0m10.5 0h0m21 0h0m32 0h0m-72.5 .5h0m10 .5h0m9 0h0m11 0h0m-34 .5h0m2.5 0h0m36 0h0m-18.5 .5h0m5.5 0h0m34.5 0h0m6.5 0h0m5 0h0m-70 .5h0m15.5 0h0m5 0h0m-29.5 .5h0m19.5 0h0m2.5 0h0m58.5 0h0m-60.5 .5h0m24.5 0h0m-46 .5h0m77.5 0h0m-58.5 .5h0m4.5 0h0m5.5 0h0m10 0h0m25 0h0m5 0h0m-47 .5h0m37 0h0m13 0h0m-71 .5h0m68.5 0h0m5.5 0h0m-68.5 .5h0m6 0h0m1.5 0h0m8.5 0h0m5 0h0m30.5 0h0m1 0h0m18.5 0h0m25.5 0h0m-53.5 .5h0m11.5 0h0m1 0h0m4 0h0m-39 .5h0m2 0h0m.5 0h0m6 0h0m29.5 0h0m19 0h0m-67 .5h0m12 0h0m-13.5 .5h0m8.5 0h0m9.5 0h0m3 0h0m32.5 0h0m-19.5 .5h0m-43.5 .5h0m3.5 0h0m51.5 0h0m26.5 0h0m-33.5 .5h0m1.5 0h0m-10.5 .5h0m36.5 0h0m-85.5 .5h0m19 0h0m36.5 0h0m15 0h0m12 0h0m-59.5 .5h0m10.5 0h0m24.5 0h0m15.5 0h0m9.5 0h0m-29 .5h0m1.5 0h0m21.5 0h0m2.5 0h0m-41 .5h0m9.5 0h0m35.5 0h0m7 0h0m-87.5 .5h0m4.5 0h0m14 0h0m11.5 0h0m13 0h0m8.5 0h0m10 0h0m-57.5 .5h0m4.5 0h0m8.5 0h0m7 0h0m16.5 0h0m17 0h0m-57 .5h0m8.5 0h0m9.5 0h0m4.5 0h0m33 0h0m7.5 0h0m.5 0h0m12 0h0m-57.5 .5h0m8.5 0h0m14 .5h0m20 0h0m-57.5 .5h0m3 0h0m9 0h0m4.5 0h0m8 0h0m43.5 0h0m7 0h0m-76 .5h0m1.5 0h0m2 0h0m8 0h0m4 0h0m3.5 0h0m3.5 0h0m10 0h0m16.5 0h0m5 0h0m13 0h0m-72.5 .5h0m2.5 0h0m24 0h0m38 0h0m-60 .5h0m8.5 0h0m85.5 0h0m-52.5 .5h0m12.5 0h0m5.5 0h0m-72.5 .5h0m3 0h0m11 0h0m13.5 0h0m33.5 0h0m11.5 0h0m14.5 0h0m-71 .5h0m27.5 0h0m-9.5 .5h0m-20 .5h0m14.5 0h0m15.5 0h0m59 0h0m-90 .5h0m17.5 0h0m19.5 0h0m5.5 0h0m.5 0h0m20 0h0m4 0h0m5.5 0h0m-73 .5h0m20.5 0h0m21 0h0m-23 .5h0m17.5 0h0m22 0h0m.5 0h0m15.5 0h0m-78.5 .5h0m30.5 0h0m43 0h0m.5 0h0m4 0h0m-53 .5h0m69.5 0h0m-34.5 .5h0m3 0h0m-46.5 .5h0m6.5 0h0m30 0h0m10 0h0m33.5 0h0m-97 .5h0m24 0h0m-30.5 .5h0m66.5 0h0m-65 .5h0m2 0h0m19.5 0h0m13.5 0h0m16 0h0m-55.5 .5h0m32 0h0m36.5 0h0m-69 .5h0m47.5 0h0m-46.5 .5h0m3.5 0h0m2.5 0h0m90.5 0h0m-98 .5h0m4.5 0h0m47.5 0h0m6.5 0h0m21.5 0h0m-92 .5h0m45.5 0h0m-2 .5h0m5 0h0m1 0h0m19.5 0h0m11 0h0m-64 .5h0m3 0h0m37 0h0m7.5 0h0m-21.5 .5h0m20 0h0m-47.5 .5h0m3.5 0h0m23.5 0h0m17.5 0h0m23.5 0h0m-23 .5h0m-17 .5h0m1 0h0m4 0h0m4 0h0m-14 .5h0m47 0h0m-35.5 .5h0m13.5 0h0m23 0h0m-29 .5h0m-57.5 .5h0m13.5 0h0m27 0h0m1.5 0h0m-5 .5h0m10.5 0h0m-32 .5h0m55.5 0h0m8 0h0m-70.5 .5h0m4 0h0m.5 0h0m.5 0h0m2.5 0h0m2 0h0m34.5 0h0m-38.5 .5h0m85.5 0h0m-96.5 .5h0m12 0h0m18 0h0m4.5 0h0m3.5 0h0m-38.5 .5h0m36.5 0h0m10.5 0h0m-48 .5h0m16 0h0m16 0h0m-22.5 .5h0m20.5 0h0m-36.5 .5h0m19.5 0h0m16 0h0m2 0h0m4.5 0h0m-9 .5h0m1 0h0m4 0h0m2 0h0m44.5 0h0m-36 .5h0m32.5 0h0m-59.5 .5h0m.5 0h0m12 .5h0m12.5 0h0m-4.5 .5h0m31 0h0m-72 .5h0m18.5 0h0m.5 0h0m8 .5h0m1.5 0h0m20.5 0h0m13.5 0h0m-62 .5h0m31 0h0m8.5 0h0m-25 .5h0m2.5 0h0m4.5 0h0m4 0h0m3.5 0h0m-6 .5h0m1.5 0h0m2 0h0m-16 .5h0m7.5 0h0m20 0h0m6.5 .5h0m-39.5 .5h0m9.5 0h0m4 0h0m1 0h0m28 0h0m-43 .5h0m2.5 0h0m9.5 0h0m13.5 0h0m-2.5 1h0m1.5 0h0m4 0h0m.5 0h0m-6.5 .5h0m-12.5 .5h0m40.5 0h0m-43.5 1h0m0 .5h0m.5 0h0m9 .5h0m6 0h0m54.5 1h0m-6 .5h0m-62 .5h0m5 0h0m45.5 .5h0m-47.5 .5h0m83 .5h0m-106.5 .5h0m24 0h0m-2.5 1h0m22 0h0m-22.5 2.5h0m7 1.5h0m-21.5 .5h0m13.5 1h0m-2.5 1h0m10 0h0m-10.5 .5h0m-6 6h0" stroke="#3450c8" stroke-width="1.4" stroke-linecap="round" fill="none"/>
<path d="m105 48.5h0m18.5 0h0m40.5 0h0m-56.5 .5h0m-3 2h0m50.5 0h0m-36.5 .5h0m75.5 .5h0m-65.5 .5h0m29.5 0h0m12.5 0h0m-64.5 .5h0m42.5 0h0m-21.5 .5h0m20 0h0m11 0h0m2 0h0m-39 .5h0m51.5 0h0m-44.5 .5h0m8 0h0m43.5 0h0m-68.5 .5h0m-27 .5h0m31 .5h0m11.5 0h0m5.5 .5h0m31.5 0h0m-63 .5h0m18.5 0h0m10 0h0m35.5 0h0m-86.5 .5h0m25.5 0h0m51 0h0m31 0h0m-82 .5h0m6 0h0m27 0h0m-35 .5h0m11.5 0h0m10.5 0h0m1.5 0h0m10 0h0m1.5 0h0m8 0h0m5 0h0m3 0h0m-62 .5h0m19.5 0h0m.5 0h0m34.5 0h0m33 0h0m-106 .5h0m9 0h0m14.5 0h0m11 0h0m22 0h0m41 0h0m5.5 0h0m-106.5 .5h0m52 0h0m8.5 0h0m14.5 0h0m1.5 0h0m4.5 0h0m-95 .5h0m42.5 0h0m5 0h0m12 0h0m22.5 0h0m12 0h0m4.5 0h0m18 0h0m-99 .5h0m6 0h0m21 0h0m7.5 0h0m6 0h0m8 0h0m28.5 0h0m11 0h0m18 0h0m7 0h0m-125 .5h0m17 0h0m36 0h0m.5 0h0m10.5 0h0m11 0h0m28.5 0h0m-105 .5h0m8 0h0m2.5 0h0m35.5 0h0m3.5 0h0m.5 0h0m1 0h0m1 0h0m6.5 0h0m6.5 0h0m5 0h0m3.5 0h0m19 0h0m9.5 0h0m7 0h0m4 0h0m-66 .5h0m8 0h0m4.5 0h0m4.5 0h0m6 0h0m7 0h0m6 0h0m9 0h0m-78 .5h0m8.5 0h0m13.5 0h0m19 0h0m13 0h0m3.5 0h0m9 0h0m20 0h0m-92.5 .5h0m27.5 0h0m6 0h0m7.5 0h0m20 0h0m-80 .5h0m23.5 0h0m10 0h0m2 0h0m80 0h0m-131.5 .5h0m48 0h0m5.5 0h0m5 0h0m36 0h0m6 0h0m7 0h0m1.5 0h0m49 0h0m-122.5 .5h0m20.5 0h0m5 0h0m10.5 0h0m15.5 0h0m.5 0h0m5.5 0h0m11.5 0h0m3.5 0h0m3.5 0h0m7 0h0m24.5 0h0m-114 .5h0m17.5 0h0m65 0h0m9 0h0m-95.5 .5h0m23.5 0h0m1 0h0m5 0h0m10 0h0m.5 0h0m3.5 0h0m5 0h0m32.5 0h0m3.5 0h0m7.5 0h0m2.5 0h0m-84.5 .5h0m2 0h0m2 0h0m48 0h0m3.5 0h0m12 0h0m12.5 0h0m4.5 0h0m9 0h0m-111 .5h0m40.5 0h0m12.5 0h0m2.5 0h0m4.5 0h0m9 0h0m44 0h0m-98 .5h0m3.5 0h0m14 0h0m21 0h0m23 0h0m13.5 0h0m9.5 0h0m-75.5 .5h0m17 0h0m15.5 0h0m-33 .5h0m19 0h0m1 0h0m5.5 0h0m19.5 0h0m10 0h0m2.5 0h0m1 0h0m13.5 0h0m-66 .5h0m6 0h0m1.5 0h0m9 0h0m-36 .5h0m24.5 0h0m2.5 0h0m-16 .5h0m20 0h0m8 0h0m1.5 0h0m3.5 0h0m29 0h0m-73.5 .5h0m22.5 0h0m1.5 0h0m6.5 0h0m-23 .5h0m4.5 0h0m22.5 0h0m20 0h0m38.5 0h0m-94 .5h0m45.5 0h0m25.5 0h0m-59 .5h0m14 0h0m3 .5h0m3.5 0h0m2.5 0h0m4.5 0h0m27.5 0h0m-67.5 .5h0m11.5 0h0m8 0h0m5 0h0m11.5 0h0m23 0h0m-40.5 .5h0m27 0h0m-14.5 .5h0m31 0h0m-62.5 .5h0m21 0h0m7 0h0m-24 .5h0m15 0h0m.5 0h0m1 0h0m2.5 0h0m8 0h0m0 .5h0m-4.5 1.5h0m10.5 0h0m63 0h0m-62 .5h0m6 0h0m-9 .5h0m8 0h0m-.5 .5h0m-19 1.5h0m8.5 .5h0m6 0h0m76 0h0m-82 .5h0m10.5 0h0m8.5 .5h0m-38 1.5h0m64 .5h0m-42 .5h0m8 0h0m3.5 0h0m4 0h0m3 .5h0m9 0h0m20.5 0h0m-41.5 1h0m12.5 1h0m-21.5 .5h0m58.5 1h0m-46.5 .5h0m-15 .5h0m-11.5 .5h0m14.5 0h0m10.5 0h0m-15 .5h0m10 0h0m-3.5 1h0m-1.5 .5h0m10.5 0h0m29.5 0h0m-22 .5h0m-21 .5h0m4.5 0h0m32.5 .5h0m-22.5 .5h0m-12.5 .5h0m71 0h0m-73.5 .5h0m39 0h0m-39 1h0m6 0h0m-8 .5h0m6 0h0m3 0h0m-12 1.5h0m3 0h0m11.5 .5h0m7.5 0h0m-19 .5h0m8 0h0m6.5 0h0m54.5 0h0m-58.5 1.5h0m-1 .5h0m-15.5 .5h0m77.5 0h0m-54.5 .5h0m65 0h0m-62.5 .5h0m4.5 .5h0m-25 .5h0m9 0h0m1.5 .5h0m29.5 0h0m28.5 0h0m-37 .5h0m-10 .5h0m69.5 0h0m-66.5 1h0m51.5 0h0m-54.5 .5h0m36.5 0h0m-53.5 .5h0m13 0h0m36.5 0h0m-41.5 .5h0m25.5 0h0m11 0h0m-34 .5h0m32 0h0m-13.5 .5h0m18.5 0h0m2.5 0h0m-41 .5h0m67.5 0h0m-72.5 .5h0m.5 0h0m4 0h0m48 0h0m21 0h0m-79 .5h0m7 0h0m48 0h0m7 0h0m-31.5 .5h0m24 0h0m9 0h0m-44.5 .5h0m3 0h0m12.5 0h0m14.5 0h0m29.5 0h0m-24 .5h0m-57.5 .5h0m.5 0h0m29 0h0m14 0h0m10.5 0h0m-32 .5h0m30 0h0m-54.5 .5h0m11 0h0m47 0h0m-51.5 .5h0m4 0h0m2 0h0m6 0h0m50.5 0h0m-58 .5h0m10 0h0m32 0h0m26.5 0h0m-79 .5h0m12.5 0h0m45.5 0h0m9.5 0h0m-46 .5h0m73 0h0m-88 .5h0m4.5 0h0m30 .5h0m-31.5 .5h0m-11 .5h0m6 0h0m8.5 0h0m1 0h0m50 0h0m27 0h0m-75.5 .5h0m2 0h0m29.5 0h0m12 0h0m3.5 0h0m-32.5 .5h0m23 0h0m13 0h0m13.5 0h0m-10.5 .5h0m-65 .5h0m1.5 0h0m58.5 0h0m-48 .5h0m27.5 0h0m27.5 0h0m-4.5 .5h0m3 0h0m-52 .5h0m11 0h0m10 0h0m18.5 0h0m11 0h0m5 0h0m-60.5 .5h0m2.5 0h0m27 0h0m2 0h0m2.5 0h0m18 0h0m-68.5 .5h0m18.5 0h0m16 0h0m28 0h0m27.5 0h0m-79.5 .5h0m36 0h0m4 0h0m3.5 0h0m-30.5 .5h0m20 0h0m13.5 0h0m15 0h0m-62.5 .5h0m43.5 0h0m-58.5 .5h0m16 0h0m3 0h0m4 0h0m43.5 0h0m1.5 0h0m.5 0h0m6.5 0h0m-55.5 .5h0m35 0h0m10 0h0m12.5 0h0m-75 .5h0m4 0h0m1.5 0h0m9 0h0m2 0h0m7 0h0m47.5 0h0m6 .5h0m-75.5 .5h0m55.5 0h0m7 0h0m.5 0h0m-74 .5h0m9.5 0h0m10.5 0h0m11 0h0m24.5 0h0m11.5 0h0m5 0h0m-58.5 .5h0m2.5 0h0m35 0h0m21.5 0h0m-43.5 .5h0m3.5 0h0m12 0h0m9 0h0m25 0h0m-30 .5h0m13 0h0m21.5 0h0m-54.5 .5h0m35 0h0m26.5 0h0m-88 .5h0m46 0h0m5 0h0m9.5 0h0m31 0h0m-87 .5h0m30.5 0h0m6 0h0m5.5 0h0m16 0h0m4.5 0h0m2.5 0h0m16 0h0m16 0h0m-107 .5h0m2 0h0m26 0h0m0 .5h0m17 0h0m18 0h0m-57.5 .5h0m3.5 0h0m25 0h0m24 0h0m5.5 0h0m7 0h0m3.5 0h0m-44.5 .5h0m25 0h0m6.5 0h0m-47 .5h0m4 0h0m5.5 0h0m16 0h0m29 0h0m22 0h0m-83.5 .5h0m47.5 0h0m21.5 0h0m18 0h0m-83.5 .5h0m15 0h0m4 0h0m20.5 0h0m12.5 0h0m-63 .5h0m18 0h0m6.5 0h0m36.5 0h0m-53 .5h0m2.5 0h0m.5 0h0m37 0h0m32.5 0h0m-55.5 .5h0m5 0h0m31.5 0h0m2 0h0m10.5 0h0m-50.5 .5h0m26.5 0h0m6 0h0m-25 .5h0m-40.5 .5h0m18.5 0h0m2 0h0m15 0h0m.5 0h0m5.5 0h0m17 0h0m4.5 0h0m16 0h0m8 0h0m-55.5 .5h0m56 0h0m-74.5 .5h0m1 0h0m2 0h0m2.5 0h0m21 0h0m6.5 0h0m44.5 0h0m-85.5 .5h0m7 0h0m20 0h0m12.5 .5h0m21 0h0m10.5 0h0m16 0h0m-81 .5h0m5 0h0m36.5 0h0m-42.5 .5h0m2 0h0m5.5 0h0m35.5 0h0m55 0h0m-101.5 .5h0m30.5 0h0m6 0h0m1 0h0m6 0h0m.5 0h0m-43 .5h0m29.5 0h0m5.5 0h0m4 0h0m2.5 0h0m24.5 0h0m-70 .5h0m8 .5h0m1 0h0m24 0h0m8 0h0m-62.5 .5h0m32.5 0h0m32.5 0h0m40.5 0h0m-87 .5h0m.5 0h0m5 0h0m27.5 0h0m27.5 0h0m-68 .5h0m18.5 0h0m20.5 0h0m-19 .5h0m16.5 0h0m2 0h0m9 0h0m37.5 0h0m-47.5 .5h0m7.5 0h0m-1 .5h0m.5 0h0m9.5 0h0m34 0h0m-82 1h0m12.5 0h0m18.5 0h0m11 0h0m18 0h0m-60.5 .5h0m31.5 0h0m2 0h0m15 0h0m21.5 0h0m-60.5 .5h0m18.5 0h0m5.5 0h0m13.5 0h0m23 0h0m2.5 0h0m-72 .5h0m10.5 0h0m19.5 0h0m18.5 0h0m-38.5 .5h0m16.5 0h0m1 0h0m3.5 0h0m-20.5 .5h0m19 0h0m5 0h0m5.5 0h0m18.5 0h0m-28.5 .5h0m4.5 0h0m-26.5 .5h0m17.5 0h0m14 0h0m-40.5 .5h0m27 0h0m12.5 0h0m12.5 0h0m1.5 0h0m24.5 0h0m-51 .5h0m19.5 0h0m4.5 0h0m-50 .5h0m6 0h0m29 0h0m4 0h0m38 0h0m-74 .5h0m20.5 0h0m41 0h0m28.5 0h0m-88 .5h0m1.5 0h0m18.5 0h0m8.5 0h0m28.5 0h0m0 .5h0m-39.5 .5h0m5.5 0h0m2.5 0h0m50.5 0h0m-59 .5h0m35 0h0m-61.5 .5h0m9 0h0m2.5 0h0m21.5 0h0m33.5 0h0m-60 .5h0m23.5 0h0m19.5 0h0m1 0h0m39.5 0h0m-95.5 .5h0m37 0h0m15.5 0h0m-38 .5h0m18.5 0h0m10 0h0m7.5 0h0m29.5 0h0m-11.5 .5h0m-35.5 .5h0m-19.5 .5h0m16 0h0m-19 .5h0m7.5 0h0m7.5 0h0m-29 .5h0m23 0h0m5.5 0h0m9.5 0h0m42.5 0h0m-79 1h0m10.5 0h0m9.5 0h0m-8 .5h0m4.5 0h0m11 0h0m1.5 0h0m7 0h0m76 0h0m-90.5 .5h0m5 0h0m1 0h0m14.5 0h0m76.5 0h0m-110 .5h0m40.5 0h0m-24 .5h0m5 0h0m2.5 0h0m-15 .5h0m11.5 0h0m-3 .5h0m5.5 0h0m5.5 0h0m6 .5h0m-21 .5h0m5 0h0m-29 .5h0m16 0h0m3.5 0h0m1.5 0h0m3.5 0h0m20 .5h0m-21 .5h0m17 0h0m15.5 0h0m-42.5 .5h0m2 0h0m5.5 0h0m1.5 .5h0m5 0h0m8.5 0h0m-12.5 .5h0m-19.5 .5h0m14.5 0h0m3 0h0m1 0h0m2 0h0m16 0h0m-14.5 1h0m-18.5 .5h0m31 0h0m-19.5 1.5h0m-7.5 1.5h0m16.5 0h0m14 1h0m-18 1.5h0m7 0h0m-2.5 1h0m-17 1h0m19.5 3.5h0m-10.5 3h0m-5.5 1h0" stroke="#1a2a9e" stroke-width="1.45" stroke-linecap="round" fill="none"/>
<path d="m150.5 54h0m17.5 .5h0m-60 .5h0m24 0h0m40 .5h0m-23.5 .5h0m-10.5 .5h0m33.5 0h0m6.5 0h0m-26 .5h0m-28 .5h0m5 0h0m24.5 0h0m-66 .5h0m37.5 0h0m-12.5 .5h0m22.5 0h0m2 0h0m8 0h0m3.5 0h0m7 0h0m6.5 0h0m-11 .5h0m6 0h0m-31 .5h0m15 0h0m2.5 0h0m-29.5 .5h0m2 0h0m20 0h0m3.5 0h0m16.5 0h0m-55 .5h0m23 0h0m12.5 0h0m8 0h0m-39.5 .5h0m18 0h0m6.5 0h0m4 0h0m7.5 0h0m12.5 0h0m36.5 0h0m-85 .5h0m7 0h0m9.5 0h0m13.5 0h0m-39.5 .5h0m13 0h0m4 0h0m3 0h0m4 0h0m1.5 0h0m3.5 0h0m.5 0h0m12.5 0h0m5 0h0m23.5 0h0m-74 .5h0m10.5 0h0m1 0h0m32 0h0m12 0h0m-39 .5h0m7 0h0m16 0h0m1.5 0h0m9 0h0m2.5 0h0m-39.5 .5h0m15.5 0h0m3 0h0m7.5 0h0m1 0h0m13 0h0m5.5 0h0m-31 .5h0m25 0h0m1.5 0h0m21.5 0h0m-86 .5h0m6.5 0h0m3.5 0h0m6 0h0m1 0h0m4.5 0h0m2 0h0m13.5 0h0m-25 .5h0m21.5 0h0m7.5 0h0m-9 .5h0m4.5 0h0m6 0h0m4.5 0h0m20.5 0h0m-46 .5h0m42.5 0h0m-8.5 .5h0m-11 .5h0m.5 0h0m14.5 0h0m-31.5 .5h0m5 0h0m35 0h0m-61.5 .5h0m27 .5h0m-22.5 1h0m16.5 0h0m-33 54h0m-3 9.5h0m5 0h0m8 .5h0m13.5 0h0m-42 1.5h0m4.5 0h0m19.5 0h0m.5 0h0m.5 .5h0m4.5 0h0m-17.5 .5h0m17 0h0m.5 1h0m-19.5 .5h0m-8.5 .5h0m9 0h0m17.5 0h0m-22 1h0m19.5 0h0m8.5 0h0m-35 .5h0m10 0h0m18.5 0h0m9.5 2h0m-34 1.5h0m2.5 0h0m28.5 0h0m-35.5 1.5h0m2 0h0m3 0h0m16 1h0m2.5 .5h0m-2 1.5h0m5.5 .5h0m-3.5 .5h0m-5.5 .5h0m-21 .5h0m20 0h0m5 0h0m-23.5 .5h0m22 1h0m12.5 0h0m-16.5 .5h0m1.5 0h0m-4.5 1h0m-13.5 .5h0m22 1h0m-4 .5h0m3.5 0h0m-2 1h0m-8.5 1h0m-20.5 .5h0m17 0h0m-7 1h0m1 1h0m5.5 1.5h0m0 1.5h0m-4.5 3h0m-1.5 4.5h0m-4.5 2h0" stroke="#3aa6dc" stroke-width="1.4" stroke-linecap="round" fill="none"/>
<g transform="translate(69.9 144.5) rotate(-45)" filter="url(#fb)">
<ellipse rx="19" ry="7" fill="#2236b4" opacity="0.8"/>
<ellipse rx="15.96" ry="5.88" fill="#2a6fd6" opacity="1"/>
<ellipse rx="13.68" ry="5.04" fill="#2fb3d8" opacity="1"/>
<ellipse rx="11.4" ry="4.2" fill="#3fb45a" opacity="1"/>
<ellipse rx="7.98" ry="2.94" fill="#9fce3a" opacity="1"/>
<ellipse rx="5.7" ry="2.1" fill="#f0c020" opacity="1"/>
<ellipse rx="3.8" ry="1.4" fill="#f07a1c" opacity="1"/>
<ellipse rx="2.28" ry="0.84" fill="#e5301c" opacity="1"/>
</g>
</g>
<line x1="97.2" y1="0" x2="97.2" y2="218.6" stroke="#000" stroke-width="1.7"/>
<line x1="0" y1="111.9" x2="217.7" y2="111.9" stroke="#000" stroke-width="1.7"/>
<rect x="0" y="0" width="217.7" height="218.6" fill="none" stroke="#2a2a2a" stroke-width="1.2"/>
<g font-size="9.0" fill="#222">
<text x="3.4" y="18">Q1</text><text x="3.4" y="31.8">5.46</text>
<text x="199.2" y="18" text-anchor="end">Q2</text><text x="199.2" y="31.8" text-anchor="end">12.7</text>
<text x="3.4" y="193.4">Q4</text><text x="3.4" y="207.4">76.6</text>
<text x="199.2" y="193.4" text-anchor="end">Q3</text><text x="199.2" y="207.4" text-anchor="end">5.31</text>
</g>
</g>
<g transform="translate(830.3 605.3)">
<rect x="0" y="0" width="218.9" height="219.5" fill="#fff"/>
<g clip-path="url(#fc)">
<path d="m184.5 40h0m-55.5 2h0m31 1h0m-75.5 .5h0m105.5 0h0m-79.5 .5h0m47.5 .5h0m-11.5 .5h0m-26 2.5h0m21.5 .5h0m14.5 0h0m-4 .5h0m3.5 0h0m-.5 .5h0m17 .5h0m-69.5 .5h0m30 0h0m6 0h0m2.5 0h0m17 0h0m2.5 0h0m-85 .5h0m44.5 0h0m53.5 0h0m-66.5 .5h0m7 0h0m37 0h0m-32 .5h0m29.5 0h0m-10.5 .5h0m4.5 0h0m1 0h0m11 0h0m-41 .5h0m116.5 0h0m-93.5 .5h0m12.5 0h0m16 0h0m-56 .5h0m62.5 0h0m-59 .5h0m26.5 0h0m6 0h0m-16 .5h0m3 0h0m13.5 0h0m30.5 0h0m-91.5 .5h0m6 0h0m64 0h0m-47 .5h0m9.5 0h0m19.5 0h0m5 0h0m18 0h0m19 0h0m-118 .5h0m43.5 0h0m11.5 0h0m27 0h0m-53 .5h0m16.5 0h0m19.5 0h0m3.5 0h0m33.5 0h0m-61 .5h0m19.5 0h0m26 0h0m26.5 0h0m-91 .5h0m1 0h0m51 0h0m22 0h0m-78 .5h0m8.5 0h0m43.5 0h0m31.5 0h0m-42 .5h0m11 0h0m13 0h0m40 0h0m-67 .5h0m.5 0h0m27 0h0m.5 0h0m9 0h0m-61.5 .5h0m8 0h0m16 0h0m18.5 0h0m17 0h0m-107 .5h0m66 0h0m15 0h0m6 0h0m22 0h0m6.5 0h0m13 0h0m-109.5 .5h0m18 0h0m16.5 0h0m58 0h0m-32 .5h0m21 0h0m-37.5 .5h0m17 0h0m1 0h0m6.5 0h0m17 0h0m10 0h0m-50 .5h0m22.5 0h0m42 0h0m-89.5 .5h0m14.5 0h0m11 0h0m-4.5 .5h0m21 0h0m79.5 0h0m-104 .5h0m42 0h0m-80 .5h0m1 0h0m1 0h0m9.5 0h0m17.5 0h0m15 0h0m65.5 0h0m-82 .5h0m3.5 .5h0m-17.5 .5h0m42 0h0m1.5 0h0m8 .5h0m-42 .5h0m11.5 0h0m-22 .5h0m8.5 0h0m64.5 .5h0m-59.5 .5h0m33 0h0m16 0h0m-43.5 .5h0m28 .5h0m-11 .5h0m50 .5h0m-83 .5h0m40 0h0m-19.5 .5h0m-29 .5h0m9 0h0m10 0h0m66 0h0m-14.5 .5h0m-32 .5h0m18.5 .5h0m-44 .5h0m20 .5h0m-12 .5h0m53 0h0m-33 .5h0m22.5 0h0m-20.5 1h0m12.5 0h0m17 0h0m-32.5 .5h0m39.5 0h0m-57 1h0m-1 .5h0m48.5 1h0m28 .5h0m-61.5 .5h0m22 0h0m-15 .5h0m4 0h0m26 0h0m-68 1h0m9.5 0h0m16.5 0h0m1.5 .5h0m11.5 .5h0m12 0h0m39 0h0m4.5 0h0m-61.5 .5h0m19.5 0h0m14 0h0m-49 1h0m25 0h0m24 0h0m-63 .5h0m11 0h0m46 0h0m27 .5h0m-16 .5h0m-35 1h0m1 0h0m3 .5h0m-25.5 .5h0m56.5 0h0m22.5 0h0m-64.5 .5h0m7.5 0h0m-26.5 .5h0m2 0h0m5 0h0m11 0h0m41.5 0h0m-42 .5h0m6.5 0h0m22.5 0h0m.5 0h0m-37.5 .5h0m38 1h0m19.5 .5h0m4 0h0m-54.5 .5h0m35 0h0m-46 .5h0m16.5 1h0m24 0h0m-32.5 .5h0m3.5 0h0m23 0h0m-49 .5h0m4.5 0h0m71.5 0h0m-38.5 .5h0m1 0h0m-23 .5h0m14.5 0h0m39.5 1h0m-46 1h0m30 0h0m-5.5 .5h0m-54.5 .5h0m25 0h0m40.5 .5h0m-45.5 .5h0m9.5 0h0m14.5 0h0m5.5 0h0m6.5 .5h0m16 .5h0m24.5 0h0m-89.5 .5h0m9.5 0h0m36.5 0h0m33.5 0h0m31.5 0h0m-92.5 1h0m-12.5 .5h0m-22 .5h0m61.5 0h0m-9 .5h0m4.5 0h0m.5 0h0m12 0h0m2.5 0h0m4.5 0h0m8.5 0h0m-61.5 .5h0m29 0h0m52.5 0h0m-42.5 .5h0m21.5 0h0m-43.5 .5h0m46.5 0h0m.5 0h0m-16 .5h0m3 0h0m30.5 0h0m-71 1h0m6.5 0h0m30 0h0m3 0h0m8 0h0m-36.5 .5h0m12 0h0m24.5 0h0m3.5 0h0m18.5 0h0m-86.5 .5h0m20.5 0h0m19 0h0m15.5 0h0m17 0h0m-34.5 .5h0m31 0h0m-60 .5h0m5 0h0m.5 0h0m29.5 0h0m2 0h0m2.5 0h0m-39.5 .5h0m57 0h0m-58.5 .5h0m3.5 0h0m6.5 0h0m8 0h0m2.5 0h0m28 0h0m31 0h0m-76.5 .5h0m22.5 0h0m41.5 0h0m12 0h0m4.5 0h0m-69.5 .5h0m12.5 0h0m21.5 0h0m3 0h0m13.5 0h0m-47.5 .5h0m20.5 0h0m-44.5 .5h0m25 0h0m15 .5h0m32 0h0m-4.5 .5h0m-28.5 .5h0m4.5 0h0m1.5 0h0m20.5 0h0m22.5 0h0m-56.5 .5h0m43 0h0m-15 .5h0m-34.5 .5h0m1.5 0h0m22.5 0h0m.5 0h0m14.5 0h0m-10.5 .5h0m8.5 0h0m22 0h0m7 0h0m-76 .5h0m-20.5 .5h0m4 0h0m23.5 0h0m10.5 0h0m28.5 0h0m-76 .5h0m26 0h0m2 0h0m25.5 0h0m1.5 0h0m4 0h0m4.5 0h0m21.5 0h0m-26 .5h0m7 0h0m13.5 0h0m-66.5 .5h0m72 0h0m-61.5 .5h0m28.5 0h0m-35 .5h0m25 0h0m36 0h0m-41 .5h0m9 0h0m7.5 0h0m21 0h0m4.5 0h0m5 0h0m-44.5 .5h0m37.5 0h0m-37.5 .5h0m29 0h0m36 0h0m-49 .5h0m11 0h0m-22 .5h0m1.5 0h0m5 .5h0m13 0h0m10.5 0h0m5.5 0h0m-41.5 .5h0m.5 0h0m2.5 0h0m9.5 0h0m22 0h0m11 0h0m2 0h0m-74 .5h0m3.5 0h0m30 0h0m33.5 0h0m-67.5 .5h0m23.5 0h0m6 0h0m8 0h0m14 0h0m9.5 0h0m-55.5 .5h0m23 0h0m14 0h0m2.5 0h0m13 .5h0m5 0h0m-73.5 .5h0m36.5 0h0m11.5 0h0m22 0h0m24.5 0h0m-57 .5h0m12.5 0h0m26 0h0m-68 .5h0m24.5 0h0m28 0h0m3 0h0m5.5 0h0m19 0h0m-80.5 .5h0m28.5 0h0m1.5 0h0m29 0h0m-7.5 .5h0m6.5 0h0m1.5 0h0m21 0h0m-78.5 .5h0m44.5 0h0m30.5 0h0m-95.5 1h0m9 0h0m37.5 0h0m43 0h0m11 0h0m-84 .5h0m50.5 0h0m2 0h0m1.5 0h0m-53 .5h0m48.5 0h0m15 0h0m2 0h0m1.5 0h0m-34.5 .5h0m22 0h0m-53 .5h0m26.5 0h0m2.5 0h0m13 0h0m24 0h0m29 0h0m-100 .5h0m25 0h0m3 0h0m23.5 0h0m3 0h0m19 0h0m17.5 0h0m8.5 0h0m-74 .5h0m7.5 0h0m25 0h0m36 0h0m-69 .5h0m51.5 0h0m-51.5 .5h0m5 0h0m20.5 0h0m18 0h0m-88.5 .5h0m12.5 0h0m35.5 0h0m5.5 0h0m2 0h0m5.5 0h0m10 0h0m37 0h0m-98.5 .5h0m8.5 0h0m2.5 0h0m.5 0h0m53.5 0h0m1.5 0h0m-71 .5h0m58 0h0m4 0h0m-55 .5h0m30 0h0m65.5 0h0m-33.5 .5h0m11.5 0h0m-45 .5h0m12.5 0h0m6.5 0h0m5.5 0h0m5 0h0m-53 .5h0m62 0h0m7 0h0m-70.5 .5h0m41.5 0h0m13 0h0m-29 .5h0m10 0h0m8 0h0m1.5 0h0m6.5 0h0m27.5 0h0m-53 .5h0m32.5 0h0m5 0h0m-35 .5h0m5 0h0m-70 .5h0m37.5 0h0m31 0h0m28 0h0m-63 .5h0m28 0h0m21 0h0m4.5 0h0m-51 .5h0m42 0h0m11.5 0h0m3.5 0h0m7.5 0h0m-45 .5h0m13 .5h0m17 0h0m-10.5 .5h0m25.5 0h0m-26.5 .5h0m17 0h0m-41 .5h0m14.5 0h0m9.5 0h0m14.5 0h0m8 0h0m15.5 0h0m-61.5 .5h0m-22 .5h0m20.5 0h0m3 0h0m5.5 0h0m7 .5h0m18.5 0h0m11.5 0h0m-38.5 .5h0m11.5 0h0m22.5 0h0m-42.5 .5h0m56 0h0m-74.5 .5h0m20 0h0m-22.5 .5h0m9 0h0m2 0h0m5.5 0h0m19 0h0m18.5 0h0m-37 .5h0m4 0h0m4 0h0m18.5 0h0m-52.5 .5h0m17.5 0h0m7.5 0h0m7 0h0m11.5 0h0m3 0h0m-28 .5h0m10 0h0m14.5 0h0m-12 .5h0m29.5 0h0m-62 .5h0m7 0h0m20.5 0h0m2.5 0h0m17 0h0m52 0h0m-83.5 .5h0m9 0h0m3 0h0m52 0h0m15.5 0h0m-90.5 .5h0m42.5 0h0m11 0h0m3.5 0h0m22 0h0m-79 .5h0m4.5 0h0m.5 0h0m2.5 0h0m4 0h0m14.5 0h0m5 0h0m-20 .5h0m1 0h0m2 0h0m15 0h0m5 .5h0m16.5 0h0m9 0h0m-61.5 .5h0m85.5 0h0m-63.5 .5h0m1.5 0h0m6.5 0h0m14 0h0m-31.5 .5h0m1 0h0m3 0h0m.5 0h0m-15.5 1h0m36.5 0h0m39.5 0h0m-74 .5h0m45 0h0m-31 .5h0m34 0h0m-26.5 .5h0m6 0h0m.5 0h0m31.5 0h0m-64.5 .5h0m24 0h0m11.5 0h0m5.5 0h0m-10.5 .5h0m6 0h0m15.5 0h0m-17.5 .5h0m2 0h0m5.5 0h0m15.5 0h0m6.5 0h0m-70.5 .5h0m23.5 0h0m-4 .5h0m7 0h0m64.5 0h0m-21.5 .5h0m-55.5 .5h0m6.5 0h0m2 .5h0m12 .5h0m1 0h0m21.5 .5h0m26.5 0h0m-86 .5h0m26 0h0m6 .5h0m7 0h0m20 0h0m1.5 .5h0m-35 .5h0m42 0h0m-26.5 .5h0m-19 .5h0m.5 0h0m3 0h0m6.5 0h0m-9.5 .5h0m47.5 1h0m-75 .5h0m42.5 1.5h0m-17.5 .5h0m.5 0h0m-12 1h0m4.5 1h0m2.5 0h0m14.5 4h0m16 0h0m-39.5 1.5h0m-8 1h0m6.5 1h0m1.5 .5h0m1 0h0m-17.5 6h0" stroke="#6f8fe6" stroke-width="1.35" stroke-linecap="round" fill="none"/>
<path d="m94.5 36.5h0m24 1h0m26 2.5h0m-13.5 .5h0m1.5 .5h0m-44 .5h0m21.5 .5h0m25.5 .5h0m2 .5h0m18 0h0m30.5 0h0m-50 .5h0m10.5 .5h0m-43.5 .5h0m36.5 0h0m52.5 0h0m-107.5 .5h0m51.5 0h0m7 0h0m-38.5 1h0m22.5 0h0m23.5 0h0m1.5 0h0m22 0h0m-46 .5h0m7.5 0h0m-67.5 1h0m89.5 0h0m5.5 0h0m9.5 0h0m-58 .5h0m26.5 0h0m3 0h0m-43.5 .5h0m6 .5h0m29.5 0h0m67 0h0m-77 .5h0m13 0h0m19 0h0m10 0h0m-61 .5h0m56.5 0h0m19.5 0h0m-55.5 .5h0m1 0h0m13.5 0h0m-52.5 .5h0m45.5 0h0m22 0h0m-35 .5h0m13 0h0m13 0h0m6.5 0h0m-41 .5h0m15 0h0m13 0h0m3 0h0m6.5 0h0m29 0h0m1 0h0m-89.5 .5h0m7 0h0m34.5 0h0m2 0h0m8 0h0m7.5 0h0m2.5 0h0m-52.5 .5h0m11.5 0h0m3.5 0h0m1 0h0m19 0h0m13.5 0h0m18 0h0m-55.5 .5h0m13.5 0h0m8.5 0h0m2.5 0h0m17.5 0h0m56.5 0h0m-108.5 .5h0m9 0h0m12.5 0h0m7.5 0h0m9.5 0h0m6.5 0h0m2.5 0h0m-62.5 .5h0m24 0h0m1.5 0h0m21 0h0m9 0h0m10.5 0h0m5.5 0h0m15.5 0h0m-28 .5h0m1 0h0m6 0h0m4.5 0h0m-82.5 .5h0m40.5 0h0m.5 0h0m23 0h0m4.5 0h0m12.5 0h0m27.5 0h0m7.5 0h0m7 0h0m-80 .5h0m12 0h0m.5 0h0m2 0h0m13 0h0m19 0h0m12 0h0m.5 0h0m-97 .5h0m2.5 0h0m10.5 0h0m15.5 0h0m4 0h0m28.5 0h0m6.5 0h0m-59 .5h0m11.5 0h0m13 0h0m4.5 0h0m7.5 0h0m11.5 0h0m-77.5 .5h0m18 0h0m4.5 0h0m6 0h0m15.5 0h0m20 0h0m3 0h0m3.5 0h0m21.5 0h0m5.5 0h0m9.5 0h0m22.5 0h0m-120 .5h0m6.5 0h0m5.5 0h0m5 0h0m8.5 0h0m4 0h0m34.5 0h0m-50 .5h0m.5 0h0m2 0h0m24.5 0h0m2.5 0h0m6 0h0m62.5 0h0m-87 .5h0m4.5 0h0m33.5 0h0m7 0h0m15 0h0m5 0h0m2.5 0h0m41 0h0m-133 .5h0m2 0h0m13.5 0h0m6.5 0h0m7.5 0h0m2.5 0h0m12.5 0h0m6.5 0h0m10 0h0m20.5 0h0m20.5 0h0m-67 .5h0m2 0h0m29.5 0h0m2 0h0m1 0h0m12 0h0m-84 .5h0m5.5 0h0m6 0h0m10 0h0m9.5 0h0m10 0h0m5.5 0h0m24.5 0h0m5.5 0h0m5.5 0h0m-71.5 .5h0m29 0h0m1 0h0m38 0h0m26 0h0m1.5 0h0m-104 .5h0m3.5 0h0m3 0h0m13.5 0h0m21.5 0h0m-33.5 .5h0m2.5 0h0m9.5 0h0m37 0h0m14 0h0m6 0h0m12.5 0h0m9 0h0m-82 .5h0m1 0h0m9 0h0m23 0h0m25.5 0h0m5 0h0m-83 .5h0m2 0h0m18 0h0m12 0h0m4.5 0h0m50 0h0m-86 .5h0m2.5 0h0m17 0h0m3.5 0h0m36 0h0m1 0h0m16.5 0h0m20.5 0h0m7 0h0m-100.5 .5h0m24 0h0m43 0h0m3.5 0h0m-80 .5h0m8.5 0h0m10.5 0h0m8 0h0m7.5 0h0m10.5 0h0m52 0h0m-79.5 .5h0m5 0h0m8.5 0h0m31 0h0m8.5 0h0m24.5 0h0m-67 .5h0m.5 0h0m3.5 0h0m6 0h0m20 0h0m4.5 0h0m9 0h0m-50 .5h0m1 0h0m49.5 0h0m36 0h0m-87.5 .5h0m24.5 0h0m-30 .5h0m8 0h0m24 0h0m4 0h0m35.5 0h0m-51.5 .5h0m32.5 0h0m9.5 0h0m9 0h0m2 0h0m-60 .5h0m40.5 0h0m32.5 0h0m-82.5 1h0m4 0h0m2.5 0h0m-10.5 .5h0m.5 0h0m21.5 0h0m3.5 0h0m-21 .5h0m14.5 0h0m17 0h0m.5 0h0m7 0h0m21.5 0h0m-33 .5h0m-28.5 .5h0m81 0h0m-57.5 .5h0m18 0h0m11.5 0h0m-42.5 .5h0m43 0h0m-50.5 .5h0m21 0h0m8.5 0h0m6.5 0h0m-58.5 .5h0m72.5 0h0m-27 .5h0m61 0h0m-35.5 .5h0m16.5 .5h0m7.5 .5h0m10 0h0m-94.5 .5h0m17 0h0m-2.5 .5h0m4.5 0h0m66.5 0h0m-57 .5h0m12.5 0h0m3.5 0h0m24.5 0h0m2.5 0h0m-27 .5h0m22.5 0h0m30.5 0h0m-54 .5h0m47 0h0m-50.5 .5h0m9.5 0h0m-32 .5h0m9 0h0m4 0h0m29.5 0h0m11 0h0m8.5 0h0m18 0h0m-73.5 .5h0m4.5 0h0m69.5 0h0m-62 .5h0m48 0h0m-69.5 .5h0m10 0h0m3.5 0h0m46 0h0m13 0h0m8 0h0m-61.5 .5h0m36 0h0m28 0h0m-86.5 .5h0m43 0h0m-14 .5h0m20.5 0h0m-53.5 .5h0m70.5 0h0m20.5 .5h0m-62 .5h0m29.5 0h0m-46.5 .5h0m2.5 0h0m17 0h0m4 0h0m9 .5h0m16 0h0m-46 .5h0m15 0h0m13 0h0m11.5 0h0m-60 .5h0m44 0h0m46.5 0h0m8 0h0m-97.5 .5h0m25.5 0h0m8 0h0m1 0h0m3.5 0h0m1.5 0h0m7 0h0m7 0h0m12 0h0m8.5 0h0m19.5 0h0m-64.5 .5h0m36.5 .5h0m13.5 0h0m-46 .5h0m38 0h0m10 0h0m2 0h0m-54 .5h0m1.5 .5h0m5 0h0m35 0h0m-50 .5h0m-3 .5h0m11 0h0m.5 0h0m11 0h0m26.5 0h0m17 0h0m-54.5 .5h0m-19 .5h0m48.5 0h0m22.5 0h0m16.5 0h0m-53.5 1h0m34.5 0h0m-51 .5h0m31.5 0h0m53.5 0h0m-68.5 1h0m27 0h0m15 0h0m-68 .5h0m1 0h0m33.5 0h0m21 0h0m14 0h0m-68.5 .5h0m4.5 0h0m19 0h0m26 0h0m1 0h0m-21 .5h0m21 0h0m-46.5 .5h0m19.5 0h0m-20.5 .5h0m8 0h0m4.5 0h0m33 0h0m-47 .5h0m15 0h0m38 0h0m6 0h0m4.5 0h0m-64 .5h0m68.5 0h0m-34 .5h0m10 0h0m15 0h0m8 0h0m12 0h0m-92 .5h0m14.5 0h0m-8.5 .5h0m77.5 0h0m6 0h0m-78.5 .5h0m1.5 0h0m18.5 0h0m58 0h0m2.5 0h0m-71.5 .5h0m2.5 0h0m41.5 0h0m-50 .5h0m23.5 0h0m6.5 0h0m1.5 0h0m-23.5 .5h0m4 0h0m45.5 0h0m15.5 0h0m-60.5 .5h0m1.5 0h0m3.5 0h0m18.5 0h0m-11.5 .5h0m8.5 0h0m16 0h0m10 0h0m4 0h0m-59 .5h0m16 0h0m29 0h0m13 0h0m39 0h0m-95.5 .5h0m33.5 0h0m3.5 0h0m8 0h0m-61 .5h0m10.5 0h0m27 0h0m6.5 0h0m18 0h0m20.5 0h0m-15.5 .5h0m1.5 0h0m-47.5 .5h0m26.5 0h0m11.5 0h0m-48 .5h0m13.5 0h0m41.5 0h0m3 0h0m18.5 0h0m11.5 0h0m-113 .5h0m22.5 0h0m4 0h0m12 0h0m16.5 0h0m26 0h0m1 0h0m9.5 0h0m-52 .5h0m3.5 0h0m10.5 0h0m.5 0h0m11.5 0h0m1.5 0h0m-29.5 .5h0m42.5 0h0m5 0h0m6 0h0m-67.5 .5h0m12.5 0h0m24.5 0h0m7 0h0m3.5 0h0m1.5 0h0m8.5 0h0m16.5 0h0m-58 .5h0m23 0h0m3 0h0m1.5 0h0m-21 .5h0m2.5 0h0m3 0h0m13.5 0h0m12.5 0h0m14.5 0h0m-92.5 .5h0m17 0h0m4.5 0h0m3.5 0h0m1 0h0m9.5 0h0m39 0h0m-58.5 .5h0m18.5 0h0m5 0h0m5.5 0h0m1 0h0m21.5 0h0m4 0h0m11.5 0h0m-73.5 .5h0m11 0h0m19 0h0m.5 0h0m7 0h0m29 0h0m1 0h0m7 0h0m31.5 0h0m-76 .5h0m7 0h0m4 0h0m-37.5 .5h0m5.5 0h0m6 0h0m47 0h0m10 0h0m-49.5 .5h0m3.5 0h0m1.5 0h0m2 0h0m.5 0h0m2.5 0h0m13.5 0h0m-32.5 .5h0m9.5 0h0m20 0h0m28.5 0h0m6.5 0h0m2 0h0m-62 .5h0m1.5 0h0m1 0h0m53.5 0h0m1 0h0m5.5 0h0m5.5 0h0m-78.5 .5h0m26.5 0h0m2.5 0h0m1.5 0h0m53 0h0m-65 .5h0m25 0h0m11.5 0h0m.5 0h0m6 0h0m11.5 0h0m11.5 0h0m-85.5 .5h0m13 0h0m18.5 0h0m.5 0h0m9.5 0h0m14 0h0m11.5 0h0m13 0h0m-76 .5h0m39.5 0h0m30.5 0h0m10.5 0h0m-93 .5h0m9.5 0h0m7 0h0m12 0h0m18.5 0h0m.5 0h0m7.5 0h0m37.5 0h0m-64 .5h0m18 0h0m6 0h0m28 0h0m-80 .5h0m57.5 0h0m19 0h0m.5 0h0m7 0h0m.5 0h0m-79 .5h0m14 0h0m20 0h0m5.5 0h0m16 0h0m23 0h0m-60.5 .5h0m9.5 0h0m30 0h0m12.5 0h0m6.5 0h0m-62 .5h0m15 0h0m3.5 0h0m.5 0h0m2.5 0h0m12 0h0m3.5 0h0m27 0h0m.5 0h0m-80.5 .5h0m7 0h0m1 0h0m2.5 0h0m5.5 0h0m14.5 0h0m3 0h0m2.5 0h0m31.5 0h0m4.5 0h0m16 0h0m-63 .5h0m2 0h0m14.5 0h0m8 0h0m7.5 0h0m2 0h0m31 0h0m-92 .5h0m8.5 0h0m3 0h0m2.5 0h0m12 0h0m8.5 0h0m2 0h0m7 0h0m3.5 0h0m29 0h0m-45.5 .5h0m13.5 0h0m7 0h0m17 0h0m26.5 0h0m-92.5 .5h0m6.5 0h0m4.5 0h0m11.5 0h0m.5 0h0m21 0h0m13 0h0m10 0h0m8 0h0m-48 .5h0m21 0h0m3 0h0m15 0h0m5 0h0m-46.5 .5h0m36 0h0m2 0h0m5.5 0h0m-78.5 .5h0m16.5 0h0m39.5 0h0m8.5 0h0m-55.5 .5h0m29.5 0h0m26 0h0m7 0h0m1.5 0h0m9 0h0m7.5 0h0m-88 .5h0m40 0h0m.5 0h0m15 0h0m2 0h0m7 0h0m5.5 0h0m2 0h0m4.5 0h0m24.5 0h0m2 0h0m7.5 0h0m-99 .5h0m28 0h0m1.5 0h0m10 0h0m6 0h0m11 0h0m2.5 0h0m.5 0h0m4 0h0m9.5 0h0m3.5 0h0m-46 .5h0m24 0h0m6.5 0h0m13 0h0m-55 .5h0m5 0h0m3.5 0h0m3.5 0h0m15.5 0h0m.5 0h0m14.5 0h0m4 0h0m-14 .5h0m1 0h0m7 0h0m-3.5 .5h0m-25.5 .5h0m17.5 0h0m-73 .5h0m15.5 0h0m31 0h0m5 0h0m1 0h0m13.5 0h0m5.5 0h0m2 0h0m3.5 0h0m3 0h0m4.5 0h0m12.5 0h0m5.5 0h0m-92 .5h0m11.5 0h0m20 0h0m14 0h0m1 0h0m1 0h0m26.5 0h0m8 0h0m-5 .5h0m12 0h0m5 0h0m-61.5 .5h0m9 0h0m2 0h0m3 0h0m8.5 0h0m5.5 0h0m1.5 0h0m6.5 0h0m3.5 0h0m8.5 0h0m11.5 0h0m-105.5 .5h0m2 0h0m48.5 0h0m1 0h0m19 0h0m26 0h0m-92 .5h0m19 0h0m19.5 0h0m11 0h0m6.5 0h0m7 0h0m10 0h0m4 0h0m9 0h0m2.5 0h0m7.5 0h0m-55 .5h0m27 0h0m32.5 0h0m-98.5 .5h0m36 0h0m3 0h0m15.5 0h0m7.5 0h0m4.5 0h0m11.5 0h0m17.5 0h0m2.5 0h0m-92.5 .5h0m2.5 0h0m28.5 0h0m6 0h0m15.5 0h0m11 0h0m21 0h0m3 0h0m-85.5 .5h0m3 0h0m27 0h0m48.5 0h0m11.5 0h0m-96 .5h0m9.5 0h0m25 0h0m23.5 0h0m27 0h0m-94 .5h0m53 0h0m16.5 0h0m20 0h0m-69 .5h0m23.5 0h0m4.5 0h0m2 0h0m3.5 0h0m4 0h0m6.5 0h0m14 0h0m8.5 0h0m-46 .5h0m5.5 0h0m27.5 0h0m7 0h0m9.5 0h0m21.5 0h0m-92 .5h0m23 0h0m1.5 0h0m11 0h0m7 0h0m28.5 0h0m-91 .5h0m19.5 0h0m26 0h0m9.5 0h0m2 0h0m.5 0h0m2.5 0h0m16.5 0h0m-85.5 .5h0m14.5 0h0m56.5 0h0m4.5 0h0m13 0h0m5.5 0h0m2.5 0h0m-47.5 .5h0m-22.5 .5h0m24 0h0m11 0h0m12 0h0m4.5 0h0m1 0h0m32.5 0h0m-99 .5h0m4 0h0m.5 0h0m32 0h0m3 0h0m15 0h0m2 0h0m9.5 0h0m-76 .5h0m18 0h0m4.5 0h0m31 0h0m1 0h0m10.5 0h0m7.5 0h0m2.5 0h0m16 0h0m-89 .5h0m8 0h0m7.5 0h0m26.5 0h0m.5 0h0m28.5 0h0m.5 0h0m10 0h0m2 0h0m1.5 0h0m-88 .5h0m21 0h0m20.5 0h0m13 0h0m3.5 0h0m10 0h0m14 0h0m.5 0h0m5 0h0m7 0h0m-73.5 .5h0m21.5 0h0m2.5 0h0m27.5 0h0m18 0h0m5.5 0h0m3 0h0m-99.5 .5h0m6.5 0h0m10.5 0h0m36.5 0h0m3.5 0h0m32.5 0h0m2.5 0h0m3.5 0h0m22.5 0h0m-54.5 .5h0m34.5 0h0m-90.5 .5h0m9.5 0h0m37 0h0m2 0h0m30 0h0m-41 .5h0m2.5 0h0m10 0h0m8.5 0h0m6 0h0m17 0h0m-77.5 .5h0m28 0h0m2 0h0m16 0h0m3 0h0m34.5 0h0m12 0h0m-101 .5h0m32 0h0m38.5 0h0m27 0h0m-101 .5h0m41.5 0h0m8.5 0h0m41.5 0h0m27.5 0h0m-104 .5h0m20.5 0h0m9 0h0m2.5 0h0m2.5 0h0m1.5 0h0m6 0h0m10.5 0h0m3.5 0h0m3 0h0m23 0h0m-63 .5h0m6 0h0m1 0h0m2.5 0h0m33 0h0m.5 0h0m-34.5 .5h0m1.5 0h0m2.5 0h0m4.5 0h0m27 0h0m7.5 0h0m-69 .5h0m21 0h0m1.5 0h0m2 0h0m13.5 0h0m8.5 0h0m15 0h0m23 0h0m15 0h0m-123.5 .5h0m5 0h0m35 0h0m3.5 0h0m3.5 0h0m11 0h0m-46.5 .5h0m12 0h0m21 0h0m22.5 0h0m6.5 0h0m1 0h0m5 0h0m28 0h0m-98 .5h0m12 0h0m20 0h0m6 0h0m3.5 0h0m28.5 0h0m-69 .5h0m1.5 0h0m3 0h0m4 0h0m47.5 0h0m11.5 0h0m18 0h0m-58.5 .5h0m20.5 0h0m2 0h0m12.5 0h0m5 0h0m-79 .5h0m22.5 0h0m24 0h0m12.5 0h0m29.5 0h0m-76.5 .5h0m14 0h0m11.5 0h0m1 0h0m13.5 0h0m17.5 0h0m-44.5 .5h0m14 0h0m4 0h0m9 0h0m2.5 0h0m.5 0h0m17 0h0m3.5 0h0m1 0h0m-87.5 .5h0m19 0h0m20 0h0m12 0h0m1 0h0m20.5 0h0m-38 .5h0m45.5 0h0m17 0h0m-43.5 .5h0m48.5 0h0m-71 .5h0m4 0h0m9 0h0m1 0h0m6.5 0h0m13 0h0m32 0h0m2 0h0m-73 .5h0m3 0h0m8 0h0m14 0h0m10.5 0h0m4.5 0h0m21.5 0h0m-80.5 .5h0m28.5 0h0m5.5 0h0m13 0h0m7 0h0m1 0h0m-7 .5h0m-33.5 .5h0m6.5 0h0m10 0h0m.5 0h0m14 0h0m22 0h0m.5 0h0m11 0h0m9 0h0m-77 .5h0m6.5 0h0m4 0h0m3.5 0h0m23 0h0m8.5 0h0m11.5 0h0m-46.5 .5h0m10 0h0m6 0h0m17.5 0h0m1.5 0h0m16 0h0m-45 .5h0m9 0h0m21 0h0m15 0h0m1.5 0h0m17 0h0m-65.5 .5h0m14 0h0m5 0h0m2 0h0m38 0h0m-70 .5h0m34 0h0m8 0h0m-30 .5h0m.5 0h0m6 0h0m1.5 0h0m13.5 0h0m10 0h0m-51.5 .5h0m9 0h0m13.5 0h0m3 0h0m16.5 0h0m-26.5 .5h0m3.5 0h0m-8 .5h0m4 0h0m8 0h0m.5 0h0m3.5 0h0m9 0h0m45.5 0h0m-71 .5h0m2 0h0m7 0h0m2 0h0m37 0h0m-57 .5h0m7.5 0h0m3 0h0m10.5 0h0m4.5 0h0m10.5 0h0m1 0h0m5.5 0h0m1 0h0m8 0h0m-19.5 .5h0m2.5 0h0m7 0h0m17.5 0h0m19.5 0h0m-79 .5h0m17 0h0m24 0h0m56 0h0m-108.5 .5h0m7.5 0h0m35.5 0h0m15 0h0m-27 .5h0m55.5 0h0m27.5 0h0m-102.5 .5h0m26.5 0h0m12 .5h0m3.5 .5h0m-6.5 .5h0m-43.5 .5h0m13 .5h0m60 0h0m-61.5 .5h0m7.5 0h0m14 0h0m29 0h0m44 0h0m-72 .5h0m57.5 0h0m12 0h0m-85.5 .5h0m16.5 0h0m-22 .5h0m12.5 0h0m7 0h0m2 0h0m64 0h0m-88 .5h0m74 0h0m-91.5 .5h0m52 .5h0m-45 .5h0m12 0h0m7.5 0h0m17.5 0h0m11.5 0h0m34.5 0h0m-77 .5h0m14 0h0m6 0h0m3 0h0m3.5 0h0m-21 .5h0m15.5 0h0m9 0h0m-21.5 1h0m11 1h0m2.5 1.5h0m3 0h0m-13 .5h0m-42.5 .5h0m54 0h0m-25 .5h0m27.5 3h0m-.5 .5h0m-4.5 .5h0m21 0h0m-18 .5h0m-35 4.5h0m32.5 0h0m-23.5 .5h0m6.5 3h0" stroke="#3450c8" stroke-width="1.4" stroke-linecap="round" fill="none"/>
<path d="m122.5 29h0m19.5 6h0m-70 1h0m70.5 1h0m5.5 1h0m-32 .5h0m12 1h0m80.5 1h0m-46 1.5h0m-36.5 .5h0m49.5 .5h0m17.5 0h0m-23.5 .5h0m2 0h0m-32 1h0m8.5 0h0m10.5 0h0m2 0h0m9.5 0h0m-72 .5h0m32.5 .5h0m18.5 0h0m1.5 0h0m-38 .5h0m24 0h0m12.5 0h0m13 0h0m-43 .5h0m19 0h0m2 0h0m16.5 0h0m5 0h0m10.5 0h0m17 0h0m-82 .5h0m47 0h0m31.5 0h0m-80 .5h0m16.5 0h0m8.5 0h0m5.5 0h0m28.5 0h0m-54 .5h0m11.5 0h0m7 0h0m3 0h0m2 0h0m6.5 0h0m26 0h0m23.5 0h0m-122 .5h0m51.5 0h0m4.5 0h0m28.5 0h0m15.5 0h0m-37 .5h0m2.5 0h0m6 0h0m3 0h0m-57.5 .5h0m6.5 0h0m31.5 0h0m12 0h0m.5 0h0m3.5 0h0m11 0h0m11.5 0h0m15 0h0m-58 .5h0m52 0h0m-69.5 .5h0m13 0h0m9 0h0m13 0h0m15 0h0m-38.5 .5h0m2.5 0h0m36.5 0h0m17 0h0m20.5 0h0m-121.5 .5h0m26.5 0h0m13 0h0m7 0h0m36.5 0h0m14 0h0m-62 .5h0m6 0h0m27 0h0m1.5 0h0m10 0h0m16.5 0h0m21.5 0h0m-83.5 .5h0m7 0h0m6 0h0m14 0h0m7.5 0h0m1 0h0m22 0h0m-56.5 .5h0m47.5 0h0m14.5 0h0m1 0h0m3.5 0h0m-86 .5h0m18.5 0h0m10 0h0m6.5 0h0m14.5 0h0m7.5 0h0m44 0h0m-71.5 .5h0m6.5 0h0m11.5 0h0m7.5 0h0m20.5 0h0m15 0h0m-90.5 .5h0m4.5 0h0m24 0h0m.5 0h0m.5 0h0m6.5 0h0m5.5 0h0m3.5 0h0m1 0h0m26 0h0m-77 .5h0m10.5 0h0m42 0h0m2 0h0m5 0h0m12 0h0m4 0h0m18 0h0m-100 .5h0m16.5 0h0m3.5 0h0m13 0h0m12.5 0h0m5.5 0h0m6.5 0h0m11.5 0h0m11.5 0h0m4 0h0m51.5 0h0m-116 .5h0m8 0h0m4.5 0h0m.5 0h0m17.5 0h0m7 0h0m5.5 0h0m4.5 0h0m5 0h0m1.5 0h0m27 0h0m-94.5 .5h0m16.5 0h0m5.5 0h0m28 0h0m2 0h0m4 0h0m13 0h0m-55.5 .5h0m20 0h0m18.5 0h0m14 0h0m2.5 0h0m3.5 0h0m22 0h0m-98.5 .5h0m6 0h0m5 0h0m14.5 0h0m5.5 0h0m1 0h0m1.5 0h0m7.5 0h0m14 0h0m11.5 0h0m10 0h0m13 0h0m-73.5 .5h0m12.5 0h0m8 0h0m1 0h0m9.5 0h0m16.5 0h0m18 0h0m-36 .5h0m15.5 0h0m-42.5 .5h0m9 0h0m3.5 0h0m23.5 0h0m15 0h0m7 0h0m2.5 0h0m1.5 0h0m-86 .5h0m36.5 0h0m11 0h0m9 0h0m13.5 0h0m10.5 0h0m3 0h0m-76 .5h0m10.5 0h0m18 0h0m2.5 0h0m1 0h0m22.5 0h0m12.5 0h0m10.5 0h0m-82 .5h0m11 0h0m33.5 0h0m35 0h0m18 0h0m-96 .5h0m47 0h0m6.5 0h0m8.5 0h0m9.5 0h0m-63.5 .5h0m7 0h0m4.5 0h0m8 0h0m26.5 0h0m17 0h0m12 0h0m13.5 0h0m-92.5 .5h0m4 0h0m17 0h0m3 0h0m5.5 0h0m6.5 0h0m27 0h0m2.5 0h0m24.5 0h0m-103 .5h0m13 0h0m.5 0h0m22.5 0h0m14.5 0h0m17.5 0h0m40 0h0m-88 .5h0m9 0h0m22 0h0m2 0h0m18.5 0h0m6 0h0m14 0h0m23 0h0m-112.5 .5h0m1 0h0m7 0h0m4.5 0h0m34.5 0h0m4.5 0h0m.5 0h0m18.5 0h0m6.5 0h0m-78.5 .5h0m11.5 0h0m29.5 0h0m4.5 0h0m24 0h0m7.5 0h0m3.5 0h0m-80 .5h0m8 0h0m12 0h0m2 0h0m8 0h0m8.5 0h0m1 0h0m2.5 0h0m30.5 0h0m.5 0h0m-63.5 .5h0m17.5 0h0m15 0h0m7 0h0m55.5 0h0m-91 .5h0m1.5 0h0m21 0h0m10.5 0h0m3.5 0h0m2 0h0m11 0h0m25 0h0m-82.5 .5h0m27 0h0m12 0h0m19 0h0m9 0h0m2.5 0h0m19.5 0h0m8 0h0m-101 .5h0m5.5 0h0m13.5 0h0m.5 0h0m1 0h0m.5 0h0m35.5 0h0m20 0h0m3 0h0m-71.5 .5h0m.5 0h0m31 0h0m55.5 0h0m-76.5 .5h0m5.5 0h0m3.5 0h0m24.5 0h0m6 0h0m15 0h0m-62.5 .5h0m9 0h0m48 0h0m5 0h0m.5 0h0m-64 .5h0m41 0h0m14 0h0m-49.5 .5h0m67.5 0h0m-73 .5h0m18 0h0m21 0h0m53 0h0m-92 .5h0m1.5 0h0m5.5 0h0m3.5 0h0m16 0h0m16 .5h0m16 0h0m12.5 0h0m34 0h0m-110.5 .5h0m16 0h0m6 0h0m38 0h0m-28.5 .5h0m1 0h0m56 0h0m-65 .5h0m13.5 0h0m24 0h0m-35.5 .5h0m39 .5h0m3.5 0h0m-4 .5h0m-33.5 .5h0m15.5 0h0m-32 .5h0m10 0h0m-19.5 .5h0m23.5 0h0m42 .5h0m-46.5 .5h0m7 0h0m-7.5 .5h0m5.5 0h0m13.5 0h0m-16.5 .5h0m7 0h0m28 0h0m-34.5 1h0m6 0h0m2 0h0m7 0h0m7.5 0h0m39.5 0h0m-55 .5h0m26 0h0m11 0h0m49 0h0m-91 .5h0m5 0h0m-10.5 .5h0m59 0h0m-66.5 .5h0m14.5 0h0m41.5 0h0m-44 .5h0m13.5 0h0m-17 .5h0m23 0h0m6.5 0h0m-46 .5h0m1.5 0h0m67.5 0h0m-65.5 .5h0m18 0h0m10 0h0m1 0h0m47 0h0m-60.5 .5h0m13.5 0h0m39 0h0m-51 .5h0m3.5 0h0m23.5 0h0m-7 .5h0m-5 .5h0m30 0h0m-57.5 .5h0m19 0h0m63.5 0h0m-47 .5h0m10 0h0m-33.5 .5h0m10.5 0h0m1.5 0h0m52.5 0h0m7.5 0h0m-73.5 .5h0m3.5 0h0m37 0h0m-39 .5h0m90.5 .5h0m-83.5 .5h0m43 0h0m9.5 0h0m5 0h0m-71 .5h0m10 0h0m57.5 0h0m-65.5 .5h0m2.5 0h0m1.5 0h0m2 0h0m5.5 0h0m4 0h0m11 0h0m19.5 0h0m-51.5 .5h0m24 0h0m5.5 0h0m10.5 0h0m3 0h0m8 0h0m8.5 0h0m1.5 0h0m-59 .5h0m4.5 0h0m1 0h0m-17.5 .5h0m16 0h0m.5 0h0m12 0h0m13 0h0m13 0h0m18 0h0m-57 .5h0m31.5 0h0m69.5 0h0m-69 .5h0m5.5 0h0m47 0h0m-41 .5h0m.5 0h0m2 0h0m20.5 0h0m-50.5 .5h0m4 0h0m29.5 0h0m7 0h0m24.5 0h0m-93 .5h0m19 0h0m12.5 0h0m42 0h0m2 0h0m-67.5 .5h0m3 0h0m5.5 0h0m30.5 0h0m25 0h0m-52.5 .5h0m-31 .5h0m16 0h0m4.5 0h0m19.5 0h0m51 0h0m-67.5 .5h0m2 0h0m11 0h0m48 0h0m5.5 0h0m-68.5 .5h0m12 0h0m12.5 0h0m30.5 0h0m27 0h0m-94.5 .5h0m26 0h0m2 0h0m5.5 0h0m.5 0h0m3 0h0m12 0h0m-43.5 .5h0m14 0h0m21 0h0m49.5 0h0m-49 .5h0m11 0h0m25.5 0h0m7.5 0h0m-78 .5h0m22 0h0m22 0h0m2 0h0m5.5 0h0m7 0h0m12 0h0m10 0h0m-86 .5h0m11 0h0m2 0h0m14 0h0m30.5 0h0m17.5 0h0m-64 .5h0m7.5 0h0m2.5 0h0m2 0h0m3 0h0m8.5 0h0m55.5 0h0m-64 .5h0m8 0h0m13 0h0m21.5 0h0m2.5 0h0m5 0h0m-86.5 .5h0m36.5 0h0m15.5 0h0m10.5 0h0m31.5 0h0m13.5 0h0m-68 .5h0m5 0h0m2 0h0m6.5 0h0m6.5 0h0m15.5 0h0m3.5 0h0m8.5 .5h0m.5 0h0m-56 .5h0m5 0h0m5.5 0h0m24.5 0h0m7.5 0h0m7.5 0h0m1 0h0m11 0h0m-80.5 .5h0m1 0h0m12 0h0m1 0h0m9.5 0h0m40 0h0m-39.5 .5h0m21.5 0h0m36 0h0m-74 .5h0m9 0h0m47.5 0h0m2 0h0m3 0h0m-60.5 .5h0m20.5 0h0m4 0h0m4.5 0h0m8.5 0h0m-37 .5h0m5.5 0h0m1.5 0h0m11 0h0m3 0h0m26 0h0m-41 .5h0m6 0h0m6.5 0h0m21.5 0h0m6.5 0h0m23 0h0m26 0h0m2 0h0m-102.5 .5h0m.5 0h0m4 0h0m4.5 0h0m3.5 0h0m3.5 0h0m29.5 0h0m2 0h0m3 0h0m43.5 0h0m-87.5 .5h0m24 0h0m3 0h0m24.5 0h0m-37.5 .5h0m4 0h0m32 0h0m-67 .5h0m13 0h0m7 0h0m6 0h0m3.5 0h0m16.5 0h0m29 0h0m-66 .5h0m3.5 0h0m2 0h0m11 0h0m1 0h0m12.5 0h0m10.5 0h0m9 0h0m3.5 0h0m2.5 0h0m-55.5 .5h0m12 0h0m4.5 0h0m1 0h0m2 0h0m31.5 0h0m3.5 0h0m2.5 0h0m6 0h0m5.5 0h0m-49 .5h0m26 0h0m6.5 0h0m11.5 0h0m2 0h0m.5 0h0m11.5 0h0m9.5 0h0m13.5 0h0m-97 .5h0m5.5 0h0m2 0h0m1.5 0h0m3 0h0m3 0h0m1 0h0m25 0h0m5.5 0h0m11 0h0m-68 .5h0m7.5 0h0m10 0h0m5.5 0h0m40.5 0h0m6.5 0h0m3.5 0h0m18.5 0h0m-92 .5h0m11 0h0m8.5 0h0m40.5 0h0m9 0h0m22 0h0m-85 .5h0m11.5 0h0m6 0h0m49 0h0m1 0h0m-52 .5h0m5.5 0h0m8 0h0m11.5 0h0m1 0h0m20 0h0m1.5 0h0m11 0h0m1 0h0m4.5 0h0m17.5 0h0m-78 .5h0m31 0h0m45.5 0h0m-90.5 .5h0m3.5 0h0m10.5 0h0m32 0h0m2 0h0m2 0h0m6 0h0m5 0h0m20.5 0h0m-70.5 .5h0m13 0h0m7 0h0m8 0h0m4 0h0m6.5 0h0m8.5 0h0m3.5 0h0m-12 .5h0m7 0h0m3.5 0h0m-64.5 .5h0m6 0h0m20 0h0m35.5 0h0m1 0h0m3 0h0m2 0h0m5 0h0m-61 .5h0m14 0h0m4 0h0m4.5 0h0m2.5 0h0m.5 0h0m3 0h0m5 0h0m12 0h0m30 0h0m-85 .5h0m13 0h0m30.5 0h0m13.5 0h0m8.5 0h0m-64 .5h0m14.5 0h0m4 0h0m12.5 0h0m6.5 0h0m8 0h0m1.5 0h0m-44.5 .5h0m47.5 0h0m-76.5 .5h0m20 0h0m6 0h0m11 0h0m2.5 0h0m14 0h0m2 0h0m7.5 0h0m31 0h0m-60 .5h0m2.5 0h0m12.5 0h0m1.5 0h0m4 0h0m27 0h0m8 0h0m7.5 0h0m3 0h0m-86 .5h0m6.5 0h0m12.5 0h0m2 0h0m1 0h0m16 0h0m6 0h0m24.5 0h0m23 0h0m-84 .5h0m2 0h0m4.5 0h0m14 0h0m8.5 0h0m13 0h0m9.5 0h0m24 0h0m12 0h0m-78 .5h0m24 0h0m3 0h0m22 0h0m10.5 0h0m3 0h0m-71 .5h0m45 0h0m24.5 0h0m31.5 0h0m-97 .5h0m16 0h0m2.5 0h0m55.5 0h0m-22.5 .5h0m9 0h0m2.5 0h0m12.5 0h0m-88 .5h0m9 0h0m5 0h0m21 0h0m12.5 0h0m6.5 0h0m5 0h0m.5 0h0m11 0h0m.5 0h0m-70.5 .5h0m12.5 0h0m16 0h0m5 0h0m2.5 0h0m1 0h0m27 0h0m-82 .5h0m27 0h0m1 0h0m2 0h0m16 0h0m6 0h0m1.5 0h0m4.5 0h0m4.5 0h0m8 0h0m11 0h0m-24.5 .5h0m15.5 0h0m.5 0h0m10.5 0h0m11.5 0h0m-72.5 .5h0m48 0h0m1.5 0h0m2 0h0m12 0h0m1.5 0h0m1 0h0m-61.5 .5h0m17.5 0h0m1 0h0m18 0h0m5.5 0h0m11 0h0m1 0h0m.5 0h0m17.5 0h0m-33 .5h0m2.5 0h0m13 0h0m19 0h0m-57.5 .5h0m1.5 0h0m3 0h0m.5 0h0m13.5 0h0m14.5 0h0m6 0h0m7 0h0m2 0h0m.5 0h0m3 0h0m41 0h0m-83 .5h0m18.5 0h0m3 0h0m1 0h0m3 0h0m17.5 0h0m8.5 0h0m-29 .5h0m21 0h0m7 0h0m-89 .5h0m10 0h0m18 0h0m4.5 0h0m1 0h0m8.5 0h0m3 0h0m29 0h0m11.5 0h0m-81.5 .5h0m34.5 0h0m5.5 0h0m10.5 0h0m3.5 0h0m2 0h0m8 0h0m5 0h0m27.5 0h0m-113.5 .5h0m15.5 0h0m30 0h0m1.5 0h0m3 0h0m8 0h0m7 0h0m.5 0h0m3 0h0m9 0h0m16.5 0h0m-50.5 .5h0m13 0h0m3 0h0m.5 0h0m1.5 0h0m1 0h0m1.5 0h0m2 0h0m.5 0h0m5 0h0m6.5 0h0m3.5 0h0m10 0h0m40.5 0h0m-129.5 .5h0m1 0h0m11.5 0h0m27 0h0m.5 0h0m8.5 0h0m7.5 0h0m30 0h0m1.5 0h0m1.5 0h0m-51.5 .5h0m31.5 0h0m3 0h0m.5 0h0m9.5 0h0m11 0h0m-94 .5h0m38.5 0h0m13 0h0m2 0h0m6 0h0m5.5 0h0m32 0h0m-88 .5h0m1 0h0m2 0h0m25.5 0h0m7.5 0h0m3 0h0m8 0h0m2 0h0m1.5 0h0m35.5 0h0m15.5 0h0m-99.5 .5h0m3.5 0h0m3 0h0m25 0h0m15.5 0h0m20.5 0h0m37.5 0h0m-75 .5h0m5.5 0h0m3 0h0m12 0h0m13.5 0h0m-81 .5h0m41.5 0h0m1.5 0h0m1 0h0m28.5 0h0m4 0h0m4.5 0h0m2.5 0h0m17.5 0h0m-90.5 .5h0m11 0h0m19 0h0m4 0h0m7.5 0h0m.5 0h0m4 0h0m17 0h0m6 0h0m2 0h0m10 0h0m2 0h0m4 0h0m-93.5 .5h0m37.5 0h0m1 0h0m1 0h0m10 0h0m5.5 0h0m13 0h0m5.5 0h0m2.5 0h0m.5 0h0m4 0h0m6.5 0h0m6.5 0h0m-85 .5h0m3 0h0m42.5 0h0m3.5 0h0m8 0h0m4 0h0m15.5 0h0m-46.5 .5h0m1.5 0h0m.5 0h0m9 0h0m5.5 0h0m.5 0h0m9 0h0m18.5 0h0m13.5 0h0m-101 .5h0m.5 0h0m2 0h0m40 0h0m.5 0h0m1.5 0h0m21.5 0h0m-21.5 .5h0m28.5 0h0m3 0h0m2.5 0h0m4.5 0h0m.5 0h0m15.5 0h0m.5 0h0m-82 .5h0m22.5 0h0m1 0h0m1 0h0m2 0h0m18 0h0m6.5 0h0m8 0h0m.5 0h0m-63 .5h0m27.5 0h0m10.5 0h0m10.5 0h0m2.5 0h0m2 0h0m4 0h0m7 0h0m.5 0h0m.5 0h0m9.5 0h0m-77 .5h0m6 0h0m22 0h0m12 0h0m5 0h0m7 0h0m1 0h0m3.5 0h0m20.5 0h0m2.5 0h0m10.5 0h0m-101.5 .5h0m16.5 0h0m19.5 0h0m2.5 0h0m4.5 0h0m1 0h0m6 0h0m2.5 0h0m9 0h0m5 0h0m15.5 0h0m3 0h0m5 0h0m11.5 0h0m16.5 0h0m-128 .5h0m12 0h0m5 0h0m5 0h0m24 0h0m7.5 0h0m4 0h0m.5 0h0m2 0h0m8 0h0m16 0h0m4 0h0m-76 .5h0m4.5 0h0m6.5 0h0m34.5 0h0m17 0h0m18 0h0m.5 0h0m4.5 0h0m-85.5 .5h0m3 0h0m9 0h0m2.5 0h0m19.5 0h0m6.5 0h0m15 0h0m2 0h0m8 0h0m.5 0h0m.5 0h0m2.5 0h0m21 0h0m17.5 0h0m-112 .5h0m13.5 0h0m32.5 0h0m.5 0h0m3 0h0m4.5 0h0m8 0h0m4.5 0h0m5.5 0h0m1 0h0m1 0h0m6.5 0h0m2.5 0h0m36 0h0m-114.5 .5h0m10.5 0h0m3 0h0m17.5 0h0m8.5 0h0m8 0h0m33.5 0h0m12 0h0m-80.5 .5h0m30.5 0h0m10 0h0m.5 0h0m15 0h0m12 0h0m12 0h0m11 0h0m-94 .5h0m20 0h0m13 0h0m2 0h0m1.5 0h0m13 0h0m11 0h0m12 0h0m29.5 0h0m-115.5 .5h0m8.5 0h0m8 0h0m18.5 0h0m5.5 0h0m28 0h0m18 0h0m6.5 0h0m-80 .5h0m3 0h0m18 0h0m7 0h0m11 0h0m9.5 0h0m15 0h0m20 0h0m-86.5 .5h0m29.5 0h0m26 0h0m-32.5 .5h0m3.5 0h0m7.5 0h0m48 0h0m-38 .5h0m11.5 0h0m4 0h0m23.5 0h0m-108 .5h0m27 0h0m21.5 0h0m2.5 0h0m3.5 0h0m15.5 0h0m1 0h0m22 0h0m3.5 0h0m6.5 0h0m19 0h0m-98.5 .5h0m27.5 0h0m18 0h0m8.5 0h0m10 0h0m24.5 0h0m-99.5 .5h0m14 0h0m2.5 0h0m14 0h0m6 0h0m.5 0h0m34 0h0m18.5 0h0m10 0h0m24.5 0h0m-118 .5h0m32 0h0m36 0h0m-40 .5h0m2 0h0m7.5 0h0m5.5 0h0m11 0h0m4 0h0m-37 .5h0m.5 0h0m15 0h0m12.5 0h0m18 0h0m1 0h0m21 0h0m-84 .5h0m21 0h0m10.5 0h0m1 0h0m17.5 0h0m5 0h0m4.5 0h0m10 0h0m37.5 0h0m-115 .5h0m4.5 0h0m.5 0h0m23 0h0m4.5 0h0m44.5 0h0m-73.5 .5h0m24 0h0m1 0h0m6 0h0m3 0h0m11 0h0m7.5 0h0m5.5 0h0m3.5 0h0m1 0h0m11 0h0m19.5 0h0m13 0h0m-119.5 .5h0m11 0h0m3.5 0h0m20 0h0m16.5 0h0m14.5 0h0m6.5 0h0m2 0h0m6.5 0h0m-80.5 .5h0m.5 0h0m9.5 0h0m3.5 0h0m22.5 0h0m31.5 0h0m21 0h0m8 0h0m-69.5 .5h0m4.5 0h0m7 0h0m8 0h0m21 0h0m-67 .5h0m4 0h0m6.5 0h0m9.5 0h0m3.5 0h0m35.5 0h0m5.5 0h0m19.5 0h0m-59 .5h0m15 0h0m7.5 0h0m1.5 0h0m5.5 0h0m5.5 0h0m30.5 0h0m-86.5 .5h0m4.5 0h0m4 0h0m3.5 0h0m6.5 0h0m.5 0h0m5 0h0m.5 0h0m5 0h0m19 0h0m5.5 0h0m22.5 0h0m-71.5 .5h0m2 0h0m48.5 0h0m9.5 0h0m-72.5 .5h0m13 0h0m5 0h0m13.5 0h0m2.5 0h0m2 0h0m3.5 0h0m12.5 0h0m15 0h0m36.5 0h0m-89 .5h0m15 0h0m2 0h0m8.5 0h0m1 0h0m6.5 0h0m9.5 0h0m7 0h0m10 0h0m13.5 0h0m-73.5 .5h0m1.5 0h0m3 0h0m7.5 0h0m5 0h0m38.5 0h0m13 0h0m-57 .5h0m1.5 0h0m.5 0h0m23.5 0h0m.5 0h0m5 0h0m34 0h0m3.5 0h0m-81.5 .5h0m21 0h0m17.5 0h0m14.5 0h0m3 0h0m-53 .5h0m1.5 0h0m1.5 0h0m13 0h0m9 0h0m53.5 0h0m3.5 0h0m-89 .5h0m3.5 0h0m3.5 0h0m10 0h0m2.5 0h0m8 0h0m1.5 0h0m11 0h0m-27.5 .5h0m2.5 0h0m10.5 0h0m4 0h0m4 0h0m18.5 0h0m-65.5 .5h0m12 0h0m9.5 0h0m17.5 0h0m1 0h0m1.5 0h0m37 0h0m-74 .5h0m11 0h0m18.5 0h0m1 0h0m21.5 0h0m41.5 0h0m19.5 0h0m-46 .5h0m-61 .5h0m12.5 0h0m7 0h0m7 0h0m.5 0h0m-20 .5h0m14 0h0m25 0h0m-52 .5h0m14.5 0h0m26.5 0h0m12 0h0m15.5 0h0m-42 .5h0m1.5 0h0m46 0h0m-70.5 .5h0m.5 0h0m3.5 0h0m.5 0h0m10 0h0m4 .5h0m8.5 0h0m3 0h0m4 .5h0m14 0h0m1 0h0m18.5 0h0m23 0h0m-106.5 .5h0m90.5 0h0m-59 .5h0m8.5 0h0m53 0h0m-47 .5h0m7.5 0h0m21 0h0m-73.5 .5h0m32.5 0h0m6 0h0m8 0h0m24.5 0h0m-38.5 .5h0m17.5 0h0m-14 .5h0m12.5 0h0m8 0h0m-39 .5h0m8.5 0h0m2.5 0h0m2 0h0m7 0h0m66.5 0h0m-79.5 .5h0m12 0h0m4.5 0h0m2.5 0h0m18 0h0m22 0h0m-21.5 .5h0m6.5 0h0m-46 .5h0m7.5 0h0m8 0h0m6 0h0m48 0h0m-7 .5h0m-54.5 1h0m24 0h0m-23 .5h0m3 0h0m3 0h0m30 0h0m-25 .5h0m-44.5 .5h0m16.5 0h0m9.5 0h0m11.5 1h0m-13.5 .5h0m20.5 0h0m63 1.5h0m-59.5 .5h0m-32.5 .5h0m27.5 0h0m-18 1.5h0m5 0h0m9 0h0m5 1.5h0m-1.5 .5h0m-7.5 .5h0m-4 .5h0m22 0h0m-28 .5h0m-14.5 1h0m42 .5h0m-38.5 1h0m8.5 1.5h0m-21.5 .5h0m71 1h0m-36 1h0m-28 1h0m-1.5 8.5h0" stroke="#1a2a9e" stroke-width="1.45" stroke-linecap="round" fill="none"/>
<path d="m159.5 41h0m-8.5 .5h0m-19 3.5h0m-.5 .5h0m0 .5h0m36.5 0h0m7 .5h0m-76 .5h0m34 .5h0m20.5 0h0m-19.5 .5h0m56.5 0h0m-87.5 .5h0m52 0h0m-19.5 .5h0m19.5 0h0m23 0h0m20 0h0m-61.5 .5h0m.5 0h0m3 .5h0m9.5 0h0m-17 .5h0m6 0h0m8.5 0h0m21.5 0h0m-57.5 .5h0m4 0h0m2.5 0h0m18.5 0h0m.5 0h0m16.5 0h0m-50 .5h0m3.5 0h0m3.5 0h0m6.5 0h0m11 0h0m5 0h0m16.5 0h0m20 0h0m-71 .5h0m36 0h0m3.5 0h0m1.5 0h0m18.5 0h0m5 0h0m8.5 0h0m-107 .5h0m46 0h0m11 0h0m9.5 0h0m-17.5 .5h0m5.5 0h0m14 0h0m3 0h0m-4.5 .5h0m10 0h0m10.5 0h0m-26 .5h0m10 0h0m4.5 0h0m4 0h0m5.5 0h0m3 0h0m8 0h0m8 0h0m-61.5 .5h0m6 0h0m8.5 0h0m6.5 0h0m4 0h0m2.5 0h0m18.5 0h0m6 0h0m-33 .5h0m1 0h0m2 0h0m5 0h0m17.5 0h0m-80 .5h0m52.5 0h0m4 0h0m13.5 0h0m8.5 0h0m7.5 0h0m-55.5 .5h0m36 0h0m3 0h0m-45 .5h0m17.5 0h0m15 0h0m1.5 0h0m2 0h0m7.5 0h0m8 0h0m-41.5 .5h0m31.5 0h0m.5 0h0m3 0h0m-39 .5h0m1.5 0h0m8 0h0m4.5 0h0m22.5 0h0m-20 .5h0m15.5 0h0m10.5 0h0m3.5 0h0m16.5 0h0m-62 .5h0m4 0h0m3 0h0m3 0h0m8.5 0h0m5 0h0m18.5 0h0m2 0h0m3 0h0m19.5 0h0m-41.5 .5h0m-4 .5h0m1 0h0m2.5 0h0m-10 .5h0m2.5 0h0m4 0h0m2 0h0m26.5 0h0m-37.5 .5h0m9 0h0m-17.5 .5h0m6 0h0m.5 0h0m12 0h0m24 0h0m23 0h0m-84.5 .5h0m5 0h0m-1 .5h0m17 0h0m25 0h0m6 0h0m5 0h0m2 0h0m1.5 0h0m-41.5 .5h0m3.5 0h0m4 0h0m34 0h0m.5 0h0m4.5 0h0m-51.5 .5h0m19.5 0h0m-1.5 .5h0m10.5 .5h0m-37 .5h0m31.5 0h0m12.5 0h0m-16.5 1h0m16 0h0m27.5 .5h0m-82.5 1h0m21.5 0h0m10 0h0m37.5 .5h0m-26 1h0m34 21.5h0m22 0h0m-15 2h0m-44.5 3h0m50 2.5h0m-35.5 2.5h0m10.5 .5h0m-1 .5h0m-14.5 2h0m4.5 0h0m9 0h0m6 1h0m2.5 0h0m8.5 1h0m-8 .5h0m-48.5 .5h0m46 0h0m-55.5 .5h0m44 0h0m6 0h0m4.5 .5h0m2 0h0m-1.5 .5h0m6 0h0m14 .5h0m-30.5 1h0m9.5 0h0m21.5 0h0m3.5 .5h0m-74 .5h0m2 0h0m60.5 0h0m-1 .5h0m-73 .5h0m16.5 0h0m53.5 0h0m-66 .5h0m43.5 0h0m.5 0h0m-5 .5h0m49.5 0h0m-88.5 .5h0m71.5 0h0m-59.5 .5h0m32 0h0m-7 .5h0m1.5 0h0m4 0h0m15 0h0m-49.5 .5h0m45.5 0h0m9.5 0h0m5 0h0m-60 .5h0m18 0h0m29.5 0h0m17 0h0m-14 .5h0m1 0h0m-49.5 1h0m20.5 0h0m13.5 0h0m13 0h0m14.5 0h0m-23.5 .5h0m-60 .5h0m35.5 0h0m-30 .5h0m31.5 0h0m14 0h0m7 0h0m8.5 0h0m7 0h0m1.5 0h0m-7.5 .5h0m15 0h0m.5 0h0m-55.5 .5h0m29.5 0h0m16.5 0h0m-48.5 .5h0m5 0h0m24 0h0m3.5 0h0m10.5 0h0m-65.5 .5h0m41.5 0h0m43.5 0h0m-59 .5h0m35.5 0h0m10 0h0m4.5 0h0m.5 0h0m-29 .5h0m6.5 0h0m1.5 0h0m.5 0h0m-15.5 .5h0m5.5 0h0m24 0h0m-11.5 .5h0m-32 .5h0m43.5 0h0m-41 .5h0m19.5 0h0m4.5 0h0m5.5 0h0m7.5 0h0m1.5 0h0m12.5 0h0m-30 .5h0m10 0h0m-43.5 .5h0m17.5 0h0m23.5 0h0m-10.5 .5h0m31.5 0h0m-63 .5h0m12.5 0h0m4.5 0h0m19 0h0m7 0h0m-63 .5h0m62.5 0h0m3 0h0m1.5 0h0m-75.5 .5h0m58 0h0m2.5 0h0m3 0h0m7 0h0m1 0h0m13 0h0m-53.5 .5h0m32 0h0m20.5 0h0m-81 .5h0m.5 0h0m4.5 0h0m54.5 0h0m11.5 0h0m3 0h0m-71.5 .5h0m41.5 0h0m32 0h0m-72.5 .5h0m62.5 0h0m20.5 0h0m-33 .5h0m11.5 0h0m-34 .5h0m14 0h0m5.5 0h0m12 0h0m14 0h0m-43.5 .5h0m32.5 0h0m.5 0h0m-66 .5h0m72 0h0m-46 .5h0m2 0h0m3.5 0h0m13.5 0h0m16.5 0h0m7.5 0h0m-23 .5h0m11.5 0h0m2.5 0h0m15 0h0m-86.5 .5h0m9.5 0h0m26.5 0h0m24 0h0m3.5 0h0m10 0h0m-63 .5h0m.5 0h0m36.5 0h0m22 0h0m9 0h0m5 0h0m9 0h0m-32.5 .5h0m19 0h0m9.5 0h0m.5 0h0m-59.5 .5h0m4 0h0m1 0h0m37.5 0h0m7.5 0h0m-70.5 .5h0m50.5 0h0m29 0h0m5.5 0h0m-44 .5h0m17.5 0h0m-10.5 .5h0m11 0h0m11 0h0m25 0h0m-97 .5h0m1 0h0m54.5 0h0m8.5 0h0m13.5 0h0m-79.5 .5h0m2.5 0h0m22.5 0h0m40.5 0h0m-66 .5h0m1 0h0m1.5 .5h0m1 0h0m18.5 0h0m6.5 0h0m11 0h0m31.5 0h0m-46.5 .5h0m1.5 0h0m3.5 0h0m-4 .5h0m40 0h0m-72 .5h0m30 0h0m.5 0h0m2.5 0h0m2.5 0h0m18 0h0m27.5 0h0m2.5 0h0m-94 .5h0m12 0h0m80.5 0h0m11 0h0m-92 .5h0m.5 0h0m29 0h0m8 0h0m25 0h0m10 0h0m2 0h0m9.5 0h0m-83 .5h0m3.5 0h0m-8 .5h0m25 0h0m6.5 0h0m21.5 0h0m31.5 0h0m-76.5 .5h0m1 0h0m16 0h0m3.5 0h0m24 0h0m8.5 0h0m9 0h0m11.5 0h0m5 0h0m9 0h0m-89 .5h0m1.5 0h0m17.5 0h0m54.5 0h0m-71 .5h0m14 0h0m11.5 0h0m33.5 0h0m-47.5 .5h0m3.5 0h0m-18 .5h0m25 0h0m6 0h0m25 0h0m3 0h0m19 0h0m-88.5 .5h0m3.5 0h0m20 0h0m1 0h0m8 0h0m16.5 0h0m-48 .5h0m5.5 0h0m18 0h0m5.5 0h0m4.5 0h0m6.5 0h0m32.5 0h0m-63.5 .5h0m22.5 0h0m6 0h0m20.5 0h0m8 0h0m-64 .5h0m6.5 0h0m20.5 0h0m-34 .5h0m2 0h0m11 0h0m1 0h0m2.5 0h0m1 0h0m4.5 0h0m2 0h0m5 0h0m3 0h0m-34.5 .5h0m18 0h0m10 0h0m3 0h0m-17.5 .5h0m21 0h0m1 0h0m38 0h0m-67 .5h0m12.5 0h0m5 0h0m7 0h0m1.5 0h0m.5 0h0m-20.5 .5h0m10.5 0h0m8 0h0m19 0h0m-48.5 .5h0m5.5 0h0m18 0h0m3 0h0m2 0h0m8 0h0m2 0h0m-27.5 .5h0m16 0h0m3 0h0m-16 .5h0m10 0h0m.5 0h0m68.5 0h0m-86 .5h0m9 0h0m-19.5 .5h0m29 0h0m7 0h0m-23.5 .5h0m8 0h0m1.5 0h0m19.5 0h0m-39 .5h0m2.5 0h0m9 0h0m43.5 0h0m-51.5 .5h0m9 0h0m4 0h0m12.5 0h0m-17 .5h0m5 0h0m5.5 0h0m2.5 0h0m14 0h0m8.5 0h0m24 0h0m-69.5 .5h0m13.5 0h0m10.5 0h0m-20 .5h0m.5 0h0m7.5 0h0m4.5 0h0m47.5 0h0m.5 0h0m-50.5 .5h0m1.5 0h0m.5 0h0m.5 0h0m23.5 0h0m28.5 0h0m2 0h0m23 0h0m-71.5 .5h0m2 0h0m-27.5 .5h0m4.5 .5h0m-1.5 .5h0m22 0h0m10.5 0h0m1 0h0m-39 .5h0m26 0h0m7.5 0h0m3.5 .5h0m2 0h0m-28 .5h0m23 0h0m5.5 0h0m-21 .5h0m6 0h0m-6.5 .5h0m-3 .5h0m-21 .5h0m11.5 0h0m21.5 .5h0m66 .5h0m-84.5 .5h0m4.5 0h0m-3.5 .5h0m7 0h0m.5 .5h0m4.5 0h0m27 .5h0m-33 3h0m3 0h0m-31.5 .5h0m16.5 0h0m7.5 0h0m15 .5h0m-34 1h0m23.5 0h0m-28 3.5h0m7.5 4.5h0m-11.5 4h0" stroke="#3aa6dc" stroke-width="1.4" stroke-linecap="round" fill="none"/>
<g transform="translate(83.7 129.9) rotate(-38)" filter="url(#fb)">
<ellipse rx="28" ry="7.5" fill="#2236b4" opacity="0.8"/>
<ellipse rx="23.52" ry="6.3" fill="#2a6fd6" opacity="1"/>
<ellipse rx="20.16" ry="5.4" fill="#2fb3d8" opacity="1"/>
<ellipse rx="16.8" ry="4.5" fill="#3fb45a" opacity="1"/>
<ellipse rx="11.76" ry="3.15" fill="#9fce3a" opacity="1"/>
<ellipse rx="8.4" ry="2.25" fill="#f0c020" opacity="1"/>
<ellipse rx="5.6" ry="1.5" fill="#f07a1c" opacity="1"/>
<ellipse rx="3.36" ry="0.9" fill="#e5301c" opacity="1"/>
</g>
</g>
<line x1="97.5" y1="0" x2="97.5" y2="219.5" stroke="#000" stroke-width="1.7"/>
<line x1="0" y1="113.1" x2="218.9" y2="113.1" stroke="#000" stroke-width="1.7"/>
<rect x="0" y="0" width="218.9" height="219.5" fill="none" stroke="#2a2a2a" stroke-width="1.2"/>
<g font-size="9.0" fill="#222">
<text x="3.4" y="18">Q1</text><text x="3.4" y="31.8">2.95</text>
<text x="200.4" y="18" text-anchor="end">Q2</text><text x="200.4" y="31.8" text-anchor="end">15.9</text>
<text x="3.4" y="194.3">Q4</text><text x="3.4" y="208.3">62.4</text>
<text x="200.4" y="194.3" text-anchor="end">Q3</text><text x="200.4" y="208.3" text-anchor="end">18.7</text>
</g>
</g>
<path d="M1161.45 317V254.75H1177.65V317" fill="none" stroke="#b01e28" stroke-width="2.7"/>
<path d="M1161.45 317V301.55H1177.65V317" fill="none" stroke="#1f2c86" stroke-width="2.7"/>
<path d="M1169.55 254.4V243.6M1164.55 244.4H1174.55" fill="none" stroke="#111" stroke-width="1.7"/>
<path d="M1169.55 301.2V293.2M1164.55 294H1174.55" fill="none" stroke="#111" stroke-width="1.7"/>
<path d="M1191.25 317V235.65H1207.45V317" fill="none" stroke="#b01e28" stroke-width="2.7"/>
<path d="M1191.25 317V295.05H1207.45V317" fill="none" stroke="#1f2c86" stroke-width="2.7"/>
<path d="M1199.35 235.3V228M1194.35 228.8H1204.35" fill="none" stroke="#111" stroke-width="1.7"/>
<path d="M1199.35 294.7V290.4M1194.35 291.2H1204.35" fill="none" stroke="#111" stroke-width="1.7"/>
<path d="M1221.05 317V233.45H1237.05V317" fill="none" stroke="#b01e28" stroke-width="2.7"/>
<path d="M1221.05 317V292.45H1237.05V317" fill="none" stroke="#1f2c86" stroke-width="2.7"/>
<path d="M1229.05 233.1V225.8M1224.05 226.6H1234.05" fill="none" stroke="#111" stroke-width="1.7"/>
<path d="M1229.05 292.1V288.3M1224.05 289.1H1234.05" fill="none" stroke="#111" stroke-width="1.7"/>
<path d="M1251.05 317V154.25H1266.85V317" fill="none" stroke="#b01e28" stroke-width="2.7"/>
<path d="M1251.05 317V261.35H1266.85V317" fill="none" stroke="#1f2c86" stroke-width="2.7"/>
<path d="M1258.95 153.9V142.4M1253.95 143.2H1263.95" fill="none" stroke="#111" stroke-width="1.7"/>
<path d="M1258.95 261V238.2M1253.95 239H1263.95" fill="none" stroke="#111" stroke-width="1.7"/>
<path d="M1149.6 122.1V317H1279.1" fill="none" stroke="#000" stroke-width="1.6"/>
<path d="M1142 122.9H1149.6M1142 171.4H1149.6M1142 219.9H1149.6M1142 268.4H1149.6M1142 317H1149.6M1169.55 317V321M1199.35 317V321M1229.05 317V321M1258.95 317V321" fill="none" stroke="#000" stroke-width="1.5"/>
<text x="1139.5" y="128.12" font-size="14.5" text-anchor="end" font-weight="bold" style="font-weight:600">16</text>
<text x="1139.5" y="176.62" font-size="14.5" text-anchor="end" font-weight="bold" style="font-weight:600">12</text>
<text x="1139.5" y="225.12" font-size="14.5" text-anchor="end" font-weight="bold" style="font-weight:600">8</text>
<text x="1139.5" y="273.62" font-size="14.5" text-anchor="end" font-weight="bold" style="font-weight:600">4</text>
<text x="1139.5" y="322.22" font-size="14.5" text-anchor="end" font-weight="bold" style="font-weight:600">0</text>
<text x="1168.1" y="335.2" font-size="14.5" text-anchor="middle">0</text>
<text x="1198.2" y="335.2" font-size="14.5" text-anchor="middle">0.5</text>
<text x="1228" y="335.2" font-size="14.5" text-anchor="middle">1</text>
<text x="1259.1" y="335.2" font-size="14.5" text-anchor="middle">2</text>
<text x="1121.3" y="335.2" font-size="14.5" textLength="21.4" lengthAdjust="spacingAndGlyphs">nM</text>
<text font-size="15.22" font-weight="bold" transform="translate(1113.5 276.2) rotate(-90)">Percentage<tspan dx="-6.39">（</tspan>%<tspan dx="-0.76">）</tspan></text>
<rect x="1307.3" y="132.6" width="18" height="7.3" fill="#fff" stroke="#b01e28" stroke-width="2"/>
<text x="1338.5" y="141.3" font-size="15.7">Annexin V</text>
<rect x="1307.3" y="158.7" width="18" height="7.1" fill="#fff" stroke="#1f2c86" stroke-width="2"/>
<text x="1338.5" y="167.5" font-size="15.7">Annexin V+PI</text>
<text x="1199.3" y="231.86" font-size="24" text-anchor="middle" stroke="#000" stroke-width="0.15">*</text>
<text x="1229" y="230.86" font-size="24" text-anchor="middle" stroke="#000" stroke-width="0.15">*</text>
<text x="1256.7" y="142.86" font-size="24" text-anchor="middle" stroke="#000" stroke-width="0.15">***</text>
<path d="M1159.65 561.8V512.35H1175.95V561.8" fill="none" stroke="#b01e28" stroke-width="2.7"/>
<path d="M1159.65 561.8V534.15H1175.95V561.8" fill="none" stroke="#1f2c86" stroke-width="2.7"/>
<path d="M1167.8 512V509.3M1162.8 510.1H1172.8" fill="none" stroke="#111" stroke-width="1.7"/>
<path d="M1167.8 533.8V531M1162.8 531.8H1172.8" fill="none" stroke="#111" stroke-width="1.7"/>
<path d="M1189.05 561.8V508.95H1205.35V561.8" fill="none" stroke="#b01e28" stroke-width="2.7"/>
<path d="M1189.05 561.8V530.85H1205.35V561.8" fill="none" stroke="#1f2c86" stroke-width="2.7"/>
<path d="M1197.2 508.6V504.7M1192.2 505.5H1202.2" fill="none" stroke="#111" stroke-width="1.7"/>
<path d="M1197.2 530.5V526.7M1192.2 527.5H1202.2" fill="none" stroke="#111" stroke-width="1.7"/>
<path d="M1218.45 561.8V496.95H1234.45V561.8" fill="none" stroke="#b01e28" stroke-width="2.7"/>
<path d="M1218.45 561.8V521.55H1234.45V561.8" fill="none" stroke="#1f2c86" stroke-width="2.7"/>
<path d="M1226.45 496.6V493.9M1221.45 494.7H1231.45" fill="none" stroke="#111" stroke-width="1.7"/>
<path d="M1226.45 521.2V517.1M1221.45 517.9H1231.45" fill="none" stroke="#111" stroke-width="1.7"/>
<path d="M1247.85 561.8V408.55H1264.05V561.8" fill="none" stroke="#b01e28" stroke-width="2.7"/>
<path d="M1247.85 561.8V452.15H1264.05V561.8" fill="none" stroke="#1f2c86" stroke-width="2.7"/>
<path d="M1255.95 408.2V404.2M1250.95 405H1260.95" fill="none" stroke="#111" stroke-width="1.7"/>
<path d="M1255.95 451.8V446.2M1250.95 447H1260.95" fill="none" stroke="#111" stroke-width="1.7"/>
<path d="M1148.6 370.3V561.8H1276.5" fill="none" stroke="#000" stroke-width="1.6"/>
<path d="M1141 371.1H1148.6M1141 409.2H1148.6M1141 447.3H1148.6M1141 485.6H1148.6M1141 523.7H1148.6M1141 561.8H1148.6M1167.8 561.8V565.8M1197.2 561.8V565.8M1226.45 561.8V565.8M1255.95 561.8V565.8" fill="none" stroke="#000" stroke-width="1.5"/>
<text x="1138.5" y="376.32" font-size="14.5" text-anchor="end" font-weight="bold" style="font-weight:600">35</text>
<text x="1138.5" y="414.42" font-size="14.5" text-anchor="end" font-weight="bold" style="font-weight:600">28</text>
<text x="1138.5" y="452.52" font-size="14.5" text-anchor="end" font-weight="bold" style="font-weight:600">21</text>
<text x="1138.5" y="490.82" font-size="14.5" text-anchor="end" font-weight="bold" style="font-weight:600">14</text>
<text x="1138.5" y="528.92" font-size="14.5" text-anchor="end" font-weight="bold" style="font-weight:600">7</text>
<text x="1138.5" y="567.02" font-size="14.5" text-anchor="end" font-weight="bold" style="font-weight:600">0</text>
<text x="1167" y="580.3" font-size="14.5" text-anchor="middle" font-weight="bold">0</text>
<text x="1196.9" y="580.3" font-size="14.5" text-anchor="middle" font-weight="bold">0.5</text>
<text x="1226.2" y="580.3" font-size="14.5" text-anchor="middle" font-weight="bold">1</text>
<text x="1255.6" y="580.3" font-size="14.5" text-anchor="middle" font-weight="bold">2</text>
<text x="1135.5" y="580.3" font-size="14.5" font-weight="bold" textLength="18.5" lengthAdjust="spacingAndGlyphs">nM</text>
<text font-size="14.95" font-weight="bold" transform="translate(1112.2 522) rotate(-90)">Percentage<tspan dx="-6.28">（</tspan>%<tspan dx="-0.75">）</tspan></text>
<rect x="1318.7" y="380" width="18" height="7.7" fill="#fff" stroke="#b01e28" stroke-width="2"/>
<text x="1346.6" y="389.2" font-size="15.7">Annexin V</text>
<rect x="1318.7" y="405.4" width="18" height="7.6" fill="#fff" stroke="#1f2c86" stroke-width="2"/>
<text x="1346.6" y="414.6" font-size="15.7">Annexin V+PI</text>
<text x="1197" y="496.2" font-size="16.5" text-anchor="middle">ns</text>
<text x="1227.3" y="492.36" font-size="24" text-anchor="middle" stroke="#000" stroke-width="0.15">***</text>
<text x="1255.8" y="399.76" font-size="24" text-anchor="middle" stroke="#000" stroke-width="0.15">***</text>
<path d="M1165.75 833.5V784.75H1182.65V833.5" fill="none" stroke="#b01e28" stroke-width="2.7"/>
<path d="M1165.75 833.5V794.85H1182.65V833.5" fill="none" stroke="#1f2c86" stroke-width="2.7"/>
<path d="M1174.2 784.4V779.1M1169.2 779.9H1179.2" fill="none" stroke="#111" stroke-width="1.7"/>
<path d="M1174.2 794.5V787.8M1169.2 788.6H1179.2" fill="none" stroke="#111" stroke-width="1.7"/>
<path d="M1197.15 833.5V762.15H1214.25V833.5" fill="none" stroke="#b01e28" stroke-width="2.7"/>
<path d="M1197.15 833.5V794.85H1214.25V833.5" fill="none" stroke="#1f2c86" stroke-width="2.7"/>
<path d="M1205.7 761.8V756.7M1200.7 757.5H1210.7" fill="none" stroke="#111" stroke-width="1.7"/>
<path d="M1205.7 794.5V789.1M1200.7 789.9H1210.7" fill="none" stroke="#111" stroke-width="1.7"/>
<path d="M1228.25 833.5V749.15H1245.35V833.5" fill="none" stroke="#b01e28" stroke-width="2.7"/>
<path d="M1228.25 833.5V775.85H1245.35V833.5" fill="none" stroke="#1f2c86" stroke-width="2.7"/>
<path d="M1236.8 748.8V743.8M1231.8 744.6H1241.8" fill="none" stroke="#111" stroke-width="1.7"/>
<path d="M1236.8 775.5V768.9M1231.8 769.7H1241.8" fill="none" stroke="#111" stroke-width="1.7"/>
<path d="M1259.85 833.5V666.15H1276.65V833.5" fill="none" stroke="#b01e28" stroke-width="2.7"/>
<path d="M1259.85 833.5V758.45H1276.65V833.5" fill="none" stroke="#1f2c86" stroke-width="2.7"/>
<path d="M1268.25 665.8V661.4M1263.25 662.2H1273.25" fill="none" stroke="#111" stroke-width="1.7"/>
<path d="M1268.25 758.1V750.6M1263.25 751.4H1273.25" fill="none" stroke="#111" stroke-width="1.7"/>
<path d="M1154 629.9V833.5H1289.6" fill="none" stroke="#000" stroke-width="1.6"/>
<path d="M1145.5 630.7H1154M1145.5 681.4H1154M1145.5 732.1H1154M1145.5 782.8H1154M1145.5 833.5H1154M1174.2 833.5V837.5M1205.7 833.5V837.5M1236.8 833.5V837.5M1268.25 833.5V837.5" fill="none" stroke="#000" stroke-width="1.5"/>
<text x="1143" y="636.17" font-size="15.2" text-anchor="end" font-weight="bold" style="font-weight:600">40</text>
<text x="1143" y="686.87" font-size="15.2" text-anchor="end" font-weight="bold" style="font-weight:600">30</text>
<text x="1143" y="737.57" font-size="15.2" text-anchor="end" font-weight="bold" style="font-weight:600">20</text>
<text x="1143" y="788.27" font-size="15.2" text-anchor="end" font-weight="bold" style="font-weight:600">10</text>
<text x="1143" y="838.97" font-size="15.2" text-anchor="end" font-weight="bold" style="font-weight:600">0</text>
<text x="1174" y="852.8" font-size="15.2" text-anchor="middle" font-weight="bold">0</text>
<text x="1205.6" y="852.8" font-size="15.2" text-anchor="middle" font-weight="bold">0.5</text>
<text x="1236.7" y="852.8" font-size="15.2" text-anchor="middle" font-weight="bold">1</text>
<text x="1268" y="852.8" font-size="15.2" text-anchor="middle" font-weight="bold">2</text>
<text font-size="15.84" font-weight="bold" transform="translate(1115.2 790.6) rotate(-90)">Percentage<tspan dx="-6.65">（</tspan>%<tspan dx="-0.79">）</tspan></text>
<rect x="1337.2" y="657.4" width="16.4" height="7.5" fill="#fff" stroke="#b01e28" stroke-width="2"/>
<text x="1363.4" y="665.9" font-size="15.7">Annexin V</text>
<rect x="1337.2" y="682.2" width="16.4" height="7.3" fill="#fff" stroke="#1f2c86" stroke-width="2"/>
<text x="1363.4" y="690.5" font-size="15.7">Annexin V+PI</text>
<text x="1205.8" y="754.86" font-size="24" text-anchor="middle" stroke="#000" stroke-width="0.15">**</text>
<text x="1240.2" y="741.86" font-size="24" text-anchor="middle" stroke="#000" stroke-width="0.15">***</text>
<text x="1268.9" y="661.36" font-size="24" text-anchor="middle" stroke="#000" stroke-width="0.15">***</text>
<path d="M1580.55 299.2V275.05H1603.85V299.2" fill="none" stroke="#a11f2a" stroke-width="2.9"/>
<path d="M1592.2 261.4V284.7M1584.7 261.4H1599.7M1584.7 284.7H1599.7" fill="none" stroke="#a11f2a" stroke-width="1.6"/>
<circle cx="1591.9" cy="260.5" r="3.6" fill="#a11f2a"/>
<circle cx="1585.5" cy="269.2" r="3.6" fill="#a11f2a"/>
<circle cx="1599.2" cy="275.1" r="3.6" fill="#a11f2a"/>
<circle cx="1591.9" cy="288.2" r="3.6" fill="#a11f2a"/>
<path d="M1621.35 299.2V220.65H1644.05V299.2" fill="none" stroke="#16643a" stroke-width="2.9"/>
<path d="M1632.7 197.4V241M1625.2 197.4H1640.2M1625.2 241H1640.2" fill="none" stroke="#16643a" stroke-width="1.6"/>
<rect x="1629.1" y="191.4" width="7.2" height="7.2" fill="#16643a"/>
<rect x="1629.1" y="203.1" width="7.2" height="7.2" fill="#16643a"/>
<rect x="1621.8" y="228.7" width="7.2" height="7.2" fill="#16643a"/>
<rect x="1636.4" y="238" width="7.2" height="7.2" fill="#16643a"/>
<path d="M1661.75 299.2V198.85H1685.05V299.2" fill="none" stroke="#1e2a6e" stroke-width="2.9"/>
<path d="M1673.4 181.9V212.5M1665.9 181.9H1680.9M1665.9 212.5H1680.9" fill="none" stroke="#1e2a6e" stroke-width="1.6"/>
<path d="M1667.9 181.44L1671.68 188.28L1664.12 188.28Z" fill="#1e2a6e"/>
<path d="M1680.1 182.34L1683.88 189.18L1676.32 189.18Z" fill="#1e2a6e"/>
<path d="M1673.4 196.84L1677.18 203.68L1669.62 203.68Z" fill="#1e2a6e"/>
<path d="M1673.4 212.94L1677.18 219.78L1669.62 219.78Z" fill="#1e2a6e"/>
<path d="M1702.55 299.2V133.85H1725.55V299.2" fill="none" stroke="#c39ad0" stroke-width="2.9"/>
<path d="M1714.05 92.6V170.3M1706.55 92.6H1721.55M1706.55 170.3H1721.55" fill="none" stroke="#c39ad0" stroke-width="1.6"/>
<path d="M1713.9 89.86L1717.68 83.02L1710.12 83.02Z" fill="#c39ad0"/>
<path d="M1713.9 120.96L1717.68 114.12L1710.12 114.12Z" fill="#c39ad0"/>
<path d="M1713.9 146.56L1717.68 139.72L1710.12 139.72Z" fill="#c39ad0"/>
<path d="M1713.9 181.56L1717.68 174.72L1710.12 174.72Z" fill="#c39ad0"/>
<path d="M1565.2 70.4V299.2H1742.1M1555.6 299.2H1565.2" fill="none" stroke="#000" stroke-width="1.8"/>
<path d="M1555.6 71.3H1565.2M1555.6 147.6H1565.2M1555.6 223.5H1565.2" fill="none" stroke="#000" stroke-width="1.8"/>
<text x="1553.1" y="77.78" font-size="18" text-anchor="end" font-weight="bold">15</text>
<text x="1553.1" y="154.08" font-size="18" text-anchor="end" font-weight="bold">10</text>
<text x="1553.1" y="229.98" font-size="18" text-anchor="end" font-weight="bold">5</text>
<text x="1553.1" y="305.68" font-size="18" text-anchor="end" font-weight="bold">0</text>
<text x="1587.9" y="91.1" font-size="30.4" textLength="88.5" lengthAdjust="spacingAndGlyphs">A2780</text>
<text font-size="18.2" text-anchor="middle" font-weight="bold" textLength="125.5" lengthAdjust="spacingAndGlyphs" transform="translate(1522.6 184.8) rotate(-90)">LDH release %</text>
<rect x="1770.3" y="82.9" width="20.5" height="8.3" fill="#fff" stroke="#a11f2a" stroke-width="2.8"/>
<text x="1806.8" y="92.6" font-size="18.5">DMSO</text>
<rect x="1770.3" y="113.4" width="20.5" height="8.3" fill="#fff" stroke="#16643a" stroke-width="2.8"/>
<text x="1806.8" y="123.1" font-size="18.5">0.5nM</text>
<rect x="1770.3" y="143.2" width="20.5" height="8.2" fill="#fff" stroke="#1e2a6e" stroke-width="2.8"/>
<text x="1806.8" y="152.8" font-size="18.5">1nM</text>
<rect x="1770.3" y="174.6" width="20.5" height="8.3" fill="#fff" stroke="#c39ad0" stroke-width="2.8"/>
<text x="1806.8" y="184.3" font-size="18.5">2nM</text>
<text x="1633" y="186.18" font-size="28.5" text-anchor="middle" stroke="#000" stroke-width="0.15">**</text>
<text x="1676.4" y="176.18" font-size="28.5" text-anchor="middle" stroke="#000" stroke-width="0.15">***</text>
<text x="1714.2" y="81.68" font-size="28.5" text-anchor="middle" stroke="#000" stroke-width="0.15">***</text>
<path d="M1573.85 563.4V509.55H1593.45V563.4" fill="none" stroke="#a11f2a" stroke-width="2.9"/>
<circle cx="1576.5" cy="507.5" r="3.6" fill="#a11f2a"/>
<circle cx="1582" cy="508" r="3.6" fill="#a11f2a"/>
<circle cx="1587" cy="508.5" r="3.6" fill="#a11f2a"/>
<circle cx="1592" cy="509.3" r="3.6" fill="#a11f2a"/>
<path d="M1609.65 563.4V501.75H1629.25V563.4" fill="none" stroke="#16643a" stroke-width="2.9"/>
<rect x="1608.4" y="494.9" width="7.2" height="7.2" fill="#16643a"/>
<rect x="1613.9" y="496.4" width="7.2" height="7.2" fill="#16643a"/>
<rect x="1619.4" y="497.2" width="7.2" height="7.2" fill="#16643a"/>
<rect x="1624.4" y="498.2" width="7.2" height="7.2" fill="#16643a"/>
<path d="M1645.25 563.4V470.85H1665.05V563.4" fill="none" stroke="#1e2a6e" stroke-width="2.9"/>
<path d="M1648 462.84L1651.78 469.68L1644.22 469.68Z" fill="#1e2a6e"/>
<path d="M1653.5 464.04L1657.28 470.88L1649.72 470.88Z" fill="#1e2a6e"/>
<path d="M1659 465.54L1662.78 472.38L1655.22 472.38Z" fill="#1e2a6e"/>
<path d="M1664 468.04L1667.78 474.88L1660.22 474.88Z" fill="#1e2a6e"/>
<path d="M1681.05 563.4V382.95H1700.55V563.4" fill="none" stroke="#c39ad0" stroke-width="2.9"/>
<path d="M1683 380.46L1686.78 373.62L1679.22 373.62Z" fill="#c39ad0"/>
<path d="M1688.5 382.96L1692.28 376.12L1684.72 376.12Z" fill="#c39ad0"/>
<path d="M1694 384.96L1697.78 378.12L1690.22 378.12Z" fill="#c39ad0"/>
<path d="M1699 388.96L1702.78 382.12L1695.22 382.12Z" fill="#c39ad0"/>
<path d="M1559.9 329.7V563.4H1715.1M1550.5 563.4H1559.9" fill="none" stroke="#000" stroke-width="1.8"/>
<path d="M1550.3 330.6H1559.9M1550.3 389.1H1559.9M1550.3 447.3H1559.9M1550.3 505.5H1559.9" fill="none" stroke="#000" stroke-width="1.8"/>
<text x="1547.8" y="337.08" font-size="18" text-anchor="end" font-weight="bold">40</text>
<text x="1547.8" y="395.58" font-size="18" text-anchor="end" font-weight="bold">30</text>
<text x="1547.8" y="453.78" font-size="18" text-anchor="end" font-weight="bold">20</text>
<text x="1547.8" y="511.98" font-size="18" text-anchor="end" font-weight="bold">10</text>
<text x="1547.8" y="569.88" font-size="18" text-anchor="end" font-weight="bold">0</text>
<text x="1567.2" y="348.9" font-size="30.4" textLength="125.2" lengthAdjust="spacingAndGlyphs">OVCAR8</text>
<text font-size="18.2" text-anchor="middle" font-weight="bold" textLength="127.5" lengthAdjust="spacingAndGlyphs" transform="translate(1516.8 446.6) rotate(-90)">LDH release %</text>
<rect x="1768.9" y="342.2" width="21.3" height="8.8" fill="#fff" stroke="#a11f2a" stroke-width="2.8"/>
<text x="1806.2" y="352.4" font-size="18.5">DMSO</text>
<rect x="1768.9" y="373.6" width="21.3" height="8.5" fill="#fff" stroke="#16643a" stroke-width="2.8"/>
<text x="1806.2" y="383.8" font-size="18.5">0.5nM</text>
<rect x="1768.9" y="404.7" width="21.3" height="8.9" fill="#fff" stroke="#1e2a6e" stroke-width="2.8"/>
<text x="1806.2" y="415" font-size="18.5">1nM</text>
<rect x="1768.9" y="435.9" width="21.3" height="8.2" fill="#fff" stroke="#c39ad0" stroke-width="2.8"/>
<text x="1806.2" y="446.1" font-size="18.5">2nM</text>
<text x="1621.3" y="497.68" font-size="28.5" text-anchor="middle" stroke="#000" stroke-width="0.15">***</text>
<text x="1654.8" y="456.68" font-size="28.5" text-anchor="middle" stroke="#000" stroke-width="0.15">***</text>
<text x="1692.7" y="371.68" font-size="28.5" text-anchor="middle" stroke="#000" stroke-width="0.15">***</text>
<path d="M1575.95 829.6V749.05H1596.65V829.6" fill="none" stroke="#a11f2a" stroke-width="2.9"/>
<path d="M1586.3 742V753M1578.8 742H1593.8M1578.8 753H1593.8" fill="none" stroke="#a11f2a" stroke-width="1.6"/>
<circle cx="1580" cy="742.5" r="3.6" fill="#a11f2a"/>
<circle cx="1586" cy="745" r="3.6" fill="#a11f2a"/>
<circle cx="1592" cy="744.5" r="3.6" fill="#a11f2a"/>
<circle cx="1592.5" cy="755.5" r="3.6" fill="#a11f2a"/>
<path d="M1612.35 829.6V739.65H1632.15V829.6" fill="none" stroke="#17596b" stroke-width="2.9"/>
<rect x="1610.9" y="729.9" width="7.2" height="7.2" fill="#17596b"/>
<rect x="1617.4" y="733.4" width="7.2" height="7.2" fill="#17596b"/>
<rect x="1622.9" y="734.2" width="7.2" height="7.2" fill="#17596b"/>
<rect x="1627.4" y="735.2" width="7.2" height="7.2" fill="#17596b"/>
<path d="M1648.15 829.6V714.05H1668.55V829.6" fill="none" stroke="#1e2a6e" stroke-width="2.9"/>
<path d="M1651 704.54L1654.78 711.38L1647.22 711.38Z" fill="#1e2a6e"/>
<path d="M1657 707.54L1660.78 714.38L1653.22 714.38Z" fill="#1e2a6e"/>
<path d="M1662.5 709.04L1666.28 715.88L1658.72 715.88Z" fill="#1e2a6e"/>
<path d="M1667.5 710.54L1671.28 717.38L1663.72 717.38Z" fill="#1e2a6e"/>
<path d="M1684.55 829.6V654.45H1704.35V829.6" fill="none" stroke="#c39ad0" stroke-width="2.9"/>
<path d="M1694.45 645.5V656.5M1686.95 645.5H1701.95M1686.95 656.5H1701.95" fill="none" stroke="#c39ad0" stroke-width="1.6"/>
<path d="M1686 654.46L1689.78 647.62L1682.22 647.62Z" fill="#c39ad0"/>
<path d="M1694.5 644.96L1698.28 638.12L1690.72 638.12Z" fill="#c39ad0"/>
<path d="M1694.5 658.96L1698.28 652.12L1690.72 652.12Z" fill="#c39ad0"/>
<path d="M1703 658.46L1706.78 651.62L1699.22 651.62Z" fill="#c39ad0"/>
<path d="M1562.3 594.7V829.6H1719.4M1552.5 829.6H1562.3" fill="none" stroke="#000" stroke-width="1.8"/>
<path d="M1552.7 595.6H1562.3M1552.7 654.1H1562.3M1552.7 712.6H1562.3M1552.7 771.1H1562.3" fill="none" stroke="#000" stroke-width="1.8"/>
<text x="1550.2" y="602.08" font-size="18" text-anchor="end" font-weight="bold">20</text>
<text x="1550.2" y="660.58" font-size="18" text-anchor="end" font-weight="bold">15</text>
<text x="1550.2" y="719.08" font-size="18" text-anchor="end" font-weight="bold">10</text>
<text x="1550.2" y="777.58" font-size="18" text-anchor="end" font-weight="bold">5</text>
<text x="1550.2" y="836.08" font-size="18" text-anchor="end" font-weight="bold">0</text>
<text x="1589" y="631.1" font-size="31" textLength="46" lengthAdjust="spacingAndGlyphs">ID8</text>
<text font-size="18.2" text-anchor="middle" font-weight="bold" textLength="129.5" lengthAdjust="spacingAndGlyphs" transform="translate(1518.3 711.9) rotate(-90)">LDH release %</text>
<rect x="1773.8" y="607.2" width="21.1" height="8" fill="#fff" stroke="#a11f2a" stroke-width="2.8"/>
<text x="1811.7" y="616.6" font-size="18.5">DMSO</text>
<rect x="1773.8" y="638.4" width="21.1" height="8.2" fill="#fff" stroke="#17596b" stroke-width="2.8"/>
<text x="1811.7" y="648" font-size="18.5">0.5nM</text>
<rect x="1773.8" y="670.4" width="21.1" height="7.9" fill="#fff" stroke="#1e2a6e" stroke-width="2.8"/>
<text x="1811.7" y="679.7" font-size="18.5">1nM</text>
<rect x="1773.8" y="701.8" width="21.1" height="8" fill="#fff" stroke="#c39ad0" stroke-width="2.8"/>
<text x="1811.7" y="711.2" font-size="18.5">2nM</text>
<text x="1623.4" y="732.68" font-size="28.5" text-anchor="middle" stroke="#000" stroke-width="0.15">*</text>
<text x="1660.6" y="701.68" font-size="28.5" text-anchor="middle" stroke="#000" stroke-width="0.15">***</text>
<text x="1699.1" y="634.68" font-size="28.5" text-anchor="middle" stroke="#000" stroke-width="0.15">***</text>
<g clip-path="url(#c11)">
<rect x="68.8" y="958.5" width="278" height="87.1" fill="url(#g1)"/>
<rect x="68.8" y="1028" width="278" height="22" fill="#aaa" opacity="0.3" filter="url(#b6)"/>
<rect x="68.8" y="952" width="278" height="22" fill="#222" opacity="0.3" filter="url(#b6)"/>
<rect x="68.8" y="958.5" width="278" height="87.1" filter="url(#nz)" opacity="0.2"/>
<rect x="97.54" y="994.4" width="42.44" height="6.53" rx="9.34" ry="3.26" fill="#000" opacity="0.32" filter="url(#b2)"/>
<rect x="97.54" y="1009.6" width="42.44" height="5.88" rx="9.34" ry="2.94" fill="#000" opacity="0.38" filter="url(#b2)"/>
<rect x="161.2" y="994.4" width="40.81" height="6.53" rx="8.98" ry="3.26" fill="#000" opacity="0.2" filter="url(#b2)"/>
<rect x="161.2" y="1009.6" width="40.81" height="5.88" rx="8.98" ry="2.94" fill="#000" opacity="0.33" filter="url(#b2)"/>
<rect x="224.85" y="994.4" width="44.07" height="6.53" rx="9.7" ry="3.26" fill="#000" opacity="0.12" filter="url(#b2)"/>
<rect x="224.85" y="1009.6" width="44.07" height="5.88" rx="9.7" ry="2.94" fill="#000" opacity="0.45" filter="url(#b2)"/>
<rect x="288.51" y="994.4" width="45.7" height="6.53" rx="10.05" ry="3.26" fill="#000" opacity="0.22" filter="url(#b2)"/>
<rect x="288.51" y="1008.62" width="45.7" height="7.83" rx="10.05" ry="3.92" fill="#000" opacity="0.95" filter="url(#b2)"/>
</g>
<g clip-path="url(#c12)">
<rect x="68.8" y="1060.5" width="278" height="151.1" fill="url(#g2)"/>
<rect x="63.8" y="1060" width="12" height="152" fill="#444" opacity="0.35" filter="url(#b4)"/>
<rect x="340.8" y="1060" width="12" height="152" fill="#444" opacity="0.3" filter="url(#b4)"/>
<rect x="68.8" y="1072" width="278" height="30" fill="#333" opacity="0.25" filter="url(#b8)"/>
<rect x="68.8" y="1060.5" width="278" height="151.1" filter="url(#nz)" opacity="0.13"/>
<rect x="86.12" y="1074.86" width="50.6" height="22.85" rx="11.43" ry="11.43" fill="#303232" opacity="1" filter="url(#b2)"/>
<rect x="144.06" y="1074.86" width="56.31" height="22.03" rx="12.39" ry="11.02" fill="#303232" opacity="1" filter="url(#b2)"/>
<rect x="205.27" y="1074.05" width="61.21" height="22.85" rx="13.47" ry="11.43" fill="#303232" opacity="1" filter="url(#b2)"/>
<rect x="273" y="1076.5" width="62.02" height="20.4" rx="13.65" ry="10.2" fill="#303232" opacity="1" filter="url(#b2)"/>
<rect x="81.22" y="1160.55" width="50.6" height="9.14" rx="11.13" ry="4.57" fill="#000" opacity="0.3" filter="url(#b3)"/>
<rect x="138.35" y="1159.57" width="57.13" height="9.14" rx="12.57" ry="4.57" fill="#000" opacity="0.26" filter="url(#b3)"/>
<rect x="206.9" y="1160.55" width="48.97" height="9.14" rx="10.77" ry="4.57" fill="#000" opacity="0.36" filter="url(#b3)"/>
<rect x="275.45" y="1163.33" width="53.86" height="9.14" rx="11.85" ry="4.57" fill="#000" opacity="0.55" filter="url(#b3)"/>
</g>
<g clip-path="url(#c13)">
<rect x="67" y="1222.7" width="279" height="150.9" fill="url(#g3)"/>
<rect x="190" y="1310" width="160" height="70" fill="#555" opacity="0.4" filter="url(#b12)"/>
<rect x="67" y="1222" width="280" height="12" fill="#666" opacity="0.3" filter="url(#b6)"/>
<rect x="60" y="1280" width="60" height="90" fill="#ccc" opacity="0.35" filter="url(#b12)"/>
<rect x="67" y="1222.7" width="279" height="150.9" filter="url(#nz)" opacity="0.12"/>
<rect x="97.54" y="1242.64" width="223.61" height="5.71" rx="49.19" ry="2.86" fill="#000" opacity="0.13" filter="url(#b2)"/>
<rect x="117.13" y="1337.8" width="42.44" height="5.71" rx="9.34" ry="2.86" fill="#000" opacity="1" filter="url(#b2)"/>
<rect x="174.25" y="1329.97" width="50.6" height="14.69" rx="11.13" ry="7.34" fill="#000" opacity="1" filter="url(#b2)"/>
<rect x="227.3" y="1326.21" width="51.41" height="19.26" rx="11.31" ry="9.63" fill="#000" opacity="1" filter="url(#b2)"/>
<rect x="277.08" y="1325.89" width="50.6" height="18.77" rx="11.13" ry="9.39" fill="#000" opacity="1" filter="url(#b2)"/>
</g>
<g clip-path="url(#c14)">
<rect x="68" y="1385.5" width="277" height="85.5" fill="url(#g4)"/>
<rect x="80" y="1405" width="250" height="40" fill="#888" opacity="0.35" filter="url(#b10)"/>
<rect x="78.77" y="1412.07" width="57.13" height="19.59" rx="12.57" ry="9.79" fill="#000" opacity="1" filter="url(#b2)"/>
<rect x="139.98" y="1414.35" width="56.31" height="17.3" rx="12.39" ry="8.65" fill="#000" opacity="1" filter="url(#b2)"/>
<rect x="201.19" y="1414.84" width="57.13" height="16.32" rx="12.57" ry="8.16" fill="#000" opacity="1" filter="url(#b2)"/>
<rect x="264.03" y="1414.84" width="62.02" height="17.14" rx="13.65" ry="8.57" fill="#000" opacity="1" filter="url(#b2)"/>
</g>
<g clip-path="url(#c21)">
<rect x="354.4" y="960.1" width="277.6" height="88.3" fill="url(#g5)"/>
<rect x="502" y="960" width="47" height="40" fill="#777" opacity="0.3" filter="url(#b5)"/>
<rect x="571" y="960" width="52" height="40" fill="#777" opacity="0.35" filter="url(#b5)"/>
<rect x="500" y="1022" width="50" height="30" fill="#333" opacity="0.5" filter="url(#b6)"/>
<rect x="570" y="1018" width="55" height="34" fill="#222" opacity="0.6" filter="url(#b6)"/>
<rect x="503" y="1038" width="44" height="14" fill="#000" opacity="0.5" filter="url(#b4)"/>
<rect x="572" y="1036" width="50" height="16" fill="#000" opacity="0.6" filter="url(#b4)"/>
<rect x="432" y="1018" width="48" height="30" fill="#666" opacity="0.3" filter="url(#b6)"/>
<rect x="364" y="1015" width="45" height="25" fill="#888" opacity="0.25" filter="url(#b6)"/>
<rect x="354.4" y="960.1" width="277.6" height="88.3" filter="url(#nz)" opacity="0.18"/>
<rect x="364.59" y="1005.17" width="41.62" height="5.55" rx="9.16" ry="2.77" fill="#000" opacity="0.4" filter="url(#b2)" transform="rotate(3 385.4 1007.94)"/>
<rect x="433.14" y="1009.09" width="11.43" height="5.88" rx="2.94" ry="2.94" fill="#000" opacity="0.95" filter="url(#b1)"/>
<rect x="455.99" y="1008.43" width="8.98" height="7.51" rx="3.75" ry="3.75" fill="#000" opacity="0.95" filter="url(#b1)"/>
<rect x="465.78" y="1009.74" width="13.06" height="5.55" rx="2.87" ry="2.77" fill="#000" opacity="0.95" filter="url(#b1)"/>
<rect x="442.93" y="1011.04" width="26.12" height="2.94" rx="5.75" ry="1.47" fill="#000" opacity="0.95" filter="url(#b1)"/>
<rect x="502.51" y="1011.7" width="46.52" height="3.92" rx="10.23" ry="1.96" fill="#000" opacity="0.95" filter="url(#b2)"/>
<rect x="532.7" y="1009.09" width="16.32" height="10.28" rx="5.14" ry="5.14" fill="#000" opacity="0.95" filter="url(#b2)"/>
<rect x="573.51" y="1010.39" width="48.97" height="5.22" rx="10.77" ry="2.61" fill="#000" opacity="0.95" filter="url(#b2)"/>
<rect x="573.51" y="1009.09" width="21.22" height="7.83" rx="4.67" ry="3.92" fill="#000" opacity="0.95" filter="url(#b2)"/>
<rect x="606.15" y="1007.13" width="17.14" height="12.24" rx="6.12" ry="6.12" fill="#000" opacity="0.95" filter="url(#b2)"/>
<rect x="573.51" y="974.48" width="48.97" height="5.71" rx="10.77" ry="2.86" fill="#000" opacity="0.22" filter="url(#b3)"/>
<rect x="504.96" y="976.12" width="42.44" height="4.9" rx="9.34" ry="2.45" fill="#000" opacity="0.14" filter="url(#b3)"/>
</g>
<g clip-path="url(#c22)">
<rect x="354.4" y="1060.5" width="277.6" height="151.1" fill="url(#g6)"/>
<rect x="365" y="1066" width="255" height="52" fill="#444" opacity="0.55" filter="url(#b8)"/>
<rect x="354.4" y="1060.5" width="277.6" height="151.1" filter="url(#nz)" opacity="0.1"/>
<rect x="371.93" y="1075.35" width="61.21" height="32.64" rx="16.32" ry="16.32" fill="#000" opacity="1" filter="url(#b2)"/>
<rect x="434.77" y="1076.01" width="59.58" height="35.26" rx="17.63" ry="17.63" fill="#000" opacity="1" filter="url(#b2)"/>
<rect x="499.24" y="1082.53" width="62.02" height="28.73" rx="14.36" ry="14.36" fill="#000" opacity="1" filter="url(#b2)"/>
<rect x="571.88" y="1086.78" width="40.81" height="20.24" rx="10.12" ry="10.12" fill="#000" opacity="1" filter="url(#b2)"/>
<rect x="381.72" y="1177.2" width="44.07" height="9.14" rx="9.7" ry="4.57" fill="#000" opacity="0.5" filter="url(#b2)"/>
<rect x="447.01" y="1178.51" width="41.62" height="11.1" rx="9.16" ry="5.55" fill="#000" opacity="0.97" filter="url(#b2)"/>
<rect x="507.4" y="1180.96" width="48.97" height="11.92" rx="10.77" ry="5.96" fill="#000" opacity="1" filter="url(#b2)"/>
<rect x="574.32" y="1181.77" width="36.72" height="11.75" rx="8.08" ry="5.88" fill="#000" opacity="1" filter="url(#b2)"/>
</g>
<g clip-path="url(#c23)">
<rect x="355" y="1223.4" width="277" height="149.9" fill="url(#g7)"/>
<rect x="370" y="1318" width="250" height="40" fill="#666" opacity="0.4" filter="url(#b8)"/>
<rect x="400.49" y="1243.3" width="39.17" height="4.57" rx="8.62" ry="2.29" fill="#000" opacity="0.35" filter="url(#b2)" transform="rotate(5 420.08 1245.58)"/>
<rect x="456.81" y="1247.87" width="33.46" height="4.57" rx="7.36" ry="2.29" fill="#000" opacity="0.35" filter="url(#b2)" transform="rotate(4 473.54 1250.15)"/>
<rect x="508.22" y="1251.46" width="38.36" height="4.57" rx="8.44" ry="2.29" fill="#000" opacity="0.35" filter="url(#b2)" transform="rotate(4 527.4 1253.74)"/>
<rect x="562.9" y="1255.05" width="42.44" height="4.57" rx="9.34" ry="2.29" fill="#000" opacity="0.35" filter="url(#b2)" transform="rotate(3 584.12 1257.33)"/>
<rect x="381.72" y="1327.84" width="53.86" height="8.16" rx="11.85" ry="4.08" fill="#000" opacity="0.72" filter="url(#b2)" transform="rotate(5 408.66 1331.93)"/>
<rect x="445.38" y="1333.72" width="39.17" height="6.86" rx="8.62" ry="3.43" fill="#000" opacity="0.75" filter="url(#b2)" transform="rotate(3 464.97 1337.15)"/>
<rect x="493.53" y="1334.86" width="51.41" height="7.02" rx="11.31" ry="3.51" fill="#000" opacity="0.88" filter="url(#b2)" transform="rotate(3 519.24 1338.37)"/>
<rect x="553.11" y="1334.05" width="59.58" height="13.87" rx="13.11" ry="6.94" fill="#000" opacity="1" filter="url(#b2)" transform="rotate(4 582.89 1340.98)"/>
<rect x="563.71" y="1305.48" width="35.91" height="4.9" rx="7.9" ry="2.45" fill="#000" opacity="0.15" filter="url(#b3)"/>
</g>
<g clip-path="url(#c24)">
<rect x="355.5" y="1385.5" width="276" height="85.7" fill="url(#g8)"/>
<rect x="365" y="1420" width="260" height="36" fill="#888" opacity="0.35" filter="url(#b9)"/>
<rect x="363.77" y="1428.71" width="58.76" height="16.32" rx="12.93" ry="8.16" fill="#000" opacity="1" filter="url(#b2)"/>
<rect x="431.51" y="1427.9" width="55.49" height="18.77" rx="12.21" ry="9.39" fill="#000" opacity="1" filter="url(#b2)"/>
<rect x="492.71" y="1427.41" width="57.13" height="18.44" rx="12.57" ry="9.22" fill="#000" opacity="1" filter="url(#b2)"/>
<rect x="558.82" y="1427.9" width="64.47" height="18.44" rx="14.18" ry="9.22" fill="#000" opacity="1" filter="url(#b2)"/>
</g>
<g clip-path="url(#c31)">
<rect x="640.7" y="960.1" width="278.9" height="88.3" fill="url(#g9)"/>
<rect x="650" y="1032" width="60" height="20" fill="#555" opacity="0.3" filter="url(#b6)"/>
<rect x="720" y="1032" width="55" height="20" fill="#555" opacity="0.35" filter="url(#b6)"/>
<rect x="790" y="1030" width="52" height="22" fill="#444" opacity="0.35" filter="url(#b6)"/>
<rect x="858" y="1030" width="54" height="22" fill="#444" opacity="0.35" filter="url(#b6)"/>
<rect x="640.7" y="960.1" width="278.9" height="88.3" filter="url(#nz)" opacity="0.1"/>
<rect x="654.48" y="1020.18" width="48.15" height="4.57" rx="10.59" ry="2.29" fill="#000" opacity="0.5" filter="url(#b2)"/>
<rect x="723.04" y="1019.53" width="47.33" height="4.9" rx="10.41" ry="2.45" fill="#000" opacity="0.6" filter="url(#b2)"/>
<rect x="791.59" y="1017.74" width="47.33" height="7.67" rx="10.41" ry="3.84" fill="#000" opacity="1" filter="url(#b2)"/>
<rect x="858.51" y="1016.92" width="51.41" height="10.61" rx="11.31" ry="5.3" fill="#000" opacity="1" filter="url(#b2)"/>
<rect x="654.48" y="1019.86" width="8.16" height="5.55" rx="2.77" ry="2.77" fill="#000" opacity="0.3" filter="url(#b2)"/>
<rect x="693.66" y="1019.86" width="8.98" height="5.55" rx="2.77" ry="2.77" fill="#000" opacity="0.3" filter="url(#b2)"/>
<rect x="723.04" y="1019.21" width="8.16" height="5.88" rx="2.94" ry="2.94" fill="#000" opacity="0.5" filter="url(#b2)"/>
<rect x="758.94" y="1019.21" width="11.43" height="5.88" rx="2.94" ry="2.94" fill="#000" opacity="0.5" filter="url(#b2)"/>
</g>
<g clip-path="url(#c32)">
<rect x="640.7" y="1060.5" width="278.9" height="151.1" fill="url(#g10)"/>
<rect x="655" y="1072" width="255" height="42" fill="#555" opacity="0.45" filter="url(#b8)"/>
<rect x="661.83" y="1079.76" width="51.41" height="20.4" rx="11.31" ry="10.2" fill="#000" opacity="1" filter="url(#b2)"/>
<rect x="722.22" y="1081.39" width="49.78" height="18.77" rx="10.95" ry="9.39" fill="#000" opacity="1" filter="url(#b2)"/>
<rect x="779.35" y="1080.58" width="55.49" height="22.03" rx="12.21" ry="11.02" fill="#000" opacity="1" filter="url(#b2)"/>
<rect x="840.55" y="1081.39" width="60.39" height="21.22" rx="13.29" ry="10.61" fill="#000" opacity="1" filter="url(#b2)"/>
<rect x="665.09" y="1132.81" width="39.99" height="3.59" rx="8.8" ry="1.8" fill="#000" opacity="0.06" filter="url(#b2)"/>
<rect x="665.09" y="1145.05" width="39.99" height="6.53" rx="8.8" ry="3.26" fill="#000" opacity="0.13" filter="url(#b2)"/>
<rect x="665.09" y="1179.81" width="39.99" height="9.79" rx="8.8" ry="4.9" fill="#000" opacity="0.22" filter="url(#b2)"/>
<rect x="723.04" y="1132.81" width="42.44" height="3.59" rx="9.34" ry="1.8" fill="#000" opacity="0.07" filter="url(#b2)"/>
<rect x="723.04" y="1145.05" width="42.44" height="6.53" rx="9.34" ry="3.26" fill="#000" opacity="0.1" filter="url(#b2)"/>
<rect x="723.04" y="1179.81" width="42.44" height="9.79" rx="9.34" ry="4.9" fill="#000" opacity="0.3" filter="url(#b2)"/>
<rect x="784.24" y="1132.81" width="43.25" height="3.59" rx="9.52" ry="1.8" fill="#000" opacity="0.16" filter="url(#b2)"/>
<rect x="784.24" y="1145.05" width="43.25" height="6.53" rx="9.52" ry="3.26" fill="#000" opacity="0.17" filter="url(#b2)"/>
<rect x="784.24" y="1179.81" width="43.25" height="9.79" rx="9.52" ry="4.9" fill="#000" opacity="0.45" filter="url(#b2)"/>
<rect x="846.27" y="1132.81" width="48.15" height="3.59" rx="10.59" ry="1.8" fill="#000" opacity="0.2" filter="url(#b2)"/>
<rect x="846.27" y="1145.05" width="48.15" height="6.53" rx="10.59" ry="3.26" fill="#000" opacity="0.25" filter="url(#b2)"/>
<rect x="846.27" y="1179.32" width="48.15" height="10.77" rx="10.59" ry="5.39" fill="#000" opacity="1" filter="url(#b2)"/>
</g>
<g clip-path="url(#c33)">
<rect x="642.2" y="1227.1" width="275.9" height="148.6" fill="url(#g11)"/>
<rect x="650" y="1325" width="255" height="36" fill="#777" opacity="0.3" filter="url(#b8)"/>
<rect x="665.91" y="1252.44" width="47.33" height="6.53" rx="10.41" ry="3.26" fill="#000" opacity="0.85" filter="url(#b2)" transform="rotate(3 689.58 1255.7)"/>
<rect x="726.3" y="1255.86" width="40.81" height="5.55" rx="8.98" ry="2.77" fill="#000" opacity="0.7" filter="url(#b2)" transform="rotate(5 746.7 1258.64)"/>
<rect x="780.16" y="1260.27" width="45.7" height="5.55" rx="10.05" ry="2.77" fill="#000" opacity="0.55" filter="url(#b2)"/>
<rect x="840.55" y="1261.09" width="50.6" height="5.55" rx="11.13" ry="2.77" fill="#000" opacity="0.6" filter="url(#b2)" transform="rotate(6 865.85 1263.86)"/>
<rect x="652.85" y="1332.42" width="58.76" height="9.14" rx="12.93" ry="4.57" fill="#000" opacity="0.5" filter="url(#b3)" transform="rotate(5 682.23 1336.99)"/>
<rect x="718.95" y="1336.01" width="46.52" height="9.14" rx="10.23" ry="4.57" fill="#000" opacity="0.6" filter="url(#b3)" transform="rotate(5 742.21 1340.58)"/>
<rect x="772" y="1343.02" width="31.01" height="9.79" rx="6.82" ry="4.9" fill="#000" opacity="0.6" filter="url(#b3)"/>
<rect x="799.75" y="1340.25" width="29.38" height="9.79" rx="6.46" ry="4.9" fill="#000" opacity="0.92" filter="url(#b3)"/>
<rect x="835.66" y="1340.41" width="65.29" height="11.75" rx="14.36" ry="5.88" fill="#000" opacity="0.97" filter="url(#b3)" transform="rotate(3 868.3 1346.29)"/>
</g>
<g clip-path="url(#c34)">
<rect x="642" y="1385.5" width="276" height="85.7" fill="url(#g12)"/>
<rect x="655" y="1408" width="250" height="30" fill="#888" opacity="0.35" filter="url(#b8)"/>
<rect x="661.01" y="1417.62" width="50.6" height="10.77" rx="11.13" ry="5.39" fill="#000" opacity="1" filter="url(#b2)"/>
<rect x="722.22" y="1418.27" width="46.52" height="11.43" rx="10.23" ry="5.71" fill="#000" opacity="1" filter="url(#b2)"/>
<rect x="778.53" y="1419.25" width="54.68" height="12.4" rx="12.03" ry="6.2" fill="#000" opacity="1" filter="url(#b2)"/>
<rect x="840.55" y="1418.92" width="58.76" height="12.4" rx="12.93" ry="6.2" fill="#000" opacity="1" filter="url(#b2)"/>
<rect x="847.08" y="1408.31" width="44.07" height="8.16" rx="9.7" ry="4.08" fill="#000" opacity="0.2" filter="url(#b3)"/>
</g>
<text x="191.5" y="949.8" font-size="31.5" textLength="47.4" lengthAdjust="spacingAndGlyphs">ID8</text>
<text x="431.8" y="949.8" font-size="31.5" textLength="127.1" lengthAdjust="spacingAndGlyphs">OVCAR8</text>
<text x="750.3" y="948.9" font-size="31.5" textLength="89" lengthAdjust="spacingAndGlyphs">A2780</text>
<text x="926.1" y="1033.5" font-size="31.5" textLength="98.4" lengthAdjust="spacingAndGlyphs">NLRP3</text>
<text x="923.6" y="1105.1" font-size="31.5" textLength="159.6" lengthAdjust="spacingAndGlyphs">GSDME-FL</text>
<text x="923.6" y="1198.8" font-size="31.5" textLength="145.1" lengthAdjust="spacingAndGlyphs">GSDME-N</text>
<text x="926.1" y="1267.8" font-size="31.5" textLength="187.8" lengthAdjust="spacingAndGlyphs">pro-caspase3</text>
<text x="926.1" y="1345.2" font-size="31.5" textLength="249.3" lengthAdjust="spacingAndGlyphs">cleaved-caspase3</text>
<text x="928.6" y="1439.8" font-size="31.5" textLength="100.7" lengthAdjust="spacingAndGlyphs">Tubulin</text>
<text x="96.8" y="1498.8" font-size="27" text-anchor="middle">0</text>
<text x="170.3" y="1498.8" font-size="27" text-anchor="middle">0.5</text>
<text x="236.1" y="1498.8" font-size="27" text-anchor="middle">1</text>
<text x="298.1" y="1498.8" font-size="27" text-anchor="middle">2</text>
<text x="391.7" y="1503.6" font-size="27" text-anchor="middle">0</text>
<text x="465.2" y="1503.6" font-size="27" text-anchor="middle">0.5</text>
<text x="531" y="1503.6" font-size="27" text-anchor="middle">1</text>
<text x="593" y="1503.6" font-size="27" text-anchor="middle">2</text>
<text x="676.2" y="1503.9" font-size="27" text-anchor="middle">0</text>
<text x="749.4" y="1503.9" font-size="27" text-anchor="middle">0.5</text>
<text x="815.6" y="1503.9" font-size="27" text-anchor="middle">1</text>
<text x="877.2" y="1503.9" font-size="27" text-anchor="middle">2</text>
<text x="7" y="1541.9" font-size="23" textLength="148.6" lengthAdjust="spacingAndGlyphs">pladienolide B</text>
<text x="54" y="1567.4" font-size="23" textLength="47.7" lengthAdjust="spacingAndGlyphs">(nM)</text>
<path d="M1262.15 1215.4V1163.15H1288.15V1215.4" fill="none" stroke="#9c1c24" stroke-width="3.3"/>
<path d="M1275.15 1158V1164M1267.95 1158H1282.35M1267.95 1164H1282.35" fill="none" stroke="#9c1c24" stroke-width="1.8"/>
<circle cx="1265.5" cy="1157.5" r="3.4" fill="#9c1c24"/>
<circle cx="1276" cy="1160.5" r="3.4" fill="#9c1c24"/>
<circle cx="1285" cy="1163.5" r="3.4" fill="#9c1c24"/>
<path d="M1307.45 1215.4V1138.45H1333.15V1215.4" fill="none" stroke="#0f6a44" stroke-width="3.3"/>
<path d="M1320.3 1115.1V1156.7M1313.1 1115.1H1327.5M1313.1 1156.7H1327.5" fill="none" stroke="#0f6a44" stroke-width="1.8"/>
<rect x="1316.9" y="1108.6" width="6.8" height="6.8" fill="#0f6a44"/>
<rect x="1309.1" y="1139.1" width="6.8" height="6.8" fill="#0f6a44"/>
<rect x="1325.1" y="1149.1" width="6.8" height="6.8" fill="#0f6a44"/>
<path d="M1353.15 1215.4V1066.05H1378.35V1215.4" fill="none" stroke="#1d2a6d" stroke-width="3.3"/>
<path d="M1365.75 1049.3V1078.1M1358.55 1049.3H1372.95M1358.55 1078.1H1372.95" fill="none" stroke="#1d2a6d" stroke-width="1.8"/>
<path d="M1366 1045.26L1369.57 1051.72L1362.43 1051.72Z" fill="#1d2a6d"/>
<path d="M1366 1075.26L1369.57 1081.72L1362.43 1081.72Z" fill="#1d2a6d"/>
<path d="M1398.15 1215.4V1072.15H1424.15V1215.4" fill="none" stroke="#8d45a3" stroke-width="3.3"/>
<path d="M1411.15 1066V1074M1403.95 1066H1418.35M1403.95 1074H1418.35" fill="none" stroke="#8d45a3" stroke-width="1.8"/>
<path d="M1402 1069.74L1405.57 1063.28L1398.43 1063.28Z" fill="#8d45a3"/>
<path d="M1412 1071.74L1415.57 1065.28L1408.43 1065.28Z" fill="#8d45a3"/>
<path d="M1421 1077.74L1424.57 1071.28L1417.43 1071.28Z" fill="#8d45a3"/>
<path d="M1245.7 976.35V1215.4H1442.9M1235.4 1215.4H1245.7" fill="none" stroke="#000" stroke-width="2.3"/>
<path d="M1235.4 977.5H1245.7M1235.4 1056.8H1245.7M1235.4 1136.1H1245.7" fill="none" stroke="#000" stroke-width="2.3"/>
<text x="1232.9" y="984.34" font-size="19" text-anchor="end" font-weight="bold">2.5</text>
<text x="1232.9" y="1063.64" font-size="19" text-anchor="end" font-weight="bold">2.0</text>
<text x="1232.9" y="1142.94" font-size="19" text-anchor="end" font-weight="bold">1.5</text>
<text x="1232.9" y="1222.24" font-size="19" text-anchor="end" font-weight="bold">1.0</text>
<text x="1317.7" y="983.7" font-size="22.4" font-weight="bold" textLength="93.7" lengthAdjust="spacingAndGlyphs">OVCAR8</text>
<text font-size="19.92" font-weight="bold" transform="translate(1196 1161.3) rotate(-90)">IL-1β<tspan dx="-8.37">（</tspan>pg/mL<tspan dx="-1">）</tspan></text>
<rect x="1459.6" y="989.7" width="21.7" height="8.6" fill="#fff" stroke="#9c1c24" stroke-width="2.8"/>
<text x="1497.5" y="999.7" font-size="18.9">0nM</text>
<rect x="1459.6" y="1021.2" width="21.7" height="8.6" fill="#fff" stroke="#0f6a44" stroke-width="2.8"/>
<text x="1497.5" y="1031.2" font-size="18.9">0.5nM</text>
<rect x="1459.6" y="1053.2" width="21.7" height="8.6" fill="#fff" stroke="#1d2a6d" stroke-width="2.8"/>
<text x="1497.5" y="1063.2" font-size="18.9">1nM</text>
<rect x="1459.6" y="1085.2" width="21.7" height="8.6" fill="#fff" stroke="#8d45a3" stroke-width="2.8"/>
<text x="1497.5" y="1095.2" font-size="18.9">2nM</text>
<text x="1366.8" y="1049.93" font-size="29" text-anchor="middle" stroke="#000" stroke-width="0.15">***</text>
<text x="1411.4" y="1059.43" font-size="29" text-anchor="middle" stroke="#000" stroke-width="0.15">***</text>
<path d="M1687.3 1197.8V1135.8H1713.1V1197.8" fill="none" stroke="#9c1c24" stroke-width="3.2"/>
<path d="M1700.2 1130.5V1137.5M1693.2 1130.5H1707.2M1693.2 1137.5H1707.2" fill="none" stroke="#9c1c24" stroke-width="1.7"/>
<circle cx="1690.5" cy="1131" r="3.2" fill="#9c1c24"/>
<circle cx="1700" cy="1131.5" r="3.2" fill="#9c1c24"/>
<circle cx="1710" cy="1137.5" r="3.2" fill="#9c1c24"/>
<path d="M1732 1197.8V1124.4H1757.4V1197.8" fill="none" stroke="#0f6a44" stroke-width="3.2"/>
<path d="M1744.7 1120V1125.5M1737.7 1120H1751.7M1737.7 1125.5H1751.7" fill="none" stroke="#0f6a44" stroke-width="1.7"/>
<rect x="1731.3" y="1116.3" width="6.4" height="6.4" fill="#0f6a44"/>
<rect x="1741.8" y="1119.3" width="6.4" height="6.4" fill="#0f6a44"/>
<rect x="1751.8" y="1120.8" width="6.4" height="6.4" fill="#0f6a44"/>
<path d="M1776.7 1197.8V1100.9H1802.5V1197.8" fill="none" stroke="#1d2a6d" stroke-width="3.2"/>
<path d="M1789.6 1076.6V1120.4M1782.6 1076.6H1796.6M1782.6 1120.4H1796.6" fill="none" stroke="#1d2a6d" stroke-width="1.7"/>
<path d="M1789.5 1069.38L1792.86 1075.46L1786.14 1075.46Z" fill="#1d2a6d"/>
<path d="M1782 1108.08L1785.36 1114.16L1778.64 1114.16Z" fill="#1d2a6d"/>
<path d="M1797 1108.08L1800.36 1114.16L1793.64 1114.16Z" fill="#1d2a6d"/>
<path d="M1821.6 1197.8V1026.8H1847V1197.8" fill="none" stroke="#8d45a3" stroke-width="3.2"/>
<path d="M1834.3 982.2V1066M1827.3 982.2H1841.3M1827.3 1066H1841.3" fill="none" stroke="#8d45a3" stroke-width="1.7"/>
<path d="M1834.2 991.12L1837.56 985.04L1830.84 985.04Z" fill="#8d45a3"/>
<path d="M1834.2 1015.22L1837.56 1009.14L1830.84 1009.14Z" fill="#8d45a3"/>
<path d="M1834.2 1074.32L1837.56 1068.24L1830.84 1068.24Z" fill="#8d45a3"/>
<path d="M1671.3 964.8V1197.8H1865.2M1661.2 1197.8H1671.3" fill="none" stroke="#000" stroke-width="2.2"/>
<path d="M1661.3 965.9H1671.3M1661.3 1004.8H1671.3M1661.3 1043.3H1671.3M1661.3 1081.9H1671.3M1661.3 1120.6H1671.3M1661.3 1159.1H1671.3" fill="none" stroke="#000" stroke-width="2.2"/>
<text x="1658.8" y="972.38" font-size="18" text-anchor="end" font-weight="bold">12</text>
<text x="1658.8" y="1011.28" font-size="18" text-anchor="end" font-weight="bold">10</text>
<text x="1658.8" y="1049.78" font-size="18" text-anchor="end" font-weight="bold">8</text>
<text x="1658.8" y="1088.38" font-size="18" text-anchor="end" font-weight="bold">6</text>
<text x="1658.8" y="1127.08" font-size="18" text-anchor="end" font-weight="bold">4</text>
<text x="1658.8" y="1165.58" font-size="18" text-anchor="end" font-weight="bold">2</text>
<text x="1658.8" y="1204.28" font-size="18" text-anchor="end" font-weight="bold">0</text>
<text x="1717.5" y="974.1" font-size="18.6" font-weight="bold" textLength="77" lengthAdjust="spacingAndGlyphs">OVCAR8</text>
<text font-size="18.8" text-anchor="middle" font-weight="bold" textLength="115" lengthAdjust="spacingAndGlyphs" transform="translate(1627.2 1082) rotate(-90)">IL-18(pg/mL)</text>
<rect x="1879.7" y="977.6" width="21.3" height="8.6" fill="#fff" stroke="#9c1c24" stroke-width="2.8"/>
<text x="1916.8" y="987.6" font-size="18.2">0nM</text>
<rect x="1879.7" y="1008.8" width="21.3" height="8.3" fill="#fff" stroke="#0f6a44" stroke-width="2.8"/>
<text x="1916.8" y="1018.5" font-size="18.2">0.5nM</text>
<rect x="1879.7" y="1039.9" width="21.3" height="8.4" fill="#fff" stroke="#1d2a6d" stroke-width="2.8"/>
<text x="1916.8" y="1049.7" font-size="18.2">1nM</text>
<rect x="1879.7" y="1071.1" width="21.3" height="8.4" fill="#fff" stroke="#8d45a3" stroke-width="2.8"/>
<text x="1916.8" y="1080.9" font-size="18.2">2nM</text>
<text x="1745.9" y="1118.92" font-size="28" text-anchor="middle" stroke="#000" stroke-width="0.15">**</text>
<text x="1834.7" y="984.42" font-size="28" text-anchor="middle" stroke="#000" stroke-width="0.15">*</text>
<path d="M1272.45 1526.3V1438.85H1296.55V1526.3" fill="none" stroke="#9c1c24" stroke-width="3.3"/>
<path d="M1284.5 1422.8V1450.2M1277.3 1422.8H1291.7M1277.3 1450.2H1291.7" fill="none" stroke="#9c1c24" stroke-width="1.8"/>
<circle cx="1284.5" cy="1422.8" r="3.4" fill="#9c1c24"/>
<circle cx="1284.5" cy="1437" r="3.4" fill="#9c1c24"/>
<circle cx="1284.5" cy="1450.2" r="3.4" fill="#9c1c24"/>
<path d="M1314.75 1526.3V1380.55H1338.85V1526.3" fill="none" stroke="#0f6a44" stroke-width="3.3"/>
<path d="M1326.8 1372.1V1384.6M1319.6 1372.1H1334M1319.6 1384.6H1334" fill="none" stroke="#0f6a44" stroke-width="1.8"/>
<rect x="1314.1" y="1368.1" width="6.8" height="6.8" fill="#0f6a44"/>
<rect x="1323.6" y="1379.6" width="6.8" height="6.8" fill="#0f6a44"/>
<rect x="1332.6" y="1380.1" width="6.8" height="6.8" fill="#0f6a44"/>
<path d="M1357.05 1526.3V1356.35H1381.15V1526.3" fill="none" stroke="#1d2a6d" stroke-width="3.3"/>
<path d="M1369.1 1336V1372.5M1361.9 1336H1376.3M1361.9 1372.5H1376.3" fill="none" stroke="#1d2a6d" stroke-width="1.8"/>
<path d="M1369.2 1329.76L1372.77 1336.22L1365.63 1336.22Z" fill="#1d2a6d"/>
<path d="M1361.5 1356.26L1365.07 1362.72L1357.93 1362.72Z" fill="#1d2a6d"/>
<path d="M1376.5 1365.76L1380.07 1372.22L1372.93 1372.22Z" fill="#1d2a6d"/>
<path d="M1398.85 1526.3V1378.25H1423.45V1526.3" fill="none" stroke="#8d45a3" stroke-width="3.3"/>
<path d="M1411.15 1371.4V1380.5M1403.95 1371.4H1418.35M1403.95 1380.5H1418.35" fill="none" stroke="#8d45a3" stroke-width="1.8"/>
<path d="M1401.5 1374.74L1405.07 1368.28L1397.93 1368.28Z" fill="#8d45a3"/>
<path d="M1412 1380.24L1415.57 1373.78L1408.43 1373.78Z" fill="#8d45a3"/>
<path d="M1421 1385.24L1424.57 1378.78L1417.43 1378.78Z" fill="#8d45a3"/>
<path d="M1257.1 1282.25V1526.3H1440.2M1246.4 1526.3H1257.1" fill="none" stroke="#000" stroke-width="2.3"/>
<path d="M1246.8 1283.4H1257.1M1246.8 1344.4H1257.1M1246.8 1405.2H1257.1M1246.8 1465.8H1257.1" fill="none" stroke="#000" stroke-width="2.3"/>
<text x="1244.3" y="1290.24" font-size="19" text-anchor="end" font-weight="bold">2.0</text>
<text x="1244.3" y="1351.24" font-size="19" text-anchor="end" font-weight="bold">1.5</text>
<text x="1244.3" y="1412.04" font-size="19" text-anchor="end" font-weight="bold">1.0</text>
<text x="1244.3" y="1472.64" font-size="19" text-anchor="end" font-weight="bold">0.5</text>
<text x="1244.3" y="1533.14" font-size="19" text-anchor="end" font-weight="bold">0.0</text>
<text x="1330.2" y="1281.1" font-size="19.3" font-weight="bold" textLength="56.7" lengthAdjust="spacingAndGlyphs">A2780</text>
<text font-size="20.29" font-weight="bold" transform="translate(1205.3 1469.7) rotate(-90)">IL-1β<tspan dx="-8.52">（</tspan>pg/mL<tspan dx="-1.01">）</tspan></text>
<rect x="1476.1" y="1296.2" width="21.8" height="8.7" fill="#fff" stroke="#9c1c24" stroke-width="2.8"/>
<text x="1514.6" y="1306.3" font-size="18.9">0nM</text>
<rect x="1476.1" y="1328.9" width="21.8" height="8.6" fill="#fff" stroke="#0f6a44" stroke-width="2.8"/>
<text x="1514.6" y="1338.9" font-size="18.9">0.5nM</text>
<rect x="1476.1" y="1361.4" width="21.8" height="8.6" fill="#fff" stroke="#1d2a6d" stroke-width="2.8"/>
<text x="1514.6" y="1371.4" font-size="18.9">1nM</text>
<rect x="1476.1" y="1394" width="21.8" height="8.7" fill="#fff" stroke="#8d45a3" stroke-width="2.8"/>
<text x="1514.6" y="1404.1" font-size="18.9">2nM</text>
<text x="1325.7" y="1369.93" font-size="29" text-anchor="middle" stroke="#000" stroke-width="0.15">**</text>
<text x="1370.7" y="1331.43" font-size="29" text-anchor="middle" stroke="#000" stroke-width="0.15">**</text>
<text x="1410.2" y="1368.43" font-size="29" text-anchor="middle" stroke="#000" stroke-width="0.15">**</text>
<path d="M1694.9 1519.4V1501H1720.9V1519.4" fill="none" stroke="#9c1c24" stroke-width="3.2"/>
<path d="M1707.9 1490.8V1506.5M1700.9 1490.8H1714.9M1700.9 1506.5H1714.9" fill="none" stroke="#9c1c24" stroke-width="1.7"/>
<circle cx="1707.5" cy="1490.5" r="3.2" fill="#9c1c24"/>
<circle cx="1699.5" cy="1498.5" r="3.2" fill="#9c1c24"/>
<circle cx="1714.8" cy="1506.5" r="3.2" fill="#9c1c24"/>
<path d="M1740.6 1519.4V1495.6H1766.7V1519.4" fill="none" stroke="#0f6a44" stroke-width="3.2"/>
<path d="M1753.65 1484.3V1497.9M1746.65 1484.3H1760.65M1746.65 1497.9H1760.65" fill="none" stroke="#0f6a44" stroke-width="1.7"/>
<rect x="1750.6" y="1480.8" width="6.4" height="6.4" fill="#0f6a44"/>
<rect x="1742.6" y="1492.6" width="6.4" height="6.4" fill="#0f6a44"/>
<rect x="1758.3" y="1496.3" width="6.4" height="6.4" fill="#0f6a44"/>
<path d="M1786.2 1519.4V1467.3H1812V1519.4" fill="none" stroke="#1d2a6d" stroke-width="3.2"/>
<path d="M1799.1 1446.3V1484.3M1792.1 1446.3H1806.1M1792.1 1484.3H1806.1" fill="none" stroke="#1d2a6d" stroke-width="1.7"/>
<path d="M1799.3 1442.98L1802.66 1449.06L1795.94 1449.06Z" fill="#1d2a6d"/>
<path d="M1799.3 1463.48L1802.66 1469.56L1795.94 1469.56Z" fill="#1d2a6d"/>
<path d="M1799.3 1480.98L1802.66 1487.06L1795.94 1487.06Z" fill="#1d2a6d"/>
<path d="M1832 1519.4V1348.4H1858.4V1519.4" fill="none" stroke="#8d45a3" stroke-width="3.2"/>
<path d="M1845.2 1333.5V1358.6M1838.2 1333.5H1852.2M1838.2 1358.6H1852.2" fill="none" stroke="#8d45a3" stroke-width="1.7"/>
<path d="M1837.5 1338.52L1840.86 1332.44L1834.14 1332.44Z" fill="#8d45a3"/>
<path d="M1853 1344.52L1856.36 1338.44L1849.64 1338.44Z" fill="#8d45a3"/>
<path d="M1845 1363.52L1848.36 1357.44L1841.64 1357.44Z" fill="#8d45a3"/>
<path d="M1677.8 1288.8V1519.4H1877M1667.7 1519.4H1677.8" fill="none" stroke="#000" stroke-width="2.2"/>
<path d="M1667.8 1289.9H1677.8M1667.8 1347.2H1677.8M1667.8 1404.8H1677.8M1667.8 1462H1677.8" fill="none" stroke="#000" stroke-width="2.2"/>
<text x="1665.3" y="1296.38" font-size="18" text-anchor="end" font-weight="bold">8</text>
<text x="1665.3" y="1353.68" font-size="18" text-anchor="end" font-weight="bold">7</text>
<text x="1665.3" y="1411.28" font-size="18" text-anchor="end" font-weight="bold">6</text>
<text x="1665.3" y="1468.48" font-size="18" text-anchor="end" font-weight="bold">5</text>
<text x="1665.3" y="1525.88" font-size="18" text-anchor="end" font-weight="bold">4</text>
<text x="1743.8" y="1279.3" font-size="21.8" font-weight="bold" textLength="64" lengthAdjust="spacingAndGlyphs">A2780</text>
<text font-size="18.8" text-anchor="middle" font-weight="bold" textLength="114.5" lengthAdjust="spacingAndGlyphs" transform="translate(1644.8 1404.2) rotate(-90)">IL-18(pg/mL)</text>
<rect x="1884.4" y="1301.1" width="20.9" height="8.4" fill="#fff" stroke="#9c1c24" stroke-width="2.8"/>
<text x="1921.7" y="1310.9" font-size="18.2">0nM</text>
<rect x="1884.4" y="1332.1" width="20.9" height="8.4" fill="#fff" stroke="#0f6a44" stroke-width="2.8"/>
<text x="1921.7" y="1341.9" font-size="18.2">0.5nM</text>
<rect x="1884.4" y="1362.8" width="20.9" height="8.4" fill="#fff" stroke="#1d2a6d" stroke-width="2.8"/>
<text x="1921.7" y="1372.6" font-size="18.2">1nM</text>
<rect x="1884.4" y="1394" width="20.9" height="8.4" fill="#fff" stroke="#8d45a3" stroke-width="2.8"/>
<text x="1921.7" y="1403.8" font-size="18.2">2nM</text>
<text x="1799.8" y="1443.42" font-size="28" text-anchor="middle" stroke="#000" stroke-width="0.15">*</text>
<text x="1848" y="1331.42" font-size="28" text-anchor="middle" stroke="#000" stroke-width="0.15">***</text>
<rect x="137.5" y="1659.7" width="446.5" height="237.5" fill="#fff"/>
<path d="M137.5 1681.9H584M137.5 1723.7H584M137.5 1765.8H584M137.5 1807.6H584M137.5 1849.4H584M137.5 1891.2H584M287.3 1659.7V1897.2M437 1659.7V1897.2" stroke="#e7e7e7" stroke-width="2.3" fill="none"/>
<path d="M137.5 1702.8H584M137.5 1744.6H584M137.5 1786.7H584M137.5 1828.5H584M137.5 1870.3H584M137.5 1661H584M212.45 1659.7V1897.2M362.15 1659.7V1897.2M511.85 1659.7V1897.2" stroke="#ebebeb" stroke-width="1.2" fill="none"/>
<line x1="137.5" y1="1849.4" x2="584" y2="1849.4" stroke="#8c8c8c" stroke-width="1.5"/>
<polyline points="137.5,1849.5 138.3,1813.2 140.9,1815 142.2,1778 144,1754.5 146.1,1740.9 148.2,1741.4 149.5,1720 151.3,1720.5 153.2,1691.8 154.7,1689.2 156.6,1690.5 158.1,1687.1 161.8,1691.3 163.9,1681.3 166.5,1683.4 168.3,1681.9 170.9,1683.9 173.5,1677.4 176.9,1670.4 180.1,1673.5 184,1676.1 188.4,1671.4 191.8,1674 195.7,1677.2 199.1,1670.9 203.6,1674.8 208.8,1672.2 212.1,1674.6 215.3,1677.2 219.2,1676.6 220.5,1674 224.5,1677.4 229.7,1682.4 234.9,1682.6 238,1680.8 241.7,1684.4 245.4,1687.9 250.6,1692.6 253.7,1690.5 258.4,1692.3 260.5,1691.3 266.2,1695.7 271.5,1697.5 274.1,1696 279.3,1699.6 284.5,1703 288.4,1703.5 292.4,1706.1 297.6,1708.8 302.8,1712.7 308,1715.8 311.5,1719.2 315,1721.5 318.5,1724.4 322,1727.5 325.4,1730.6 328.9,1733.6 332.2,1736.1 335.4,1739.5 338.7,1742.5 342,1745.3 345.2,1748.6 348.5,1750.7 351.8,1753.9 355,1757.1 358.3,1759.5 361.6,1763.3 364.8,1766.1 368.1,1768.8 371.4,1771.5 374.6,1775.9 377.9,1779.2 381.2,1781.9 385.1,1786.3 389,1787.9 392.9,1792 396.8,1795.7 400.7,1799.8 404.7,1803.6 409.9,1807.5 413.8,1808 417.1,1810.6 420.3,1814 424.2,1816 428.2,1819.2 432.1,1822.1 436,1825 439.3,1827.1 442.5,1830.2 444.3,1829.1 447.7,1831 451,1833.5 454.3,1836.7 457.5,1839.4 460.8,1842.7 464.1,1843.7 467.3,1845.9 472.6,1846.4 475.8,1848 479.1,1849.8 483,1851.6 488.2,1851.1 490.8,1852.4 494.8,1855.3 498.7,1858.4 502.2,1861.4 505.6,1863.6 509.1,1866.2 510.4,1864.7 513.4,1868.1 516.4,1871.2 518.3,1866.2 522.2,1868.8 524.3,1866.8 527.4,1864.7 532.6,1869.4 535.9,1872.2 539.1,1875.1 540.5,1872 544.4,1876.1 548.3,1879.8 551.9,1883.3 555.6,1886.9 557.4,1882.4 560,1881.1 561.3,1877.2 563.4,1869.4 565.3,1861 567.9,1864.1 569.7,1865.4 571.8,1852.4 577,1857.6 580.5,1860.6 584.1,1864.1" fill="none" stroke="#3fa9c5" stroke-width="2.1" stroke-linejoin="round"/>
<text x="573.8" y="1679.8" font-size="13.5" text-anchor="end" fill="#111">NES = 1.849</text>
<text x="573.8" y="1699" font-size="13.5" text-anchor="end" fill="#111">p.adj = 0.023</text>
<text x="573.8" y="1718.1" font-size="13.5" text-anchor="end" fill="#111">FDR = 0.017</text>
<rect x="137.5" y="1898.6" width="446.5" height="79.1" fill="#fff"/>
<rect x="137.5" y="1955.5" width="73.91" height="22.2" fill="#cd3530"/>
<rect x="211.4" y="1955.5" width="83.57" height="22.2" fill="#ec7458"/>
<rect x="294.97" y="1955.5" width="69.21" height="22.2" fill="#f4b097"/>
<rect x="364.18" y="1955.5" width="79.65" height="22.2" fill="#fbe1d5"/>
<rect x="443.83" y="1955.5" width="39.17" height="22.2" fill="#eceff8"/>
<rect x="483" y="1955.5" width="52.23" height="22.2" fill="#bcd4e4"/>
<rect x="535.23" y="1955.5" width="33.95" height="22.2" fill="#76a9ce"/>
<rect x="569.18" y="1955.5" width="14.89" height="22.2" fill="#3f7fb5"/>
<path d="M139.59 1898.6h3.2V1955.5h-3.2zM143.48 1898.6h2.91V1955.5h-2.91zM146.98 1898.6h1.97V1955.5h-1.97zM149.34 1898.6h1.92V1955.5h-1.92zM151.58 1898.6h2.78V1955.5h-2.78zM154.82 1898.6h1.74V1955.5h-1.74zM161.78 1898.6h2.61V1955.5h-2.61zM168.31 1898.6h1.4V1955.5h-1.4zM170.1 1898.6h0.83V1955.5h-0.83zM172.23 1898.6h3.16V1955.5h-3.16zM175.85 1898.6h1.53V1955.5h-1.53zM183.98 1898.6h2.8V1955.5h-2.8zM187.19 1898.6h0.71V1955.5h-0.71zM194.43 1898.6h3.14V1955.5h-3.14zM198.17 1898.6h1.48V1955.5h-1.48zM210.1 1898.6h1.5V1955.5h-1.5zM215.32 1898.6h1.58V1955.5h-1.58zM217.23 1898.6h2.83V1955.5h-2.83zM229.68 1898.6h2.41V1955.5h-2.41zM232.57 1898.6h1.74V1955.5h-1.74zM234.91 1898.6h1.64V1955.5h-1.64zM250.58 1898.6h1.61V1955.5h-1.61zM252.65 1898.6h1.78V1955.5h-1.78zM254.84 1898.6h0.95V1955.5h-0.95zM257.1 1898.6h1.95V1955.5h-1.95zM259.71 1898.6h1.78V1955.5h-1.78zM266.24 1898.6h2.61V1955.5h-2.61zM271.47 1898.6h1.58V1955.5h-1.58zM273.74 1898.6h1.78V1955.5h-1.78zM275.93 1898.6h0.76V1955.5h-0.76zM280.61 1898.6h1.93V1955.5h-1.93zM282.87 1898.6h1.56V1955.5h-1.56zM287.14 1898.6h1.84V1955.5h-1.84zM292.36 1898.6h2.07V1955.5h-2.07zM302.81 1898.6h1.5V1955.5h-1.5zM305.42 1898.6h2.61V1955.5h-2.61zM315.86 1898.6h1.5V1955.5h-1.5zM342.5 1898.6h1.5V1955.5h-1.5zM351.12 1898.6h2.43V1955.5h-2.43zM354.2 1898.6h1.73V1955.5h-1.73zM358.95 1898.6h2.61V1955.5h-2.61zM364.18 1898.6h1.85V1955.5h-1.85zM369.4 1898.6h2.73V1955.5h-2.73zM372.81 1898.6h0.51V1955.5h-0.51zM383.76 1898.6h2.99V1955.5h-2.99zM391.6 1898.6h1.5V1955.5h-1.5zM403.35 1898.6h1.5V1955.5h-1.5zM408.57 1898.6h2.16V1955.5h-2.16zM411.07 1898.6h1.47V1955.5h-1.47zM413.23 1898.6h0.57V1955.5h-0.57zM420.32 1898.6h1.5V1955.5h-1.5zM425.55 1898.6h1.86V1955.5h-1.86zM428.04 1898.6h1.43V1955.5h-1.43zM435.99 1898.6h1.5V1955.5h-1.5zM443.83 1898.6h1.72V1955.5h-1.72zM446.13 1898.6h0.83V1955.5h-0.83zM459.5 1898.6h1.5V1955.5h-1.5zM466.03 1898.6h1.5V1955.5h-1.5zM472.55 1898.6h2.41V1955.5h-2.41zM481.69 1898.6h2.51V1955.5h-2.51zM484.61 1898.6h3.05V1955.5h-3.05zM497.36 1898.6h1.5V1955.5h-1.5zM509.12 1898.6h1.5V1955.5h-1.5zM516.95 1898.6h1.43V1955.5h-1.43zM518.79 1898.6h2.08V1955.5h-2.08zM523.48 1898.6h1.72V1955.5h-1.72zM525.64 1898.6h1.75V1955.5h-1.75zM539.15 1898.6h1.5V1955.5h-1.5zM554.82 1898.6h2.05V1955.5h-2.05zM557.52 1898.6h3.16V1955.5h-3.16zM561.25 1898.6h2.64V1955.5h-2.64zM564.43 1898.6h0.83V1955.5h-0.83zM569.18 1898.6h1.83V1955.5h-1.83z" fill="#000"/>
<path d="M139.59 1955.5h3.2V1977.7h-3.2zM143.48 1955.5h2.91V1977.7h-2.91zM146.98 1955.5h1.97V1977.7h-1.97zM149.34 1955.5h1.92V1977.7h-1.92zM151.58 1955.5h2.78V1977.7h-2.78zM154.82 1955.5h1.74V1977.7h-1.74zM161.78 1955.5h2.61V1977.7h-2.61zM168.31 1955.5h1.4V1977.7h-1.4zM170.1 1955.5h0.83V1977.7h-0.83zM172.23 1955.5h3.16V1977.7h-3.16zM175.85 1955.5h1.53V1977.7h-1.53zM183.98 1955.5h2.8V1977.7h-2.8zM187.19 1955.5h0.71V1977.7h-0.71zM194.43 1955.5h3.14V1977.7h-3.14zM198.17 1955.5h1.48V1977.7h-1.48zM210.1 1955.5h1.5V1977.7h-1.5zM215.32 1955.5h1.58V1977.7h-1.58zM217.23 1955.5h2.83V1977.7h-2.83zM229.68 1955.5h2.41V1977.7h-2.41zM232.57 1955.5h1.74V1977.7h-1.74zM234.91 1955.5h1.64V1977.7h-1.64zM250.58 1955.5h1.61V1977.7h-1.61zM252.65 1955.5h1.78V1977.7h-1.78zM254.84 1955.5h0.95V1977.7h-0.95zM257.1 1955.5h1.95V1977.7h-1.95zM259.71 1955.5h1.78V1977.7h-1.78zM266.24 1955.5h2.61V1977.7h-2.61zM271.47 1955.5h1.58V1977.7h-1.58zM273.74 1955.5h1.78V1977.7h-1.78zM275.93 1955.5h0.76V1977.7h-0.76zM280.61 1955.5h1.93V1977.7h-1.93zM282.87 1955.5h1.56V1977.7h-1.56zM287.14 1955.5h1.84V1977.7h-1.84zM292.36 1955.5h2.07V1977.7h-2.07zM302.81 1955.5h1.5V1977.7h-1.5zM305.42 1955.5h2.61V1977.7h-2.61zM315.86 1955.5h1.5V1977.7h-1.5zM342.5 1955.5h1.5V1977.7h-1.5zM351.12 1955.5h2.43V1977.7h-2.43zM354.2 1955.5h1.73V1977.7h-1.73zM358.95 1955.5h2.61V1977.7h-2.61zM364.18 1955.5h1.85V1977.7h-1.85zM369.4 1955.5h2.73V1977.7h-2.73zM372.81 1955.5h0.51V1977.7h-0.51zM383.76 1955.5h2.99V1977.7h-2.99zM391.6 1955.5h1.5V1977.7h-1.5zM403.35 1955.5h1.5V1977.7h-1.5zM408.57 1955.5h2.16V1977.7h-2.16zM411.07 1955.5h1.47V1977.7h-1.47zM413.23 1955.5h0.57V1977.7h-0.57zM420.32 1955.5h1.5V1977.7h-1.5zM425.55 1955.5h1.86V1977.7h-1.86zM428.04 1955.5h1.43V1977.7h-1.43zM435.99 1955.5h1.5V1977.7h-1.5zM443.83 1955.5h1.72V1977.7h-1.72zM446.13 1955.5h0.83V1977.7h-0.83zM459.5 1955.5h1.5V1977.7h-1.5zM466.03 1955.5h1.5V1977.7h-1.5zM472.55 1955.5h2.41V1977.7h-2.41zM481.69 1955.5h2.51V1977.7h-2.51zM484.61 1955.5h3.05V1977.7h-3.05zM497.36 1955.5h1.5V1977.7h-1.5zM509.12 1955.5h1.5V1977.7h-1.5zM516.95 1955.5h1.43V1977.7h-1.43zM518.79 1955.5h2.08V1977.7h-2.08zM523.48 1955.5h1.72V1977.7h-1.72zM525.64 1955.5h1.75V1977.7h-1.75zM539.15 1955.5h1.5V1977.7h-1.5zM554.82 1955.5h2.05V1977.7h-2.05zM557.52 1955.5h3.16V1977.7h-3.16zM561.25 1955.5h2.64V1977.7h-2.64zM564.43 1955.5h0.83V1977.7h-0.83zM569.18 1955.5h1.83V1977.7h-1.83z" fill="#000" fill-opacity="0.13"/>
<rect x="137.5" y="1979.4" width="446.5" height="125.6" fill="#fff"/>
<path d="M137.5 2006.3H584M137.5 2038.3H584M137.5 2070.3H584M137.5 2102.3H584M287.3 1979.4V2105M437 1979.4V2105" stroke="#e7e7e7" stroke-width="2.3" fill="none"/>
<path d="M137.5 2022.3H584M137.5 2054.3H584M137.5 2086.3H584M137.5 1990.3H584M212.45 1979.4V2105M362.15 1979.4V2105M511.85 1979.4V2105" stroke="#ebebeb" stroke-width="1.2" fill="none"/>
<path d="M137.5 2070.3L137.5 2040.86L141.07 2053.92L148.66 2060.32L164.29 2063.26L191.08 2065.56L235.73 2067.61L293.77 2069.15L356.28 2070.3L441.12 2072.09L499.17 2073.88L543.82 2076.7L566.14 2080.28L577.3 2086.17L581.77 2091.55L584 2100.38L584 2070.3Z" fill="#bdbdbd"/>
<circle cx="354.95" cy="2070.3" r="1.4" fill="#bdbdbd"/>
<rect x="137.5" y="1659.7" width="446.5" height="237.5" fill="none" stroke="#000" stroke-width="1.9"/>
<rect x="137.5" y="1897.9" width="446.5" height="80.65" fill="none" stroke="#000" stroke-width="1.9"/>
<rect x="137.5" y="1979.4" width="446.5" height="125.6" fill="none" stroke="#000" stroke-width="1.9"/>
<path d="M133 1681.9H137.5M133 1723.7H137.5M133 1765.8H137.5M133 1807.6H137.5M133 1849.4H137.5M133 1891.2H137.5M133 2006.3H137.5M133 2038.3H137.5M133 2070.3H137.5M133 2102.3H137.5M287.3 2105V2109.5M437 2105V2109.5" stroke="#111" stroke-width="1.3" fill="none"/>
<text x="124.2" y="1687.4" font-size="15.6" text-anchor="end" fill="#111">0.4</text>
<text x="124.2" y="1729.2" font-size="15.6" text-anchor="end" fill="#111">0.3</text>
<text x="124.2" y="1771.3" font-size="15.6" text-anchor="end" fill="#111">0.2</text>
<text x="124.2" y="1813.1" font-size="15.6" text-anchor="end" fill="#111">0.1</text>
<text x="124.2" y="1854.9" font-size="15.6" text-anchor="end" fill="#111">0.0</text>
<text x="124.2" y="1896.7" font-size="15.6" text-anchor="end" fill="#111">−0.1</text>
<text x="124.2" y="2011.8" font-size="15.6" text-anchor="end" fill="#111">5.0</text>
<text x="124.2" y="2043.8" font-size="15.6" text-anchor="end" fill="#111">2.5</text>
<text x="124.2" y="2075.8" font-size="15.6" text-anchor="end" fill="#111">0.0</text>
<text x="124.2" y="2107.8" font-size="15.6" text-anchor="end" fill="#111">−2.5</text>
<text x="287.3" y="2131" font-size="15.6" text-anchor="middle" fill="#111">5000</text>
<text x="437" y="2131" font-size="15.6" text-anchor="middle" fill="#111">10000</text>
<text x="172.4" y="1653.4" font-size="19" textLength="376" lengthAdjust="spacingAndGlyphs">HALLMARK_INFLAMMATORY_RESPONSE</text>
<text font-size="19" text-anchor="middle" textLength="148" lengthAdjust="spacingAndGlyphs" transform="translate(80.6 1778.9) rotate(-90)">Enrichment Score</text>
<text font-size="19" text-anchor="middle" textLength="148" lengthAdjust="spacingAndGlyphs" transform="translate(80.6 2041.8) rotate(-90)">Ranked list metric</text>
<text x="255.9" y="2154.9" font-size="19" textLength="208.8" lengthAdjust="spacingAndGlyphs">Rank in Ordered Dataset</text>
<rect x="771.2" y="1649.1" width="453.1" height="243.4" fill="#fff"/>
<path d="M771.2 1678.8H1224.3M771.2 1720.6H1224.3M771.2 1762H1224.3M771.2 1803.8H1224.3M771.2 1845.6H1224.3M771.2 1887H1224.3M923.1 1649.1V1892.5M1075.9 1649.1V1892.5" stroke="#e7e7e7" stroke-width="2.3" fill="none"/>
<path d="M771.2 1699.7H1224.3M771.2 1741.5H1224.3M771.2 1782.9H1224.3M771.2 1824.7H1224.3M771.2 1866.5H1224.3M771.2 1657.9H1224.3M846.7 1649.1V1892.5M999.5 1649.1V1892.5M1152.3 1649.1V1892.5" stroke="#ebebeb" stroke-width="1.2" fill="none"/>
<line x1="771.2" y1="1845.6" x2="1224.3" y2="1845.6" stroke="#8c8c8c" stroke-width="1.5"/>
<polyline points="771.2,1845.5 771.8,1800.6 776.5,1804.5 777.2,1765.4 777.8,1746.5 778.3,1728.3 780.9,1731.4 781.7,1685.7 784.8,1689.1 785.6,1676.6 789.5,1680.5 790.6,1668.2 793.7,1671.3 796.8,1674.3 800,1677.4 803.1,1680.5 803.9,1671.9 806.5,1673.9 807,1666.1 808.6,1667.2 809.1,1659.6 812.4,1662.9 815.8,1666.1 819.2,1669.4 822.5,1672.6 825.9,1675.9 829.2,1679.2 830,1672.6 833.6,1676.1 837.3,1679.6 841,1683.1 841.7,1672.6 843.6,1673.4 844.4,1663.5 847.6,1666.6 850.8,1669.6 854.1,1672.7 857.3,1675.7 860.6,1678.8 863.8,1681.9 867.1,1684.9 868.4,1681.3 872.3,1684.8 876.2,1688.3 877.5,1684.9 881.4,1688.8 885.4,1692.8 889.3,1696.7 891.1,1694.1 895,1698 898.9,1701.9 901,1694.1 904.9,1692.2 908.9,1694.8 910.2,1693.5 915.4,1698 916.7,1695.4 920.2,1695.4 923.7,1695.4 927.1,1695.4 930.4,1698 933.7,1700.6 937.6,1698 940.8,1701.1 944.1,1704.2 947.4,1707.4 950.6,1710.5 953.3,1711 956.3,1714 959.3,1717 962.4,1719.9 965.4,1722.9 968.5,1725.8 971.5,1728.8 976.8,1731.4 980.2,1734.7 983.7,1737.9 987.2,1741.2 990.7,1744.5 994.2,1747.7 997.6,1751 1000.3,1752.3 1003.5,1755.3 1006.6,1758.2 1009.8,1761.2 1013,1764.1 1016.2,1767.1 1019.4,1770.1 1022.6,1773 1025.8,1776 1029,1778.9 1031.6,1779.7 1036.8,1784.9 1038.1,1784.2 1041.5,1787.3 1044.8,1790.5 1048.2,1793.7 1051.6,1796.8 1054.9,1800 1058.3,1803.2 1061.6,1806.4 1063.5,1805 1066.7,1808.5 1070,1812 1073.3,1815.4 1076.5,1818.9 1078.6,1816.8 1081.9,1820.1 1085.1,1823.3 1087,1820.2 1090.1,1823.2 1093.3,1826.3 1096.5,1829.3 1099.7,1832.4 1102.8,1835.4 1106,1838.5 1107.3,1835.3 1111,1838.5 1114.6,1841.6 1117.8,1835.1 1121.1,1838 1124.4,1840.8 1127.7,1843.7 1128.7,1839.8 1132.5,1843.5 1136.2,1847.3 1140,1851 1141.3,1845 1145.2,1848.5 1149.1,1852.1 1150.4,1846.8 1153.8,1849.9 1157.1,1853 1160.5,1856 1163.9,1859.1 1167.2,1862.2 1170.6,1865.2 1174,1868.3 1177.3,1871.4 1178.4,1862.5 1181.4,1865.3 1184.4,1868.2 1187.4,1871 1190.5,1873.8 1193.5,1876.7 1196.5,1879.5 1199.5,1882.3 1200.3,1869.8 1204.1,1873.5 1208,1877.1 1211.8,1880.8 1212.6,1864.6 1216.2,1868.1 1219.9,1871.6 1223.5,1875 1224.3,1845.5" fill="none" stroke="#3fa9c5" stroke-width="2.1" stroke-linejoin="round"/>
<text x="1214.5" y="1669.4" font-size="13.5" text-anchor="end" fill="#111">NES = 1.682</text>
<text x="1214.5" y="1689.2" font-size="13.5" text-anchor="end" fill="#111">p.adj = 0.039</text>
<text x="1214.5" y="1708.4" font-size="13.5" text-anchor="end" fill="#111">FDR = 0.029</text>
<rect x="771.2" y="1893.8" width="453.1" height="81.8" fill="#fff"/>
<rect x="771.23" y="1952.1" width="106.29" height="23.5" fill="#d5413b"/>
<rect x="877.52" y="1952.1" width="87.49" height="23.5" fill="#ed7559"/>
<rect x="965" y="1952.1" width="78.87" height="23.5" fill="#f4ae95"/>
<rect x="1043.87" y="1952.1" width="32.12" height="23.5" fill="#fbe1d5"/>
<rect x="1075.99" y="1952.1" width="19.59" height="23.5" fill="#eef1f8"/>
<rect x="1095.58" y="1952.1" width="58.24" height="23.5" fill="#bdd5e5"/>
<rect x="1153.82" y="1952.1" width="55.89" height="23.5" fill="#77abd0"/>
<rect x="1209.7" y="1952.1" width="14.62" height="23.5" fill="#4180b6"/>
<path d="M772.3 1893.8h1.51V1952.1h-1.51zM775.43 1893.8h1.51V1952.1h-1.51zM777.52 1893.8h1.51V1952.1h-1.51zM780.13 1893.8h1.51V1952.1h-1.51zM782.22 1893.8h1.51V1952.1h-1.51zM785.36 1893.8h1.51V1952.1h-1.51zM789.28 1893.8h1.51V1952.1h-1.51zM802.33 1893.8h1.51V1952.1h-1.51zM806.25 1893.8h1.51V1952.1h-1.51zM807.29 1893.8h1.51V1952.1h-1.51zM808.34 1893.8h1.51V1952.1h-1.51zM828.45 1893.8h1.51V1952.1h-1.51zM840.2 1893.8h1.51V1952.1h-1.51zM841.77 1893.8h1.51V1952.1h-1.51zM843.33 1893.8h1.51V1952.1h-1.51zM866.84 1893.8h1.51V1952.1h-1.51zM875.98 1893.8h1.51V1952.1h-1.51zM889.82 1893.8h1.51V1952.1h-1.51zM898.18 1893.8h1.51V1952.1h-1.51zM899.74 1893.8h1.51V1952.1h-1.51zM901.31 1893.8h1.51V1952.1h-1.51zM902.88 1893.8h1.51V1952.1h-1.51zM904.44 1893.8h1.51V1952.1h-1.51zM908.62 1893.8h1.51V1952.1h-1.51zM914.63 1893.8h1.51V1952.1h-1.51zM916.19 1893.8h1.51V1952.1h-1.51zM917.76 1893.8h1.51V1952.1h-1.51zM919.33 1893.8h1.51V1952.1h-1.51zM920.9 1893.8h1.51V1952.1h-1.51zM922.46 1893.8h1.51V1952.1h-1.51zM924.03 1893.8h1.51V1952.1h-1.51zM925.6 1893.8h1.51V1952.1h-1.51zM932.91 1893.8h1.51V1952.1h-1.51zM934.74 1893.8h1.51V1952.1h-1.51zM936.83 1893.8h1.51V1952.1h-1.51zM951.19 1893.8h1.51V1952.1h-1.51zM971.3 1893.8h1.51V1952.1h-1.51zM972.6 1893.8h1.51V1952.1h-1.51zM973.91 1893.8h1.51V1952.1h-1.51zM975.21 1893.8h1.51V1952.1h-1.51zM996.89 1893.8h1.51V1952.1h-1.51zM998.2 1893.8h1.51V1952.1h-1.51zM999.5 1893.8h1.51V1952.1h-1.51zM1029.53 1893.8h1.51V1952.1h-1.51zM1036.59 1893.8h1.51V1952.1h-1.51zM1062.18 1893.8h1.51V1952.1h-1.51zM1077.32 1893.8h1.51V1952.1h-1.51zM1085.16 1893.8h1.51V1952.1h-1.51zM1106.05 1893.8h1.51V1952.1h-1.51zM1113.89 1893.8h1.51V1952.1h-1.51zM1115.45 1893.8h1.51V1952.1h-1.51zM1117.02 1893.8h1.51V1952.1h-1.51zM1127.99 1893.8h1.51V1952.1h-1.51zM1140 1893.8h1.51V1952.1h-1.51zM1148.36 1893.8h1.51V1952.1h-1.51zM1177.08 1893.8h1.51V1952.1h-1.51zM1199.02 1893.8h1.51V1952.1h-1.51zM1212.34 1893.8h1.51V1952.1h-1.51zM1222.79 1893.8h1.51V1952.1h-1.51z" fill="#000"/>
<path d="M772.3 1952.1h1.51V1975.6h-1.51zM775.43 1952.1h1.51V1975.6h-1.51zM777.52 1952.1h1.51V1975.6h-1.51zM780.13 1952.1h1.51V1975.6h-1.51zM782.22 1952.1h1.51V1975.6h-1.51zM785.36 1952.1h1.51V1975.6h-1.51zM789.28 1952.1h1.51V1975.6h-1.51zM802.33 1952.1h1.51V1975.6h-1.51zM806.25 1952.1h1.51V1975.6h-1.51zM807.29 1952.1h1.51V1975.6h-1.51zM808.34 1952.1h1.51V1975.6h-1.51zM828.45 1952.1h1.51V1975.6h-1.51zM840.2 1952.1h1.51V1975.6h-1.51zM841.77 1952.1h1.51V1975.6h-1.51zM843.33 1952.1h1.51V1975.6h-1.51zM866.84 1952.1h1.51V1975.6h-1.51zM875.98 1952.1h1.51V1975.6h-1.51zM889.82 1952.1h1.51V1975.6h-1.51zM898.18 1952.1h1.51V1975.6h-1.51zM899.74 1952.1h1.51V1975.6h-1.51zM901.31 1952.1h1.51V1975.6h-1.51zM902.88 1952.1h1.51V1975.6h-1.51zM904.44 1952.1h1.51V1975.6h-1.51zM908.62 1952.1h1.51V1975.6h-1.51zM914.63 1952.1h1.51V1975.6h-1.51zM916.19 1952.1h1.51V1975.6h-1.51zM917.76 1952.1h1.51V1975.6h-1.51zM919.33 1952.1h1.51V1975.6h-1.51zM920.9 1952.1h1.51V1975.6h-1.51zM922.46 1952.1h1.51V1975.6h-1.51zM924.03 1952.1h1.51V1975.6h-1.51zM925.6 1952.1h1.51V1975.6h-1.51zM932.91 1952.1h1.51V1975.6h-1.51zM934.74 1952.1h1.51V1975.6h-1.51zM936.83 1952.1h1.51V1975.6h-1.51zM951.19 1952.1h1.51V1975.6h-1.51zM971.3 1952.1h1.51V1975.6h-1.51zM972.6 1952.1h1.51V1975.6h-1.51zM973.91 1952.1h1.51V1975.6h-1.51zM975.21 1952.1h1.51V1975.6h-1.51zM996.89 1952.1h1.51V1975.6h-1.51zM998.2 1952.1h1.51V1975.6h-1.51zM999.5 1952.1h1.51V1975.6h-1.51zM1029.53 1952.1h1.51V1975.6h-1.51zM1036.59 1952.1h1.51V1975.6h-1.51zM1062.18 1952.1h1.51V1975.6h-1.51zM1077.32 1952.1h1.51V1975.6h-1.51zM1085.16 1952.1h1.51V1975.6h-1.51zM1106.05 1952.1h1.51V1975.6h-1.51zM1113.89 1952.1h1.51V1975.6h-1.51zM1115.45 1952.1h1.51V1975.6h-1.51zM1117.02 1952.1h1.51V1975.6h-1.51zM1127.99 1952.1h1.51V1975.6h-1.51zM1140 1952.1h1.51V1975.6h-1.51zM1148.36 1952.1h1.51V1975.6h-1.51zM1177.08 1952.1h1.51V1975.6h-1.51zM1199.02 1952.1h1.51V1975.6h-1.51zM1212.34 1952.1h1.51V1975.6h-1.51zM1222.79 1952.1h1.51V1975.6h-1.51z" fill="#000" fill-opacity="0.13"/>
<rect x="771.2" y="1977.3" width="453.1" height="129.5" fill="#fff"/>
<path d="M771.2 2004.4H1224.3M771.2 2037.4H1224.3M771.2 2070.5H1224.3M771.2 2103.2H1224.3M923.1 1977.3V2106.8M1075.9 1977.3V2106.8" stroke="#e7e7e7" stroke-width="2.3" fill="none"/>
<path d="M771.2 2020.9H1224.3M771.2 2053.9H1224.3M771.2 2087H1224.3M771.2 1987.9H1224.3M846.7 1977.3V2106.8M999.5 1977.3V2106.8M1152.3 1977.3V2106.8" stroke="#ebebeb" stroke-width="1.2" fill="none"/>
<path d="M771.2 2070.5L771.2 2040.05L774.82 2053.55L782.53 2060.17L798.39 2063.22L825.57 2065.6L870.88 2067.72L929.78 2069.31L993.22 2070.5L1079.31 2072.35L1138.21 2074.21L1183.52 2077.12L1206.18 2080.83L1217.5 2086.92L1222.03 2092.48L1224.3 2101.61L1224.3 2070.5Z" fill="#bdbdbd"/>
<circle cx="991.86" cy="2070.5" r="1.4" fill="#bdbdbd"/>
<rect x="771.2" y="1649.1" width="453.1" height="243.4" fill="none" stroke="#000" stroke-width="1.9"/>
<rect x="771.2" y="1893.15" width="453.1" height="83.3" fill="none" stroke="#000" stroke-width="1.9"/>
<rect x="771.2" y="1977.3" width="453.1" height="129.5" fill="none" stroke="#000" stroke-width="1.9"/>
<path d="M766.7 1678.8H771.2M766.7 1720.6H771.2M766.7 1762H771.2M766.7 1803.8H771.2M766.7 1845.6H771.2M766.7 1887H771.2M766.7 2004.4H771.2M766.7 2037.4H771.2M766.7 2070.5H771.2M766.7 2103.2H771.2M923.1 2106.8V2111.3M1075.9 2106.8V2111.3" stroke="#111" stroke-width="1.3" fill="none"/>
<text x="757.2" y="1684.3" font-size="15.6" text-anchor="end" fill="#111">0.4</text>
<text x="757.2" y="1726.1" font-size="15.6" text-anchor="end" fill="#111">0.3</text>
<text x="757.2" y="1767.5" font-size="15.6" text-anchor="end" fill="#111">0.2</text>
<text x="757.2" y="1809.3" font-size="15.6" text-anchor="end" fill="#111">0.1</text>
<text x="757.2" y="1851.1" font-size="15.6" text-anchor="end" fill="#111">0.0</text>
<text x="757.2" y="1892.5" font-size="15.6" text-anchor="end" fill="#111">−0.1</text>
<text x="757.2" y="2009.9" font-size="15.6" text-anchor="end" fill="#111">5.0</text>
<text x="757.2" y="2042.9" font-size="15.6" text-anchor="end" fill="#111">2.5</text>
<text x="757.2" y="2076" font-size="15.6" text-anchor="end" fill="#111">0.0</text>
<text x="757.2" y="2108.7" font-size="15.6" text-anchor="end" fill="#111">−2.5</text>
<text x="923.1" y="2132.6" font-size="15.6" text-anchor="middle" fill="#111">5000</text>
<text x="1075.9" y="2132.6" font-size="15.6" text-anchor="middle" fill="#111">10000</text>
<text x="813" y="1642.2" font-size="19" textLength="369.2" lengthAdjust="spacingAndGlyphs">HALLMARK_IL6_JAK_STAT3_SIGNALING</text>
<text font-size="19" text-anchor="middle" textLength="153" lengthAdjust="spacingAndGlyphs" transform="translate(713.7 1771.1) rotate(-90)">Enrichment Score</text>
<text font-size="19" text-anchor="middle" textLength="154" lengthAdjust="spacingAndGlyphs" transform="translate(713.7 2041.2) rotate(-90)">Ranked list metric</text>
<text x="891.4" y="2157.6" font-size="19" textLength="212.4" lengthAdjust="spacingAndGlyphs">Rank in Ordered Dataset</text>
<rect x="1397" y="1655.4" width="451.2" height="243.2" fill="#fff"/>
<path d="M1397 1681.5H1848.2M1397 1759.4H1848.2M1397 1837.3H1848.2M1548.5 1655.4V1898.6M1699.7 1655.4V1898.6" stroke="#e7e7e7" stroke-width="2.3" fill="none"/>
<path d="M1397 1720.45H1848.2M1397 1798.35H1848.2M1397 1876.25H1848.2M1472.9 1655.4V1898.6M1624.1 1655.4V1898.6M1775.3 1655.4V1898.6" stroke="#ebebeb" stroke-width="1.2" fill="none"/>
<line x1="1397" y1="1837.3" x2="1848.2" y2="1837.3" stroke="#8c8c8c" stroke-width="1.5"/>
<polyline points="1397,1837.5 1397.2,1791.2 1398.8,1767.7 1400.9,1744.2 1403,1723.3 1404,1715 1406.1,1716 1408.2,1711.6 1410.8,1712.9 1411.9,1706.4 1415.3,1697.2 1417.1,1694.1 1420.5,1694.6 1421.8,1689.4 1423.1,1684.2 1426.5,1683.7 1428.3,1678.9 1432.2,1672.4 1434.8,1673.2 1437.5,1668 1440.6,1670.6 1444,1669 1447.4,1667.2 1451.8,1671.1 1455.7,1669.3 1461,1671.9 1466.2,1674.2 1470.1,1674.2 1475.3,1678.4 1479.2,1679.7 1484.5,1684.2 1489.7,1686.8 1494.9,1690.7 1500.1,1690.7 1505.4,1694.6 1510.6,1697.2 1515.8,1700.6 1519.1,1701.9 1522.3,1703.8 1525.6,1704.9 1528.9,1705.6 1532.8,1709.1 1536.7,1712.1 1540.6,1714.6 1544.5,1716 1547.8,1718.2 1551.1,1720.9 1554.3,1723.4 1557.6,1726.5 1560.8,1728.6 1564.1,1731.8 1567.4,1733.4 1570.6,1736.4 1573.8,1738.5 1576.9,1740.2 1580,1742.4 1583.2,1744.7 1586.3,1746.8 1589.4,1749.9 1592.6,1752.2 1595.7,1754 1598.8,1757 1602,1759.9 1605,1762 1608.1,1765.6 1611.1,1768.2 1614.2,1770.8 1617.2,1773.4 1620.3,1775.6 1623.7,1779 1627.2,1782.3 1630.7,1785.1 1634.2,1787.4 1637.7,1791.3 1641.2,1793.9 1644.6,1796.4 1648.1,1799.4 1651.6,1801.8 1655.1,1804.2 1658.6,1806.7 1662,1809.5 1665.2,1811.8 1668.3,1814 1671.4,1816 1674.6,1819.4 1677.7,1821.3 1681.2,1824.6 1684.7,1827.7 1688.2,1829.9 1691.4,1832.1 1694.7,1833.8 1698,1835.9 1701.2,1837.5 1704.5,1839.8 1707.7,1843.3 1711,1845.8 1714.3,1848.7 1717.9,1851.1 1721.5,1853.9 1725,1857.2 1728.6,1859.9 1731.7,1860.6 1734.7,1862 1737.8,1863.1 1741.7,1861.2 1745.6,1861.8 1749.5,1863.9 1753.4,1865.7 1757.4,1867.7 1761.3,1870.1 1764.3,1871.6 1767.4,1874.1 1770.4,1876.1 1773.7,1875.1 1776.9,1874.8 1780.2,1874.2 1783.5,1874.3 1786.7,1873.5 1790,1873.5 1793.5,1875.9 1797,1878.1 1800.5,1881.3 1803.9,1883.7 1807.4,1886.3 1810.9,1887.9 1814,1886.6 1816.1,1882.1 1821.3,1880 1824,1876.1 1826.6,1875.3 1830.5,1870.1 1835.7,1874.3 1839.6,1877.4 1843.5,1872.2 1846.2,1867 1848.2,1851.3" fill="none" stroke="#3fa9c5" stroke-width="2.1" stroke-linejoin="round"/>
<text x="1838.9" y="1675.8" font-size="13.5" text-anchor="end" fill="#111">NES = 2.023</text>
<text x="1838.9" y="1695.9" font-size="13.5" text-anchor="end" fill="#111">p.adj = 0.023</text>
<text x="1838.9" y="1715.9" font-size="13.5" text-anchor="end" fill="#111">FDR = 0.017</text>
<rect x="1397" y="1900.4" width="451.2" height="81" fill="#fff"/>
<rect x="1396.97" y="1958.4" width="61.37" height="23" fill="#c9312a"/>
<rect x="1458.35" y="1958.4" width="51.45" height="23" fill="#ea6f51"/>
<rect x="1509.79" y="1958.4" width="88.27" height="23" fill="#f1a98d"/>
<rect x="1598.06" y="1958.4" width="88.01" height="23" fill="#fbe1d5"/>
<rect x="1686.07" y="1958.4" width="60.85" height="23" fill="#ebeff8"/>
<rect x="1746.92" y="1958.4" width="62.68" height="23" fill="#bcd4e4"/>
<rect x="1809.59" y="1958.4" width="23.5" height="23" fill="#6fa3c8"/>
<rect x="1833.1" y="1958.4" width="15.15" height="23" fill="#3a7cb2"/>
<path d="M1396.97 1900.4h2.1V1958.4h-2.1zM1399.66 1900.4h0.87V1958.4h-0.87zM1400.78 1900.4h1.66V1958.4h-1.66zM1403.05 1900.4h0.88V1958.4h-0.88zM1404.17 1900.4h2.12V1958.4h-2.12zM1406.4 1900.4h1.69V1958.4h-1.69zM1408.56 1900.4h0.78V1958.4h-0.78zM1409.56 1900.4h2.55V1958.4h-2.55zM1412.3 1900.4h2.16V1958.4h-2.16zM1414.53 1900.4h1.61V1958.4h-1.61zM1416.22 1900.4h2.72V1958.4h-2.72zM1419.13 1900.4h2.69V1958.4h-2.69zM1422.18 1900.4h0.62V1958.4h-0.62zM1423.02 1900.4h1.5V1958.4h-1.5zM1424.42 1900.4h1.61V1958.4h-1.61zM1426.15 1900.4h1.88V1958.4h-1.88zM1428.1 1900.4h1.69V1958.4h-1.69zM1429.81 1900.4h2.05V1958.4h-2.05zM1431.94 1900.4h1.5V1958.4h-1.5zM1437.59 1900.4h1.5V1958.4h-1.5zM1439.26 1900.4h1.5V1958.4h-1.5zM1441.23 1900.4h1.5V1958.4h-1.5zM1443.63 1900.4h2.28V1958.4h-2.28zM1446.85 1900.4h2.51V1958.4h-2.51zM1449.89 1900.4h0.64V1958.4h-0.64zM1451.9 1900.4h1.85V1958.4h-1.85zM1454.54 1900.4h1.87V1958.4h-1.87zM1457.91 1900.4h1.94V1958.4h-1.94zM1460.77 1900.4h2.71V1958.4h-2.71zM1463.91 1900.4h0.65V1958.4h-0.65zM1467.1 1900.4h2V1958.4h-2zM1470.3 1900.4h1.5V1958.4h-1.5zM1472.28 1900.4h2.56V1958.4h-2.56zM1476.02 1900.4h1.83V1958.4h-1.83zM1479.32 1900.4h1.81V1958.4h-1.81zM1481.45 1900.4h0.77V1958.4h-0.77zM1482.67 1900.4h2.38V1958.4h-2.38zM1485.37 1900.4h0.82V1958.4h-0.82zM1487.23 1900.4h1.5V1958.4h-1.5zM1489.53 1900.4h1.98V1958.4h-1.98zM1492.72 1900.4h1.57V1958.4h-1.57zM1494.59 1900.4h3.2V1958.4h-3.2zM1502.01 1900.4h1.94V1958.4h-1.94zM1504.36 1900.4h1.27V1958.4h-1.27zM1508.65 1900.4h2.25V1958.4h-2.25zM1511.34 1900.4h1.38V1958.4h-1.38zM1515.1 1900.4h2V1958.4h-2zM1517.6 1900.4h1.48V1958.4h-1.48zM1521.52 1900.4h1.97V1958.4h-1.97zM1523.9 1900.4h2.25V1958.4h-2.25zM1527.67 1900.4h1.5V1958.4h-1.5zM1530.38 1900.4h1.93V1958.4h-1.93zM1532.62 1900.4h1.21V1958.4h-1.21zM1536.33 1900.4h2.73V1958.4h-2.73zM1539.46 1900.4h1.88V1958.4h-1.88zM1544.62 1900.4h1.87V1958.4h-1.87zM1547.02 1900.4h0.97V1958.4h-0.97zM1549.52 1900.4h1.92V1958.4h-1.92zM1551.82 1900.4h2.03V1958.4h-2.03zM1555.18 1900.4h1.5V1958.4h-1.5zM1557.31 1900.4h2.03V1958.4h-2.03zM1559.8 1900.4h2.12V1958.4h-2.12zM1562.25 1900.4h0.99V1958.4h-0.99zM1565.64 1900.4h1.41V1958.4h-1.41zM1567.66 1900.4h1.74V1958.4h-1.74zM1569.89 1900.4h1.26V1958.4h-1.26zM1575.07 1900.4h1.87V1958.4h-1.87zM1577.21 1900.4h1.92V1958.4h-1.92zM1579.6 1900.4h0.97V1958.4h-0.97zM1581.88 1900.4h1.6V1958.4h-1.6zM1584.11 1900.4h1.6V1958.4h-1.6zM1586.51 1900.4h1.5V1958.4h-1.5zM1588.84 1900.4h1.54V1958.4h-1.54zM1591.56 1900.4h1.79V1958.4h-1.79zM1597.94 1900.4h1.82V1958.4h-1.82zM1600.69 1900.4h1.5V1958.4h-1.5zM1604.01 1900.4h1.56V1958.4h-1.56zM1609.39 1900.4h1.5V1958.4h-1.5zM1612.95 1900.4h2.1V1958.4h-2.1zM1617.57 1900.4h1.5V1958.4h-1.5zM1622.4 1900.4h1.5V1958.4h-1.5zM1631.63 1900.4h1.85V1958.4h-1.85zM1634.52 1900.4h1.63V1958.4h-1.63zM1636.59 1900.4h0.57V1958.4h-0.57zM1640.54 1900.4h3.18V1958.4h-3.18zM1645.15 1900.4h1.8V1958.4h-1.8zM1647.86 1900.4h2.36V1958.4h-2.36zM1653.6 1900.4h2.68V1958.4h-2.68zM1660.13 1900.4h1.86V1958.4h-1.86zM1664.07 1900.4h3.01V1958.4h-3.01zM1667.59 1900.4h0.51V1958.4h-0.51zM1671.44 1900.4h1.54V1958.4h-1.54zM1674.92 1900.4h1.5V1958.4h-1.5zM1676.76 1900.4h1.65V1958.4h-1.65zM1679.86 1900.4h1.74V1958.4h-1.74zM1683.75 1900.4h1.5V1958.4h-1.5zM1685.79 1900.4h1.85V1958.4h-1.85zM1701.62 1900.4h1.91V1958.4h-1.91zM1716.36 1900.4h1.67V1958.4h-1.67zM1726.4 1900.4h2.07V1958.4h-2.07zM1729.82 1900.4h2.57V1958.4h-2.57zM1733.44 1900.4h2.69V1958.4h-2.69zM1736.7 1900.4h0.87V1958.4h-0.87zM1739.07 1900.4h1.66V1958.4h-1.66zM1742.22 1900.4h3.06V1958.4h-3.06zM1748.82 1900.4h2.43V1958.4h-2.43zM1751.8 1900.4h1.32V1958.4h-1.32zM1754.54 1900.4h1.61V1958.4h-1.61zM1756.5 1900.4h1.66V1958.4h-1.66zM1759.51 1900.4h2.36V1958.4h-2.36zM1762.29 1900.4h1.39V1958.4h-1.39zM1767.71 1900.4h1.52V1958.4h-1.52zM1769.52 1900.4h1.56V1958.4h-1.56zM1776.04 1900.4h2.16V1958.4h-2.16zM1781.1 1900.4h1.67V1958.4h-1.67zM1783.57 1900.4h1.45V1958.4h-1.45zM1785.62 1900.4h1.59V1958.4h-1.59zM1789.05 1900.4h1.78V1958.4h-1.78zM1792.56 1900.4h2.96V1958.4h-2.96zM1799 1900.4h1.91V1958.4h-1.91zM1802.27 1900.4h1.5V1958.4h-1.5zM1804.12 1900.4h2.86V1958.4h-2.86zM1807.63 1900.4h2.52V1958.4h-2.52zM1810.78 1900.4h1.76V1958.4h-1.76zM1812.91 1900.4h1.98V1958.4h-1.98zM1815.1 1900.4h2.77V1958.4h-2.77zM1818.22 1900.4h1.42V1958.4h-1.42zM1820.05 1900.4h2.25V1958.4h-2.25zM1822.7 1900.4h0.93V1958.4h-0.93zM1824.2 1900.4h1.76V1958.4h-1.76zM1826.22 1900.4h2.08V1958.4h-2.08zM1830.19 1900.4h1.41V1958.4h-1.41zM1831.91 1900.4h1.71V1958.4h-1.71zM1837.7 1900.4h2.25V1958.4h-2.25zM1840.8 1900.4h1.96V1958.4h-1.96zM1843.49 1900.4h1.74V1958.4h-1.74z" fill="#000"/>
<path d="M1396.97 1958.4h2.1V1981.4h-2.1zM1399.66 1958.4h0.87V1981.4h-0.87zM1400.78 1958.4h1.66V1981.4h-1.66zM1403.05 1958.4h0.88V1981.4h-0.88zM1404.17 1958.4h2.12V1981.4h-2.12zM1406.4 1958.4h1.69V1981.4h-1.69zM1408.56 1958.4h0.78V1981.4h-0.78zM1409.56 1958.4h2.55V1981.4h-2.55zM1412.3 1958.4h2.16V1981.4h-2.16zM1414.53 1958.4h1.61V1981.4h-1.61zM1416.22 1958.4h2.72V1981.4h-2.72zM1419.13 1958.4h2.69V1981.4h-2.69zM1422.18 1958.4h0.62V1981.4h-0.62zM1423.02 1958.4h1.5V1981.4h-1.5zM1424.42 1958.4h1.61V1981.4h-1.61zM1426.15 1958.4h1.88V1981.4h-1.88zM1428.1 1958.4h1.69V1981.4h-1.69zM1429.81 1958.4h2.05V1981.4h-2.05zM1431.94 1958.4h1.5V1981.4h-1.5zM1437.59 1958.4h1.5V1981.4h-1.5zM1439.26 1958.4h1.5V1981.4h-1.5zM1441.23 1958.4h1.5V1981.4h-1.5zM1443.63 1958.4h2.28V1981.4h-2.28zM1446.85 1958.4h2.51V1981.4h-2.51zM1449.89 1958.4h0.64V1981.4h-0.64zM1451.9 1958.4h1.85V1981.4h-1.85zM1454.54 1958.4h1.87V1981.4h-1.87zM1457.91 1958.4h1.94V1981.4h-1.94zM1460.77 1958.4h2.71V1981.4h-2.71zM1463.91 1958.4h0.65V1981.4h-0.65zM1467.1 1958.4h2V1981.4h-2zM1470.3 1958.4h1.5V1981.4h-1.5zM1472.28 1958.4h2.56V1981.4h-2.56zM1476.02 1958.4h1.83V1981.4h-1.83zM1479.32 1958.4h1.81V1981.4h-1.81zM1481.45 1958.4h0.77V1981.4h-0.77zM1482.67 1958.4h2.38V1981.4h-2.38zM1485.37 1958.4h0.82V1981.4h-0.82zM1487.23 1958.4h1.5V1981.4h-1.5zM1489.53 1958.4h1.98V1981.4h-1.98zM1492.72 1958.4h1.57V1981.4h-1.57zM1494.59 1958.4h3.2V1981.4h-3.2zM1502.01 1958.4h1.94V1981.4h-1.94zM1504.36 1958.4h1.27V1981.4h-1.27zM1508.65 1958.4h2.25V1981.4h-2.25zM1511.34 1958.4h1.38V1981.4h-1.38zM1515.1 1958.4h2V1981.4h-2zM1517.6 1958.4h1.48V1981.4h-1.48zM1521.52 1958.4h1.97V1981.4h-1.97zM1523.9 1958.4h2.25V1981.4h-2.25zM1527.67 1958.4h1.5V1981.4h-1.5zM1530.38 1958.4h1.93V1981.4h-1.93zM1532.62 1958.4h1.21V1981.4h-1.21zM1536.33 1958.4h2.73V1981.4h-2.73zM1539.46 1958.4h1.88V1981.4h-1.88zM1544.62 1958.4h1.87V1981.4h-1.87zM1547.02 1958.4h0.97V1981.4h-0.97zM1549.52 1958.4h1.92V1981.4h-1.92zM1551.82 1958.4h2.03V1981.4h-2.03zM1555.18 1958.4h1.5V1981.4h-1.5zM1557.31 1958.4h2.03V1981.4h-2.03zM1559.8 1958.4h2.12V1981.4h-2.12zM1562.25 1958.4h0.99V1981.4h-0.99zM1565.64 1958.4h1.41V1981.4h-1.41zM1567.66 1958.4h1.74V1981.4h-1.74zM1569.89 1958.4h1.26V1981.4h-1.26zM1575.07 1958.4h1.87V1981.4h-1.87zM1577.21 1958.4h1.92V1981.4h-1.92zM1579.6 1958.4h0.97V1981.4h-0.97zM1581.88 1958.4h1.6V1981.4h-1.6zM1584.11 1958.4h1.6V1981.4h-1.6zM1586.51 1958.4h1.5V1981.4h-1.5zM1588.84 1958.4h1.54V1981.4h-1.54zM1591.56 1958.4h1.79V1981.4h-1.79zM1597.94 1958.4h1.82V1981.4h-1.82zM1600.69 1958.4h1.5V1981.4h-1.5zM1604.01 1958.4h1.56V1981.4h-1.56zM1609.39 1958.4h1.5V1981.4h-1.5zM1612.95 1958.4h2.1V1981.4h-2.1zM1617.57 1958.4h1.5V1981.4h-1.5zM1622.4 1958.4h1.5V1981.4h-1.5zM1631.63 1958.4h1.85V1981.4h-1.85zM1634.52 1958.4h1.63V1981.4h-1.63zM1636.59 1958.4h0.57V1981.4h-0.57zM1640.54 1958.4h3.18V1981.4h-3.18zM1645.15 1958.4h1.8V1981.4h-1.8zM1647.86 1958.4h2.36V1981.4h-2.36zM1653.6 1958.4h2.68V1981.4h-2.68zM1660.13 1958.4h1.86V1981.4h-1.86zM1664.07 1958.4h3.01V1981.4h-3.01zM1667.59 1958.4h0.51V1981.4h-0.51zM1671.44 1958.4h1.54V1981.4h-1.54zM1674.92 1958.4h1.5V1981.4h-1.5zM1676.76 1958.4h1.65V1981.4h-1.65zM1679.86 1958.4h1.74V1981.4h-1.74zM1683.75 1958.4h1.5V1981.4h-1.5zM1685.79 1958.4h1.85V1981.4h-1.85zM1701.62 1958.4h1.91V1981.4h-1.91zM1716.36 1958.4h1.67V1981.4h-1.67zM1726.4 1958.4h2.07V1981.4h-2.07zM1729.82 1958.4h2.57V1981.4h-2.57zM1733.44 1958.4h2.69V1981.4h-2.69zM1736.7 1958.4h0.87V1981.4h-0.87zM1739.07 1958.4h1.66V1981.4h-1.66zM1742.22 1958.4h3.06V1981.4h-3.06zM1748.82 1958.4h2.43V1981.4h-2.43zM1751.8 1958.4h1.32V1981.4h-1.32zM1754.54 1958.4h1.61V1981.4h-1.61zM1756.5 1958.4h1.66V1981.4h-1.66zM1759.51 1958.4h2.36V1981.4h-2.36zM1762.29 1958.4h1.39V1981.4h-1.39zM1767.71 1958.4h1.52V1981.4h-1.52zM1769.52 1958.4h1.56V1981.4h-1.56zM1776.04 1958.4h2.16V1981.4h-2.16zM1781.1 1958.4h1.67V1981.4h-1.67zM1783.57 1958.4h1.45V1981.4h-1.45zM1785.62 1958.4h1.59V1981.4h-1.59zM1789.05 1958.4h1.78V1981.4h-1.78zM1792.56 1958.4h2.96V1981.4h-2.96zM1799 1958.4h1.91V1981.4h-1.91zM1802.27 1958.4h1.5V1981.4h-1.5zM1804.12 1958.4h2.86V1981.4h-2.86zM1807.63 1958.4h2.52V1981.4h-2.52zM1810.78 1958.4h1.76V1981.4h-1.76zM1812.91 1958.4h1.98V1981.4h-1.98zM1815.1 1958.4h2.77V1981.4h-2.77zM1818.22 1958.4h1.42V1981.4h-1.42zM1820.05 1958.4h2.25V1981.4h-2.25zM1822.7 1958.4h0.93V1981.4h-0.93zM1824.2 1958.4h1.76V1981.4h-1.76zM1826.22 1958.4h2.08V1981.4h-2.08zM1830.19 1958.4h1.41V1981.4h-1.41zM1831.91 1958.4h1.71V1981.4h-1.71zM1837.7 1958.4h2.25V1981.4h-2.25zM1840.8 1958.4h1.96V1981.4h-1.96zM1843.49 1958.4h1.74V1981.4h-1.74z" fill="#000" fill-opacity="0.13"/>
<rect x="1397" y="1983.3" width="451.2" height="128.5" fill="#fff"/>
<path d="M1397 2010.1H1848.2M1397 2042.6H1848.2M1397 2075.5H1848.2M1397 2108H1848.2M1548.5 1983.3V2111.8M1699.7 1983.3V2111.8" stroke="#e7e7e7" stroke-width="2.3" fill="none"/>
<path d="M1397 2026.35H1848.2M1397 2058.85H1848.2M1397 2091.75H1848.2M1397 1993.85H1848.2M1472.9 1983.3V2111.8M1624.1 1983.3V2111.8M1775.3 1983.3V2111.8" stroke="#ebebeb" stroke-width="1.2" fill="none"/>
<path d="M1397 2075.5L1397 2045.23L1400.61 2058.66L1408.28 2065.24L1424.07 2068.26L1451.14 2070.63L1496.26 2072.74L1554.92 2074.32L1618.09 2075.5L1703.82 2077.34L1762.47 2079.18L1807.59 2082.08L1830.15 2085.76L1841.43 2091.82L1845.94 2097.35L1848.2 2106.43L1848.2 2075.5Z" fill="#bdbdbd"/>
<circle cx="1616.73" cy="2075.5" r="1.4" fill="#bdbdbd"/>
<rect x="1397" y="1655.4" width="451.2" height="243.2" fill="none" stroke="#000" stroke-width="1.9"/>
<rect x="1397" y="1899.5" width="451.2" height="82.85" fill="none" stroke="#000" stroke-width="1.9"/>
<rect x="1397" y="1983.3" width="451.2" height="128.5" fill="none" stroke="#000" stroke-width="1.9"/>
<path d="M1392.5 1681.5H1397M1392.5 1759.4H1397M1392.5 1837.3H1397M1392.5 2010.1H1397M1392.5 2042.6H1397M1392.5 2075.5H1397M1392.5 2108H1397M1548.5 2111.8V2116.3M1699.7 2111.8V2116.3" stroke="#111" stroke-width="1.3" fill="none"/>
<text x="1383.4" y="1687" font-size="15.6" text-anchor="end" fill="#111">0.4</text>
<text x="1383.4" y="1764.9" font-size="15.6" text-anchor="end" fill="#111">0.2</text>
<text x="1383.4" y="1842.8" font-size="15.6" text-anchor="end" fill="#111">0.0</text>
<text x="1383.4" y="2015.6" font-size="15.6" text-anchor="end" fill="#111">5.0</text>
<text x="1383.4" y="2048.1" font-size="15.6" text-anchor="end" fill="#111">2.5</text>
<text x="1383.4" y="2081" font-size="15.6" text-anchor="end" fill="#111">0.0</text>
<text x="1383.4" y="2113.5" font-size="15.6" text-anchor="end" fill="#111">−2.5</text>
<text x="1548.5" y="2137.6" font-size="15.6" text-anchor="middle" fill="#111">5000</text>
<text x="1699.7" y="2137.6" font-size="15.6" text-anchor="middle" fill="#111">10000</text>
<text x="1431.3" y="1649.7" font-size="19" textLength="381.9" lengthAdjust="spacingAndGlyphs">HALLMARK_TNFA_SIGNALING_VIA_NFKB</text>
<text font-size="19" text-anchor="middle" textLength="151.3" lengthAdjust="spacingAndGlyphs" transform="translate(1349.3 1778) rotate(-90)">Enrichment Score</text>
<text font-size="19" text-anchor="middle" textLength="151.2" lengthAdjust="spacingAndGlyphs" transform="translate(1339 2046.8) rotate(-90)">Ranked list metric</text>
<text x="1516.3" y="2162.1" font-size="19" textLength="211.8" lengthAdjust="spacingAndGlyphs">Rank in Ordered Dataset</text>
</svg>
</body></html>
